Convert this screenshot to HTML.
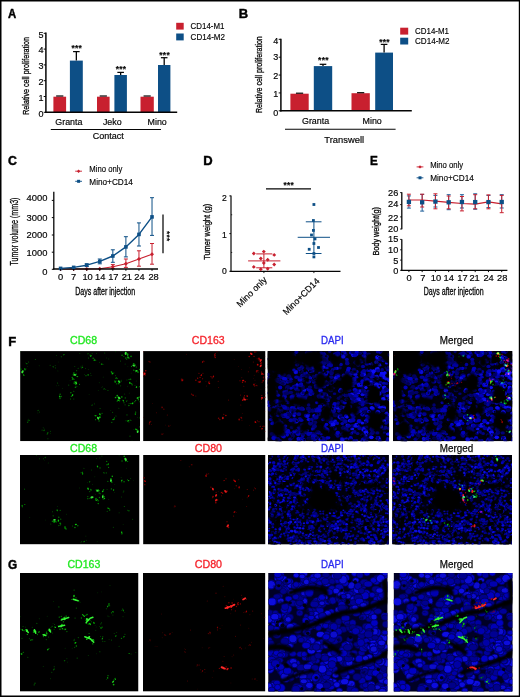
<!DOCTYPE html>
<html lang="en"><head><meta charset="utf-8"><title>Figure</title>
<style>html,body{margin:0;padding:0;background:#fff;overflow:hidden}svg{display:block}text{font-family:'Liberation Sans', Arial, Helvetica, sans-serif}</style></head>
<body>
<svg width="520" height="697" viewBox="0 0 520 697" font-family="'Liberation Sans', Arial, Helvetica, sans-serif" fill="#050505">
<rect width="520" height="697" fill="#fff"/>
<rect x="53.4" y="96.7" width="12.7" height="15.6" fill="#c8202f"/>
<rect x="69.9" y="60.6" width="12.9" height="51.7" fill="#0d4f86"/>
<line x1="56.15" y1="96" x2="63.35" y2="96" stroke="#050505" stroke-width="1.2"/>
<line x1="76.35" y1="60.6" x2="76.35" y2="51.6" stroke="#050505" stroke-width="1.3"/>
<line x1="73.05" y1="51.6" x2="79.65" y2="51.6" stroke="#050505" stroke-width="1.25"/>
<text x="76.8" y="50.8" font-size="8.4" text-anchor="middle" font-weight="bold" stroke="#050505" stroke-width=".18" letter-spacing="0.3">***</text>
<rect x="97" y="96.7" width="12.6" height="15.6" fill="#c8202f"/>
<rect x="114.4" y="75" width="12.5" height="37.3" fill="#0d4f86"/>
<line x1="99.7" y1="96" x2="106.9" y2="96" stroke="#050505" stroke-width="1.2"/>
<line x1="120.65" y1="75" x2="120.65" y2="72.4" stroke="#050505" stroke-width="1.3"/>
<line x1="117.35" y1="72.4" x2="123.95" y2="72.4" stroke="#050505" stroke-width="1.25"/>
<text x="121.1" y="71.8" font-size="8.4" text-anchor="middle" font-weight="bold" stroke="#050505" stroke-width=".18" letter-spacing="0.3">***</text>
<rect x="140.5" y="96.7" width="13.3" height="15.6" fill="#c8202f"/>
<rect x="158" y="65" width="12.4" height="47.3" fill="#0d4f86"/>
<line x1="143.55" y1="96" x2="150.75" y2="96" stroke="#050505" stroke-width="1.2"/>
<line x1="164.2" y1="65" x2="164.2" y2="57.7" stroke="#050505" stroke-width="1.3"/>
<line x1="160.9" y1="57.7" x2="167.5" y2="57.7" stroke="#050505" stroke-width="1.25"/>
<text x="164.65" y="57.8" font-size="8.4" text-anchor="middle" font-weight="bold" stroke="#050505" stroke-width=".18" letter-spacing="0.3">***</text>
<line x1="45.9" y1="32.6" x2="45.9" y2="113" stroke="#050505" stroke-width="1.5"/>
<line x1="45.2" y1="112.3" x2="177.2" y2="112.3" stroke="#050505" stroke-width="1.6"/>
<line x1="43.7" y1="112.3" x2="45.9" y2="112.3" stroke="#050505" stroke-width="1"/>
<text x="43.6" y="117.45" font-size="9" text-anchor="end" stroke="#050505" stroke-width=".18">0</text>
<line x1="43.7" y1="96.5" x2="45.9" y2="96.5" stroke="#050505" stroke-width="1"/>
<text x="43.6" y="101.15" font-size="9" text-anchor="end" stroke="#050505" stroke-width=".18">1</text>
<line x1="43.7" y1="80.7" x2="45.9" y2="80.7" stroke="#050505" stroke-width="1"/>
<text x="43.6" y="84.95" font-size="9" text-anchor="end" stroke="#050505" stroke-width=".18">2</text>
<line x1="43.7" y1="64.9" x2="45.9" y2="64.9" stroke="#050505" stroke-width="1"/>
<text x="43.6" y="68.75" font-size="9" text-anchor="end" stroke="#050505" stroke-width=".18">3</text>
<line x1="43.7" y1="49.1" x2="45.9" y2="49.1" stroke="#050505" stroke-width="1"/>
<text x="43.6" y="52.95" font-size="9" text-anchor="end" stroke="#050505" stroke-width=".18">4</text>
<line x1="43.7" y1="33.3" x2="45.9" y2="33.3" stroke="#050505" stroke-width="1"/>
<text x="43.6" y="38.05" font-size="9" text-anchor="end" stroke="#050505" stroke-width=".18">5</text>
<text x="28.6" y="114.8" font-size="9.5" textLength="77.8" lengthAdjust="spacingAndGlyphs" stroke="#050505" stroke-width=".3" transform="rotate(-90 28.6 114.8)">Relative cell proliferation</text>
<text x="68.9" y="124.5" font-size="8.9" text-anchor="middle" stroke="#050505" stroke-width=".18">Granta</text>
<text x="112.3" y="124.5" font-size="8.9" text-anchor="middle" stroke="#050505" stroke-width=".18">Jeko</text>
<text x="157.2" y="124.5" font-size="8.9" text-anchor="middle" stroke="#050505" stroke-width=".18">Mino</text>
<line x1="50.8" y1="129.5" x2="161" y2="129.5" stroke="#050505" stroke-width="1.1"/>
<text x="108.3" y="139.2" font-size="9" text-anchor="middle" stroke="#050505" stroke-width=".18">Contact</text>
<rect x="176.2" y="22.8" width="7.5" height="6.8" fill="#c8202f"/>
<rect x="176.2" y="33.5" width="7.5" height="6.9" fill="#0d4f86"/>
<text x="190.6" y="29.1" font-size="8.4" textLength="33.8" lengthAdjust="spacingAndGlyphs" stroke="#050505" stroke-width=".15">CD14-M1</text>
<text x="190.6" y="40.3" font-size="8.4" textLength="34.4" lengthAdjust="spacingAndGlyphs" stroke="#050505" stroke-width=".15">CD14-M2</text>
<rect x="290.4" y="93.7" width="18.3" height="17.1" fill="#c8202f"/>
<rect x="313.8" y="66.1" width="18.4" height="44.7" fill="#0d4f86"/>
<line x1="295.95" y1="93.2" x2="303.15" y2="93.2" stroke="#050505" stroke-width="1.2"/>
<line x1="323" y1="66.1" x2="323" y2="64.3" stroke="#050505" stroke-width="1.3"/>
<line x1="319.7" y1="64.3" x2="326.3" y2="64.3" stroke="#050505" stroke-width="1.25"/>
<text x="323.45" y="63.4" font-size="8.4" text-anchor="middle" font-weight="bold" stroke="#050505" stroke-width=".18" letter-spacing="0.3">***</text>
<rect x="351.5" y="93.2" width="18.3" height="17.6" fill="#c8202f"/>
<rect x="375.2" y="52.6" width="17.8" height="58.2" fill="#0d4f86"/>
<line x1="357.05" y1="92.7" x2="364.25" y2="92.7" stroke="#050505" stroke-width="1.2"/>
<line x1="384.1" y1="52.6" x2="384.1" y2="44.4" stroke="#050505" stroke-width="1.3"/>
<line x1="380.8" y1="44.4" x2="387.4" y2="44.4" stroke="#050505" stroke-width="1.25"/>
<text x="384.55" y="45.2" font-size="8.4" text-anchor="middle" font-weight="bold" stroke="#050505" stroke-width=".18" letter-spacing="0.3">***</text>
<line x1="280.9" y1="38.7" x2="280.9" y2="111.5" stroke="#050505" stroke-width="1.5"/>
<line x1="280.2" y1="110.8" x2="411.8" y2="110.8" stroke="#050505" stroke-width="1.5"/>
<line x1="278.7" y1="110.8" x2="280.9" y2="110.8" stroke="#050505" stroke-width="1"/>
<text x="278.2" y="115.75" font-size="9" text-anchor="end" stroke="#050505" stroke-width=".18">0</text>
<line x1="278.7" y1="92.93" x2="280.9" y2="92.93" stroke="#050505" stroke-width="1"/>
<text x="278.2" y="96.85" font-size="9" text-anchor="end" stroke="#050505" stroke-width=".18">1</text>
<line x1="278.7" y1="75.06" x2="280.9" y2="75.06" stroke="#050505" stroke-width="1"/>
<text x="278.2" y="78.85" font-size="9" text-anchor="end" stroke="#050505" stroke-width=".18">2</text>
<line x1="278.7" y1="57.19" x2="280.9" y2="57.19" stroke="#050505" stroke-width="1"/>
<text x="278.2" y="60.25" font-size="9" text-anchor="end" stroke="#050505" stroke-width=".18">3</text>
<line x1="278.7" y1="39.32" x2="280.9" y2="39.32" stroke="#050505" stroke-width="1"/>
<text x="278.2" y="44.05" font-size="9" text-anchor="end" stroke="#050505" stroke-width=".18">4</text>
<text x="262" y="113" font-size="8.5" textLength="76.8" lengthAdjust="spacingAndGlyphs" stroke="#050505" stroke-width=".3" transform="rotate(-90 262 113)">Relative cell proliferation</text>
<text x="315.6" y="124.3" font-size="8.9" text-anchor="middle" stroke="#050505" stroke-width=".18">Granta</text>
<text x="372.2" y="124.3" font-size="8.9" text-anchor="middle" stroke="#050505" stroke-width=".18">Mino</text>
<line x1="285" y1="129.3" x2="395.6" y2="129.3" stroke="#050505" stroke-width="1.1"/>
<text x="344.2" y="142.8" font-size="9.4" text-anchor="middle" stroke="#050505" stroke-width=".18">Transwell</text>
<rect x="400.2" y="27.7" width="8" height="6.9" fill="#c8202f"/>
<rect x="400.2" y="37.7" width="8" height="6.8" fill="#0d4f86"/>
<text x="415" y="33.8" font-size="8.6" textLength="34" lengthAdjust="spacingAndGlyphs" stroke="#050505" stroke-width=".15">CD14-M1</text>
<text x="415" y="44.2" font-size="8.6" textLength="34.6" lengthAdjust="spacingAndGlyphs" stroke="#050505" stroke-width=".15">CD14-M2</text>
<line x1="112.84" y1="264.6" x2="112.84" y2="268.6" stroke="#c8202f" stroke-width="1"/>
<line x1="110.84" y1="264.6" x2="114.84" y2="264.6" stroke="#c8202f" stroke-width="1"/>
<line x1="110.84" y1="268.6" x2="114.84" y2="268.6" stroke="#c8202f" stroke-width="1"/>
<line x1="125.9" y1="259" x2="125.9" y2="267.4" stroke="#c8202f" stroke-width="1"/>
<line x1="123.9" y1="259" x2="127.9" y2="259" stroke="#c8202f" stroke-width="1"/>
<line x1="123.9" y1="267.4" x2="127.9" y2="267.4" stroke="#c8202f" stroke-width="1"/>
<line x1="138.96" y1="250.8" x2="138.96" y2="266.2" stroke="#c8202f" stroke-width="1"/>
<line x1="136.96" y1="250.8" x2="140.96" y2="250.8" stroke="#c8202f" stroke-width="1"/>
<line x1="136.96" y1="266.2" x2="140.96" y2="266.2" stroke="#c8202f" stroke-width="1"/>
<line x1="152.02" y1="243.5" x2="152.02" y2="264.2" stroke="#c8202f" stroke-width="1"/>
<line x1="150.02" y1="243.5" x2="154.02" y2="243.5" stroke="#c8202f" stroke-width="1"/>
<line x1="150.02" y1="264.2" x2="154.02" y2="264.2" stroke="#c8202f" stroke-width="1"/>
<polyline points="60.6,269 73.66,269 86.72,269 99.78,268.8 112.84,266.7 125.9,263.7 138.96,259 152.02,254.2" fill="none" stroke="#c8202f" stroke-width="1.1" stroke-linejoin="round"/>
<path d="M60.6 267L62.6 269L60.6 271L58.6 269Z" fill="#c8202f"/>
<path d="M73.66 267L75.66 269L73.66 271L71.66 269Z" fill="#c8202f"/>
<path d="M86.72 267L88.72 269L86.72 271L84.72 269Z" fill="#c8202f"/>
<path d="M99.78 266.8L101.78 268.8L99.78 270.8L97.78 268.8Z" fill="#c8202f"/>
<path d="M112.84 264.7L114.84 266.7L112.84 268.7L110.84 266.7Z" fill="#c8202f"/>
<path d="M125.9 261.7L127.9 263.7L125.9 265.7L123.9 263.7Z" fill="#c8202f"/>
<path d="M138.96 257L140.96 259L138.96 261L136.96 259Z" fill="#c8202f"/>
<path d="M152.02 252.2L154.02 254.2L152.02 256.2L150.02 254.2Z" fill="#c8202f"/>
<line x1="53.8" y1="191.8" x2="53.8" y2="269.6" stroke="#050505" stroke-width="1.3"/>
<line x1="53.2" y1="269" x2="158" y2="269" stroke="#050505" stroke-width="1.3"/>
<line x1="86.72" y1="263.8" x2="86.72" y2="266.6" stroke="#0d4f86" stroke-width="1"/>
<line x1="84.72" y1="263.8" x2="88.72" y2="263.8" stroke="#0d4f86" stroke-width="1"/>
<line x1="84.72" y1="266.6" x2="88.72" y2="266.6" stroke="#0d4f86" stroke-width="1"/>
<line x1="99.78" y1="259" x2="99.78" y2="263.8" stroke="#0d4f86" stroke-width="1"/>
<line x1="97.78" y1="259" x2="101.78" y2="259" stroke="#0d4f86" stroke-width="1"/>
<line x1="97.78" y1="263.8" x2="101.78" y2="263.8" stroke="#0d4f86" stroke-width="1"/>
<line x1="112.84" y1="249.8" x2="112.84" y2="262.3" stroke="#0d4f86" stroke-width="1"/>
<line x1="110.84" y1="249.8" x2="114.84" y2="249.8" stroke="#0d4f86" stroke-width="1"/>
<line x1="110.84" y1="262.3" x2="114.84" y2="262.3" stroke="#0d4f86" stroke-width="1"/>
<line x1="125.9" y1="236.7" x2="125.9" y2="256.9" stroke="#0d4f86" stroke-width="1"/>
<line x1="123.9" y1="236.7" x2="127.9" y2="236.7" stroke="#0d4f86" stroke-width="1"/>
<line x1="123.9" y1="256.9" x2="127.9" y2="256.9" stroke="#0d4f86" stroke-width="1"/>
<line x1="138.96" y1="222.9" x2="138.96" y2="246" stroke="#0d4f86" stroke-width="1"/>
<line x1="136.96" y1="222.9" x2="140.96" y2="222.9" stroke="#0d4f86" stroke-width="1"/>
<line x1="136.96" y1="246" x2="140.96" y2="246" stroke="#0d4f86" stroke-width="1"/>
<line x1="152.02" y1="197.7" x2="152.02" y2="235.4" stroke="#0d4f86" stroke-width="1"/>
<line x1="150.02" y1="197.7" x2="154.02" y2="197.7" stroke="#0d4f86" stroke-width="1"/>
<line x1="150.02" y1="235.4" x2="154.02" y2="235.4" stroke="#0d4f86" stroke-width="1"/>
<polyline points="60.6,268.4 73.66,267.4 86.72,265.2 99.78,261.4 112.84,256 125.9,246.9 138.96,234.4 152.02,216.9" fill="none" stroke="#0d4f86" stroke-width="1.4" stroke-linejoin="round"/>
<rect x="58.8" y="266.6" width="3.6" height="3.6" fill="#0d4f86"/>
<rect x="71.86" y="265.6" width="3.6" height="3.6" fill="#0d4f86"/>
<rect x="84.92" y="263.4" width="3.6" height="3.6" fill="#0d4f86"/>
<rect x="97.98" y="259.6" width="3.6" height="3.6" fill="#0d4f86"/>
<rect x="111.04" y="254.2" width="3.6" height="3.6" fill="#0d4f86"/>
<rect x="124.1" y="245.1" width="3.6" height="3.6" fill="#0d4f86"/>
<rect x="137.16" y="232.6" width="3.6" height="3.6" fill="#0d4f86"/>
<rect x="150.22" y="215.1" width="3.6" height="3.6" fill="#0d4f86"/>
<line x1="51.8" y1="269.3" x2="53.8" y2="269.3" stroke="#050505" stroke-width="1"/>
<text x="47.4" y="274.5" font-size="9.4" text-anchor="end" stroke="#050505" stroke-width=".18">0</text>
<line x1="51.8" y1="252.2" x2="53.8" y2="252.2" stroke="#050505" stroke-width="1"/>
<text x="47.4" y="256" font-size="9.4" text-anchor="end" stroke="#050505" stroke-width=".18">1000</text>
<line x1="51.8" y1="235" x2="53.8" y2="235" stroke="#050505" stroke-width="1"/>
<text x="47.4" y="238.3" font-size="9.4" text-anchor="end" stroke="#050505" stroke-width=".18">2000</text>
<line x1="51.8" y1="217.6" x2="53.8" y2="217.6" stroke="#050505" stroke-width="1"/>
<text x="47.4" y="221.1" font-size="9.4" text-anchor="end" stroke="#050505" stroke-width=".18">3000</text>
<line x1="51.8" y1="200.4" x2="53.8" y2="200.4" stroke="#050505" stroke-width="1"/>
<text x="47.4" y="201.1" font-size="9.4" text-anchor="end" stroke="#050505" stroke-width=".18">4000</text>
<line x1="60.6" y1="269" x2="60.6" y2="270.8" stroke="#050505" stroke-width="1"/>
<text x="60.7" y="280" font-size="9.3" text-anchor="middle" stroke="#050505" stroke-width=".18">0</text>
<line x1="73.66" y1="269" x2="73.66" y2="270.8" stroke="#050505" stroke-width="1"/>
<text x="73.6" y="280" font-size="9.3" text-anchor="middle" stroke="#050505" stroke-width=".18">7</text>
<line x1="86.72" y1="269" x2="86.72" y2="270.8" stroke="#050505" stroke-width="1"/>
<text x="87.6" y="280" font-size="9.3" text-anchor="middle" stroke="#050505" stroke-width=".18">10</text>
<line x1="99.78" y1="269" x2="99.78" y2="270.8" stroke="#050505" stroke-width="1"/>
<text x="100.2" y="280" font-size="9.3" text-anchor="middle" stroke="#050505" stroke-width=".18">14</text>
<line x1="112.84" y1="269" x2="112.84" y2="270.8" stroke="#050505" stroke-width="1"/>
<text x="113.3" y="280" font-size="9.3" text-anchor="middle" stroke="#050505" stroke-width=".18">17</text>
<line x1="125.9" y1="269" x2="125.9" y2="270.8" stroke="#050505" stroke-width="1"/>
<text x="126.8" y="280" font-size="9.3" text-anchor="middle" stroke="#050505" stroke-width=".18">21</text>
<line x1="138.96" y1="269" x2="138.96" y2="270.8" stroke="#050505" stroke-width="1"/>
<text x="139.5" y="280" font-size="9.3" text-anchor="middle" stroke="#050505" stroke-width=".18">24</text>
<line x1="152.02" y1="269" x2="152.02" y2="270.8" stroke="#050505" stroke-width="1"/>
<text x="153.6" y="280" font-size="9.3" text-anchor="middle" stroke="#050505" stroke-width=".18">28</text>
<text x="18.1" y="265.5" font-size="10.5" textLength="68" lengthAdjust="spacingAndGlyphs" stroke="#050505" stroke-width=".3" transform="rotate(-90 18.1 265.5)">Tumor volume (mm3)</text>
<text x="75.2" y="294.9" font-size="10.8" textLength="60" lengthAdjust="spacingAndGlyphs" stroke="#050505" stroke-width=".3">Days after injection</text>
<line x1="163" y1="214.4" x2="163" y2="253.2" stroke="#222" stroke-width="1.4"/>
<text x="0" y="0" font-size="8.4" text-anchor="middle" font-weight="bold" letter-spacing="0.3" transform="translate(168.6 236.3) rotate(90) translate(0 4.2)">***</text>
<line x1="75.2" y1="171.2" x2="82" y2="171.2" stroke="#c8202f" stroke-width="0.9"/>
<path d="M78.6 169.5L80.3 171.2L78.6 172.9L76.9 171.2Z" fill="#c8202f"/>
<line x1="75.2" y1="181.3" x2="82" y2="181.3" stroke="#0d4f86" stroke-width="0.9"/>
<rect x="77.1" y="179.8" width="3" height="3" fill="#0d4f86"/>
<text x="89.3" y="172.2" font-size="8.6" textLength="33" lengthAdjust="spacingAndGlyphs" stroke="#050505" stroke-width=".15">Mino only</text>
<text x="89.3" y="184.6" font-size="8.6" textLength="43.6" lengthAdjust="spacingAndGlyphs" stroke="#050505" stroke-width=".15">Mino+CD14</text>
<line x1="231" y1="195.6" x2="231" y2="271.9" stroke="#050505" stroke-width="1.2"/>
<line x1="230.4" y1="271.3" x2="340.5" y2="271.3" stroke="#050505" stroke-width="1.2"/>
<line x1="229.3" y1="271.3" x2="231" y2="271.3" stroke="#050505" stroke-width="0.9"/>
<text x="226.8" y="274.2" font-size="8.6" text-anchor="end" stroke="#050505" stroke-width=".18">0</text>
<line x1="229.3" y1="233.6" x2="231" y2="233.6" stroke="#050505" stroke-width="0.9"/>
<text x="226.8" y="237.6" font-size="8.6" text-anchor="end" stroke="#050505" stroke-width=".18">1</text>
<line x1="229.3" y1="195.9" x2="231" y2="195.9" stroke="#050505" stroke-width="0.9"/>
<text x="226.8" y="201" font-size="8.6" text-anchor="end" stroke="#050505" stroke-width=".18">2</text>
<line x1="231" y1="252.45" x2="232.2" y2="252.45" stroke="#050505" stroke-width="0.8"/>
<line x1="231" y1="214.75" x2="232.2" y2="214.75" stroke="#050505" stroke-width="0.8"/>
<line x1="263.9" y1="271.3" x2="263.9" y2="273.1" stroke="#050505" stroke-width="0.9"/>
<line x1="313.9" y1="271.3" x2="313.9" y2="273.1" stroke="#050505" stroke-width="0.9"/>
<text x="209.6" y="259.8" font-size="9.9" textLength="56" lengthAdjust="spacingAndGlyphs" stroke="#050505" stroke-width=".3" transform="rotate(-90 209.6 259.8)">Tumer weight (g)</text>
<line x1="266" y1="188.8" x2="311" y2="188.8" stroke="#050505" stroke-width="1.3"/>
<text x="288.75" y="188.2" font-size="8.2" text-anchor="middle" font-weight="bold" stroke="#050505" stroke-width=".18" letter-spacing="0.3">***</text>
<line x1="248.1" y1="260.9" x2="280.4" y2="260.9" stroke="#c8202f" stroke-width="1"/>
<line x1="263.9" y1="253.9" x2="263.9" y2="267.8" stroke="#c8202f" stroke-width="1"/>
<line x1="256.2" y1="253.9" x2="272.3" y2="253.9" stroke="#c8202f" stroke-width="1"/>
<line x1="256.2" y1="267.8" x2="272.3" y2="267.8" stroke="#c8202f" stroke-width="1"/>
<path d="M253.8 251.55L255.75 253.5L253.8 255.45L251.85 253.5Z" fill="#c8202f"/>
<path d="M263.8 249.65L265.75 251.6L263.8 253.55L261.85 251.6Z" fill="#c8202f"/>
<path d="M274.2 252.95L276.15 254.9L274.2 256.85L272.25 254.9Z" fill="#c8202f"/>
<path d="M260.8 256.55L262.75 258.5L260.8 260.45L258.85 258.5Z" fill="#c8202f"/>
<path d="M267.7 257.75L269.65 259.7L267.7 261.65L265.75 259.7Z" fill="#c8202f"/>
<path d="M274.2 262.55L276.15 264.5L274.2 266.45L272.25 264.5Z" fill="#c8202f"/>
<path d="M253.8 264.95L255.75 266.9L253.8 268.85L251.85 266.9Z" fill="#c8202f"/>
<path d="M260.8 267.25L262.75 269.2L260.8 271.15L258.85 269.2Z" fill="#c8202f"/>
<path d="M267.7 266.75L269.65 268.7L267.7 270.65L265.75 268.7Z" fill="#c8202f"/>
<path d="M263.8 261.05L265.75 263L263.8 264.95L261.85 263Z" fill="#c8202f"/>
<line x1="297.7" y1="237.3" x2="330" y2="237.3" stroke="#0d4f86" stroke-width="1"/>
<line x1="313.9" y1="221.8" x2="313.9" y2="253.5" stroke="#0d4f86" stroke-width="1"/>
<line x1="305.8" y1="221.8" x2="321.5" y2="221.8" stroke="#0d4f86" stroke-width="1"/>
<line x1="305.8" y1="253.5" x2="321.5" y2="253.5" stroke="#0d4f86" stroke-width="1"/>
<rect x="312.5" y="203.1" width="2.8" height="2.8" fill="#0d4f86"/>
<rect x="312" y="219.1" width="2.8" height="2.8" fill="#0d4f86"/>
<rect x="312" y="229" width="2.8" height="2.8" fill="#0d4f86"/>
<rect x="310.1" y="233.6" width="2.8" height="2.8" fill="#0d4f86"/>
<rect x="313.6" y="237.5" width="2.8" height="2.8" fill="#0d4f86"/>
<rect x="312.5" y="242.1" width="2.8" height="2.8" fill="#0d4f86"/>
<rect x="317.1" y="246.1" width="2.8" height="2.8" fill="#0d4f86"/>
<rect x="307.8" y="247.9" width="2.8" height="2.8" fill="#0d4f86"/>
<rect x="312.5" y="252.1" width="2.8" height="2.8" fill="#0d4f86"/>
<rect x="312.5" y="255.5" width="2.8" height="2.8" fill="#0d4f86"/>
<text x="267.4" y="280.4" font-size="9" text-anchor="end" transform="rotate(-45 267.4 280.4)" stroke="#050505" stroke-width=".18">Mino only</text>
<text x="320.2" y="281.6" font-size="9" text-anchor="end" transform="rotate(-45 320.2 281.6)" stroke="#050505" stroke-width=".18">Mino+CD14</text>
<line x1="408.9" y1="195.9" x2="408.9" y2="208.1" stroke="#1f5f99" stroke-width="1"/>
<line x1="406.9" y1="195.9" x2="410.9" y2="195.9" stroke="#1f5f99" stroke-width="1"/>
<line x1="406.9" y1="208.1" x2="410.9" y2="208.1" stroke="#1f5f99" stroke-width="1"/>
<line x1="422.16" y1="194.4" x2="422.16" y2="211.1" stroke="#1f5f99" stroke-width="1"/>
<line x1="420.16" y1="194.4" x2="424.16" y2="194.4" stroke="#1f5f99" stroke-width="1"/>
<line x1="420.16" y1="211.1" x2="424.16" y2="211.1" stroke="#1f5f99" stroke-width="1"/>
<line x1="435.42" y1="195.4" x2="435.42" y2="207" stroke="#1f5f99" stroke-width="1"/>
<line x1="433.42" y1="195.4" x2="437.42" y2="195.4" stroke="#1f5f99" stroke-width="1"/>
<line x1="433.42" y1="207" x2="437.42" y2="207" stroke="#1f5f99" stroke-width="1"/>
<line x1="448.68" y1="194.7" x2="448.68" y2="209.7" stroke="#1f5f99" stroke-width="1"/>
<line x1="446.68" y1="194.7" x2="450.68" y2="194.7" stroke="#1f5f99" stroke-width="1"/>
<line x1="446.68" y1="209.7" x2="450.68" y2="209.7" stroke="#1f5f99" stroke-width="1"/>
<line x1="461.94" y1="194.7" x2="461.94" y2="208" stroke="#1f5f99" stroke-width="1"/>
<line x1="459.94" y1="194.7" x2="463.94" y2="194.7" stroke="#1f5f99" stroke-width="1"/>
<line x1="459.94" y1="208" x2="463.94" y2="208" stroke="#1f5f99" stroke-width="1"/>
<line x1="475.2" y1="193.8" x2="475.2" y2="209.2" stroke="#1f5f99" stroke-width="1"/>
<line x1="473.2" y1="193.8" x2="477.2" y2="193.8" stroke="#1f5f99" stroke-width="1"/>
<line x1="473.2" y1="209.2" x2="477.2" y2="209.2" stroke="#1f5f99" stroke-width="1"/>
<line x1="488.46" y1="195.4" x2="488.46" y2="207.6" stroke="#1f5f99" stroke-width="1"/>
<line x1="486.46" y1="195.4" x2="490.46" y2="195.4" stroke="#1f5f99" stroke-width="1"/>
<line x1="486.46" y1="207.6" x2="490.46" y2="207.6" stroke="#1f5f99" stroke-width="1"/>
<line x1="501.72" y1="194.7" x2="501.72" y2="208" stroke="#1f5f99" stroke-width="1"/>
<line x1="499.72" y1="194.7" x2="503.72" y2="194.7" stroke="#1f5f99" stroke-width="1"/>
<line x1="499.72" y1="208" x2="503.72" y2="208" stroke="#1f5f99" stroke-width="1"/>
<line x1="408.9" y1="194.2" x2="408.9" y2="205.8" stroke="#c8202f" stroke-width="1"/>
<line x1="406.9" y1="194.2" x2="410.9" y2="194.2" stroke="#c8202f" stroke-width="1"/>
<line x1="406.9" y1="205.8" x2="410.9" y2="205.8" stroke="#c8202f" stroke-width="1"/>
<line x1="422.16" y1="194.2" x2="422.16" y2="207" stroke="#c8202f" stroke-width="1"/>
<line x1="420.16" y1="194.2" x2="424.16" y2="194.2" stroke="#c8202f" stroke-width="1"/>
<line x1="420.16" y1="207" x2="424.16" y2="207" stroke="#c8202f" stroke-width="1"/>
<line x1="435.42" y1="193.8" x2="435.42" y2="208.8" stroke="#c8202f" stroke-width="1"/>
<line x1="433.42" y1="193.8" x2="437.42" y2="193.8" stroke="#c8202f" stroke-width="1"/>
<line x1="433.42" y1="208.8" x2="437.42" y2="208.8" stroke="#c8202f" stroke-width="1"/>
<line x1="448.68" y1="196" x2="448.68" y2="208.8" stroke="#c8202f" stroke-width="1"/>
<line x1="446.68" y1="196" x2="450.68" y2="196" stroke="#c8202f" stroke-width="1"/>
<line x1="446.68" y1="208.8" x2="450.68" y2="208.8" stroke="#c8202f" stroke-width="1"/>
<line x1="461.94" y1="196.5" x2="461.94" y2="210.9" stroke="#c8202f" stroke-width="1"/>
<line x1="459.94" y1="196.5" x2="463.94" y2="196.5" stroke="#c8202f" stroke-width="1"/>
<line x1="459.94" y1="210.9" x2="463.94" y2="210.9" stroke="#c8202f" stroke-width="1"/>
<line x1="475.2" y1="194.7" x2="475.2" y2="208.8" stroke="#c8202f" stroke-width="1"/>
<line x1="473.2" y1="194.7" x2="477.2" y2="194.7" stroke="#c8202f" stroke-width="1"/>
<line x1="473.2" y1="208.8" x2="477.2" y2="208.8" stroke="#c8202f" stroke-width="1"/>
<line x1="488.46" y1="194.9" x2="488.46" y2="208.8" stroke="#c8202f" stroke-width="1"/>
<line x1="486.46" y1="194.9" x2="490.46" y2="194.9" stroke="#c8202f" stroke-width="1"/>
<line x1="486.46" y1="208.8" x2="490.46" y2="208.8" stroke="#c8202f" stroke-width="1"/>
<line x1="501.72" y1="195.4" x2="501.72" y2="212.7" stroke="#c8202f" stroke-width="1"/>
<line x1="499.72" y1="195.4" x2="503.72" y2="195.4" stroke="#c8202f" stroke-width="1"/>
<line x1="499.72" y1="212.7" x2="503.72" y2="212.7" stroke="#c8202f" stroke-width="1"/>
<polyline points="408.9,200 422.16,200 435.42,201.2 448.68,202.3 461.94,203.5 475.2,204.2 488.46,201.9 501.72,203.9" fill="none" stroke="#c8202f" stroke-width="1.2" stroke-linejoin="round"/>
<rect x="406.75" y="199.75" width="4.3" height="4.3" fill="#0d4f86"/>
<rect x="420.01" y="200.15" width="4.3" height="4.3" fill="#0d4f86"/>
<rect x="433.27" y="199.45" width="4.3" height="4.3" fill="#0d4f86"/>
<rect x="446.53" y="200.15" width="4.3" height="4.3" fill="#0d4f86"/>
<rect x="459.79" y="199.85" width="4.3" height="4.3" fill="#0d4f86"/>
<rect x="473.05" y="199.95" width="4.3" height="4.3" fill="#0d4f86"/>
<rect x="486.31" y="199.95" width="4.3" height="4.3" fill="#0d4f86"/>
<rect x="499.57" y="199.85" width="4.3" height="4.3" fill="#0d4f86"/>
<line x1="401.8" y1="192.2" x2="401.8" y2="229.2" stroke="#050505" stroke-width="1.3"/>
<line x1="401.8" y1="239.2" x2="401.8" y2="270.9" stroke="#050505" stroke-width="1.3"/>
<line x1="401.2" y1="270.3" x2="507.4" y2="270.3" stroke="#050505" stroke-width="1.3"/>
<line x1="400.1" y1="192.6" x2="401.8" y2="192.6" stroke="#050505" stroke-width="0.9"/>
<line x1="400.1" y1="204.6" x2="401.8" y2="204.6" stroke="#050505" stroke-width="0.9"/>
<line x1="400.1" y1="216.9" x2="401.8" y2="216.9" stroke="#050505" stroke-width="0.9"/>
<line x1="400.1" y1="229" x2="401.8" y2="229" stroke="#050505" stroke-width="0.9"/>
<line x1="400.1" y1="239.4" x2="401.8" y2="239.4" stroke="#050505" stroke-width="0.9"/>
<line x1="400.1" y1="249.8" x2="401.8" y2="249.8" stroke="#050505" stroke-width="0.9"/>
<line x1="400.1" y1="260.1" x2="401.8" y2="260.1" stroke="#050505" stroke-width="0.9"/>
<line x1="400.1" y1="270.3" x2="401.8" y2="270.3" stroke="#050505" stroke-width="0.9"/>
<text x="398.3" y="196.2" font-size="9.2" text-anchor="end" stroke="#050505" stroke-width=".18">26</text>
<text x="398.3" y="206.9" font-size="9.2" text-anchor="end" stroke="#050505" stroke-width=".18">24</text>
<text x="398.3" y="221.3" font-size="9.2" text-anchor="end" stroke="#050505" stroke-width=".18">22</text>
<text x="398.3" y="232.4" font-size="9.2" text-anchor="end" stroke="#050505" stroke-width=".18">20</text>
<text x="398.3" y="241.9" font-size="9.2" text-anchor="end" stroke="#050505" stroke-width=".18">15</text>
<text x="398.3" y="253.3" font-size="9.2" text-anchor="end" stroke="#050505" stroke-width=".18">10</text>
<text x="398.3" y="263.6" font-size="9.2" text-anchor="end" stroke="#050505" stroke-width=".18">5</text>
<text x="398.3" y="273.7" font-size="9.2" text-anchor="end" stroke="#050505" stroke-width=".18">0</text>
<line x1="408.9" y1="270.3" x2="408.9" y2="272.1" stroke="#050505" stroke-width="1"/>
<text x="409.2" y="281.4" font-size="9.3" text-anchor="middle" stroke="#050505" stroke-width=".18">0</text>
<line x1="422.16" y1="270.3" x2="422.16" y2="272.1" stroke="#050505" stroke-width="1"/>
<text x="422.9" y="281.4" font-size="9.3" text-anchor="middle" stroke="#050505" stroke-width=".18">7</text>
<line x1="435.42" y1="270.3" x2="435.42" y2="272.1" stroke="#050505" stroke-width="1"/>
<text x="436" y="281.4" font-size="9.3" text-anchor="middle" stroke="#050505" stroke-width=".18">10</text>
<line x1="448.68" y1="270.3" x2="448.68" y2="272.1" stroke="#050505" stroke-width="1"/>
<text x="448.7" y="281.4" font-size="9.3" text-anchor="middle" stroke="#050505" stroke-width=".18">14</text>
<line x1="461.94" y1="270.3" x2="461.94" y2="272.1" stroke="#050505" stroke-width="1"/>
<text x="462.4" y="281.4" font-size="9.3" text-anchor="middle" stroke="#050505" stroke-width=".18">17</text>
<line x1="475.2" y1="270.3" x2="475.2" y2="272.1" stroke="#050505" stroke-width="1"/>
<text x="474.6" y="281.4" font-size="9.3" text-anchor="middle" stroke="#050505" stroke-width=".18">21</text>
<line x1="488.46" y1="270.3" x2="488.46" y2="272.1" stroke="#050505" stroke-width="1"/>
<text x="488.6" y="281.4" font-size="9.3" text-anchor="middle" stroke="#050505" stroke-width=".18">24</text>
<line x1="501.72" y1="270.3" x2="501.72" y2="272.1" stroke="#050505" stroke-width="1"/>
<text x="502.2" y="281.4" font-size="9.3" text-anchor="middle" stroke="#050505" stroke-width=".18">28</text>
<text x="379.1" y="255.5" font-size="8.7" textLength="48.4" lengthAdjust="spacingAndGlyphs" stroke="#050505" stroke-width=".3" transform="rotate(-90 379.1 255.5)">Body weight(g)</text>
<text x="423.7" y="294.8" font-size="10.8" textLength="60" lengthAdjust="spacingAndGlyphs" stroke="#050505" stroke-width=".3">Days after injection</text>
<line x1="416.6" y1="166.9" x2="423.4" y2="166.9" stroke="#c8202f" stroke-width="0.9"/>
<path d="M420 165.2L421.7 166.9L420 168.6L418.3 166.9Z" fill="#c8202f"/>
<line x1="416.6" y1="177.8" x2="423.4" y2="177.8" stroke="#0d4f86" stroke-width="0.9"/>
<rect x="418.5" y="176.3" width="3" height="3" fill="#0d4f86"/>
<text x="430.2" y="167.8" font-size="8.6" textLength="33" lengthAdjust="spacingAndGlyphs" stroke="#050505" stroke-width=".15">Mino only</text>
<text x="430.2" y="180.6" font-size="8.6" textLength="43.6" lengthAdjust="spacingAndGlyphs" stroke="#050505" stroke-width=".15">Mino+CD14</text>
<defs>
<filter id="bl4" x="-5%" y="-5%" width="110%" height="110%"><feGaussianBlur stdDeviation=".4"/></filter>
<filter id="bl6" x="-5%" y="-5%" width="110%" height="110%"><feGaussianBlur stdDeviation=".6"/></filter>
<filter id="bl8" x="-5%" y="-5%" width="110%" height="110%"><feGaussianBlur stdDeviation=".85"/></filter>
<filter id="bl12" x="-10%" y="-10%" width="120%" height="120%"><feGaussianBlur stdDeviation="1.3"/></filter>
<filter id="bl20" x="-10%" y="-10%" width="120%" height="120%"><feGaussianBlur stdDeviation="2.2"/></filter>
<filter id="tF3" x="0" y="0" width="100%" height="100%" color-interpolation-filters="sRGB"><feTurbulence type="fractalNoise" baseFrequency="0.07" numOctaves="3" seed="7"/><feColorMatrix type="matrix" values="0 0 0 0 0 0 0 0 0 0 0 0 0 0 0 8 0 0 0 -4.5"/></filter>
<filter id="tF7" x="0" y="0" width="100%" height="100%" color-interpolation-filters="sRGB"><feTurbulence type="fractalNoise" baseFrequency="0.15" numOctaves="2" seed="4"/><feColorMatrix type="matrix" values="0 0 0 0 0 0 0 0 0 0 0 0 0 0 0 7 0 0 0 -3.9"/></filter>
<filter id="tG3" x="0" y="0" width="100%" height="100%" color-interpolation-filters="sRGB"><feTurbulence type="fractalNoise" baseFrequency="0.09" numOctaves="2" seed="9"/><feColorMatrix type="matrix" values="0 0 0 0 0 0 0 0 0 0 0 0 0 0 0 7 0 0 0 -4.9"/></filter>
<g id="sF1" filter="url(#bl4)">
<ellipse cx="2.4" cy="20.7" rx="1.64" ry="1.05" fill="#35e635" transform="rotate(115 2.4 20.7)"/>
<circle cx="4.72" cy="17.77" r="0.68" fill="#0ab70a"/>
<circle cx="3.8" cy="24.24" r="0.69" fill="#08a408"/>
<circle cx="3.45" cy="23.18" r="0.56" fill="#089e08"/>
<circle cx="4.93" cy="18.62" r="0.74" fill="#079307"/>
<circle cx="0.49" cy="18.07" r="0.83" fill="#057905"/>
<ellipse cx="6.72" cy="12.6" rx="0.82" ry="0.52" fill="#078e07" transform="rotate(9 6.72 12.6)"/>
<circle cx="8.49" cy="10.93" r="0.53" fill="#036203"/>
<circle cx="5.48" cy="11.81" r="0.39" fill="#036103"/>
<ellipse cx="54.6" cy="23.76" rx="1.54" ry="0.98" fill="#35e635" transform="rotate(1 54.6 23.76)"/>
<circle cx="57.48" cy="25.46" r="0.66" fill="#089f08"/>
<circle cx="56.02" cy="23.11" r="0.6" fill="#09af09"/>
<circle cx="53.21" cy="23.65" r="0.73" fill="#057c05"/>
<circle cx="56.32" cy="25.14" r="0.53" fill="#057505"/>
<circle cx="53.82" cy="21.96" r="0.87" fill="#057805"/>
<circle cx="52.11" cy="26.24" r="0.67" fill="#08a008"/>
<ellipse cx="55.92" cy="31.86" rx="1.43" ry="0.92" fill="#20d420" transform="rotate(50 55.92 31.86)"/>
<circle cx="55.73" cy="33.42" r="0.63" fill="#09b209"/>
<circle cx="56" cy="30.19" r="0.6" fill="#047504"/>
<circle cx="59.44" cy="33.25" r="0.57" fill="#079507"/>
<circle cx="54.13" cy="32.47" r="0.79" fill="#057705"/>
<circle cx="54.89" cy="30.55" r="0.67" fill="#057d05"/>
<circle cx="55.38" cy="36.16" r="0.82" fill="#068306"/>
<ellipse cx="52.8" cy="27.9" rx="1.02" ry="0.66" fill="#09b109" transform="rotate(5 52.8 27.9)"/>
<circle cx="54.1" cy="31.03" r="0.61" fill="#058105"/>
<circle cx="54.1" cy="28.25" r="0.55" fill="#036203"/>
<ellipse cx="70.8" cy="4.86" rx="1.02" ry="0.66" fill="#0bc30b" transform="rotate(156 70.8 4.86)"/>
<circle cx="72.01" cy="2.67" r="0.43" fill="#047504"/>
<circle cx="69.92" cy="3.84" r="0.53" fill="#078f07"/>
<circle cx="72.98" cy="7.11" r="0.68" fill="#047004"/>
<circle cx="68.34" cy="7" r="0.51" fill="#057605"/>
<circle cx="68.06" cy="2.58" r="0.46" fill="#078f07"/>
<ellipse cx="74.4" cy="9" rx="1.02" ry="0.66" fill="#09b109" transform="rotate(141 74.4 9)"/>
<circle cx="73.65" cy="7.22" r="0.57" fill="#036603"/>
<circle cx="75.61" cy="9.37" r="0.58" fill="#046f04"/>
<ellipse cx="105.6" cy="2.16" rx="1.64" ry="1.05" fill="#35e635" transform="rotate(100 105.6 2.16)"/>
<circle cx="101.98" cy="4.13" r="0.7" fill="#089d08"/>
<circle cx="107.56" cy="4.15" r="0.76" fill="#08a408"/>
<circle cx="107.35" cy="3.04" r="0.87" fill="#09af09"/>
<circle cx="107.94" cy="3.25" r="0.6" fill="#057705"/>
<ellipse cx="108" cy="6.3" rx="1.23" ry="0.79" fill="#0bc30b" transform="rotate(72 108 6.3)"/>
<circle cx="103.75" cy="5.46" r="0.53" fill="#047004"/>
<circle cx="105.78" cy="7.02" r="0.78" fill="#068806"/>
<circle cx="110.97" cy="5.27" r="0.86" fill="#068506"/>
<circle cx="106.58" cy="8.07" r="0.51" fill="#068d06"/>
<circle cx="109.35" cy="6.98" r="0.61" fill="#047004"/>
<ellipse cx="113.76" cy="14.4" rx="1.54" ry="0.98" fill="#35e635" transform="rotate(18 113.76 14.4)"/>
<circle cx="111.42" cy="15.11" r="0.52" fill="#0abd0a"/>
<circle cx="113.62" cy="12.7" r="0.89" fill="#078f07"/>
<circle cx="116.15" cy="15.81" r="0.53" fill="#0ab70a"/>
<circle cx="115.07" cy="13.92" r="0.7" fill="#047504"/>
<ellipse cx="116.4" cy="19.8" rx="1.23" ry="0.79" fill="#20d420" transform="rotate(169 116.4 19.8)"/>
<circle cx="115.43" cy="20.72" r="0.52" fill="#047404"/>
<circle cx="117.97" cy="21.2" r="0.66" fill="#068506"/>
<circle cx="119.57" cy="18.41" r="0.67" fill="#078e07"/>
<circle cx="113.58" cy="19.05" r="0.69" fill="#068406"/>
<circle cx="117.57" cy="20.52" r="0.87" fill="#057605"/>
<ellipse cx="92.4" cy="22.5" rx="1.13" ry="0.72" fill="#09b109" transform="rotate(157 92.4 22.5)"/>
<circle cx="93.82" cy="21.73" r="0.46" fill="#047204"/>
<circle cx="91.75" cy="21.16" r="0.51" fill="#079307"/>
<circle cx="91.3" cy="20.76" r="0.77" fill="#047304"/>
<circle cx="91.66" cy="21.23" r="0.61" fill="#068e06"/>
<ellipse cx="99" cy="30.6" rx="1.54" ry="0.98" fill="#20d420" transform="rotate(51 99 30.6)"/>
<circle cx="96.67" cy="32.67" r="0.63" fill="#057705"/>
<circle cx="95.09" cy="30.69" r="0.84" fill="#08a008"/>
<circle cx="101.06" cy="29.93" r="0.57" fill="#068e06"/>
<circle cx="98.69" cy="32.54" r="0.67" fill="#079a07"/>
<ellipse cx="96" cy="27" rx="0.92" ry="0.59" fill="#08a008" transform="rotate(126 96 27)"/>
<circle cx="94.8" cy="29.76" r="0.66" fill="#047104"/>
<circle cx="96.96" cy="27.49" r="0.63" fill="#035d03"/>
<circle cx="95.39" cy="24.71" r="0.46" fill="#058105"/>
<circle cx="97.32" cy="27.16" r="0.5" fill="#035c03"/>
<ellipse cx="109.8" cy="31.86" rx="1.13" ry="0.72" fill="#0bc30b" transform="rotate(68 109.8 31.86)"/>
<circle cx="110.49" cy="28.14" r="0.81" fill="#046f04"/>
<circle cx="112.1" cy="33.74" r="0.68" fill="#057f05"/>
<circle cx="111.49" cy="32.76" r="0.75" fill="#057805"/>
<circle cx="108.98" cy="28.3" r="0.64" fill="#046a04"/>
<ellipse cx="39.6" cy="45.45" rx="1.02" ry="0.66" fill="#09b109" transform="rotate(57 39.6 45.45)"/>
<circle cx="40.01" cy="43.19" r="0.72" fill="#057d05"/>
<circle cx="40.98" cy="45.42" r="0.69" fill="#068806"/>
<circle cx="39.92" cy="47.41" r="0.7" fill="#057705"/>
<ellipse cx="52.44" cy="44.1" rx="1.13" ry="0.72" fill="#0bc30b" transform="rotate(115 52.44 44.1)"/>
<circle cx="53.77" cy="47.94" r="0.45" fill="#068a06"/>
<circle cx="50.79" cy="41.75" r="0.75" fill="#057d05"/>
<circle cx="50.42" cy="47.97" r="0.49" fill="#089e08"/>
<circle cx="53.69" cy="40.11" r="0.5" fill="#057705"/>
<circle cx="51.23" cy="45.1" r="0.56" fill="#08a508"/>
<ellipse cx="68.04" cy="23.76" rx="0.92" ry="0.59" fill="#08a008" transform="rotate(82 68.04 23.76)"/>
<circle cx="70.62" cy="22.12" r="0.47" fill="#035f03"/>
<circle cx="65.88" cy="24.6" r="0.6" fill="#047204"/>
<circle cx="70.94" cy="24.28" r="0.39" fill="#058105"/>
<ellipse cx="99" cy="46.8" rx="1.64" ry="1.05" fill="#35e635" transform="rotate(44 99 46.8)"/>
<circle cx="97.09" cy="50.03" r="0.56" fill="#057f05"/>
<circle cx="95.46" cy="46.43" r="0.84" fill="#09aa09"/>
<circle cx="101.67" cy="45.85" r="0.88" fill="#057b05"/>
<circle cx="99.53" cy="49.7" r="0.62" fill="#09ad09"/>
<circle cx="97.12" cy="44.56" r="0.84" fill="#08a008"/>
<circle cx="98.06" cy="49.1" r="0.84" fill="#0abb0a"/>
<ellipse cx="103.2" cy="49.5" rx="1.02" ry="0.66" fill="#09b109" transform="rotate(53 103.2 49.5)"/>
<circle cx="105.17" cy="46.82" r="0.58" fill="#058105"/>
<circle cx="103.89" cy="51.68" r="0.58" fill="#068306"/>
<circle cx="106.48" cy="50.08" r="0.58" fill="#057705"/>
<ellipse cx="112.44" cy="52.2" rx="1.13" ry="0.72" fill="#0bc30b" transform="rotate(144 112.44 52.2)"/>
<circle cx="108.99" cy="52.39" r="0.47" fill="#068906"/>
<circle cx="108.77" cy="54.41" r="0.78" fill="#057805"/>
<circle cx="110.77" cy="52.48" r="0.61" fill="#089b08"/>
<circle cx="114.7" cy="50.57" r="0.57" fill="#047404"/>
<ellipse cx="117.6" cy="46.8" rx="1.23" ry="0.79" fill="#20d420" transform="rotate(158 117.6 46.8)"/>
<circle cx="119.12" cy="46.03" r="0.8" fill="#046f04"/>
<circle cx="118.29" cy="48.69" r="0.76" fill="#068406"/>
<circle cx="115.61" cy="49.35" r="0.53" fill="#08a108"/>
<ellipse cx="78" cy="67.05" rx="1.54" ry="0.98" fill="#35e635" transform="rotate(64 78 67.05)"/>
<circle cx="78.95" cy="69.85" r="0.67" fill="#079107"/>
<circle cx="75.47" cy="68.58" r="0.56" fill="#068406"/>
<circle cx="75.77" cy="64.63" r="0.71" fill="#0ab70a"/>
<circle cx="74.97" cy="64.49" r="0.59" fill="#09ae09"/>
<circle cx="79.53" cy="63.23" r="0.63" fill="#068d06"/>
<circle cx="79.75" cy="66.13" r="0.9" fill="#0aba0a"/>
<ellipse cx="79.8" cy="63" rx="1.02" ry="0.66" fill="#09b109" transform="rotate(34 79.8 63)"/>
<circle cx="80.62" cy="63.9" r="0.54" fill="#057905"/>
<circle cx="81.95" cy="62.17" r="0.64" fill="#046c04"/>
<ellipse cx="93.6" cy="68.4" rx="0.92" ry="0.59" fill="#08a008" transform="rotate(160 93.6 68.4)"/>
<circle cx="93.97" cy="67.23" r="0.54" fill="#046c04"/>
<circle cx="94.41" cy="66.72" r="0.58" fill="#057905"/>
<circle cx="91.72" cy="71.23" r="0.61" fill="#058105"/>
<circle cx="92.55" cy="68.52" r="0.59" fill="#057805"/>
<ellipse cx="108" cy="69.75" rx="1.02" ry="0.66" fill="#09b109" transform="rotate(145 108 69.75)"/>
<circle cx="108.87" cy="70.9" r="0.48" fill="#079007"/>
<circle cx="111.22" cy="69.55" r="0.44" fill="#036503"/>
<circle cx="110.01" cy="69.12" r="0.66" fill="#047304"/>
<ellipse cx="24" cy="79.2" rx="0.92" ry="0.59" fill="#047404" transform="rotate(119 24 79.2)"/>
<circle cx="21.98" cy="79.01" r="0.55" fill="#014c01"/>
<circle cx="23.08" cy="76.32" r="0.42" fill="#025802"/>
<circle cx="23.87" cy="77.23" r="0.43" fill="#025002"/>
<ellipse cx="27.6" cy="81.9" rx="0.92" ry="0.59" fill="#047404" transform="rotate(131 27.6 81.9)"/>
<circle cx="27.06" cy="82.98" r="0.62" fill="#036403"/>
<circle cx="30.33" cy="80.13" r="0.54" fill="#025102"/>
<ellipse cx="7.56" cy="71.1" rx="0.82" ry="0.52" fill="#046b04" transform="rotate(149 7.56 71.1)"/>
<circle cx="8.11" cy="69.58" r="0.57" fill="#025a02"/>
<circle cx="8.08" cy="68.19" r="0.43" fill="#035e03"/>
<circle cx="9.5" cy="69.27" r="0.53" fill="#025b02"/>
<ellipse cx="117.6" cy="80.55" rx="1.43" ry="0.92" fill="#35e635" transform="rotate(103 117.6 80.55)"/>
<circle cx="117.34" cy="79.05" r="0.64" fill="#079907"/>
<circle cx="115.51" cy="78.07" r="0.59" fill="#0abe0a"/>
<circle cx="116.42" cy="78.52" r="0.76" fill="#08a108"/>
<ellipse cx="43.8" cy="3.6" rx="0.82" ry="0.52" fill="#078e07" transform="rotate(136 43.8 3.6)"/>
<circle cx="41.19" cy="5.77" r="0.5" fill="#047104"/>
<ellipse cx="81.6" cy="12.96" rx="0.92" ry="0.59" fill="#08a008" transform="rotate(5 81.6 12.96)"/>
<circle cx="79.52" cy="11.12" r="0.44" fill="#046e04"/>
<circle cx="83" cy="13.42" r="0.48" fill="#036003"/>
<ellipse cx="33.12" cy="15.66" rx="0.82" ry="0.52" fill="#046b04" transform="rotate(64 33.12 15.66)"/>
<circle cx="35.04" cy="14.36" r="0.46" fill="#036003"/>
<circle cx="30.04" cy="14.26" r="0.5" fill="#035c03"/>
<circle cx="35.28" cy="16.78" r="0.53" fill="#014a01"/>
<ellipse cx="62.4" cy="16.2" rx="0.82" ry="0.52" fill="#078e07" transform="rotate(40 62.4 16.2)"/>
<circle cx="61.02" cy="16.45" r="0.46" fill="#046d04"/>
<circle cx="65.45" cy="17.38" r="0.44" fill="#046a04"/>
<circle cx="60.87" cy="15.12" r="0.4" fill="#046f04"/>
<ellipse cx="84" cy="37.8" rx="0.82" ry="0.52" fill="#057d05" transform="rotate(143 84 37.8)"/>
<circle cx="82.56" cy="35.41" r="0.34" fill="#036703"/>
<circle cx="81.84" cy="36.51" r="0.44" fill="#036503"/>
<circle cx="85.66" cy="38.37" r="0.43" fill="#036103"/>
<ellipse cx="115.2" cy="63" rx="0.92" ry="0.59" fill="#08a008" transform="rotate(81 115.2 63)"/>
<circle cx="115.65" cy="61.53" r="0.58" fill="#036703"/>
<circle cx="115.24" cy="61.89" r="0.4" fill="#068206"/>
<ellipse cx="116.4" cy="36" rx="1.02" ry="0.66" fill="#09b109" transform="rotate(119 116.4 36)"/>
<circle cx="119.33" cy="35.61" r="0.61" fill="#036803"/>
<circle cx="114.91" cy="34.53" r="0.48" fill="#036403"/>
<ellipse cx="18" cy="59.4" rx="0.82" ry="0.52" fill="#036203" transform="rotate(135 18 59.4)"/>
<circle cx="19.46" cy="60.85" r="0.5" fill="#014f01"/>
<circle cx="17.82" cy="61.79" r="0.44" fill="#025502"/>
<ellipse cx="72" cy="54" rx="0.82" ry="0.52" fill="#046b04" transform="rotate(135 72 54)"/>
<circle cx="74.64" cy="53.19" r="0.39" fill="#014c01"/>
<circle cx="74.25" cy="52.2" r="0.49" fill="#025102"/>
<circle cx="54.65" cy="15.47" r="0.52" fill="#014801"/>
<circle cx="68.19" cy="18.51" r="0.41" fill="#046a04"/>
<circle cx="101.22" cy="29.01" r="0.37" fill="#014b01"/>
<circle cx="30.57" cy="82.28" r="0.41" fill="#014b01"/>
<circle cx="76.26" cy="2.36" r="0.41" fill="#046a04"/>
<circle cx="36.44" cy="4.35" r="0.44" fill="#036003"/>
<circle cx="56.59" cy="19.55" r="0.56" fill="#036403"/>
<circle cx="79.17" cy="31.6" r="0.45" fill="#014601"/>
<circle cx="95.27" cy="0.6" r="0.43" fill="#025702"/>
<circle cx="83.08" cy="25.91" r="0.37" fill="#036603"/>
<circle cx="59.74" cy="2.53" r="0.49" fill="#036303"/>
<circle cx="111.96" cy="89.4" r="0.37" fill="#014901"/>
<circle cx="80.01" cy="57.39" r="0.53" fill="#035e03"/>
<circle cx="104.59" cy="42.95" r="0.51" fill="#014e01"/>
<circle cx="100.48" cy="10.01" r="0.5" fill="#036703"/>
<circle cx="50.03" cy="29.31" r="0.43" fill="#014d01"/>
<circle cx="119.4" cy="67.11" r="0.48" fill="#004300"/>
<circle cx="95.85" cy="64.84" r="0.5" fill="#036203"/>
<circle cx="109.13" cy="41.93" r="0.39" fill="#025902"/>
<circle cx="100.51" cy="34.74" r="0.57" fill="#014c01"/>
<circle cx="7.39" cy="15.35" r="0.39" fill="#014c01"/>
<circle cx="0.6" cy="0.7" r="0.37" fill="#025702"/>
<circle cx="87.85" cy="39.48" r="0.53" fill="#036703"/>
<circle cx="86.32" cy="6.78" r="0.37" fill="#036303"/>
<circle cx="27.82" cy="87.61" r="0.54" fill="#025602"/>
<circle cx="109.88" cy="85.08" r="0.59" fill="#035d03"/>
<circle cx="62.13" cy="14.06" r="0.37" fill="#025a02"/>
<circle cx="37.5" cy="31.83" r="0.52" fill="#036503"/>
<circle cx="104.98" cy="53.73" r="0.59" fill="#025b02"/>
<circle cx="61.4" cy="17.08" r="0.38" fill="#036803"/>
<circle cx="113.93" cy="19.22" r="0.51" fill="#035d03"/>
<circle cx="115.65" cy="60.37" r="0.42" fill="#046a04"/>
<circle cx="38.7" cy="34.2" r="0.43" fill="#014601"/>
<circle cx="107.78" cy="15.4" r="0.35" fill="#025402"/>
<circle cx="51.86" cy="28.73" r="0.44" fill="#025902"/>
<circle cx="69.03" cy="43.34" r="0.41" fill="#014701"/>
<circle cx="48.62" cy="34" r="0.58" fill="#025b02"/>
<circle cx="106.88" cy="63.81" r="0.57" fill="#036703"/>
<circle cx="107.68" cy="35.03" r="0.37" fill="#036503"/>
<circle cx="119.4" cy="75.79" r="0.55" fill="#025002"/>
<circle cx="67.57" cy="2.77" r="0.55" fill="#004200"/>
<circle cx="56.73" cy="35.12" r="0.58" fill="#025302"/>
<circle cx="36.23" cy="34.69" r="0.39" fill="#014601"/>
<circle cx="119.4" cy="66.17" r="0.55" fill="#014501"/>
<circle cx="64.5" cy="23.49" r="0.49" fill="#014701"/>
<circle cx="105.07" cy="12.88" r="0.56" fill="#004300"/>
<circle cx="58.11" cy="17.2" r="0.57" fill="#035e03"/>
<circle cx="84.6" cy="1.89" r="0.56" fill="#014d01"/>
<circle cx="78.12" cy="39.6" r="0.37" fill="#036303"/>
<circle cx="106.85" cy="28.94" r="0.47" fill="#046904"/>
<circle cx="98.76" cy="57.06" r="0.49" fill="#046b04"/>
<circle cx="42.33" cy="37.43" r="0.38" fill="#025002"/>
<circle cx="117.2" cy="66.36" r="0.38" fill="#025302"/>
<circle cx="90.68" cy="59.47" r="0.42" fill="#014401"/>
<circle cx="15.28" cy="8.42" r="0.53" fill="#036703"/>
<circle cx="111.13" cy="22.01" r="0.48" fill="#014c01"/>
<circle cx="118.03" cy="36.49" r="0.37" fill="#014801"/>
<circle cx="92.48" cy="61.21" r="0.59" fill="#025802"/>
<circle cx="107.58" cy="49.41" r="0.38" fill="#025a02"/>
<circle cx="100.56" cy="0.6" r="0.39" fill="#025102"/>
<circle cx="113.68" cy="78.61" r="0.41" fill="#014601"/>
<circle cx="88.63" cy="7.78" r="0.44" fill="#036303"/>
<circle cx="37.82" cy="19.87" r="0.39" fill="#035d03"/>
<circle cx="38.35" cy="10.88" r="0.35" fill="#025102"/>
<circle cx="119.4" cy="50.58" r="0.52" fill="#025a02"/>
<circle cx="6.25" cy="17.83" r="0.43" fill="#025302"/>
<circle cx="105.94" cy="69.72" r="0.55" fill="#036303"/>
<circle cx="116.07" cy="29.87" r="0.42" fill="#014901"/>
<circle cx="19.06" cy="14.77" r="0.4" fill="#036803"/>
<circle cx="96.71" cy="29.83" r="0.51" fill="#036103"/>
</g>
<g id="sF2" filter="url(#bl4)">
<ellipse cx="1.35" cy="22.77" rx="1.54" ry="0.98" fill="#e61a1a" transform="rotate(121 1.35 22.77)"/>
<circle cx="2.18" cy="23.81" r="0.65" fill="#890303"/>
<circle cx="2.63" cy="19.56" r="0.74" fill="#a00404"/>
<circle cx="0.42" cy="21.28" r="0.68" fill="#810202"/>
<ellipse cx="6.74" cy="10.8" rx="0.82" ry="0.52" fill="#8e0303" transform="rotate(53 6.74 10.8)"/>
<circle cx="5.42" cy="10.12" r="0.46" fill="#750202"/>
<ellipse cx="39.2" cy="29.43" rx="1.02" ry="0.66" fill="#a00404" transform="rotate(174 39.2 29.43)"/>
<circle cx="39.56" cy="28.27" r="0.71" fill="#820303"/>
<circle cx="38.39" cy="28.12" r="0.73" fill="#6f0202"/>
<ellipse cx="56.84" cy="30.78" rx="1.13" ry="0.72" fill="#c30505" transform="rotate(113 56.84 30.78)"/>
<circle cx="54.54" cy="27.11" r="0.65" fill="#9f0404"/>
<circle cx="52.78" cy="29.23" r="0.77" fill="#8a0303"/>
<circle cx="55.28" cy="30.71" r="0.67" fill="#920303"/>
<ellipse cx="58.19" cy="24.12" rx="1.02" ry="0.66" fill="#c30505" transform="rotate(120 58.19 24.12)"/>
<circle cx="55.88" cy="22.23" r="0.62" fill="#6d0202"/>
<circle cx="59.53" cy="27.63" r="0.5" fill="#a30404"/>
<circle cx="59.86" cy="22.25" r="0.51" fill="#770202"/>
<circle cx="56.93" cy="26.23" r="0.6" fill="#980303"/>
<ellipse cx="66.15" cy="32.13" rx="1.13" ry="0.72" fill="#c30505" transform="rotate(45 66.15 32.13)"/>
<circle cx="63.23" cy="34.84" r="0.46" fill="#690202"/>
<circle cx="65.5" cy="30.85" r="0.52" fill="#8e0303"/>
<circle cx="66.19" cy="30.14" r="0.48" fill="#790202"/>
<ellipse cx="70.31" cy="25.47" rx="1.02" ry="0.66" fill="#b10404" transform="rotate(110 70.31 25.47)"/>
<circle cx="67.87" cy="25.5" r="0.65" fill="#7e0202"/>
<circle cx="69.09" cy="26.81" r="0.56" fill="#880303"/>
<ellipse cx="59.53" cy="10.8" rx="0.92" ry="0.59" fill="#a00404" transform="rotate(123 59.53 10.8)"/>
<circle cx="60.88" cy="10.42" r="0.64" fill="#6c0202"/>
<ellipse cx="71.66" cy="4.05" rx="1.02" ry="0.66" fill="#b10404" transform="rotate(48 71.66 4.05)"/>
<circle cx="72.12" cy="6.46" r="0.72" fill="#940303"/>
<circle cx="72.12" cy="2.69" r="0.67" fill="#7d0202"/>
<circle cx="71.68" cy="5.33" r="0.53" fill="#800202"/>
<ellipse cx="108.17" cy="2.7" rx="1.43" ry="0.92" fill="#e61a1a" transform="rotate(39 108.17 2.7)"/>
<circle cx="111.81" cy="0.92" r="0.77" fill="#8a0303"/>
<circle cx="110.93" cy="5.23" r="0.7" fill="#9a0303"/>
<circle cx="106.08" cy="5.43" r="0.68" fill="#ae0404"/>
<ellipse cx="117.6" cy="9.36" rx="1.54" ry="0.98" fill="#e61a1a" transform="rotate(114 117.6 9.36)"/>
<circle cx="116.53" cy="8.39" r="0.63" fill="#b80505"/>
<circle cx="115.89" cy="7.29" r="0.82" fill="#ae0404"/>
<circle cx="116.22" cy="9.18" r="0.5" fill="#760202"/>
<circle cx="115.61" cy="8.6" r="0.56" fill="#840303"/>
<ellipse cx="117.6" cy="14.76" rx="1.43" ry="0.92" fill="#e61a1a" transform="rotate(120 117.6 14.76)"/>
<circle cx="114.58" cy="13.57" r="0.87" fill="#c00505"/>
<circle cx="117.77" cy="12.16" r="0.74" fill="#bb0505"/>
<circle cx="118.36" cy="11.74" r="0.64" fill="#910303"/>
<ellipse cx="118.95" cy="22.77" rx="1.23" ry="0.79" fill="#d41010" transform="rotate(98 118.95 22.77)"/>
<circle cx="120.78" cy="25.69" r="0.55" fill="#700202"/>
<circle cx="120.43" cy="23.13" r="0.66" fill="#7c0202"/>
<circle cx="118.48" cy="20.94" r="0.6" fill="#a60404"/>
<ellipse cx="100.08" cy="29.43" rx="1.13" ry="0.72" fill="#c30505" transform="rotate(175 100.08 29.43)"/>
<circle cx="96.88" cy="29.6" r="0.53" fill="#8d0303"/>
<circle cx="98.74" cy="26.62" r="0.48" fill="#7e0202"/>
<circle cx="102.11" cy="30.59" r="0.7" fill="#950303"/>
<circle cx="99.39" cy="31.16" r="0.7" fill="#900303"/>
<ellipse cx="110.86" cy="33.48" rx="1.02" ry="0.66" fill="#b10404" transform="rotate(111 110.86 33.48)"/>
<circle cx="111.54" cy="34.82" r="0.61" fill="#7c0202"/>
<circle cx="113.14" cy="34.33" r="0.56" fill="#920303"/>
<ellipse cx="101.43" cy="48.24" rx="1.54" ry="0.98" fill="#e61a1a" transform="rotate(24 101.43 48.24)"/>
<circle cx="103.85" cy="48.36" r="0.61" fill="#840303"/>
<circle cx="99.62" cy="49.06" r="0.87" fill="#9b0404"/>
<circle cx="100.85" cy="46.53" r="0.69" fill="#a40404"/>
<ellipse cx="104.12" cy="45" rx="1.02" ry="0.66" fill="#b10404" transform="rotate(63 104.12 45)"/>
<circle cx="101.17" cy="45.77" r="0.68" fill="#6e0202"/>
<circle cx="101.38" cy="44.33" r="0.54" fill="#860303"/>
<ellipse cx="118.95" cy="46.8" rx="1.23" ry="0.79" fill="#d41010" transform="rotate(169 118.95 46.8)"/>
<circle cx="121.93" cy="46.28" r="0.76" fill="#860303"/>
<circle cx="118.69" cy="44.51" r="0.69" fill="#870303"/>
<circle cx="118.34" cy="48.41" r="0.58" fill="#940303"/>
<ellipse cx="49.98" cy="44.1" rx="0.92" ry="0.59" fill="#a00404" transform="rotate(64 49.98 44.1)"/>
<circle cx="52.79" cy="44.93" r="0.45" fill="#870303"/>
<circle cx="48.41" cy="42.98" r="0.63" fill="#860303"/>
<ellipse cx="18.99" cy="56.25" rx="0.92" ry="0.59" fill="#8e0303" transform="rotate(82 18.99 56.25)"/>
<circle cx="20.77" cy="58.05" r="0.62" fill="#6d0202"/>
<ellipse cx="79.75" cy="66.96" rx="1.23" ry="0.79" fill="#d41010" transform="rotate(96 79.75 66.96)"/>
<circle cx="76.77" cy="68.5" r="0.63" fill="#a40404"/>
<circle cx="75.52" cy="67.16" r="0.81" fill="#7b0202"/>
<circle cx="80.69" cy="63.17" r="0.54" fill="#810202"/>
<circle cx="82.8" cy="64.36" r="0.75" fill="#a20404"/>
<ellipse cx="96.04" cy="68.4" rx="1.02" ry="0.66" fill="#b10404" transform="rotate(91 96.04 68.4)"/>
<circle cx="98.49" cy="66.95" r="0.69" fill="#730202"/>
<circle cx="97.99" cy="66.39" r="0.69" fill="#800202"/>
<circle cx="98.88" cy="69.18" r="0.47" fill="#6c0202"/>
<ellipse cx="112.21" cy="71.01" rx="1.02" ry="0.66" fill="#c30505" transform="rotate(75 112.21 71.01)"/>
<circle cx="115.9" cy="70.58" r="0.59" fill="#690202"/>
<circle cx="114.27" cy="69.71" r="0.57" fill="#740202"/>
<circle cx="113.29" cy="71.77" r="0.45" fill="#800202"/>
<ellipse cx="6.74" cy="71.01" rx="0.92" ry="0.59" fill="#a00404" transform="rotate(124 6.74 71.01)"/>
<circle cx="6.24" cy="72.8" r="0.62" fill="#840303"/>
<circle cx="7.57" cy="70.34" r="0.62" fill="#5c0101"/>
<circle cx="8.32" cy="73.34" r="0.48" fill="#600101"/>
<ellipse cx="25.72" cy="74.97" rx="0.82" ry="0.52" fill="#740202" transform="rotate(174 25.72 74.97)"/>
<circle cx="22.57" cy="73.97" r="0.43" fill="#4e0000"/>
<circle cx="27.32" cy="74.05" r="0.39" fill="#580101"/>
<ellipse cx="18.99" cy="83.07" rx="0.82" ry="0.52" fill="#740202" transform="rotate(14 18.99 83.07)"/>
<circle cx="19.97" cy="82.63" r="0.51" fill="#5c0101"/>
<ellipse cx="118.95" cy="77.67" rx="1.02" ry="0.66" fill="#b10404" transform="rotate(166 118.95 77.67)"/>
<circle cx="120.84" cy="74.91" r="0.6" fill="#820303"/>
<circle cx="119.77" cy="75.3" r="0.56" fill="#740202"/>
<circle cx="117.19" cy="75.25" r="0.67" fill="#770202"/>
<ellipse cx="113.93" cy="19.8" rx="1.02" ry="0.66" fill="#b10404" transform="rotate(167 113.93 19.8)"/>
<circle cx="113.33" cy="20.77" r="0.67" fill="#870303"/>
<circle cx="115.26" cy="19.7" r="0.45" fill="#7c0202"/>
<circle cx="115.01" cy="21.06" r="0.47" fill="#680101"/>
<ellipse cx="120.05" cy="29.7" rx="1.02" ry="0.66" fill="#a00404" transform="rotate(111 120.05 29.7)"/>
<circle cx="118.99" cy="31.37" r="0.51" fill="#770202"/>
<circle cx="120.35" cy="26.6" r="0.68" fill="#6b0202"/>
<circle cx="121.99" cy="28.08" r="0.61" fill="#5e0101"/>
<circle cx="106.19" cy="16.72" r="0.38" fill="#570101"/>
<circle cx="110.6" cy="27.31" r="0.45" fill="#440000"/>
<circle cx="0.6" cy="66.11" r="0.44" fill="#460000"/>
<circle cx="9.48" cy="52.57" r="0.43" fill="#4f0000"/>
<circle cx="121.9" cy="5.56" r="0.37" fill="#5b0101"/>
<circle cx="121.9" cy="36.56" r="0.44" fill="#4f0000"/>
<circle cx="55.31" cy="31.09" r="0.51" fill="#510101"/>
<circle cx="97.64" cy="53.86" r="0.56" fill="#560101"/>
<circle cx="113.9" cy="34.56" r="0.6" fill="#5d0101"/>
<circle cx="68.28" cy="26.51" r="0.37" fill="#5d0101"/>
<circle cx="75.52" cy="36.37" r="0.51" fill="#590101"/>
<circle cx="101.04" cy="41.27" r="0.38" fill="#540101"/>
<circle cx="100.7" cy="35.13" r="0.53" fill="#600101"/>
<circle cx="43.24" cy="3.18" r="0.47" fill="#5c0101"/>
<circle cx="99.21" cy="62.46" r="0.44" fill="#4d0000"/>
<circle cx="16" cy="28.2" r="0.42" fill="#5d0101"/>
<circle cx="113.34" cy="0.6" r="0.56" fill="#520101"/>
<circle cx="121.9" cy="17.03" r="0.56" fill="#450000"/>
<circle cx="117.88" cy="38.13" r="0.39" fill="#450000"/>
<circle cx="106.43" cy="74.57" r="0.43" fill="#430000"/>
<circle cx="75.13" cy="30.1" r="0.57" fill="#670101"/>
<circle cx="112.4" cy="32.16" r="0.38" fill="#480000"/>
<circle cx="95.42" cy="15.23" r="0.42" fill="#570101"/>
<circle cx="121.9" cy="40.56" r="0.4" fill="#640101"/>
<circle cx="121.12" cy="75.37" r="0.43" fill="#6b0202"/>
<circle cx="111.89" cy="29.11" r="0.37" fill="#680101"/>
<circle cx="85.46" cy="48.98" r="0.59" fill="#600101"/>
<circle cx="98.39" cy="18.49" r="0.44" fill="#670101"/>
<circle cx="0.6" cy="25.47" r="0.52" fill="#4b0000"/>
<circle cx="110.29" cy="10.84" r="0.55" fill="#600101"/>
<circle cx="118.66" cy="50.94" r="0.36" fill="#4c0000"/>
<circle cx="114" cy="7.77" r="0.51" fill="#630101"/>
<circle cx="62.84" cy="30.1" r="0.5" fill="#450000"/>
<circle cx="97.39" cy="43.97" r="0.56" fill="#650101"/>
<circle cx="60.62" cy="9.4" r="0.39" fill="#530101"/>
<circle cx="105.3" cy="20.6" r="0.56" fill="#600101"/>
<circle cx="91.1" cy="8.37" r="0.4" fill="#690202"/>
<circle cx="13.37" cy="61.58" r="0.5" fill="#500101"/>
<circle cx="111.11" cy="24.08" r="0.48" fill="#560101"/>
<circle cx="121.9" cy="42.96" r="0.57" fill="#4d0000"/>
<circle cx="121.9" cy="80.18" r="0.58" fill="#5c0101"/>
<circle cx="121.9" cy="60.56" r="0.37" fill="#690202"/>
<circle cx="24.27" cy="63.92" r="0.55" fill="#5d0101"/>
<circle cx="73.82" cy="0.6" r="0.58" fill="#4d0000"/>
<circle cx="0.6" cy="0.6" r="0.43" fill="#5d0101"/>
</g>
<g id="sF5" filter="url(#bl4)">
<ellipse cx="105.6" cy="4.38" rx="1.74" ry="1.12" fill="#35e635" transform="rotate(66 105.6 4.38)"/>
<circle cx="104.24" cy="1.22" r="0.84" fill="#068206"/>
<circle cx="105.81" cy="6.12" r="0.59" fill="#09ae09"/>
<circle cx="107.62" cy="6.53" r="0.59" fill="#068b06"/>
<circle cx="102.04" cy="6.01" r="0.74" fill="#047504"/>
<ellipse cx="77.52" cy="11.43" rx="1.02" ry="0.66" fill="#09b109" transform="rotate(70 77.52 11.43)"/>
<circle cx="80.02" cy="12.91" r="0.7" fill="#047004"/>
<ellipse cx="88.2" cy="9.2" rx="1.02" ry="0.66" fill="#08a008" transform="rotate(115 88.2 9.2)"/>
<circle cx="86.97" cy="9.71" r="0.7" fill="#046c04"/>
<circle cx="88.52" cy="12.34" r="0.59" fill="#068a06"/>
<circle cx="86.7" cy="6.45" r="0.62" fill="#057a05"/>
<ellipse cx="90.96" cy="25.54" rx="1.54" ry="0.98" fill="#35e635" transform="rotate(88 90.96 25.54)"/>
<circle cx="92.27" cy="21.36" r="0.78" fill="#089f08"/>
<circle cx="90.94" cy="23.82" r="0.77" fill="#079707"/>
<circle cx="91.82" cy="27.27" r="0.71" fill="#068806"/>
<circle cx="87.87" cy="26.34" r="0.66" fill="#057e05"/>
<ellipse cx="101.76" cy="25.54" rx="1.02" ry="0.66" fill="#09b109" transform="rotate(125 101.76 25.54)"/>
<circle cx="101.9" cy="27.1" r="0.47" fill="#057605"/>
<circle cx="104.06" cy="26.68" r="0.72" fill="#057705"/>
<circle cx="101.13" cy="22.36" r="0.42" fill="#046904"/>
<ellipse cx="108.48" cy="25.54" rx="0.92" ry="0.59" fill="#08a008" transform="rotate(178 108.48 25.54)"/>
<circle cx="107.59" cy="24.48" r="0.49" fill="#068406"/>
<circle cx="110.69" cy="23.62" r="0.43" fill="#068406"/>
<ellipse cx="62.64" cy="18.75" rx="0.92" ry="0.59" fill="#08a008" transform="rotate(95 62.64 18.75)"/>
<circle cx="62.36" cy="17.45" r="0.66" fill="#057805"/>
<circle cx="62.38" cy="17.27" r="0.55" fill="#057705"/>
<circle cx="61.08" cy="17.74" r="0.58" fill="#046b04"/>
<ellipse cx="68.04" cy="33.67" rx="1.23" ry="0.79" fill="#0bc30b" transform="rotate(75 68.04 33.67)"/>
<circle cx="69.8" cy="36.62" r="0.54" fill="#057605"/>
<circle cx="71.04" cy="35.06" r="0.71" fill="#068a06"/>
<circle cx="70.63" cy="34.31" r="0.63" fill="#046d04"/>
<ellipse cx="77.52" cy="35.72" rx="1.43" ry="0.92" fill="#35e635" transform="rotate(0 77.52 35.72)"/>
<circle cx="79.2" cy="35.7" r="0.62" fill="#068906"/>
<circle cx="76.26" cy="34.84" r="0.69" fill="#079107"/>
<circle cx="78.19" cy="34.58" r="0.63" fill="#089b08"/>
<ellipse cx="82.8" cy="36.35" rx="1.13" ry="0.72" fill="#0bc30b" transform="rotate(136 82.8 36.35)"/>
<circle cx="83.7" cy="34.56" r="0.53" fill="#079a07"/>
<circle cx="80.29" cy="38.82" r="0.51" fill="#047104"/>
<circle cx="79.35" cy="38.1" r="0.53" fill="#068206"/>
<circle cx="83.13" cy="40.04" r="0.66" fill="#068206"/>
<ellipse cx="72" cy="42.33" rx="1.64" ry="1.05" fill="#35e635" transform="rotate(164 72 42.33)"/>
<circle cx="69.96" cy="43.36" r="0.68" fill="#057905"/>
<circle cx="76" cy="43.51" r="0.76" fill="#068c06"/>
<circle cx="67.83" cy="43.7" r="0.66" fill="#057905"/>
<circle cx="67.8" cy="41.58" r="0.56" fill="#057805"/>
<ellipse cx="82.8" cy="41.79" rx="1.43" ry="0.92" fill="#35e635" transform="rotate(94 82.8 41.79)"/>
<circle cx="83.24" cy="43.99" r="0.66" fill="#057605"/>
<circle cx="84.48" cy="43.54" r="0.68" fill="#0ab90a"/>
<circle cx="84.23" cy="41.7" r="0.71" fill="#057e05"/>
<ellipse cx="76.2" cy="45.1" rx="1.13" ry="0.72" fill="#0bc30b" transform="rotate(12 76.2 45.1)"/>
<circle cx="78.23" cy="48.62" r="0.72" fill="#08a008"/>
<circle cx="79.47" cy="42.54" r="0.7" fill="#046d04"/>
<circle cx="77.58" cy="44.47" r="0.55" fill="#089b08"/>
<circle cx="78.15" cy="45.69" r="0.75" fill="#057705"/>
<ellipse cx="93.6" cy="35.01" rx="0.92" ry="0.59" fill="#08a008" transform="rotate(112 93.6 35.01)"/>
<circle cx="91.37" cy="33.9" r="0.62" fill="#068606"/>
<ellipse cx="88.2" cy="53.22" rx="1.02" ry="0.66" fill="#09b109" transform="rotate(29 88.2 53.22)"/>
<circle cx="89.69" cy="54.95" r="0.68" fill="#057f05"/>
<circle cx="87.19" cy="56.37" r="0.51" fill="#036603"/>
<circle cx="89.22" cy="53.57" r="0.65" fill="#036703"/>
<ellipse cx="37.2" cy="55.37" rx="1.02" ry="0.66" fill="#08a008" transform="rotate(69 37.2 55.37)"/>
<circle cx="40.14" cy="55.36" r="0.55" fill="#057905"/>
<ellipse cx="34.44" cy="64.83" rx="1.43" ry="0.92" fill="#35e635" transform="rotate(172 34.44 64.83)"/>
<circle cx="33.17" cy="60.86" r="0.52" fill="#057b05"/>
<circle cx="32.36" cy="66.23" r="0.66" fill="#058005"/>
<circle cx="35.76" cy="66.64" r="0.71" fill="#089e08"/>
<circle cx="34.11" cy="66.81" r="0.9" fill="#0abf0a"/>
<ellipse cx="38.4" cy="65.72" rx="1.13" ry="0.72" fill="#0bc30b" transform="rotate(95 38.4 65.72)"/>
<circle cx="40.56" cy="68.98" r="0.74" fill="#058105"/>
<circle cx="40.14" cy="68.29" r="0.8" fill="#068506"/>
<circle cx="38.76" cy="62.22" r="0.75" fill="#046904"/>
<circle cx="40.73" cy="64.16" r="0.63" fill="#046f04"/>
<ellipse cx="45.24" cy="73.05" rx="1.02" ry="0.66" fill="#09b109" transform="rotate(1 45.24 73.05)"/>
<circle cx="46.04" cy="73.93" r="0.71" fill="#058105"/>
<circle cx="45.06" cy="71.93" r="0.64" fill="#079407"/>
<circle cx="44.86" cy="72.05" r="0.58" fill="#068c06"/>
<ellipse cx="55.92" cy="69.48" rx="1.13" ry="0.72" fill="#0bc30b" transform="rotate(174 55.92 69.48)"/>
<circle cx="54.96" cy="72.56" r="0.69" fill="#079607"/>
<circle cx="52.64" cy="71.07" r="0.53" fill="#046904"/>
<circle cx="57.82" cy="70.75" r="0.63" fill="#068b06"/>
<ellipse cx="2.16" cy="50.72" rx="0.92" ry="0.59" fill="#08a008" transform="rotate(87 2.16 50.72)"/>
<circle cx="2.37" cy="51.83" r="0.58" fill="#046f04"/>
<circle cx="4.54" cy="49.29" r="0.4" fill="#068606"/>
<circle cx="4.85" cy="49.49" r="0.61" fill="#057b05"/>
<ellipse cx="101.76" cy="77.6" rx="1.02" ry="0.66" fill="#09b109" transform="rotate(58 101.76 77.6)"/>
<circle cx="101.5" cy="78.8" r="0.64" fill="#036803"/>
<circle cx="102.3" cy="78.73" r="0.59" fill="#046904"/>
<circle cx="101.66" cy="76.54" r="0.56" fill="#057505"/>
<ellipse cx="64.08" cy="86.62" rx="0.92" ry="0.59" fill="#078e07" transform="rotate(147 64.08 86.62)"/>
<circle cx="61.71" cy="86.63" r="0.49" fill="#057a05"/>
<circle cx="60.99" cy="87.74" r="0.47" fill="#047004"/>
<circle cx="66.33" cy="85.24" r="0.48" fill="#025802"/>
<ellipse cx="25.2" cy="2.41" rx="0.82" ry="0.52" fill="#046b04" transform="rotate(122 25.2 2.41)"/>
<circle cx="24.2" cy="5.48" r="0.33" fill="#025a02"/>
<circle cx="23.54" cy="3.79" r="0.56" fill="#014a01"/>
<ellipse cx="84" cy="17.86" rx="0.82" ry="0.52" fill="#057d05" transform="rotate(64 84 17.86)"/>
<circle cx="86.28" cy="17.91" r="0.59" fill="#046904"/>
<ellipse cx="69.6" cy="26.79" rx="0.82" ry="0.52" fill="#057d05" transform="rotate(135 69.6 26.79)"/>
<circle cx="67.47" cy="27.77" r="0.33" fill="#036303"/>
<ellipse cx="108" cy="55.37" rx="0.82" ry="0.52" fill="#046b04" transform="rotate(22 108 55.37)"/>
<circle cx="108.99" cy="56.22" r="0.35" fill="#025202"/>
<circle cx="108.32" cy="56.71" r="0.33" fill="#025902"/>
<circle cx="109.48" cy="55.84" r="0.48" fill="#035e03"/>
<circle cx="103.14" cy="69.42" r="0.37" fill="#025502"/>
<circle cx="36.46" cy="67.05" r="0.51" fill="#025602"/>
<circle cx="37.66" cy="51.67" r="0.37" fill="#036103"/>
<circle cx="75.67" cy="39.19" r="0.42" fill="#025902"/>
<circle cx="30.74" cy="68.97" r="0.54" fill="#014901"/>
<circle cx="104.31" cy="51.48" r="0.56" fill="#046904"/>
<circle cx="99.15" cy="57.75" r="0.51" fill="#014401"/>
<circle cx="32.47" cy="56.72" r="0.53" fill="#025802"/>
<circle cx="101.63" cy="41.94" r="0.47" fill="#036403"/>
<circle cx="113.51" cy="25.75" r="0.37" fill="#014401"/>
<circle cx="74.87" cy="21.78" r="0.35" fill="#036803"/>
<circle cx="77.17" cy="86.7" r="0.41" fill="#014601"/>
<circle cx="103.77" cy="35.93" r="0.54" fill="#036003"/>
<circle cx="94.77" cy="29.34" r="0.39" fill="#025202"/>
<circle cx="81.91" cy="1.06" r="0.54" fill="#025502"/>
<circle cx="40.02" cy="70.22" r="0.59" fill="#036203"/>
<circle cx="78.63" cy="37.99" r="0.46" fill="#014c01"/>
<circle cx="38.72" cy="70.6" r="0.59" fill="#036003"/>
<circle cx="79.92" cy="2.96" r="0.48" fill="#036003"/>
<circle cx="19.47" cy="3.73" r="0.54" fill="#004100"/>
<circle cx="28.23" cy="7.94" r="0.46" fill="#025502"/>
<circle cx="103.26" cy="36.98" r="0.54" fill="#025302"/>
<circle cx="65.87" cy="81.12" r="0.46" fill="#025802"/>
<circle cx="71.6" cy="15.04" r="0.52" fill="#014801"/>
<circle cx="94.43" cy="37.13" r="0.35" fill="#025602"/>
<circle cx="93.41" cy="72.33" r="0.57" fill="#014501"/>
<circle cx="112.62" cy="64.13" r="0.5" fill="#025302"/>
<circle cx="25.57" cy="64.99" r="0.36" fill="#036203"/>
<circle cx="9.81" cy="62.28" r="0.36" fill="#035e03"/>
<circle cx="46.7" cy="59.19" r="0.36" fill="#036403"/>
<circle cx="59.35" cy="33" r="0.48" fill="#014601"/>
<circle cx="106.43" cy="13.19" r="0.35" fill="#025802"/>
<circle cx="88.79" cy="44.32" r="0.4" fill="#046b04"/>
<circle cx="99.11" cy="0.69" r="0.47" fill="#014401"/>
<circle cx="16.36" cy="0.6" r="0.52" fill="#014801"/>
<circle cx="76.33" cy="3.6" r="0.4" fill="#046b04"/>
<circle cx="72.48" cy="29.43" r="0.39" fill="#025b02"/>
<circle cx="4.59" cy="34.18" r="0.56" fill="#025902"/>
<circle cx="63.95" cy="13.19" r="0.52" fill="#025502"/>
<circle cx="87.04" cy="34.62" r="0.5" fill="#014a01"/>
</g>
<g id="sF6" filter="url(#bl4)">
<ellipse cx="1.84" cy="26.08" rx="1.13" ry="0.72" fill="#c30505" transform="rotate(27 1.84 26.08)"/>
<circle cx="0.86" cy="22.89" r="0.79" fill="#790202"/>
<circle cx="1.71" cy="29.66" r="0.69" fill="#7b0202"/>
<ellipse cx="48.63" cy="9.73" rx="0.92" ry="0.59" fill="#740202" transform="rotate(175 48.63 9.73)"/>
<circle cx="46.13" cy="11.7" r="0.45" fill="#640101"/>
<ellipse cx="62.97" cy="20.9" rx="1.13" ry="0.72" fill="#b10404" transform="rotate(80 62.97 20.9)"/>
<circle cx="63.63" cy="19.15" r="0.68" fill="#7e0202"/>
<ellipse cx="91.88" cy="26.08" rx="1.23" ry="0.79" fill="#c30505" transform="rotate(41 91.88 26.08)"/>
<circle cx="90.78" cy="24.21" r="0.5" fill="#6c0202"/>
<circle cx="90.73" cy="25.3" r="0.6" fill="#9d0404"/>
<ellipse cx="96.04" cy="32.33" rx="1.13" ry="0.72" fill="#b10404" transform="rotate(97 96.04 32.33)"/>
<circle cx="93.23" cy="30.71" r="0.77" fill="#670101"/>
<ellipse cx="81.09" cy="25.54" rx="0.92" ry="0.59" fill="#740202" transform="rotate(164 81.09 25.54)"/>
<circle cx="82.9" cy="23.97" r="0.56" fill="#560101"/>
<circle cx="82.94" cy="23.44" r="0.51" fill="#5e0101"/>
<ellipse cx="69.82" cy="34.2" rx="1.43" ry="0.92" fill="#e61a1a" transform="rotate(69 69.82 34.2)"/>
<circle cx="67.83" cy="32.22" r="0.61" fill="#880303"/>
<circle cx="73.02" cy="37.25" r="0.61" fill="#7d0202"/>
<ellipse cx="82.44" cy="36.35" rx="1.64" ry="1.05" fill="#e61a1a" transform="rotate(41 82.44 36.35)"/>
<circle cx="79.52" cy="38.15" r="0.73" fill="#950303"/>
<circle cx="84.24" cy="36.05" r="0.65" fill="#8c0303"/>
<ellipse cx="73.01" cy="40.45" rx="1.43" ry="0.92" fill="#e61a1a" transform="rotate(117 73.01 40.45)"/>
<circle cx="69.64" cy="42.37" r="0.6" fill="#930303"/>
<circle cx="69.95" cy="41.46" r="0.7" fill="#a10404"/>
<ellipse cx="73.01" cy="45.1" rx="1.43" ry="0.92" fill="#e61a1a" transform="rotate(125 73.01 45.1)"/>
<circle cx="72.73" cy="47.76" r="0.83" fill="#940303"/>
<circle cx="74.37" cy="44.99" r="0.78" fill="#910303"/>
<ellipse cx="105.47" cy="40.99" rx="1.02" ry="0.66" fill="#b10404" transform="rotate(120 105.47 40.99)"/>
<circle cx="104.07" cy="42.78" r="0.42" fill="#800202"/>
<ellipse cx="31.85" cy="51.26" rx="0.92" ry="0.59" fill="#6b0202" transform="rotate(65 31.85 51.26)"/>
<circle cx="31.02" cy="51.96" r="0.46" fill="#600101"/>
<ellipse cx="91.39" cy="56.97" rx="1.02" ry="0.66" fill="#c30505" transform="rotate(150 91.39 56.97)"/>
<circle cx="90.53" cy="61.11" r="0.53" fill="#770202"/>
<circle cx="93.1" cy="57.36" r="0.48" fill="#760202"/>
<ellipse cx="84.65" cy="70.81" rx="1.64" ry="1.05" fill="#e61a1a" transform="rotate(128 84.65 70.81)"/>
<circle cx="85.45" cy="72.59" r="0.77" fill="#8e0303"/>
<circle cx="83.92" cy="66.79" r="0.51" fill="#bc0505"/>
<ellipse cx="112.21" cy="33.67" rx="0.82" ry="0.52" fill="#6b0202" transform="rotate(40 112.21 33.67)"/>
<circle cx="111.3" cy="32.5" r="0.46" fill="#4f0000"/>
<circle cx="110.43" cy="35.17" r="0.57" fill="#540101"/>
<ellipse cx="78.4" cy="37.51" rx="0.92" ry="0.59" fill="#a00404" transform="rotate(156 78.4 37.51)"/>
<circle cx="78.45" cy="40.75" r="0.51" fill="#6b0202"/>
<circle cx="75.05" cy="36.48" r="0.36" fill="#680101"/>
<circle cx="69.17" cy="42.94" r="0.49" fill="#500101"/>
<circle cx="91.42" cy="33.78" r="0.46" fill="#450000"/>
<circle cx="99.36" cy="44.18" r="0.39" fill="#400000"/>
<circle cx="104.16" cy="34.49" r="0.55" fill="#6b0202"/>
<circle cx="37.69" cy="5.49" r="0.59" fill="#4d0000"/>
<circle cx="65.55" cy="18.73" r="0.52" fill="#680101"/>
<circle cx="95.52" cy="24.63" r="0.56" fill="#440000"/>
<circle cx="60.76" cy="0.6" r="0.37" fill="#620101"/>
<circle cx="103.48" cy="51.53" r="0.57" fill="#460000"/>
</g>
<g id="sG1" filter="url(#bl4)">
<ellipse cx="55.4" cy="26.8" rx="1.13" ry="0.72" fill="#0bc30b" transform="rotate(53 55.4 26.8)"/>
<circle cx="54" cy="26.61" r="0.78" fill="#057705"/>
<circle cx="58.99" cy="28.09" r="0.5" fill="#079307"/>
<ellipse cx="54" cy="23.1" rx="1.23" ry="0.79" fill="#0bc30b" transform="rotate(94 54 23.1)"/>
<circle cx="56.04" cy="24.95" r="0.63" fill="#058005"/>
<circle cx="51.64" cy="26.6" r="0.57" fill="#057e05"/>
<ellipse cx="44.6" cy="45.6" rx="1.74" ry="1.12" fill="#35e635" transform="rotate(80 44.6 45.6)"/>
<circle cx="43.38" cy="48.95" r="0.67" fill="#08a108"/>
<circle cx="46.12" cy="43.22" r="0.68" fill="#09b309"/>
<ellipse cx="41.4" cy="53.1" rx="1.54" ry="0.98" fill="#35e635" transform="rotate(112 41.4 53.1)"/>
<circle cx="40.02" cy="56.28" r="0.68" fill="#09b109"/>
<circle cx="41.95" cy="51.7" r="0.88" fill="#0ab60a"/>
<circle cx="42.39" cy="55.89" r="0.75" fill="#09b209"/>
<circle cx="42.15" cy="51.98" r="0.71" fill="#058005"/>
<ellipse cx="67.5" cy="46.6" rx="1.84" ry="1.18" fill="#35e635" transform="rotate(25 67.5 46.6)"/>
<circle cx="66.29" cy="47.53" r="0.79" fill="#0abc0a"/>
<circle cx="66.31" cy="50.61" r="0.59" fill="#089f08"/>
<ellipse cx="68.9" cy="64.5" rx="1.64" ry="1.05" fill="#35e635" transform="rotate(128 68.9 64.5)"/>
<circle cx="70.9" cy="65.57" r="0.57" fill="#08a508"/>
<circle cx="66.79" cy="66.32" r="0.85" fill="#09b109"/>
<circle cx="69.08" cy="60.59" r="0.61" fill="#057f05"/>
<ellipse cx="72.9" cy="67.1" rx="1.33" ry="0.85" fill="#20d420" transform="rotate(173 72.9 67.1)"/>
<circle cx="71.86" cy="67.96" r="0.6" fill="#09b209"/>
<circle cx="74.15" cy="67.92" r="0.68" fill="#047204"/>
<circle cx="72.78" cy="70.97" r="0.73" fill="#09ab09"/>
<ellipse cx="6.9" cy="57.8" rx="1.43" ry="0.92" fill="#35e635" transform="rotate(127 6.9 57.8)"/>
<circle cx="4.12" cy="57.79" r="0.53" fill="#0abf0a"/>
<circle cx="7.32" cy="61.43" r="0.68" fill="#09ad09"/>
<ellipse cx="15" cy="58.6" rx="1.43" ry="0.92" fill="#35e635" transform="rotate(173 15 58.6)"/>
<circle cx="13.87" cy="57.65" r="0.8" fill="#0ab60a"/>
<circle cx="13.65" cy="59.2" r="0.87" fill="#068c06"/>
<ellipse cx="29.8" cy="57.8" rx="1.23" ry="0.79" fill="#20d420" transform="rotate(114 29.8 57.8)"/>
<circle cx="28.47" cy="57.38" r="0.66" fill="#09ab09"/>
<circle cx="26.73" cy="60.5" r="0.85" fill="#079907"/>
<circle cx="30.9" cy="57.09" r="0.59" fill="#079107"/>
<ellipse cx="24.4" cy="61.8" rx="1.13" ry="0.72" fill="#0bc30b" transform="rotate(131 24.4 61.8)"/>
<circle cx="23.47" cy="63.64" r="0.66" fill="#068606"/>
<circle cx="26.81" cy="61.84" r="0.53" fill="#08a208"/>
<circle cx="26.43" cy="59.19" r="0.63" fill="#08a308"/>
<ellipse cx="19" cy="59.1" rx="1.02" ry="0.66" fill="#09b109" transform="rotate(147 19 59.1)"/>
<circle cx="17.4" cy="61.81" r="0.45" fill="#036703"/>
<circle cx="17.46" cy="61.41" r="0.59" fill="#057c05"/>
<ellipse cx="35.2" cy="54.3" rx="1.02" ry="0.66" fill="#0bc30b" transform="rotate(31 35.2 54.3)"/>
<circle cx="38" cy="52.93" r="0.44" fill="#089d08"/>
<circle cx="34.49" cy="51.65" r="0.46" fill="#047404"/>
<circle cx="32.1" cy="53.41" r="0.52" fill="#058105"/>
<ellipse cx="45.4" cy="56.4" rx="1.02" ry="0.66" fill="#09b109" transform="rotate(142 45.4 56.4)"/>
<circle cx="44.13" cy="56.24" r="0.58" fill="#057b05"/>
<circle cx="46.9" cy="58.65" r="0.67" fill="#047404"/>
<ellipse cx="55.4" cy="69.9" rx="1.13" ry="0.72" fill="#0bc30b" transform="rotate(154 55.4 69.9)"/>
<circle cx="54.05" cy="67.71" r="0.55" fill="#047004"/>
<circle cx="54.76" cy="74.27" r="0.47" fill="#08a108"/>
<circle cx="54.18" cy="66.36" r="0.49" fill="#079007"/>
<circle cx="56.35" cy="73.18" r="0.74" fill="#079507"/>
<ellipse cx="27.9" cy="76.6" rx="1.02" ry="0.66" fill="#09b109" transform="rotate(137 27.9 76.6)"/>
<circle cx="29.06" cy="75.57" r="0.46" fill="#079107"/>
<ellipse cx="1.5" cy="81.1" rx="1.02" ry="0.66" fill="#0bc30b" transform="rotate(14 1.5 81.1)"/>
<circle cx="3.26" cy="79.38" r="0.6" fill="#068706"/>
<ellipse cx="11" cy="67.1" rx="0.92" ry="0.59" fill="#08a008" transform="rotate(119 11 67.1)"/>
<circle cx="9.32" cy="65.94" r="0.49" fill="#068706"/>
<circle cx="12.58" cy="66.86" r="0.65" fill="#035c03"/>
<ellipse cx="81" cy="55.1" rx="0.92" ry="0.59" fill="#08a008" transform="rotate(85 81 55.1)"/>
<circle cx="82.13" cy="54.27" r="0.57" fill="#068a06"/>
<circle cx="79.4" cy="53.74" r="0.38" fill="#047104"/>
<ellipse cx="82.3" cy="65.8" rx="0.92" ry="0.59" fill="#08a008" transform="rotate(118 82.3 65.8)"/>
<circle cx="82.77" cy="63.92" r="0.61" fill="#046e04"/>
<circle cx="80.44" cy="63.68" r="0.42" fill="#068806"/>
<ellipse cx="87.7" cy="33.5" rx="0.92" ry="0.59" fill="#08a008" transform="rotate(115 87.7 33.5)"/>
<circle cx="86.39" cy="35.87" r="0.51" fill="#035f03"/>
<circle cx="88.51" cy="32.35" r="0.53" fill="#046e04"/>
<ellipse cx="93" cy="38.9" rx="0.92" ry="0.59" fill="#08a008" transform="rotate(27 93 38.9)"/>
<circle cx="91.55" cy="39.96" r="0.64" fill="#068406"/>
<circle cx="92.92" cy="42.14" r="0.45" fill="#046f04"/>
<ellipse cx="103.3" cy="37.6" rx="0.92" ry="0.59" fill="#078e07" transform="rotate(77 103.3 37.6)"/>
<circle cx="102.68" cy="36.07" r="0.54" fill="#057905"/>
<circle cx="104.79" cy="39.71" r="0.44" fill="#025b02"/>
<ellipse cx="95.8" cy="63.1" rx="0.92" ry="0.59" fill="#078e07" transform="rotate(132 95.8 63.1)"/>
<circle cx="94.17" cy="60.7" r="0.49" fill="#036603"/>
<ellipse cx="103.9" cy="63.9" rx="0.92" ry="0.59" fill="#078e07" transform="rotate(157 103.9 63.9)"/>
<circle cx="104.95" cy="61.43" r="0.51" fill="#046e04"/>
<circle cx="101.49" cy="65.59" r="0.63" fill="#047404"/>
<ellipse cx="87.7" cy="104.9" rx="0.92" ry="0.59" fill="#08a008" transform="rotate(82 87.7 104.9)"/>
<circle cx="86.6" cy="106.36" r="0.47" fill="#046b04"/>
<circle cx="88.03" cy="102.73" r="0.65" fill="#057e05"/>
<ellipse cx="93" cy="108.9" rx="1.23" ry="0.79" fill="#20d420" transform="rotate(146 93 108.9)"/>
<circle cx="93.87" cy="107.26" r="0.7" fill="#068306"/>
<circle cx="93.62" cy="111.68" r="0.88" fill="#09aa09"/>
<circle cx="95.07" cy="105.56" r="0.68" fill="#068806"/>
<circle cx="95.35" cy="106.55" r="0.58" fill="#09b009"/>
<ellipse cx="33.8" cy="96.8" rx="0.82" ry="0.52" fill="#057d05" transform="rotate(136 33.8 96.8)"/>
<circle cx="34.19" cy="93.93" r="0.51" fill="#036303"/>
<circle cx="34.21" cy="95.78" r="0.53" fill="#025602"/>
<ellipse cx="15" cy="110.3" rx="0.82" ry="0.52" fill="#057d05" transform="rotate(90 15 110.3)"/>
<circle cx="14.18" cy="111.8" r="0.5" fill="#046c04"/>
<circle cx="14.12" cy="112.11" r="0.47" fill="#036303"/>
<ellipse cx="44.6" cy="87.9" rx="0.82" ry="0.52" fill="#057d05" transform="rotate(2 44.6 87.9)"/>
<circle cx="46.89" cy="85.94" r="0.49" fill="#035c03"/>
<circle cx="47.54" cy="89.18" r="0.44" fill="#025302"/>
<ellipse cx="109.2" cy="80.6" rx="0.82" ry="0.52" fill="#057d05" transform="rotate(159 109.2 80.6)"/>
<circle cx="111.06" cy="81.13" r="0.49" fill="#036803"/>
<ellipse cx="89" cy="31.1" rx="0.92" ry="0.59" fill="#08a008" transform="rotate(91 89 31.1)"/>
<circle cx="89.61" cy="32.82" r="0.61" fill="#036003"/>
<ellipse cx="2.5" cy="57.1" rx="1.13" ry="0.72" fill="#0bc30b" transform="rotate(35 2.5 57.1)"/>
<circle cx="5.71" cy="54.21" r="0.47" fill="#068706"/>
<ellipse cx="42.5" cy="46.1" rx="1.23" ry="0.79" fill="#0bc30b" transform="rotate(37 42.5 46.1)"/>
<circle cx="39.26" cy="44.17" r="0.68" fill="#079307"/>
<circle cx="41.29" cy="43.48" r="0.65" fill="#057705"/>
<ellipse cx="70" cy="51.1" rx="1.23" ry="0.79" fill="#0bc30b" transform="rotate(56 70 51.1)"/>
<circle cx="74.1" cy="50.26" r="0.83" fill="#079107"/>
<circle cx="68.32" cy="51.15" r="0.81" fill="#047304"/>
<circle cx="73.6" cy="49.42" r="0.6" fill="#08a108"/>
<circle cx="70.15" cy="47.27" r="0.53" fill="#057905"/>
<ellipse cx="64" cy="43.1" rx="1.13" ry="0.72" fill="#0bc30b" transform="rotate(39 64 43.1)"/>
<circle cx="65.92" cy="42.36" r="0.61" fill="#079707"/>
<circle cx="61.39" cy="45.07" r="0.68" fill="#057f05"/>
<circle cx="67.04" cy="41.6" r="0.72" fill="#079607"/>
<circle cx="62.67" cy="41.85" r="0.78" fill="#08a308"/>
<circle cx="68.22" cy="82.59" r="0.41" fill="#036603"/>
<circle cx="75.79" cy="57.42" r="0.47" fill="#035e03"/>
<circle cx="0.6" cy="56.26" r="0.54" fill="#004100"/>
<circle cx="84.87" cy="68.57" r="0.5" fill="#025c02"/>
<circle cx="96.64" cy="59.61" r="0.51" fill="#004200"/>
<circle cx="81.22" cy="19" r="0.39" fill="#014a01"/>
<circle cx="82.76" cy="68.31" r="0.57" fill="#035d03"/>
<circle cx="91.5" cy="67.22" r="0.52" fill="#025b02"/>
<circle cx="13.07" cy="62.01" r="0.45" fill="#014d01"/>
<circle cx="31.8" cy="99.27" r="0.53" fill="#035d03"/>
<circle cx="23.25" cy="93.47" r="0.49" fill="#036503"/>
<circle cx="54.1" cy="17.18" r="0.59" fill="#046a04"/>
<circle cx="115.87" cy="79.55" r="0.45" fill="#036403"/>
<circle cx="75.09" cy="52.61" r="0.38" fill="#014601"/>
<circle cx="60.05" cy="29.4" r="0.49" fill="#014d01"/>
<circle cx="52.14" cy="75.33" r="0.41" fill="#004200"/>
<circle cx="26.24" cy="66.72" r="0.57" fill="#025b02"/>
<circle cx="1.96" cy="65.48" r="0.59" fill="#014901"/>
<circle cx="76.59" cy="80.89" r="0.41" fill="#025002"/>
<circle cx="7.8" cy="84.42" r="0.58" fill="#014f01"/>
<circle cx="33.53" cy="28.67" r="0.41" fill="#035d03"/>
<circle cx="89.06" cy="66.62" r="0.39" fill="#036403"/>
<circle cx="28.56" cy="64.03" r="0.54" fill="#036603"/>
<circle cx="90.01" cy="12.82" r="0.37" fill="#046a04"/>
<circle cx="31" cy="54.65" r="0.56" fill="#014901"/>
<circle cx="44.31" cy="44.66" r="0.38" fill="#014a01"/>
<circle cx="42.83" cy="45.44" r="0.58" fill="#025602"/>
<circle cx="28.95" cy="56.96" r="0.43" fill="#025902"/>
<circle cx="3.06" cy="53.63" r="0.58" fill="#025702"/>
<circle cx="34.16" cy="56.41" r="0.54" fill="#025702"/>
<circle cx="4.98" cy="56.23" r="0.38" fill="#014601"/>
<circle cx="80.75" cy="50.98" r="0.56" fill="#014a01"/>
<circle cx="12.24" cy="54.27" r="0.49" fill="#036003"/>
<circle cx="32.45" cy="60.21" r="0.57" fill="#004200"/>
<circle cx="24.63" cy="62.26" r="0.44" fill="#046904"/>
<circle cx="101.6" cy="37.36" r="0.41" fill="#035e03"/>
<circle cx="89.02" cy="43.83" r="0.43" fill="#025802"/>
<circle cx="79.87" cy="78.83" r="0.56" fill="#036103"/>
<circle cx="58.3" cy="64.67" r="0.58" fill="#036303"/>
<circle cx="99.1" cy="73.35" r="0.52" fill="#014801"/>
<circle cx="30.59" cy="56.31" r="0.44" fill="#014c01"/>
<circle cx="103.02" cy="43.89" r="0.46" fill="#025a02"/>
<circle cx="27.2" cy="43.45" r="0.48" fill="#004300"/>
<circle cx="38.86" cy="33.99" r="0.58" fill="#036303"/>
<circle cx="30.5" cy="105.9" r="0.49" fill="#025402"/>
<circle cx="45.11" cy="75.28" r="0.46" fill="#014901"/>
<circle cx="71.52" cy="48.78" r="0.55" fill="#025a02"/>
<circle cx="87.89" cy="43.08" r="0.58" fill="#014401"/>
<circle cx="77.77" cy="19.94" r="0.39" fill="#025302"/>
<circle cx="56.38" cy="35.14" r="0.6" fill="#036403"/>
<circle cx="16.85" cy="50.43" r="0.59" fill="#035e03"/>
<circle cx="76.14" cy="54.03" r="0.38" fill="#014501"/>
<circle cx="73.14" cy="44.91" r="0.56" fill="#004000"/>
<circle cx="57.16" cy="85.21" r="0.55" fill="#036703"/>
<circle cx="33.04" cy="50.84" r="0.38" fill="#014f01"/>
<circle cx="19.28" cy="45.93" r="0.48" fill="#014b01"/>
<circle cx="81.55" cy="49.96" r="0.54" fill="#025b02"/>
<circle cx="64.73" cy="45.75" r="0.42" fill="#004200"/>
<circle cx="55.08" cy="45.18" r="0.57" fill="#036403"/>
<circle cx="0.6" cy="43.84" r="0.44" fill="#014301"/>
<g fill="none" stroke="#35f535" stroke-width="1.5" stroke-linecap="round" stroke-linejoin="round"><polyline points="41.4,47 48.7,44.6"/><polyline points="38.7,53.7 44.6,52.4"/><polyline points="66.2,49.7 70.2,45.3 72.9,44.3"/><polyline points="64.8,63.9 70.2,65.8 73.7,69.3"/><polyline points="6.1,56.9 8.3,59.6"/><polyline points="14.5,56.9 15.8,60.4"/><polyline points="29.3,56.4 30.6,59.1"/><polyline points="23.1,61.8 25.8,62.6"/><polyline points="53.2,26.3 58.1,27.9"/></g>
</g>
<g id="sG2" filter="url(#bl4)">
<ellipse cx="84.5" cy="34.6" rx="1.74" ry="1.12" fill="#e61a1a" transform="rotate(92 84.5 34.6)"/>
<circle cx="81.92" cy="34.92" r="0.68" fill="#940303"/>
<circle cx="83.34" cy="32.84" r="0.75" fill="#750202"/>
<ellipse cx="88" cy="33.6" rx="1.54" ry="0.98" fill="#e61a1a" transform="rotate(77 88 33.6)"/>
<circle cx="85.87" cy="29.9" r="0.74" fill="#750202"/>
<circle cx="88.59" cy="36.73" r="0.51" fill="#800202"/>
<ellipse cx="91" cy="32.1" rx="1.23" ry="0.79" fill="#d41010" transform="rotate(155 91 32.1)"/>
<circle cx="89.13" cy="30.08" r="0.73" fill="#9f0404"/>
<circle cx="94.73" cy="31.76" r="0.63" fill="#8b0303"/>
<circle cx="93.44" cy="33.56" r="0.7" fill="#7a0202"/>
<ellipse cx="101" cy="26.1" rx="1.13" ry="0.72" fill="#c30505" transform="rotate(144 101 26.1)"/>
<circle cx="99.08" cy="25.06" r="0.48" fill="#a60404"/>
<circle cx="103.46" cy="26.2" r="0.63" fill="#7b0202"/>
<ellipse cx="103.5" cy="38.6" rx="0.92" ry="0.59" fill="#a00404" transform="rotate(81 103.5 38.6)"/>
<circle cx="102.16" cy="39" r="0.51" fill="#830303"/>
<circle cx="100.61" cy="39.64" r="0.37" fill="#830303"/>
<ellipse cx="79.5" cy="94.6" rx="1.54" ry="0.98" fill="#e61a1a" transform="rotate(178 79.5 94.6)"/>
<circle cx="76.42" cy="95.51" r="0.7" fill="#760202"/>
<circle cx="80.75" cy="96.19" r="0.66" fill="#910303"/>
<ellipse cx="84.5" cy="96.1" rx="1.33" ry="0.85" fill="#d41010" transform="rotate(138 84.5 96.1)"/>
<circle cx="83.13" cy="93.95" r="0.63" fill="#920303"/>
<circle cx="88.08" cy="95" r="0.76" fill="#a80404"/>
<ellipse cx="22" cy="62.1" rx="0.92" ry="0.59" fill="#740202" transform="rotate(58 22 62.1)"/>
<circle cx="22.99" cy="62.82" r="0.4" fill="#4c0000"/>
<circle cx="19.74" cy="59.83" r="0.4" fill="#5f0101"/>
<ellipse cx="27" cy="61.1" rx="0.92" ry="0.59" fill="#740202" transform="rotate(100 27 61.1)"/>
<circle cx="29.15" cy="59.53" r="0.44" fill="#5c0101"/>
<ellipse cx="67" cy="59.6" rx="0.92" ry="0.59" fill="#7d0202" transform="rotate(61 67 59.6)"/>
<circle cx="67.04" cy="60.88" r="0.56" fill="#570101"/>
<circle cx="65.36" cy="60.69" r="0.63" fill="#5e0101"/>
<ellipse cx="74.5" cy="54.6" rx="0.92" ry="0.59" fill="#7d0202" transform="rotate(66 74.5 54.6)"/>
<circle cx="77.01" cy="55.58" r="0.5" fill="#570101"/>
<ellipse cx="97" cy="74.6" rx="0.92" ry="0.59" fill="#740202" transform="rotate(128 97 74.6)"/>
<circle cx="98.21" cy="75.52" r="0.49" fill="#4f0000"/>
<circle cx="98.52" cy="75.96" r="0.62" fill="#520101"/>
<ellipse cx="107" cy="72.1" rx="0.92" ry="0.59" fill="#740202" transform="rotate(33 107 72.1)"/>
<circle cx="105.6" cy="72.73" r="0.42" fill="#5e0101"/>
<circle cx="108.4" cy="69.37" r="0.43" fill="#580101"/>
<ellipse cx="54.5" cy="92.1" rx="0.92" ry="0.59" fill="#740202" transform="rotate(5 54.5 92.1)"/>
<circle cx="53.93" cy="93.71" r="0.41" fill="#4e0000"/>
<circle cx="56.23" cy="92.03" r="0.52" fill="#5b0101"/>
<ellipse cx="59.5" cy="98.1" rx="0.92" ry="0.59" fill="#740202" transform="rotate(120 59.5 98.1)"/>
<circle cx="57.63" cy="96.92" r="0.51" fill="#4e0000"/>
<ellipse cx="112" cy="106.1" rx="0.82" ry="0.52" fill="#740202" transform="rotate(161 112 106.1)"/>
<circle cx="114.02" cy="107.71" r="0.34" fill="#4e0000"/>
<circle cx="109.19" cy="106.16" r="0.46" fill="#5b0101"/>
<ellipse cx="7" cy="67.1" rx="0.82" ry="0.52" fill="#6b0202" transform="rotate(25 7 67.1)"/>
<circle cx="5.89" cy="68.36" r="0.34" fill="#4d0000"/>
<circle cx="7.26" cy="68.1" r="0.33" fill="#510101"/>
<ellipse cx="95" cy="30.1" rx="1.02" ry="0.66" fill="#b10404" transform="rotate(155 95 30.1)"/>
<circle cx="95.48" cy="31.68" r="0.62" fill="#770202"/>
<circle cx="97.43" cy="31.02" r="0.59" fill="#960303"/>
<ellipse cx="42" cy="79.1" rx="0.82" ry="0.52" fill="#620101" transform="rotate(52 42 79.1)"/>
<circle cx="42.61" cy="76.67" r="0.47" fill="#560101"/>
<circle cx="41.48" cy="75.88" r="0.4" fill="#460000"/>
<circle cx="19.23" cy="64.87" r="0.47" fill="#450000"/>
<circle cx="59.21" cy="74.85" r="0.38" fill="#400000"/>
<circle cx="92.33" cy="37.98" r="0.55" fill="#690202"/>
<circle cx="121.8" cy="44.43" r="0.52" fill="#5d0101"/>
<circle cx="14.02" cy="73.56" r="0.37" fill="#680101"/>
<circle cx="62" cy="99.41" r="0.39" fill="#5d0101"/>
<circle cx="81.13" cy="83.61" r="0.54" fill="#440000"/>
<circle cx="102.24" cy="75.03" r="0.45" fill="#480000"/>
<circle cx="58.07" cy="99.5" r="0.4" fill="#430000"/>
<circle cx="90.66" cy="82" r="0.5" fill="#510101"/>
<circle cx="87.77" cy="40.91" r="0.45" fill="#400000"/>
<circle cx="79.04" cy="52.24" r="0.39" fill="#420000"/>
<circle cx="98.61" cy="22.38" r="0.54" fill="#5c0101"/>
<circle cx="105.84" cy="55.35" r="0.39" fill="#660101"/>
<circle cx="79.87" cy="88.39" r="0.52" fill="#590101"/>
<circle cx="106.88" cy="41.86" r="0.48" fill="#570101"/>
<circle cx="97.56" cy="52.17" r="0.5" fill="#4c0000"/>
<circle cx="81.89" cy="23.93" r="0.49" fill="#630101"/>
<circle cx="109.65" cy="38.18" r="0.58" fill="#5a0101"/>
<circle cx="65.74" cy="75.09" r="0.52" fill="#680101"/>
<circle cx="92.52" cy="63.45" r="0.57" fill="#4b0000"/>
<circle cx="90.03" cy="35.08" r="0.49" fill="#540101"/>
<circle cx="118.32" cy="40.9" r="0.45" fill="#690202"/>
<circle cx="54.75" cy="116.21" r="0.42" fill="#400000"/>
<circle cx="80.23" cy="13.3" r="0.55" fill="#460000"/>
<circle cx="66.83" cy="74.66" r="0.45" fill="#610101"/>
<circle cx="47.44" cy="57.19" r="0.54" fill="#4d0000"/>
<circle cx="69.23" cy="104.74" r="0.44" fill="#490000"/>
<circle cx="89.06" cy="83.87" r="0.48" fill="#4b0000"/>
<circle cx="64.33" cy="28.13" r="0.56" fill="#480000"/>
<circle cx="90.64" cy="26.24" r="0.35" fill="#420000"/>
<circle cx="18.47" cy="41.13" r="0.43" fill="#590101"/>
<circle cx="120.59" cy="65.72" r="0.43" fill="#490000"/>
<circle cx="87.88" cy="110.1" r="0.44" fill="#420000"/>
<circle cx="73.02" cy="20.27" r="0.58" fill="#600101"/>
<circle cx="61.76" cy="96.62" r="0.58" fill="#670101"/>
<circle cx="44.52" cy="108.04" r="0.55" fill="#510101"/>
<circle cx="74.5" cy="56.99" r="0.59" fill="#4f0000"/>
<circle cx="70.76" cy="98.05" r="0.45" fill="#590101"/>
<circle cx="12.13" cy="73.24" r="0.41" fill="#470000"/>
<g fill="none" stroke="#ff2a2a" stroke-width="1.7" stroke-linecap="round" stroke-linejoin="round"><polyline points="82.5,35.3 86.5,33.9"/><polyline points="88.5,33.3 91.5,31.7"/><polyline points="78.5,94.3 82,95.7"/><polyline points="100,26.7 102.2,25.3"/></g>
</g>
<g id="mF1" filter="url(#bl4)">
<ellipse cx="2.38" cy="20.7" rx="1.64" ry="1.05" fill="#35e635" transform="rotate(115 2.38 20.7)"/>
<circle cx="4.71" cy="17.77" r="0.68" fill="#0ab70a"/>
<circle cx="3.79" cy="24.24" r="0.69" fill="#08a408"/>
<circle cx="3.43" cy="23.18" r="0.56" fill="#089e08"/>
<circle cx="4.91" cy="18.62" r="0.74" fill="#079307"/>
<ellipse cx="54.19" cy="23.76" rx="1.54" ry="0.98" fill="#35e635" transform="rotate(115 54.19 23.76)"/>
<circle cx="53.96" cy="20.44" r="0.75" fill="#0ab50a"/>
<circle cx="55.49" cy="24.31" r="0.85" fill="#08a308"/>
<circle cx="54.6" cy="21.48" r="0.74" fill="#068306"/>
<circle cx="54.42" cy="25.97" r="0.5" fill="#057a05"/>
<ellipse cx="55.5" cy="31.86" rx="1.43" ry="0.92" fill="#20d420" transform="rotate(167 55.5 31.86)"/>
<circle cx="52.98" cy="33.53" r="0.87" fill="#047404"/>
<circle cx="55.41" cy="35.52" r="0.71" fill="#047004"/>
<circle cx="53.99" cy="31.23" r="0.54" fill="#068206"/>
<ellipse cx="70.27" cy="4.86" rx="1.02" ry="0.66" fill="#0bc30b" transform="rotate(17 70.27 4.86)"/>
<circle cx="71.02" cy="3.79" r="0.48" fill="#08a108"/>
<circle cx="65.99" cy="5.68" r="0.54" fill="#046c04"/>
<ellipse cx="104.81" cy="2.16" rx="1.64" ry="1.05" fill="#35e635" transform="rotate(161 104.81 2.16)"/>
<circle cx="106.8" cy="3.38" r="0.89" fill="#09af09"/>
<ellipse cx="107.19" cy="6.3" rx="1.23" ry="0.79" fill="#0bc30b" transform="rotate(30 107.19 6.3)"/>
<circle cx="107.23" cy="7.91" r="0.52" fill="#079a07"/>
<circle cx="108.53" cy="9.04" r="0.67" fill="#047404"/>
<ellipse cx="112.91" cy="14.4" rx="1.54" ry="0.98" fill="#35e635" transform="rotate(33 112.91 14.4)"/>
<circle cx="111.88" cy="13.09" r="0.67" fill="#068506"/>
<circle cx="112.37" cy="18.7" r="0.82" fill="#068c06"/>
<circle cx="114.37" cy="13.1" r="0.66" fill="#0ab70a"/>
<ellipse cx="115.53" cy="19.8" rx="1.23" ry="0.79" fill="#20d420" transform="rotate(164 115.53 19.8)"/>
<circle cx="116.01" cy="21.85" r="0.8" fill="#068506"/>
<circle cx="115.09" cy="21.26" r="0.53" fill="#079707"/>
<circle cx="115.67" cy="22.97" r="0.64" fill="#068e06"/>
<ellipse cx="98.26" cy="30.6" rx="1.54" ry="0.98" fill="#20d420" transform="rotate(150 98.26 30.6)"/>
<circle cx="99.11" cy="29.1" r="0.65" fill="#079a07"/>
<circle cx="97.51" cy="32.47" r="0.74" fill="#08a108"/>
<circle cx="100.03" cy="33.34" r="0.72" fill="#089e08"/>
<ellipse cx="108.98" cy="31.86" rx="1.13" ry="0.72" fill="#0bc30b" transform="rotate(99 108.98 31.86)"/>
<circle cx="106.9" cy="30.28" r="0.49" fill="#046a04"/>
<circle cx="110.96" cy="31.38" r="0.71" fill="#057805"/>
<circle cx="110.39" cy="29.03" r="0.56" fill="#047304"/>
<ellipse cx="52.05" cy="44.1" rx="1.13" ry="0.72" fill="#0bc30b" transform="rotate(17 52.05 44.1)"/>
<circle cx="52.46" cy="47.12" r="0.76" fill="#078e07"/>
<circle cx="51.26" cy="48.19" r="0.52" fill="#046904"/>
<ellipse cx="98.26" cy="46.8" rx="1.64" ry="1.05" fill="#35e635" transform="rotate(68 98.26 46.8)"/>
<circle cx="96.85" cy="47.3" r="0.57" fill="#079107"/>
<circle cx="96.72" cy="46.05" r="0.64" fill="#0aba0a"/>
<circle cx="101.58" cy="46.39" r="0.78" fill="#08a208"/>
<ellipse cx="111.6" cy="52.2" rx="1.13" ry="0.72" fill="#0bc30b" transform="rotate(35 111.6 52.2)"/>
<circle cx="112.92" cy="52.5" r="0.78" fill="#079407"/>
<circle cx="112.93" cy="51.88" r="0.68" fill="#068606"/>
<circle cx="111.32" cy="49.92" r="0.81" fill="#046c04"/>
<circle cx="108.15" cy="51.17" r="0.78" fill="#079607"/>
<ellipse cx="116.72" cy="46.8" rx="1.23" ry="0.79" fill="#20d420" transform="rotate(33 116.72 46.8)"/>
<circle cx="114.67" cy="49.56" r="0.85" fill="#09ab09"/>
<circle cx="113.45" cy="48.67" r="0.83" fill="#079607"/>
<circle cx="114.95" cy="45.04" r="0.72" fill="#079907"/>
<ellipse cx="77.41" cy="67.05" rx="1.54" ry="0.98" fill="#35e635" transform="rotate(20 77.41 67.05)"/>
<circle cx="74.6" cy="63.67" r="0.85" fill="#09ad09"/>
<circle cx="74.67" cy="69.37" r="0.73" fill="#079607"/>
<ellipse cx="116.72" cy="80.55" rx="1.43" ry="0.92" fill="#35e635" transform="rotate(138 116.72 80.55)"/>
<circle cx="113.83" cy="80.21" r="0.62" fill="#057b05"/>
<circle cx="90.01" cy="2.35" r="0.58" fill="#014a01"/>
<circle cx="0.6" cy="24.02" r="0.5" fill="#025602"/>
<circle cx="110.51" cy="39.41" r="0.57" fill="#014e01"/>
<circle cx="55.67" cy="52.25" r="0.55" fill="#036703"/>
<circle cx="84.68" cy="34.12" r="0.43" fill="#014501"/>
<circle cx="67.51" cy="26.84" r="0.36" fill="#004200"/>
<circle cx="69.82" cy="20.19" r="0.47" fill="#036803"/>
<circle cx="14.21" cy="85.8" r="0.52" fill="#035f03"/>
</g>
<g id="mF2" filter="url(#bl4)">
<ellipse cx="1.31" cy="22.77" rx="1.54" ry="0.98" fill="#e61a1a" transform="rotate(121 1.31 22.77)"/>
<circle cx="2.14" cy="23.81" r="0.65" fill="#890303"/>
<circle cx="2.59" cy="19.56" r="0.74" fill="#a00404"/>
<ellipse cx="55.26" cy="30.78" rx="1.13" ry="0.72" fill="#c30505" transform="rotate(169 55.26 30.78)"/>
<circle cx="56.9" cy="32.9" r="0.51" fill="#a10404"/>
<circle cx="58.86" cy="32.17" r="0.48" fill="#930303"/>
<circle cx="53.93" cy="32.97" r="0.75" fill="#690202"/>
<circle cx="59.12" cy="32.33" r="0.63" fill="#6d0202"/>
<ellipse cx="56.57" cy="24.12" rx="1.02" ry="0.66" fill="#c30505" transform="rotate(108 56.57 24.12)"/>
<circle cx="58.56" cy="25.82" r="0.45" fill="#7b0202"/>
<circle cx="55.26" cy="22.87" r="0.64" fill="#6b0202"/>
<circle cx="58.4" cy="27.5" r="0.54" fill="#820303"/>
<ellipse cx="64.31" cy="32.13" rx="1.13" ry="0.72" fill="#c30505" transform="rotate(152 64.31 32.13)"/>
<circle cx="61.84" cy="32.49" r="0.46" fill="#950303"/>
<circle cx="68.57" cy="31.25" r="0.69" fill="#7e0202"/>
<circle cx="62.06" cy="34.75" r="0.69" fill="#6f0202"/>
<ellipse cx="105.17" cy="2.7" rx="1.43" ry="0.92" fill="#e61a1a" transform="rotate(60 105.17 2.7)"/>
<circle cx="103.27" cy="4.89" r="0.82" fill="#9b0404"/>
<circle cx="108.97" cy="3.38" r="0.67" fill="#9d0404"/>
<circle cx="105.62" cy="5.29" r="0.66" fill="#b10404"/>
<ellipse cx="114.34" cy="9.36" rx="1.54" ry="0.98" fill="#e61a1a" transform="rotate(26 114.34 9.36)"/>
<circle cx="114.62" cy="10.88" r="0.61" fill="#960303"/>
<circle cx="111.16" cy="9.39" r="0.79" fill="#9c0404"/>
<circle cx="112.74" cy="11.1" r="0.68" fill="#ab0404"/>
<circle cx="115.6" cy="7.75" r="0.9" fill="#980303"/>
<ellipse cx="114.34" cy="14.76" rx="1.43" ry="0.92" fill="#e61a1a" transform="rotate(140 114.34 14.76)"/>
<circle cx="115.87" cy="18.12" r="0.59" fill="#a40404"/>
<circle cx="118.27" cy="13.42" r="0.82" fill="#820303"/>
<circle cx="115.13" cy="12.01" r="0.6" fill="#7d0202"/>
<ellipse cx="115.65" cy="22.77" rx="1.23" ry="0.79" fill="#d41010" transform="rotate(92 115.65 22.77)"/>
<circle cx="114.27" cy="22.74" r="0.62" fill="#a50404"/>
<circle cx="117.27" cy="19.9" r="0.58" fill="#930303"/>
<circle cx="112.42" cy="23.23" r="0.6" fill="#b10404"/>
<circle cx="117.07" cy="21.66" r="0.61" fill="#ac0404"/>
<ellipse cx="97.3" cy="29.43" rx="1.13" ry="0.72" fill="#c30505" transform="rotate(71 97.3 29.43)"/>
<circle cx="100.03" cy="28.43" r="0.7" fill="#940303"/>
<circle cx="97.79" cy="31.56" r="0.54" fill="#930303"/>
<circle cx="96.72" cy="27.82" r="0.77" fill="#820303"/>
<ellipse cx="98.61" cy="48.24" rx="1.54" ry="0.98" fill="#e61a1a" transform="rotate(61 98.61 48.24)"/>
<circle cx="94.61" cy="49.96" r="0.72" fill="#a50404"/>
<circle cx="102.38" cy="46.17" r="0.8" fill="#950303"/>
<ellipse cx="115.65" cy="46.8" rx="1.23" ry="0.79" fill="#d41010" transform="rotate(150 115.65 46.8)"/>
<circle cx="113.56" cy="45.65" r="0.64" fill="#a20404"/>
<ellipse cx="77.53" cy="66.96" rx="1.23" ry="0.79" fill="#d41010" transform="rotate(144 77.53 66.96)"/>
<circle cx="81.03" cy="67.34" r="0.85" fill="#a60404"/>
<circle cx="80.84" cy="64.47" r="0.7" fill="#a60404"/>
<ellipse cx="109.1" cy="71.01" rx="1.02" ry="0.66" fill="#c30505" transform="rotate(97 109.1 71.01)"/>
<circle cx="108.63" cy="69.18" r="0.5" fill="#990303"/>
<circle cx="108" cy="68.4" r="0.61" fill="#750202"/>
<circle cx="15.18" cy="48.53" r="0.41" fill="#510101"/>
<circle cx="118.5" cy="12.96" r="0.52" fill="#5f0101"/>
<circle cx="99.12" cy="0.6" r="0.51" fill="#680101"/>
<circle cx="117.64" cy="19.72" r="0.51" fill="#540101"/>
<circle cx="1.69" cy="4.37" r="0.41" fill="#4e0000"/>
<circle cx="68" cy="11.17" r="0.42" fill="#480000"/>
<circle cx="93.62" cy="38.79" r="0.39" fill="#670101"/>
<circle cx="118.5" cy="17.08" r="0.5" fill="#640101"/>
</g>
<g id="mF5" filter="url(#bl4)">
<ellipse cx="104.81" cy="4.38" rx="1.74" ry="1.12" fill="#35e635" transform="rotate(66 104.81 4.38)"/>
<circle cx="103.45" cy="1.22" r="0.84" fill="#068206"/>
<circle cx="105.02" cy="6.12" r="0.59" fill="#09ae09"/>
<ellipse cx="90.28" cy="25.54" rx="1.54" ry="0.98" fill="#35e635" transform="rotate(33 90.28 25.54)"/>
<circle cx="88.35" cy="25.16" r="0.62" fill="#079607"/>
<circle cx="91.95" cy="22.81" r="0.51" fill="#068906"/>
<ellipse cx="67.53" cy="33.67" rx="1.23" ry="0.79" fill="#0bc30b" transform="rotate(37 67.53 33.67)"/>
<circle cx="70.17" cy="30.9" r="0.81" fill="#089c08"/>
<circle cx="67.39" cy="29.41" r="0.8" fill="#057805"/>
<ellipse cx="76.94" cy="35.72" rx="1.43" ry="0.92" fill="#35e635" transform="rotate(59 76.94 35.72)"/>
<circle cx="79.36" cy="33.92" r="0.89" fill="#09a909"/>
<circle cx="79.46" cy="33.6" r="0.76" fill="#078f07"/>
<ellipse cx="82.18" cy="36.35" rx="1.13" ry="0.72" fill="#0bc30b" transform="rotate(152 82.18 36.35)"/>
<circle cx="85.62" cy="36.03" r="0.65" fill="#079707"/>
<circle cx="84.44" cy="38.9" r="0.61" fill="#047304"/>
<circle cx="83.04" cy="39.15" r="0.54" fill="#068406"/>
<ellipse cx="71.46" cy="42.33" rx="1.64" ry="1.05" fill="#35e635" transform="rotate(155 71.46 42.33)"/>
<circle cx="70.11" cy="43.37" r="0.7" fill="#068606"/>
<circle cx="71.63" cy="44.23" r="0.65" fill="#057a05"/>
<ellipse cx="82.18" cy="41.79" rx="1.43" ry="0.92" fill="#35e635" transform="rotate(166 82.18 41.79)"/>
<circle cx="84.59" cy="41.07" r="0.79" fill="#0abd0a"/>
<circle cx="83.86" cy="42.26" r="0.82" fill="#0ab60a"/>
<circle cx="81.02" cy="40.41" r="0.67" fill="#0ab80a"/>
<ellipse cx="75.63" cy="45.1" rx="1.13" ry="0.72" fill="#0bc30b" transform="rotate(89 75.63 45.1)"/>
<circle cx="74.72" cy="41.96" r="0.64" fill="#079107"/>
<circle cx="78.48" cy="43.07" r="0.54" fill="#068706"/>
<ellipse cx="34.18" cy="64.83" rx="1.43" ry="0.92" fill="#35e635" transform="rotate(158 34.18 64.83)"/>
<circle cx="31.43" cy="63.3" r="0.64" fill="#09ad09"/>
<circle cx="32.98" cy="66.7" r="0.57" fill="#09aa09"/>
<ellipse cx="38.11" cy="65.72" rx="1.13" ry="0.72" fill="#0bc30b" transform="rotate(28 38.11 65.72)"/>
<circle cx="39.42" cy="68.02" r="0.67" fill="#079a07"/>
<circle cx="36.65" cy="61.65" r="0.75" fill="#079007"/>
<ellipse cx="55.5" cy="69.48" rx="1.13" ry="0.72" fill="#0bc30b" transform="rotate(134 55.5 69.48)"/>
<circle cx="57.09" cy="71.09" r="0.6" fill="#08a108"/>
<circle cx="52.31" cy="68.09" r="0.79" fill="#068806"/>
<circle cx="116.36" cy="56.94" r="0.39" fill="#025802"/>
<circle cx="26.02" cy="64.77" r="0.52" fill="#014c01"/>
<circle cx="64.85" cy="20.36" r="0.39" fill="#014601"/>
<circle cx="84.5" cy="20.7" r="0.41" fill="#025902"/>
<circle cx="84.24" cy="31.14" r="0.46" fill="#025b02"/>
</g>
<g id="mF6" filter="url(#bl4)">
<ellipse cx="1.79" cy="26.08" rx="1.13" ry="0.72" fill="#c30505" transform="rotate(27 1.79 26.08)"/>
<circle cx="0.81" cy="22.89" r="0.79" fill="#790202"/>
<circle cx="1.66" cy="29.66" r="0.69" fill="#7b0202"/>
<ellipse cx="89.32" cy="26.08" rx="1.23" ry="0.79" fill="#c30505" transform="rotate(175 89.32 26.08)"/>
<circle cx="86.08" cy="28.64" r="0.6" fill="#9e0404"/>
<circle cx="87.79" cy="29.58" r="0.63" fill="#8f0303"/>
<ellipse cx="67.89" cy="34.2" rx="1.43" ry="0.92" fill="#e61a1a" transform="rotate(132 67.89 34.2)"/>
<circle cx="69.68" cy="37.06" r="0.61" fill="#750202"/>
<circle cx="70.74" cy="35.54" r="0.51" fill="#890303"/>
<ellipse cx="80.15" cy="36.35" rx="1.64" ry="1.05" fill="#e61a1a" transform="rotate(97 80.15 36.35)"/>
<circle cx="76.5" cy="34.24" r="0.86" fill="#7b0202"/>
<circle cx="77.58" cy="33.2" r="0.73" fill="#a60404"/>
<ellipse cx="70.98" cy="40.45" rx="1.43" ry="0.92" fill="#e61a1a" transform="rotate(93 70.98 40.45)"/>
<circle cx="73.38" cy="37.73" r="0.69" fill="#a90404"/>
<circle cx="70.56" cy="43.67" r="0.69" fill="#8a0303"/>
<ellipse cx="70.98" cy="45.1" rx="1.43" ry="0.92" fill="#e61a1a" transform="rotate(65 70.98 45.1)"/>
<circle cx="74.18" cy="48.14" r="0.61" fill="#7d0202"/>
<circle cx="72.35" cy="47.29" r="0.77" fill="#a20404"/>
<ellipse cx="88.85" cy="56.97" rx="1.02" ry="0.66" fill="#c30505" transform="rotate(108 88.85 56.97)"/>
<circle cx="90.65" cy="56.67" r="0.54" fill="#7b0202"/>
<circle cx="86.33" cy="57.62" r="0.68" fill="#780202"/>
<ellipse cx="82.3" cy="70.81" rx="1.64" ry="1.05" fill="#e61a1a" transform="rotate(100 82.3 70.81)"/>
<circle cx="79.24" cy="71.82" r="0.7" fill="#a10404"/>
<circle cx="80.17" cy="70.96" r="0.68" fill="#b50505"/>
<circle cx="99.4" cy="54.06" r="0.44" fill="#580101"/>
<circle cx="75.45" cy="44.3" r="0.4" fill="#5b0101"/>
<circle cx="77.64" cy="34.07" r="0.37" fill="#480000"/>
</g>
<g id="mG1" filter="url(#bl4)">
<ellipse cx="55.45" cy="26.8" rx="1.13" ry="0.72" fill="#0bc30b" transform="rotate(53 55.45 26.8)"/>
<circle cx="54.05" cy="26.61" r="0.78" fill="#057705"/>
<circle cx="59.03" cy="28.09" r="0.5" fill="#079307"/>
<ellipse cx="54.05" cy="23.1" rx="1.23" ry="0.79" fill="#0bc30b" transform="rotate(94 54.05 23.1)"/>
<circle cx="56.09" cy="24.95" r="0.63" fill="#058005"/>
<circle cx="51.69" cy="26.6" r="0.57" fill="#057e05"/>
<ellipse cx="44.64" cy="45.6" rx="1.74" ry="1.12" fill="#35e635" transform="rotate(80 44.64 45.6)"/>
<circle cx="43.42" cy="48.95" r="0.67" fill="#08a108"/>
<circle cx="46.16" cy="43.22" r="0.68" fill="#09b309"/>
<ellipse cx="41.43" cy="53.1" rx="1.54" ry="0.98" fill="#35e635" transform="rotate(112 41.43 53.1)"/>
<circle cx="40.06" cy="56.28" r="0.68" fill="#09b109"/>
<circle cx="41.99" cy="51.7" r="0.88" fill="#0ab60a"/>
<circle cx="42.43" cy="55.89" r="0.75" fill="#09b209"/>
<ellipse cx="67.56" cy="46.6" rx="1.84" ry="1.18" fill="#35e635" transform="rotate(4 67.56 46.6)"/>
<circle cx="65.82" cy="46.27" r="0.84" fill="#0aba0a"/>
<circle cx="66.35" cy="47.53" r="0.79" fill="#0abc0a"/>
<ellipse cx="68.96" cy="64.5" rx="1.64" ry="1.05" fill="#35e635" transform="rotate(75 68.96 64.5)"/>
<circle cx="70.75" cy="63.55" r="0.72" fill="#089b08"/>
<circle cx="70.96" cy="65.57" r="0.57" fill="#08a508"/>
<ellipse cx="72.96" cy="67.1" rx="1.33" ry="0.85" fill="#20d420" transform="rotate(99 72.96 67.1)"/>
<circle cx="71.58" cy="69.39" r="0.53" fill="#09ae09"/>
<circle cx="73.76" cy="64.44" r="0.55" fill="#079107"/>
<ellipse cx="6.91" cy="57.8" rx="1.43" ry="0.92" fill="#35e635" transform="rotate(96 6.91 57.8)"/>
<circle cx="9.15" cy="54.26" r="0.8" fill="#068a06"/>
<circle cx="10.86" cy="58.85" r="0.88" fill="#058005"/>
<ellipse cx="15.01" cy="58.6" rx="1.43" ry="0.92" fill="#35e635" transform="rotate(127 15.01 58.6)"/>
<circle cx="10.7" cy="59.12" r="0.52" fill="#057905"/>
<circle cx="16.72" cy="56.04" r="0.68" fill="#09b109"/>
<circle cx="12.13" cy="56.69" r="0.6" fill="#057a05"/>
<ellipse cx="29.83" cy="57.8" rx="1.23" ry="0.79" fill="#20d420" transform="rotate(2 29.83 57.8)"/>
<circle cx="28.17" cy="60.68" r="0.64" fill="#068606"/>
<circle cx="27.25" cy="55.43" r="0.73" fill="#068406"/>
<ellipse cx="24.42" cy="61.8" rx="1.13" ry="0.72" fill="#0bc30b" transform="rotate(7 24.42 61.8)"/>
<circle cx="27.62" cy="59.27" r="0.46" fill="#079207"/>
<circle cx="22.97" cy="63.85" r="0.64" fill="#047104"/>
<ellipse cx="19.02" cy="59.1" rx="1.02" ry="0.66" fill="#09b109" transform="rotate(63 19.02 59.1)"/>
<circle cx="20.8" cy="58.94" r="0.71" fill="#068706"/>
<circle cx="18.32" cy="60.72" r="0.61" fill="#068806"/>
<ellipse cx="35.23" cy="54.3" rx="1.02" ry="0.66" fill="#0bc30b" transform="rotate(87 35.23 54.3)"/>
<circle cx="37.26" cy="51.69" r="0.58" fill="#08a308"/>
<circle cx="38.78" cy="54.01" r="0.54" fill="#089f08"/>
<ellipse cx="45.44" cy="56.4" rx="1.02" ry="0.66" fill="#09b109" transform="rotate(32 45.44 56.4)"/>
<circle cx="46.93" cy="57.46" r="0.65" fill="#058005"/>
<circle cx="42.28" cy="56.71" r="0.54" fill="#068d06"/>
<ellipse cx="55.45" cy="69.9" rx="1.13" ry="0.72" fill="#0bc30b" transform="rotate(1 55.45 69.9)"/>
<circle cx="55.81" cy="68.15" r="0.69" fill="#089c08"/>
<circle cx="53.71" cy="67.32" r="0.65" fill="#079707"/>
<ellipse cx="27.92" cy="76.6" rx="1.02" ry="0.66" fill="#09b109" transform="rotate(94 27.92 76.6)"/>
<circle cx="28.16" cy="78.92" r="0.58" fill="#036803"/>
<circle cx="25.84" cy="76.2" r="0.46" fill="#068806"/>
<ellipse cx="1.5" cy="81.1" rx="1.02" ry="0.66" fill="#0bc30b" transform="rotate(86 1.5 81.1)"/>
<circle cx="4.41" cy="77.82" r="0.63" fill="#058105"/>
<circle cx="1.26" cy="82.79" r="0.5" fill="#08a608"/>
<ellipse cx="11.01" cy="67.1" rx="0.92" ry="0.59" fill="#08a008" transform="rotate(15 11.01 67.1)"/>
<circle cx="13.32" cy="65.76" r="0.6" fill="#036003"/>
<circle cx="10.1" cy="65.91" r="0.57" fill="#058105"/>
<ellipse cx="81.07" cy="55.1" rx="0.92" ry="0.59" fill="#08a008" transform="rotate(113 81.07 55.1)"/>
<circle cx="82.73" cy="57.76" r="0.46" fill="#057805"/>
<circle cx="82.43" cy="53.8" r="0.44" fill="#057e05"/>
<ellipse cx="82.37" cy="65.8" rx="0.92" ry="0.59" fill="#08a008" transform="rotate(43 82.37 65.8)"/>
<circle cx="82.37" cy="64.45" r="0.42" fill="#068a06"/>
<circle cx="84.23" cy="64.77" r="0.42" fill="#035e03"/>
<ellipse cx="87.77" cy="33.5" rx="0.92" ry="0.59" fill="#08a008" transform="rotate(70 87.77 33.5)"/>
<circle cx="89.35" cy="33.26" r="0.65" fill="#035c03"/>
<circle cx="86.21" cy="36.24" r="0.42" fill="#057b05"/>
<ellipse cx="93.08" cy="38.9" rx="0.92" ry="0.59" fill="#08a008" transform="rotate(0 93.08 38.9)"/>
<circle cx="92.17" cy="37.04" r="0.47" fill="#068506"/>
<circle cx="91.74" cy="37.97" r="0.5" fill="#047004"/>
<ellipse cx="87.77" cy="104.9" rx="0.92" ry="0.59" fill="#08a008" transform="rotate(178 87.77 104.9)"/>
<circle cx="86.47" cy="104.88" r="0.57" fill="#046a04"/>
<circle cx="89.3" cy="103.95" r="0.58" fill="#047104"/>
<ellipse cx="93.08" cy="108.9" rx="1.23" ry="0.79" fill="#20d420" transform="rotate(21 93.08 108.9)"/>
<circle cx="94.13" cy="107.41" r="0.71" fill="#068a06"/>
<circle cx="95.05" cy="110.51" r="0.62" fill="#09ae09"/>
<ellipse cx="89.08" cy="31.1" rx="0.92" ry="0.59" fill="#08a008" transform="rotate(115 89.08 31.1)"/>
<circle cx="90.46" cy="33.85" r="0.64" fill="#036103"/>
<circle cx="91.07" cy="29.35" r="0.45" fill="#057605"/>
<ellipse cx="2.5" cy="57.1" rx="1.13" ry="0.72" fill="#0bc30b" transform="rotate(74 2.5 57.1)"/>
<circle cx="5.2" cy="56.33" r="0.64" fill="#046f04"/>
<ellipse cx="42.54" cy="46.1" rx="1.23" ry="0.79" fill="#0bc30b" transform="rotate(62 42.54 46.1)"/>
<circle cx="40.45" cy="47.72" r="0.73" fill="#089b08"/>
<circle cx="41.69" cy="43.47" r="0.74" fill="#058105"/>
<ellipse cx="70.06" cy="51.1" rx="1.23" ry="0.79" fill="#0bc30b" transform="rotate(120 70.06 51.1)"/>
<circle cx="68.98" cy="53.34" r="0.88" fill="#057f05"/>
<circle cx="69.24" cy="49.72" r="0.54" fill="#057605"/>
<ellipse cx="64.05" cy="43.1" rx="1.13" ry="0.72" fill="#0bc30b" transform="rotate(172 64.05 43.1)"/>
<circle cx="64.52" cy="46.42" r="0.48" fill="#079307"/>
<circle cx="63.43" cy="41.09" r="0.54" fill="#057705"/>
<circle cx="62.18" cy="43.17" r="0.54" fill="#079a07"/>
<circle cx="102.75" cy="74.06" r="0.51" fill="#046904"/>
<circle cx="72.66" cy="31.37" r="0.51" fill="#046a04"/>
<circle cx="79.08" cy="25.32" r="0.36" fill="#036103"/>
<circle cx="75.53" cy="74.92" r="0.43" fill="#014c01"/>
<circle cx="82.87" cy="43.55" r="0.49" fill="#025b02"/>
<circle cx="66.1" cy="21.01" r="0.54" fill="#025802"/>
<circle cx="52.04" cy="71.85" r="0.58" fill="#025202"/>
<circle cx="11.17" cy="59.56" r="0.51" fill="#036003"/>
<circle cx="73.34" cy="41.57" r="0.4" fill="#014e01"/>
<circle cx="72.28" cy="63.2" r="0.48" fill="#014b01"/>
<g fill="none" stroke="#35f535" stroke-width="1.5" stroke-linecap="round" stroke-linejoin="round"><polyline points="41.4,47 48.7,44.6"/><polyline points="38.7,53.7 44.6,52.4"/><polyline points="66.2,49.7 70.2,45.3 72.9,44.3"/><polyline points="64.8,63.9 70.2,65.8 73.7,69.3"/><polyline points="6.1,56.9 8.3,59.6"/><polyline points="14.5,56.9 15.8,60.4"/><polyline points="29.3,56.4 30.6,59.1"/><polyline points="23.1,61.8 25.8,62.6"/><polyline points="53.2,26.3 58.1,27.9"/></g>
</g>
<g id="mG2" filter="url(#bl4)">
<ellipse cx="81.88" cy="34.6" rx="1.74" ry="1.12" fill="#e61a1a" transform="rotate(92 81.88 34.6)"/>
<circle cx="79.3" cy="34.92" r="0.68" fill="#940303"/>
<circle cx="80.72" cy="32.84" r="0.75" fill="#750202"/>
<ellipse cx="85.27" cy="33.6" rx="1.54" ry="0.98" fill="#e61a1a" transform="rotate(77 85.27 33.6)"/>
<circle cx="83.13" cy="29.9" r="0.74" fill="#750202"/>
<circle cx="85.86" cy="36.73" r="0.51" fill="#800202"/>
<ellipse cx="88.17" cy="32.1" rx="1.23" ry="0.79" fill="#d41010" transform="rotate(155 88.17 32.1)"/>
<circle cx="86.3" cy="30.08" r="0.73" fill="#9f0404"/>
<circle cx="91.9" cy="31.76" r="0.63" fill="#8b0303"/>
<circle cx="90.61" cy="33.56" r="0.7" fill="#7a0202"/>
<ellipse cx="97.86" cy="26.1" rx="1.13" ry="0.72" fill="#c30505" transform="rotate(144 97.86 26.1)"/>
<circle cx="95.94" cy="25.06" r="0.48" fill="#a60404"/>
<circle cx="100.33" cy="26.2" r="0.63" fill="#7b0202"/>
<ellipse cx="100.29" cy="38.6" rx="0.92" ry="0.59" fill="#a00404" transform="rotate(81 100.29 38.6)"/>
<circle cx="98.95" cy="39" r="0.51" fill="#830303"/>
<circle cx="97.39" cy="39.64" r="0.37" fill="#830303"/>
<ellipse cx="77.03" cy="94.6" rx="1.54" ry="0.98" fill="#e61a1a" transform="rotate(178 77.03 94.6)"/>
<circle cx="73.95" cy="95.51" r="0.7" fill="#760202"/>
<circle cx="78.28" cy="96.19" r="0.66" fill="#910303"/>
<ellipse cx="81.88" cy="96.1" rx="1.33" ry="0.85" fill="#d41010" transform="rotate(138 81.88 96.1)"/>
<circle cx="80.5" cy="93.95" r="0.63" fill="#920303"/>
<circle cx="85.46" cy="95" r="0.76" fill="#a80404"/>
<ellipse cx="92.05" cy="30.1" rx="1.02" ry="0.66" fill="#b10404" transform="rotate(58 92.05 30.1)"/>
<circle cx="93.04" cy="30.82" r="0.45" fill="#620101"/>
<circle cx="89.79" cy="27.83" r="0.45" fill="#870303"/>
<circle cx="112.38" cy="84.6" r="0.41" fill="#470000"/>
<circle cx="82.43" cy="42.58" r="0.38" fill="#5b0101"/>
<circle cx="23.87" cy="63.03" r="0.47" fill="#5f0101"/>
<circle cx="57.42" cy="101.82" r="0.53" fill="#520101"/>
<circle cx="37.4" cy="55.36" r="0.38" fill="#490000"/>
<g fill="none" stroke="#ff2a2a" stroke-width="1.7" stroke-linecap="round" stroke-linejoin="round"><polyline points="82.5,35.3 86.5,33.9"/><polyline points="88.5,33.3 91.5,31.7"/><polyline points="78.5,94.3 82,95.7"/><polyline points="100,26.7 102.2,25.3"/></g>
</g>
<g id="dF3">
<rect width="121.7" height="90" fill="#00000e"/>
<g filter="url(#bl6)">
<ellipse cx="20.07" cy="62.08" rx="1.82" ry="1.7" fill="#020284"/>
<ellipse cx="98.32" cy="46.12" rx="1.6" ry="1.3" fill="#010178"/>
<ellipse cx="28.27" cy="20.94" rx="2.34" ry="2.25" fill="#0707d0"/>
<ellipse cx="74.95" cy="3.07" rx="1.72" ry="1.69" fill="#03039b"/>
<ellipse cx="44.84" cy="13.93" rx="2.53" ry="2.11" fill="#00005b"/>
<ellipse cx="67.18" cy="30.86" rx="1.64" ry="1.57" fill="#010169"/>
<ellipse cx="28.58" cy="70.22" rx="2.49" ry="2.31" fill="#0707cc"/>
<ellipse cx="92.83" cy="52.27" rx="2.08" ry="1.97" fill="#000064"/>
<ellipse cx="24.47" cy="83.09" rx="1.97" ry="1.64" fill="#01017c"/>
<ellipse cx="46.95" cy="89.54" rx="1.69" ry="1.55" fill="#00004f"/>
<ellipse cx="120.83" cy="44.64" rx="2.35" ry="1.8" fill="#0505b8"/>
<ellipse cx="74.1" cy="50.08" rx="1.77" ry="1.42" fill="#010169"/>
<ellipse cx="112.82" cy="31.2" rx="1.7" ry="1.23" fill="#020288"/>
<ellipse cx="99.03" cy="69.93" rx="2.28" ry="2.21" fill="#0606c6"/>
<ellipse cx="116.62" cy="36.63" rx="2.19" ry="2.11" fill="#0c0cfa"/>
<ellipse cx="59.74" cy="33.8" rx="1.76" ry="1.27" fill="#0707d2"/>
<ellipse cx="98" cy="69.65" rx="1.65" ry="1.28" fill="#0909e2"/>
<ellipse cx="35.28" cy="37.76" rx="1.94" ry="1.88" fill="#000053"/>
<ellipse cx="119.69" cy="67.13" rx="2.56" ry="2.19" fill="#010180"/>
<ellipse cx="88.67" cy="2.55" rx="2.4" ry="2.31" fill="#0808dd"/>
<ellipse cx="73.18" cy="38.35" rx="1.91" ry="1.64" fill="#0808d6"/>
<ellipse cx="33.59" cy="69.14" rx="2.55" ry="1.81" fill="#0404a6"/>
<ellipse cx="72.25" cy="57.95" rx="1.86" ry="1.53" fill="#0404a9"/>
<ellipse cx="116.68" cy="81.5" rx="1.69" ry="1.2" fill="#000064"/>
<ellipse cx="54.38" cy="12.67" rx="1.73" ry="1.49" fill="#0404ac"/>
<ellipse cx="39.46" cy="44.45" rx="1.78" ry="1.45" fill="#000060"/>
<ellipse cx="86.4" cy="49.5" rx="2.47" ry="2.31" fill="#0606c5"/>
<ellipse cx="96.23" cy="0.7" rx="2.36" ry="1.78" fill="#00005b"/>
<ellipse cx="86.59" cy="22.76" rx="1.64" ry="1.34" fill="#020281"/>
<ellipse cx="37.66" cy="81.07" rx="2.15" ry="2.12" fill="#02028e"/>
<ellipse cx="12" cy="54.11" rx="2.57" ry="2.04" fill="#0303a2"/>
<ellipse cx="85.12" cy="47.32" rx="2.41" ry="2.4" fill="#00005a"/>
<ellipse cx="43.23" cy="28.63" rx="1.68" ry="1.21" fill="#000059"/>
<ellipse cx="99.1" cy="68.39" rx="1.62" ry="1.45" fill="#0505bb"/>
<ellipse cx="53.87" cy="46.57" rx="1.83" ry="1.3" fill="#020285"/>
<ellipse cx="52.81" cy="22.24" rx="2.32" ry="1.94" fill="#0606c4"/>
<ellipse cx="28.77" cy="34.69" rx="2.56" ry="1.86" fill="#03039c"/>
<ellipse cx="58.38" cy="44.27" rx="2.38" ry="2.11" fill="#0707d4"/>
<ellipse cx="92.31" cy="60.12" rx="2.28" ry="1.77" fill="#0606c6"/>
<ellipse cx="111.56" cy="34.74" rx="2.56" ry="2.56" fill="#0a0ae8"/>
<ellipse cx="0.78" cy="28.14" rx="1.75" ry="1.51" fill="#010172"/>
<ellipse cx="90.34" cy="41.61" rx="2.3" ry="1.76" fill="#0b0bf4"/>
<ellipse cx="40.81" cy="57.74" rx="2.55" ry="2.03" fill="#01016d"/>
<ellipse cx="30.94" cy="76.08" rx="1.8" ry="1.58" fill="#0404a4"/>
<ellipse cx="33.76" cy="34.11" rx="2.04" ry="1.8" fill="#020287"/>
<ellipse cx="34.15" cy="15.69" rx="1.79" ry="1.77" fill="#01016d"/>
<ellipse cx="85.75" cy="1.71" rx="2.21" ry="2.01" fill="#000056"/>
<ellipse cx="29.24" cy="0.68" rx="1.91" ry="1.6" fill="#000055"/>
<ellipse cx="108.86" cy="33.3" rx="2.42" ry="2.08" fill="#0909e0"/>
<ellipse cx="5.98" cy="16.88" rx="1.83" ry="1.72" fill="#020287"/>
<ellipse cx="102.65" cy="83.26" rx="2.18" ry="1.58" fill="#000055"/>
<ellipse cx="73.81" cy="55.83" rx="1.94" ry="1.51" fill="#0707ce"/>
<ellipse cx="42.98" cy="26.82" rx="1.67" ry="1.2" fill="#0707ca"/>
<ellipse cx="62.28" cy="61.02" rx="1.66" ry="1.18" fill="#010174"/>
<ellipse cx="65.54" cy="36.76" rx="2.12" ry="1.54" fill="#0505bd"/>
<ellipse cx="100.68" cy="19.23" rx="2.13" ry="1.89" fill="#02028c"/>
<ellipse cx="21.19" cy="63.87" rx="2.45" ry="2.31" fill="#00005c"/>
<ellipse cx="110.3" cy="61.15" rx="2.5" ry="2.15" fill="#0909de"/>
<ellipse cx="110.56" cy="87.32" rx="2.54" ry="2.38" fill="#0c0cfa"/>
<ellipse cx="1.37" cy="31.67" rx="2.36" ry="2.11" fill="#02028c"/>
<ellipse cx="19.65" cy="83.77" rx="1.81" ry="1.81" fill="#0505ba"/>
<ellipse cx="67.53" cy="69.8" rx="1.96" ry="1.42" fill="#0808d8"/>
<ellipse cx="49.36" cy="16.04" rx="1.96" ry="1.45" fill="#0606c2"/>
<ellipse cx="3.29" cy="38.07" rx="2.27" ry="1.73" fill="#000049"/>
<ellipse cx="13.03" cy="83.49" rx="2.11" ry="1.56" fill="#0505b8"/>
<ellipse cx="29.21" cy="38.18" rx="2.35" ry="2.11" fill="#0404b0"/>
<ellipse cx="30.78" cy="38.71" rx="1.87" ry="1.61" fill="#020289"/>
<ellipse cx="55.83" cy="3.2" rx="2.4" ry="2.21" fill="#0303a2"/>
<ellipse cx="88.94" cy="89.41" rx="1.6" ry="1.44" fill="#02028f"/>
<ellipse cx="70.77" cy="51.88" rx="1.83" ry="1.68" fill="#01016b"/>
<ellipse cx="98.87" cy="43.46" rx="2.43" ry="2.06" fill="#02028f"/>
<ellipse cx="56.16" cy="35.05" rx="2.29" ry="2.2" fill="#0404a4"/>
<ellipse cx="91.43" cy="33.74" rx="2.39" ry="2.34" fill="#0808d4"/>
<ellipse cx="24.19" cy="76.29" rx="1.91" ry="1.7" fill="#000052"/>
<ellipse cx="17.79" cy="74.8" rx="1.9" ry="1.45" fill="#03039e"/>
<ellipse cx="25.19" cy="44.78" rx="2.29" ry="1.83" fill="#000063"/>
<ellipse cx="79.02" cy="33.14" rx="1.66" ry="1.51" fill="#000064"/>
<ellipse cx="50.34" cy="11.09" rx="1.62" ry="1.49" fill="#0404aa"/>
<ellipse cx="72.37" cy="39.94" rx="1.97" ry="1.76" fill="#0a0ae9"/>
<ellipse cx="91.88" cy="57.22" rx="1.82" ry="1.71" fill="#0404a5"/>
<ellipse cx="2.42" cy="57.89" rx="2.19" ry="1.91" fill="#00005e"/>
<ellipse cx="10.56" cy="44.11" rx="1.93" ry="1.54" fill="#0404a9"/>
<ellipse cx="26.21" cy="4.33" rx="2.22" ry="2.12" fill="#00005b"/>
<ellipse cx="26.9" cy="10.06" rx="2.01" ry="1.86" fill="#000057"/>
<ellipse cx="24.72" cy="62.97" rx="1.84" ry="1.62" fill="#000053"/>
<ellipse cx="11.71" cy="18.33" rx="2.12" ry="1.91" fill="#0404ad"/>
<ellipse cx="1.1" cy="27.23" rx="1.96" ry="1.83" fill="#0505b3"/>
<ellipse cx="4.18" cy="44.86" rx="2.18" ry="1.64" fill="#0303a2"/>
<ellipse cx="112.72" cy="7.18" rx="2.32" ry="1.99" fill="#0909df"/>
<ellipse cx="19.96" cy="30.68" rx="1.99" ry="1.87" fill="#03039b"/>
<ellipse cx="6.5" cy="25.85" rx="2.39" ry="2.22" fill="#01016c"/>
<ellipse cx="18.18" cy="27.76" rx="2.04" ry="1.57" fill="#03039b"/>
<ellipse cx="45.54" cy="77.87" rx="2.23" ry="1.88" fill="#0404ad"/>
<ellipse cx="67.71" cy="32.74" rx="1.9" ry="1.52" fill="#030398"/>
<ellipse cx="22.7" cy="82.2" rx="1.63" ry="1.25" fill="#000061"/>
<ellipse cx="105.69" cy="30.32" rx="2.25" ry="1.88" fill="#010178"/>
<ellipse cx="89.62" cy="47.56" rx="2.19" ry="2.08" fill="#01017d"/>
<ellipse cx="84.17" cy="43.21" rx="2.45" ry="1.82" fill="#0909e4"/>
<ellipse cx="82.66" cy="69.49" rx="2.48" ry="1.92" fill="#0a0af0"/>
<ellipse cx="121.3" cy="29.49" rx="1.77" ry="1.45" fill="#0c0cfa"/>
<ellipse cx="76.17" cy="24.56" rx="2.21" ry="2.04" fill="#0707ce"/>
<ellipse cx="96.13" cy="78.49" rx="2.58" ry="2.19" fill="#0909df"/>
<ellipse cx="85.38" cy="46.25" rx="2.03" ry="1.83" fill="#0505bb"/>
<ellipse cx="35.89" cy="11.65" rx="1.6" ry="1.17" fill="#00005b"/>
<ellipse cx="55.29" cy="68.7" rx="1.71" ry="1.46" fill="#0404a9"/>
<ellipse cx="36" cy="40.14" rx="1.99" ry="1.83" fill="#020280"/>
<ellipse cx="14.1" cy="31.4" rx="2.58" ry="2" fill="#0404b0"/>
<ellipse cx="102.98" cy="12.16" rx="1.95" ry="1.74" fill="#0b0bf8"/>
<ellipse cx="99.61" cy="25.08" rx="1.94" ry="1.46" fill="#000053"/>
<ellipse cx="42.09" cy="19.18" rx="1.77" ry="1.55" fill="#0505bc"/>
<ellipse cx="67.44" cy="76.45" rx="1.77" ry="1.64" fill="#0404ad"/>
<ellipse cx="11.87" cy="83.57" rx="1.82" ry="1.49" fill="#000064"/>
<ellipse cx="96.33" cy="76.94" rx="1.84" ry="1.47" fill="#0707cd"/>
<ellipse cx="37.02" cy="39" rx="1.68" ry="1.67" fill="#0808d6"/>
<ellipse cx="111.76" cy="41.48" rx="1.79" ry="1.58" fill="#0909e0"/>
<ellipse cx="10.31" cy="64.32" rx="1.77" ry="1.53" fill="#0505b8"/>
<ellipse cx="14.68" cy="72.39" rx="1.91" ry="1.42" fill="#00004b"/>
<ellipse cx="77.34" cy="56.7" rx="2.57" ry="2.13" fill="#0a0aea"/>
<ellipse cx="69.88" cy="32.71" rx="2.04" ry="1.89" fill="#02028a"/>
<ellipse cx="22.69" cy="26.85" rx="1.67" ry="1.62" fill="#000064"/>
<ellipse cx="19.41" cy="36.99" rx="1.95" ry="1.68" fill="#000067"/>
<ellipse cx="14.12" cy="47.99" rx="1.8" ry="1.39" fill="#000050"/>
<ellipse cx="41.56" cy="26.21" rx="2.07" ry="1.93" fill="#0404a6"/>
<ellipse cx="90.72" cy="48.09" rx="2.53" ry="1.97" fill="#0505b9"/>
<ellipse cx="81.73" cy="87.92" rx="1.69" ry="1.55" fill="#0909e5"/>
<ellipse cx="32.3" cy="67.53" rx="1.85" ry="1.44" fill="#020290"/>
<ellipse cx="105.33" cy="57.9" rx="1.89" ry="1.87" fill="#000065"/>
<ellipse cx="24.73" cy="48.4" rx="2.15" ry="2.13" fill="#02028a"/>
<ellipse cx="95.1" cy="21.33" rx="2.28" ry="2.06" fill="#030396"/>
<ellipse cx="31.76" cy="62.32" rx="1.89" ry="1.54" fill="#00004c"/>
<ellipse cx="23.97" cy="60.36" rx="2.23" ry="2.13" fill="#0606c4"/>
<ellipse cx="59.83" cy="52.8" rx="1.96" ry="1.59" fill="#000055"/>
<ellipse cx="41.5" cy="38.5" rx="2.56" ry="1.97" fill="#0404a9"/>
<ellipse cx="22.6" cy="30.12" rx="2.37" ry="1.78" fill="#000064"/>
<ellipse cx="72.42" cy="64.91" rx="2.56" ry="2.44" fill="#00005b"/>
<ellipse cx="58.54" cy="77.35" rx="2" ry="1.89" fill="#000064"/>
<ellipse cx="56.44" cy="3.77" rx="2.19" ry="1.95" fill="#000066"/>
<ellipse cx="41.73" cy="60.48" rx="1.78" ry="1.31" fill="#020291"/>
<ellipse cx="40.98" cy="10.35" rx="2.15" ry="2.02" fill="#0404a5"/>
<ellipse cx="58.09" cy="7.57" rx="2.35" ry="2.33" fill="#020286"/>
<ellipse cx="63.8" cy="22.54" rx="1.92" ry="1.4" fill="#030397"/>
<ellipse cx="48.49" cy="59.05" rx="2.48" ry="2.34" fill="#0505b9"/>
<ellipse cx="50.07" cy="57.99" rx="2.31" ry="1.8" fill="#0606bf"/>
<ellipse cx="57.48" cy="24.46" rx="2.38" ry="2.33" fill="#02028a"/>
<ellipse cx="94.64" cy="34.21" rx="2.5" ry="1.9" fill="#0b0bf5"/>
<ellipse cx="44.08" cy="70.93" rx="2.05" ry="2.02" fill="#010171"/>
<ellipse cx="10.98" cy="24.67" rx="2.55" ry="2.14" fill="#0505b8"/>
<ellipse cx="96.18" cy="87.51" rx="1.86" ry="1.74" fill="#010176"/>
<ellipse cx="24.47" cy="56.59" rx="2.11" ry="1.79" fill="#0707c9"/>
<ellipse cx="109.96" cy="67.71" rx="2" ry="1.98" fill="#0909e3"/>
<ellipse cx="117.21" cy="44.39" rx="1.88" ry="1.43" fill="#01017b"/>
<ellipse cx="20.47" cy="65.72" rx="2.2" ry="2.02" fill="#030394"/>
<ellipse cx="69.06" cy="83.46" rx="2.18" ry="1.7" fill="#00005b"/>
<ellipse cx="120.25" cy="82.96" rx="1.84" ry="1.56" fill="#0a0aef"/>
<ellipse cx="46.59" cy="31.07" rx="2.25" ry="1.59" fill="#02028d"/>
<ellipse cx="67.15" cy="53.03" rx="2.31" ry="2.25" fill="#0505ba"/>
<ellipse cx="70.67" cy="24.28" rx="2.34" ry="1.86" fill="#000056"/>
<ellipse cx="20.57" cy="3.29" rx="1.99" ry="1.7" fill="#0505b6"/>
<ellipse cx="96.18" cy="88.05" rx="2.38" ry="2.23" fill="#0606c7"/>
<ellipse cx="42.2" cy="42.69" rx="2.09" ry="1.86" fill="#01016c"/>
<ellipse cx="103.6" cy="21.94" rx="1.76" ry="1.48" fill="#010176"/>
<ellipse cx="78.84" cy="57.61" rx="2.13" ry="1.8" fill="#010168"/>
<ellipse cx="31.5" cy="82.59" rx="1.64" ry="1.47" fill="#01016a"/>
<ellipse cx="80.04" cy="20.13" rx="1.8" ry="1.77" fill="#0505b5"/>
<ellipse cx="103.85" cy="28.24" rx="1.95" ry="1.61" fill="#000067"/>
<ellipse cx="116.23" cy="26.89" rx="2.42" ry="1.83" fill="#010177"/>
<ellipse cx="103.17" cy="30.68" rx="1.87" ry="1.6" fill="#0a0aed"/>
<ellipse cx="77.4" cy="51.99" rx="1.91" ry="1.43" fill="#0505b5"/>
<ellipse cx="1.09" cy="54.52" rx="1.76" ry="1.58" fill="#0404a4"/>
<ellipse cx="55.17" cy="47.25" rx="2.04" ry="1.82" fill="#030397"/>
<ellipse cx="17.99" cy="78.55" rx="2.08" ry="2.05" fill="#00004d"/>
<ellipse cx="119.12" cy="38.37" rx="1.88" ry="1.33" fill="#0c0cfa"/>
<ellipse cx="30.07" cy="42.36" rx="1.93" ry="1.78" fill="#000052"/>
<ellipse cx="41.91" cy="15.81" rx="2.3" ry="1.94" fill="#020286"/>
<ellipse cx="98.96" cy="64.95" rx="1.98" ry="1.43" fill="#0505b9"/>
<ellipse cx="57.59" cy="88.26" rx="2.17" ry="2.05" fill="#020283"/>
<ellipse cx="63.38" cy="71.12" rx="2.4" ry="2.11" fill="#0505b4"/>
<ellipse cx="2.53" cy="59.13" rx="1.71" ry="1.59" fill="#010168"/>
<ellipse cx="20.49" cy="64.73" rx="2.3" ry="2.24" fill="#000061"/>
<ellipse cx="8.71" cy="55.29" rx="1.68" ry="1.18" fill="#020291"/>
<ellipse cx="109.66" cy="17.81" rx="2.59" ry="2.25" fill="#0a0aeb"/>
<ellipse cx="120.4" cy="70.85" rx="1.96" ry="1.6" fill="#010173"/>
<ellipse cx="87.24" cy="23.37" rx="1.91" ry="1.7" fill="#030399"/>
<ellipse cx="52.82" cy="88.16" rx="2.24" ry="1.87" fill="#0707d1"/>
<ellipse cx="9.48" cy="58.22" rx="2.31" ry="1.99" fill="#010170"/>
<ellipse cx="10.98" cy="77.34" rx="2.36" ry="2.27" fill="#020280"/>
<ellipse cx="103.92" cy="33.08" rx="2.15" ry="1.79" fill="#01016b"/>
<ellipse cx="98.68" cy="31.29" rx="1.95" ry="1.48" fill="#000062"/>
<ellipse cx="73.05" cy="40.16" rx="2.16" ry="1.61" fill="#020292"/>
<ellipse cx="118.85" cy="32.48" rx="1.97" ry="1.54" fill="#020285"/>
<ellipse cx="103.94" cy="6.45" rx="2.08" ry="1.66" fill="#0505b9"/>
<ellipse cx="58.92" cy="5.63" rx="2.37" ry="1.96" fill="#02028c"/>
<ellipse cx="50.54" cy="58.87" rx="1.79" ry="1.59" fill="#03039a"/>
<ellipse cx="65.61" cy="58.86" rx="2.59" ry="1.99" fill="#0606c8"/>
<ellipse cx="116.09" cy="40.03" rx="2.52" ry="2.49" fill="#0404a4"/>
<ellipse cx="97.97" cy="27.11" rx="2.27" ry="2.07" fill="#010172"/>
<ellipse cx="41.12" cy="3.75" rx="2.41" ry="2.07" fill="#000057"/>
<ellipse cx="74.51" cy="83.44" rx="2.39" ry="2.11" fill="#01016f"/>
<ellipse cx="119.08" cy="11.85" rx="1.85" ry="1.58" fill="#0a0aed"/>
<ellipse cx="56.99" cy="87.63" rx="1.8" ry="1.75" fill="#00005f"/>
<ellipse cx="99.29" cy="12.58" rx="2.33" ry="2.02" fill="#02028f"/>
<ellipse cx="104.42" cy="44.05" rx="2.45" ry="2.02" fill="#0505b2"/>
<ellipse cx="100.57" cy="40.19" rx="1.83" ry="1.55" fill="#02028d"/>
<ellipse cx="116.75" cy="53.17" rx="1.97" ry="1.72" fill="#010172"/>
<ellipse cx="46.7" cy="0.79" rx="2.26" ry="2.25" fill="#00005c"/>
<ellipse cx="35.23" cy="24.27" rx="2.58" ry="1.92" fill="#020292"/>
<ellipse cx="29.82" cy="80.66" rx="2.32" ry="1.63" fill="#0303a1"/>
<ellipse cx="3.33" cy="68.31" rx="2.07" ry="1.51" fill="#030398"/>
<ellipse cx="64.13" cy="9.88" rx="2.11" ry="1.78" fill="#000052"/>
<ellipse cx="34.62" cy="19.92" rx="1.73" ry="1.72" fill="#00004d"/>
<ellipse cx="4.04" cy="64.48" rx="1.9" ry="1.89" fill="#02028b"/>
<ellipse cx="98.3" cy="36.42" rx="1.76" ry="1.69" fill="#0b0bf2"/>
<ellipse cx="75.35" cy="51.03" rx="1.69" ry="1.31" fill="#0404ab"/>
<ellipse cx="43.03" cy="19.92" rx="2.02" ry="1.86" fill="#0404af"/>
<ellipse cx="47.7" cy="84.75" rx="2.02" ry="1.9" fill="#020293"/>
<ellipse cx="15.92" cy="49.13" rx="1.83" ry="1.58" fill="#030395"/>
<ellipse cx="119.89" cy="9.26" rx="2.05" ry="1.48" fill="#0c0cfa"/>
<ellipse cx="60.45" cy="86.67" rx="2.38" ry="1.75" fill="#0606be"/>
<ellipse cx="73.38" cy="13.35" rx="1.9" ry="1.7" fill="#03039f"/>
<ellipse cx="64.11" cy="20.65" rx="2.4" ry="1.88" fill="#00004e"/>
<ellipse cx="109.43" cy="54.65" rx="2.46" ry="2.35" fill="#010177"/>
<ellipse cx="116.93" cy="53.07" rx="2.27" ry="1.82" fill="#0b0bf9"/>
<ellipse cx="67.29" cy="78.01" rx="1.8" ry="1.44" fill="#0606c2"/>
<ellipse cx="10.4" cy="30.16" rx="2.39" ry="1.76" fill="#01016a"/>
<ellipse cx="28.99" cy="26.15" rx="2.53" ry="1.78" fill="#03039a"/>
<ellipse cx="10.48" cy="74" rx="1.79" ry="1.77" fill="#0505b6"/>
<ellipse cx="57.31" cy="54.54" rx="2.01" ry="1.69" fill="#0606c8"/>
<ellipse cx="95.97" cy="23.07" rx="2.48" ry="2.35" fill="#0909e7"/>
<ellipse cx="41.85" cy="30.86" rx="1.65" ry="1.24" fill="#0606c0"/>
<ellipse cx="2.93" cy="41.16" rx="1.85" ry="1.45" fill="#00004e"/>
<ellipse cx="85.35" cy="32.09" rx="2.5" ry="1.87" fill="#0606c1"/>
<ellipse cx="7.68" cy="36.67" rx="1.74" ry="1.55" fill="#00004d"/>
<ellipse cx="92.66" cy="40.67" rx="1.7" ry="1.23" fill="#0404ac"/>
<ellipse cx="6.91" cy="84.33" rx="2.42" ry="1.84" fill="#01017e"/>
<ellipse cx="47.46" cy="71.43" rx="2.14" ry="2.13" fill="#000065"/>
<ellipse cx="99.63" cy="86.63" rx="2.1" ry="1.48" fill="#00005b"/>
<ellipse cx="117.11" cy="26.29" rx="2.03" ry="1.88" fill="#0b0bf6"/>
<ellipse cx="18.81" cy="40.05" rx="1.79" ry="1.71" fill="#020282"/>
<ellipse cx="43.54" cy="82.14" rx="1.72" ry="1.56" fill="#0606c1"/>
<ellipse cx="115.81" cy="56.48" rx="2.57" ry="2.43" fill="#0c0cfa"/>
<ellipse cx="27.08" cy="8.03" rx="1.66" ry="1.44" fill="#000059"/>
<ellipse cx="114.93" cy="24.37" rx="2.54" ry="1.84" fill="#0c0cfa"/>
<ellipse cx="16.33" cy="85.97" rx="1.78" ry="1.63" fill="#00005c"/>
<ellipse cx="11.8" cy="9.36" rx="1.97" ry="1.88" fill="#02028d"/>
<ellipse cx="18.6" cy="80.73" rx="2.2" ry="1.99" fill="#010175"/>
<ellipse cx="14.85" cy="83.89" rx="2.45" ry="1.73" fill="#020286"/>
<ellipse cx="26.6" cy="64.6" rx="1.78" ry="1.47" fill="#0707cf"/>
<ellipse cx="95.92" cy="39.99" rx="2.39" ry="2" fill="#0606c3"/>
<ellipse cx="46.46" cy="11.9" rx="1.95" ry="1.93" fill="#0606c4"/>
<ellipse cx="43.54" cy="42.84" rx="2.44" ry="2.02" fill="#0707ce"/>
<ellipse cx="54.94" cy="11.67" rx="1.79" ry="1.42" fill="#0606c6"/>
<ellipse cx="8" cy="40.85" rx="2.27" ry="2.21" fill="#0606c1"/>
<ellipse cx="9.02" cy="51.4" rx="1.8" ry="1.69" fill="#00004a"/>
<ellipse cx="19.7" cy="57.4" rx="2.48" ry="2.03" fill="#010178"/>
<ellipse cx="12.37" cy="30.03" rx="2.19" ry="1.67" fill="#000066"/>
<ellipse cx="89.13" cy="61.9" rx="1.71" ry="1.61" fill="#0505b2"/>
<ellipse cx="70.12" cy="84.9" rx="2.04" ry="1.77" fill="#01017e"/>
<ellipse cx="65.22" cy="18.44" rx="1.76" ry="1.47" fill="#0505ba"/>
<ellipse cx="103.57" cy="51.93" rx="2.33" ry="1.77" fill="#0a0aeb"/>
<ellipse cx="84.48" cy="77.73" rx="2.14" ry="1.5" fill="#0a0aee"/>
<ellipse cx="80.25" cy="74.72" rx="2.54" ry="2.39" fill="#0707c9"/>
<ellipse cx="57.66" cy="5.44" rx="2.53" ry="2.38" fill="#000053"/>
<ellipse cx="68.62" cy="2.3" rx="1.65" ry="1.32" fill="#02028a"/>
<ellipse cx="63.15" cy="14.53" rx="2.06" ry="1.96" fill="#000059"/>
<ellipse cx="97.82" cy="71.64" rx="1.77" ry="1.39" fill="#000059"/>
<ellipse cx="41.02" cy="53.9" rx="1.77" ry="1.63" fill="#010171"/>
<ellipse cx="121.15" cy="63.16" rx="2.4" ry="2.07" fill="#0707d4"/>
<ellipse cx="77.15" cy="77.59" rx="1.77" ry="1.68" fill="#0606bf"/>
<ellipse cx="69.49" cy="17.19" rx="2.05" ry="1.62" fill="#0707cf"/>
<ellipse cx="86.5" cy="89.55" rx="2.09" ry="1.7" fill="#020281"/>
<ellipse cx="17.31" cy="49.14" rx="2.43" ry="2.11" fill="#020282"/>
<ellipse cx="120.46" cy="18.26" rx="2.31" ry="1.81" fill="#00005f"/>
<ellipse cx="26.65" cy="57.32" rx="2.56" ry="2.5" fill="#0404ac"/>
<ellipse cx="64.16" cy="19.77" rx="1.67" ry="1.36" fill="#01016d"/>
<ellipse cx="89.91" cy="56.97" rx="1.77" ry="1.56" fill="#000064"/>
<ellipse cx="60.15" cy="48.83" rx="2.47" ry="2.41" fill="#0303a1"/>
<ellipse cx="63.17" cy="32.43" rx="1.78" ry="1.63" fill="#010171"/>
<ellipse cx="53.72" cy="2.01" rx="1.66" ry="1.17" fill="#010179"/>
<ellipse cx="74.69" cy="72.47" rx="1.83" ry="1.63" fill="#0404ac"/>
<ellipse cx="32.77" cy="20.76" rx="1.71" ry="1.7" fill="#00005b"/>
<ellipse cx="10.26" cy="87.4" rx="1.71" ry="1.55" fill="#0303a2"/>
<ellipse cx="24.36" cy="45.72" rx="1.7" ry="1.19" fill="#0606c0"/>
<ellipse cx="71.08" cy="47.26" rx="1.97" ry="1.8" fill="#00005b"/>
<ellipse cx="72.04" cy="28.46" rx="2.49" ry="1.95" fill="#000055"/>
<ellipse cx="8.65" cy="26.25" rx="1.65" ry="1.42" fill="#020287"/>
<ellipse cx="78.7" cy="48.25" rx="1.99" ry="1.84" fill="#010174"/>
<ellipse cx="34.72" cy="74.34" rx="2.5" ry="2.25" fill="#020289"/>
<ellipse cx="33.57" cy="32.92" rx="1.96" ry="1.87" fill="#0404b0"/>
<ellipse cx="84.65" cy="74.77" rx="2.29" ry="1.9" fill="#01017c"/>
<ellipse cx="6.21" cy="40.5" rx="1.87" ry="1.84" fill="#00004f"/>
<ellipse cx="81.43" cy="39.04" rx="2.16" ry="1.68" fill="#02028c"/>
<ellipse cx="67.67" cy="33.53" rx="2.53" ry="1.85" fill="#0707d0"/>
<ellipse cx="110.46" cy="19.66" rx="2.25" ry="1.65" fill="#03039a"/>
<ellipse cx="78.35" cy="87.05" rx="1.76" ry="1.41" fill="#0808d5"/>
<ellipse cx="30.05" cy="33.31" rx="1.86" ry="1.62" fill="#0707d1"/>
<ellipse cx="74.01" cy="87.46" rx="1.7" ry="1.26" fill="#000060"/>
<ellipse cx="57.94" cy="8.3" rx="1.64" ry="1.5" fill="#000068"/>
<ellipse cx="56.33" cy="68.01" rx="1.67" ry="1.6" fill="#020283"/>
<ellipse cx="82.69" cy="23.53" rx="2.53" ry="2.34" fill="#0505b5"/>
<ellipse cx="112.26" cy="89.42" rx="2.07" ry="1.52" fill="#010172"/>
<ellipse cx="58.91" cy="73.43" rx="1.85" ry="1.75" fill="#0606c8"/>
<ellipse cx="9.27" cy="10.72" rx="1.62" ry="1.47" fill="#02028c"/>
<ellipse cx="50.84" cy="81.43" rx="2.35" ry="1.91" fill="#0606c6"/>
<ellipse cx="94.82" cy="53.98" rx="1.75" ry="1.5" fill="#030397"/>
<ellipse cx="63.13" cy="38.9" rx="2.51" ry="2.18" fill="#000065"/>
<ellipse cx="12" cy="50.64" rx="2.08" ry="1.94" fill="#020283"/>
<ellipse cx="110.7" cy="6.46" rx="1.75" ry="1.27" fill="#0c0cfa"/>
<ellipse cx="56.47" cy="2.87" rx="1.81" ry="1.59" fill="#030396"/>
<ellipse cx="25.31" cy="59.96" rx="2.28" ry="2.23" fill="#000052"/>
<ellipse cx="120.97" cy="3.78" rx="2.02" ry="1.69" fill="#02028c"/>
<ellipse cx="5.95" cy="56.64" rx="1.7" ry="1.51" fill="#0404ae"/>
<ellipse cx="67.36" cy="2.9" rx="1.99" ry="1.49" fill="#030398"/>
<ellipse cx="12.32" cy="20.84" rx="2.36" ry="1.73" fill="#000057"/>
<ellipse cx="47.5" cy="87.73" rx="2.43" ry="1.81" fill="#0404a5"/>
<ellipse cx="5.53" cy="62.48" rx="2.09" ry="1.57" fill="#00005f"/>
<ellipse cx="32.92" cy="18.24" rx="2.44" ry="2.25" fill="#0505b9"/>
<ellipse cx="53.5" cy="83.01" rx="1.62" ry="1.31" fill="#03039c"/>
<ellipse cx="26.38" cy="59.21" rx="1.92" ry="1.82" fill="#03039a"/>
<ellipse cx="9.73" cy="72.5" rx="2.35" ry="2.34" fill="#0606bf"/>
<ellipse cx="91.37" cy="48.4" rx="2.54" ry="1.99" fill="#0808d8"/>
<ellipse cx="31.35" cy="89.47" rx="2.15" ry="1.69" fill="#010179"/>
<ellipse cx="55.49" cy="24.74" rx="2.36" ry="2.31" fill="#0606c3"/>
<ellipse cx="113.59" cy="24.06" rx="2.23" ry="1.88" fill="#0707d0"/>
<ellipse cx="112.02" cy="50.72" rx="1.96" ry="1.45" fill="#000065"/>
<ellipse cx="87.67" cy="41.3" rx="2.08" ry="1.65" fill="#020285"/>
<ellipse cx="60.03" cy="56.05" rx="2.12" ry="1.91" fill="#01016c"/>
<ellipse cx="72.12" cy="65.95" rx="2.37" ry="2.02" fill="#0909e0"/>
<ellipse cx="69.43" cy="72.42" rx="2.1" ry="1.79" fill="#010178"/>
<ellipse cx="45.21" cy="6.45" rx="2.21" ry="1.95" fill="#030396"/>
<ellipse cx="118.64" cy="27.18" rx="2.29" ry="2.23" fill="#0808da"/>
<ellipse cx="5" cy="71.69" rx="1.95" ry="1.84" fill="#01016a"/>
<ellipse cx="108.18" cy="49.9" rx="1.63" ry="1.32" fill="#0606c8"/>
<ellipse cx="55" cy="4.37" rx="1.73" ry="1.31" fill="#010173"/>
<ellipse cx="45.12" cy="59.52" rx="2.39" ry="2.18" fill="#010176"/>
<ellipse cx="17.12" cy="56.39" rx="2.38" ry="2.25" fill="#0404ae"/>
<ellipse cx="16.6" cy="65.07" rx="2.56" ry="1.85" fill="#03039b"/>
<ellipse cx="56.69" cy="87.11" rx="1.89" ry="1.54" fill="#01017d"/>
<ellipse cx="52.5" cy="45.49" rx="2.53" ry="2.04" fill="#030393"/>
<ellipse cx="30.35" cy="82.51" rx="2.52" ry="2.5" fill="#0505b4"/>
<ellipse cx="97.76" cy="51.35" rx="1.78" ry="1.41" fill="#030397"/>
<ellipse cx="88.57" cy="44.51" rx="2.54" ry="1.87" fill="#0505bc"/>
<ellipse cx="11.36" cy="69.23" rx="2.11" ry="1.9" fill="#02028c"/>
<ellipse cx="113.76" cy="75.62" rx="1.89" ry="1.85" fill="#0808d7"/>
<ellipse cx="0.37" cy="51.05" rx="2.14" ry="1.83" fill="#0505b2"/>
<ellipse cx="73.89" cy="68.13" rx="1.85" ry="1.34" fill="#0505b2"/>
<ellipse cx="9.44" cy="16.08" rx="2.38" ry="2.16" fill="#000056"/>
<ellipse cx="46.73" cy="16.13" rx="2.44" ry="2.21" fill="#0707c9"/>
<ellipse cx="46.84" cy="75.14" rx="2.5" ry="2.25" fill="#01017a"/>
<ellipse cx="94.39" cy="39.4" rx="2.2" ry="1.81" fill="#000066"/>
<ellipse cx="43.96" cy="19.04" rx="2.13" ry="1.88" fill="#0606c1"/>
<ellipse cx="67.75" cy="63.86" rx="2.57" ry="2.17" fill="#000050"/>
<ellipse cx="6.02" cy="65.12" rx="2.2" ry="1.57" fill="#010170"/>
<ellipse cx="89.78" cy="60.62" rx="2.52" ry="2.08" fill="#03039d"/>
<ellipse cx="0.61" cy="8.02" rx="1.83" ry="1.33" fill="#00005e"/>
<ellipse cx="78.97" cy="79.94" rx="2.1" ry="1.8" fill="#020285"/>
<ellipse cx="73.18" cy="65.58" rx="1.92" ry="1.35" fill="#000051"/>
<ellipse cx="83.04" cy="87.15" rx="2.17" ry="2.15" fill="#0606c0"/>
<ellipse cx="20.35" cy="51.41" rx="1.82" ry="1.7" fill="#020281"/>
<ellipse cx="40.53" cy="24.14" rx="1.79" ry="1.75" fill="#00004d"/>
<ellipse cx="81.11" cy="18.12" rx="2.43" ry="2.43" fill="#0505bc"/>
<ellipse cx="114.65" cy="67.63" rx="2.04" ry="1.75" fill="#0909e2"/>
<ellipse cx="2.88" cy="1.23" rx="1.87" ry="1.85" fill="#020292"/>
<ellipse cx="52.88" cy="39.33" rx="2.36" ry="1.98" fill="#0808d6"/>
<ellipse cx="55.86" cy="15.82" rx="2.23" ry="1.97" fill="#0707cd"/>
<ellipse cx="55" cy="88.6" rx="2.26" ry="2.13" fill="#030397"/>
<ellipse cx="31.24" cy="56.61" rx="1.91" ry="1.88" fill="#0404b0"/>
<ellipse cx="84.28" cy="47.53" rx="1.87" ry="1.32" fill="#0404ae"/>
<ellipse cx="55.07" cy="26.46" rx="1.81" ry="1.8" fill="#010169"/>
<ellipse cx="46.01" cy="67.37" rx="2.29" ry="1.9" fill="#000057"/>
<ellipse cx="97.41" cy="1.92" rx="1.82" ry="1.67" fill="#0505b6"/>
<ellipse cx="23.86" cy="9.76" rx="2" ry="1.87" fill="#00004e"/>
<ellipse cx="21.16" cy="25.53" rx="2.47" ry="2.35" fill="#000063"/>
<ellipse cx="14.57" cy="59.35" rx="2" ry="1.42" fill="#000049"/>
<ellipse cx="38.52" cy="11.08" rx="2.33" ry="1.9" fill="#000065"/>
<ellipse cx="10.13" cy="49.79" rx="2.34" ry="1.82" fill="#0303a1"/>
<ellipse cx="46.76" cy="64.85" rx="2.21" ry="1.77" fill="#030399"/>
<ellipse cx="34.8" cy="28.97" rx="2.47" ry="1.98" fill="#000055"/>
<ellipse cx="117.23" cy="22.09" rx="2.04" ry="1.85" fill="#0b0bf9"/>
<ellipse cx="94.41" cy="34.86" rx="2.46" ry="2.15" fill="#000053"/>
<ellipse cx="95.15" cy="88.36" rx="1.71" ry="1.49" fill="#0505b4"/>
<ellipse cx="58.93" cy="9.1" rx="1.97" ry="1.9" fill="#01017e"/>
<ellipse cx="120.89" cy="82.9" rx="1.98" ry="1.6" fill="#0b0bf3"/>
<ellipse cx="70.33" cy="3.75" rx="2.19" ry="2.02" fill="#000057"/>
<ellipse cx="7.36" cy="58.21" rx="2.38" ry="1.89" fill="#01016f"/>
<ellipse cx="23.38" cy="37.14" rx="1.81" ry="1.48" fill="#0505b4"/>
<ellipse cx="94.91" cy="41.64" rx="1.95" ry="1.68" fill="#010168"/>
<ellipse cx="94.86" cy="89.8" rx="2.36" ry="1.98" fill="#0404a3"/>
<ellipse cx="30.97" cy="62.79" rx="2.46" ry="1.77" fill="#000065"/>
<ellipse cx="58.58" cy="31.08" rx="2.16" ry="1.9" fill="#020290"/>
<ellipse cx="108.67" cy="11.13" rx="2.21" ry="2.02" fill="#0c0cfa"/>
<ellipse cx="98.01" cy="79.77" rx="2.44" ry="1.83" fill="#03039d"/>
<ellipse cx="54.58" cy="86.93" rx="2.02" ry="1.71" fill="#02028a"/>
<ellipse cx="93.55" cy="9.83" rx="2.56" ry="2.45" fill="#030396"/>
<ellipse cx="35.79" cy="28.67" rx="2.3" ry="1.62" fill="#00004c"/>
<ellipse cx="35.53" cy="58.16" rx="1.82" ry="1.5" fill="#0303a0"/>
<ellipse cx="103.97" cy="24.96" rx="2.46" ry="2.31" fill="#0505b2"/>
<ellipse cx="108.78" cy="6.77" rx="1.99" ry="1.77" fill="#0303a2"/>
<ellipse cx="98.41" cy="81.39" rx="2.46" ry="2.1" fill="#0b0bf5"/>
<ellipse cx="84.19" cy="82.24" rx="2" ry="1.81" fill="#00005a"/>
<ellipse cx="83.3" cy="1.63" rx="1.98" ry="1.77" fill="#0505b2"/>
<ellipse cx="83" cy="55.59" rx="1.73" ry="1.7" fill="#01016e"/>
<ellipse cx="35.31" cy="37.49" rx="1.92" ry="1.46" fill="#00004b"/>
<ellipse cx="12.67" cy="83.66" rx="1.87" ry="1.75" fill="#01016a"/>
<ellipse cx="105.59" cy="57.33" rx="1.63" ry="1.47" fill="#0505ba"/>
<ellipse cx="15.48" cy="64.22" rx="1.89" ry="1.88" fill="#000064"/>
<ellipse cx="29.46" cy="13.77" rx="2.22" ry="1.72" fill="#010172"/>
<ellipse cx="27.91" cy="52.98" rx="2.16" ry="1.67" fill="#0303a1"/>
<ellipse cx="25" cy="7.13" rx="1.93" ry="1.35" fill="#0404a5"/>
<ellipse cx="25.99" cy="71.04" rx="1.78" ry="1.61" fill="#00004f"/>
<ellipse cx="94.32" cy="23.93" rx="1.98" ry="1.89" fill="#020287"/>
<ellipse cx="70.19" cy="56.96" rx="2.27" ry="1.61" fill="#0909df"/>
<ellipse cx="44.98" cy="87.33" rx="2.27" ry="1.97" fill="#00004f"/>
<ellipse cx="88.46" cy="50.03" rx="1.73" ry="1.43" fill="#02028c"/>
<ellipse cx="61.87" cy="11.87" rx="2.24" ry="2.09" fill="#0404ac"/>
<ellipse cx="56.71" cy="7.84" rx="2.51" ry="1.92" fill="#010176"/>
<ellipse cx="98.47" cy="57.94" rx="1.67" ry="1.3" fill="#0505b6"/>
<ellipse cx="85.99" cy="3.63" rx="2.56" ry="2.39" fill="#0909e7"/>
<ellipse cx="100.59" cy="28.44" rx="1.66" ry="1.21" fill="#01017c"/>
<ellipse cx="6.79" cy="19.65" rx="2.08" ry="1.98" fill="#010172"/>
<ellipse cx="44.52" cy="42.17" rx="2.32" ry="2.3" fill="#020288"/>
<ellipse cx="109.12" cy="25.04" rx="1.83" ry="1.36" fill="#0c0cfa"/>
<ellipse cx="88.72" cy="59.69" rx="2.07" ry="2.05" fill="#0b0bf7"/>
<ellipse cx="60.85" cy="64.83" rx="2.04" ry="1.56" fill="#0606c8"/>
<ellipse cx="51.84" cy="59.37" rx="2.52" ry="2.34" fill="#0505bb"/>
<ellipse cx="45.5" cy="15.52" rx="2.56" ry="2.31" fill="#020287"/>
<ellipse cx="96.17" cy="52.75" rx="2.26" ry="1.66" fill="#0303a2"/>
<ellipse cx="45.28" cy="71.81" rx="1.82" ry="1.51" fill="#00004d"/>
<ellipse cx="34.24" cy="47.11" rx="2.52" ry="2.39" fill="#020283"/>
<ellipse cx="92.34" cy="39.66" rx="1.81" ry="1.46" fill="#0808d8"/>
<ellipse cx="16.67" cy="40.99" rx="1.96" ry="1.76" fill="#03039c"/>
<ellipse cx="70.13" cy="53.07" rx="1.73" ry="1.54" fill="#02028d"/>
<ellipse cx="39.2" cy="25.57" rx="1.71" ry="1.51" fill="#020282"/>
<ellipse cx="48.67" cy="34.67" rx="2.5" ry="1.97" fill="#020292"/>
<ellipse cx="98.97" cy="76" rx="1.76" ry="1.51" fill="#000054"/>
<ellipse cx="105.51" cy="41.97" rx="2.39" ry="2.34" fill="#0505b8"/>
<ellipse cx="67.58" cy="17.29" rx="1.81" ry="1.32" fill="#030399"/>
<ellipse cx="106.46" cy="25.41" rx="1.6" ry="1.56" fill="#0505b4"/>
<ellipse cx="119.39" cy="16.4" rx="2.49" ry="1.85" fill="#00005b"/>
<ellipse cx="75.09" cy="67.33" rx="1.78" ry="1.76" fill="#0808dd"/>
<ellipse cx="79.25" cy="10.01" rx="1.72" ry="1.4" fill="#01016f"/>
<ellipse cx="14.99" cy="26.51" rx="1.88" ry="1.39" fill="#03039f"/>
<ellipse cx="11.1" cy="28.03" rx="2.59" ry="2.07" fill="#000057"/>
<ellipse cx="101.09" cy="5.03" rx="2.13" ry="2.05" fill="#00005a"/>
<ellipse cx="103.62" cy="32.87" rx="2.12" ry="1.67" fill="#030394"/>
<ellipse cx="40.28" cy="57.68" rx="1.94" ry="1.38" fill="#000064"/>
<ellipse cx="45.9" cy="82.73" rx="2.07" ry="1.78" fill="#01016f"/>
<ellipse cx="17.63" cy="48.93" rx="1.83" ry="1.47" fill="#000055"/>
<ellipse cx="87.34" cy="4.39" rx="2.45" ry="1.82" fill="#0404ae"/>
<ellipse cx="94.97" cy="30.43" rx="2.31" ry="2.31" fill="#0606c2"/>
<ellipse cx="31.19" cy="63.33" rx="2.29" ry="1.69" fill="#02028f"/>
<ellipse cx="35.35" cy="35.61" rx="1.97" ry="1.76" fill="#000059"/>
<ellipse cx="61.52" cy="46.72" rx="2.34" ry="1.87" fill="#0606be"/>
<ellipse cx="51.06" cy="62.89" rx="2.34" ry="2.24" fill="#010169"/>
<ellipse cx="32.16" cy="49.96" rx="2.1" ry="1.5" fill="#01016a"/>
<ellipse cx="114.14" cy="21.99" rx="2.01" ry="1.51" fill="#0b0bf7"/>
<ellipse cx="35.03" cy="83.51" rx="1.87" ry="1.51" fill="#01016c"/>
<ellipse cx="119.59" cy="39.54" rx="1.61" ry="1.3" fill="#0707cb"/>
<ellipse cx="40.59" cy="16.91" rx="2.49" ry="2.16" fill="#000067"/>
<ellipse cx="42.51" cy="2.24" rx="2.29" ry="2.08" fill="#0505bd"/>
<ellipse cx="52.59" cy="55.67" rx="2.44" ry="2.16" fill="#0404a7"/>
<ellipse cx="50.01" cy="10.11" rx="2.54" ry="1.8" fill="#0404a8"/>
<ellipse cx="70.17" cy="81.69" rx="2.25" ry="2.13" fill="#0505b7"/>
<ellipse cx="65.84" cy="61.28" rx="1.61" ry="1.47" fill="#01016d"/>
<ellipse cx="19.9" cy="10.64" rx="2.48" ry="2.09" fill="#0505bc"/>
<ellipse cx="88.87" cy="26.05" rx="1.87" ry="1.34" fill="#0505b5"/>
<ellipse cx="88.09" cy="0.29" rx="1.89" ry="1.52" fill="#01016d"/>
<ellipse cx="90.38" cy="57.81" rx="2.14" ry="2.11" fill="#020283"/>
<ellipse cx="53.13" cy="73" rx="1.85" ry="1.37" fill="#0505bb"/>
<ellipse cx="96.41" cy="20.04" rx="2.21" ry="2.17" fill="#030396"/>
<ellipse cx="27.57" cy="50.45" rx="2.23" ry="2.11" fill="#0505bc"/>
<ellipse cx="43.18" cy="18.09" rx="1.66" ry="1.66" fill="#000063"/>
<ellipse cx="103.19" cy="8.49" rx="1.66" ry="1.46" fill="#00005f"/>
<ellipse cx="96.73" cy="86.39" rx="1.63" ry="1.47" fill="#020292"/>
<ellipse cx="59.29" cy="11.16" rx="2.53" ry="2.02" fill="#000064"/>
<ellipse cx="118.85" cy="51.33" rx="1.83" ry="1.74" fill="#0909e2"/>
<ellipse cx="113.06" cy="8.28" rx="2.2" ry="2.06" fill="#010180"/>
<ellipse cx="78.45" cy="65.09" rx="2.19" ry="2.06" fill="#0505b1"/>
<ellipse cx="62.52" cy="29.5" rx="1.87" ry="1.62" fill="#020281"/>
<ellipse cx="120.05" cy="89.35" rx="2.17" ry="1.74" fill="#03039d"/>
<ellipse cx="55.15" cy="4.43" rx="2.5" ry="2.29" fill="#01016e"/>
<ellipse cx="3.16" cy="28.36" rx="2.4" ry="2.28" fill="#000067"/>
<ellipse cx="69.76" cy="24.23" rx="2.54" ry="1.94" fill="#000067"/>
<ellipse cx="94.92" cy="43.46" rx="2.17" ry="1.59" fill="#0808d8"/>
<ellipse cx="121.62" cy="77.34" rx="2.48" ry="1.77" fill="#000063"/>
<ellipse cx="116.3" cy="69.63" rx="2.25" ry="1.83" fill="#0c0cfa"/>
<ellipse cx="52.45" cy="36.04" rx="2.24" ry="1.9" fill="#0404af"/>
<ellipse cx="92.47" cy="2.03" rx="1.91" ry="1.75" fill="#010178"/>
<ellipse cx="60.01" cy="32.04" rx="2.07" ry="1.64" fill="#0505b8"/>
<ellipse cx="49.36" cy="51.66" rx="1.92" ry="1.42" fill="#0404a5"/>
<ellipse cx="34.56" cy="16.42" rx="1.98" ry="1.58" fill="#0404b0"/>
<ellipse cx="19.79" cy="66.15" rx="1.86" ry="1.55" fill="#0303a1"/>
<ellipse cx="13.98" cy="25.85" rx="2.28" ry="1.95" fill="#020284"/>
<ellipse cx="92.05" cy="77.14" rx="2.24" ry="1.97" fill="#030396"/>
<ellipse cx="84.56" cy="69.34" rx="2.39" ry="2" fill="#030399"/>
<ellipse cx="15.83" cy="85.33" rx="2.35" ry="1.71" fill="#0606c7"/>
<ellipse cx="36.1" cy="24.27" rx="1.77" ry="1.52" fill="#000068"/>
<ellipse cx="88.47" cy="30.85" rx="1.61" ry="1.6" fill="#000058"/>
<ellipse cx="85" cy="21.15" rx="2.55" ry="1.8" fill="#000052"/>
<ellipse cx="26.67" cy="35.73" rx="2.42" ry="2.12" fill="#030394"/>
<ellipse cx="53.97" cy="44.95" rx="2.51" ry="2.49" fill="#01016e"/>
<ellipse cx="40.58" cy="37.98" rx="1.93" ry="1.76" fill="#0505ba"/>
<ellipse cx="45.6" cy="86.63" rx="2.52" ry="2.08" fill="#030396"/>
<ellipse cx="61.06" cy="14.19" rx="1.74" ry="1.41" fill="#02028b"/>
<ellipse cx="59.17" cy="31.33" rx="2.08" ry="1.79" fill="#0606c3"/>
<ellipse cx="119.99" cy="45.02" rx="1.64" ry="1.28" fill="#0808d8"/>
<ellipse cx="24.29" cy="45.96" rx="2.37" ry="1.98" fill="#0404ad"/>
<ellipse cx="111.34" cy="43.6" rx="2.01" ry="1.62" fill="#000064"/>
<ellipse cx="87.22" cy="74.6" rx="2.13" ry="1.74" fill="#0404a4"/>
<ellipse cx="54.75" cy="86.97" rx="2.16" ry="2.1" fill="#020286"/>
<ellipse cx="74.8" cy="88.3" rx="2.42" ry="2.36" fill="#0707cc"/>
<ellipse cx="121.13" cy="48.07" rx="2.25" ry="1.64" fill="#0505b4"/>
<ellipse cx="85.82" cy="65.77" rx="2.3" ry="1.61" fill="#01017f"/>
<ellipse cx="66.76" cy="29.07" rx="2.29" ry="1.61" fill="#010170"/>
<ellipse cx="4.4" cy="82.99" rx="2.35" ry="2.02" fill="#00004f"/>
<ellipse cx="16.95" cy="77.99" rx="2.27" ry="2.14" fill="#01017f"/>
<ellipse cx="83.36" cy="45.04" rx="2.16" ry="1.84" fill="#010175"/>
<ellipse cx="36.09" cy="88.43" rx="1.82" ry="1.79" fill="#0707cb"/>
<ellipse cx="115.78" cy="47.81" rx="2.53" ry="1.95" fill="#0c0cfa"/>
<ellipse cx="16.86" cy="45.59" rx="2.47" ry="2.41" fill="#0404aa"/>
<ellipse cx="32.15" cy="17.34" rx="1.72" ry="1.52" fill="#020290"/>
<ellipse cx="47.41" cy="63.96" rx="1.79" ry="1.28" fill="#01017e"/>
<ellipse cx="112.45" cy="0.27" rx="2.54" ry="2.28" fill="#0707cc"/>
<ellipse cx="119.89" cy="87.13" rx="1.68" ry="1.35" fill="#0404ad"/>
<ellipse cx="8.39" cy="50.23" rx="2.48" ry="2.14" fill="#0505b8"/>
<ellipse cx="105.98" cy="22.62" rx="1.9" ry="1.36" fill="#0707cf"/>
<ellipse cx="34.69" cy="42.65" rx="2.28" ry="1.96" fill="#0404af"/>
<ellipse cx="38.3" cy="64.53" rx="2.11" ry="1.76" fill="#020286"/>
<ellipse cx="11.69" cy="72.14" rx="2.4" ry="2.3" fill="#010168"/>
<ellipse cx="75.71" cy="76.61" rx="2.51" ry="2.3" fill="#00005b"/>
<ellipse cx="34.18" cy="87.27" rx="1.99" ry="1.87" fill="#0606bf"/>
<ellipse cx="6.62" cy="35.91" rx="1.71" ry="1.34" fill="#0606c0"/>
<ellipse cx="34.89" cy="77.67" rx="2.41" ry="1.8" fill="#0707d2"/>
<ellipse cx="53.43" cy="17.24" rx="2.17" ry="2.16" fill="#010172"/>
<ellipse cx="99.79" cy="32.26" rx="1.88" ry="1.71" fill="#030397"/>
<ellipse cx="48.89" cy="36.17" rx="2.57" ry="1.82" fill="#01016a"/>
<ellipse cx="119.39" cy="62.27" rx="2.33" ry="1.8" fill="#0707d1"/>
<ellipse cx="7.55" cy="87.33" rx="2.49" ry="1.92" fill="#0404a4"/>
<ellipse cx="56.7" cy="9.09" rx="2.39" ry="2.34" fill="#00004f"/>
<ellipse cx="45.24" cy="29.33" rx="1.85" ry="1.76" fill="#000058"/>
<ellipse cx="34.82" cy="57.28" rx="1.82" ry="1.44" fill="#0404a8"/>
<ellipse cx="45.59" cy="85.36" rx="2.38" ry="2.36" fill="#0404ab"/>
<ellipse cx="97.9" cy="57.55" rx="2.48" ry="2.11" fill="#03039b"/>
<ellipse cx="78.27" cy="3.47" rx="1.78" ry="1.75" fill="#000061"/>
<ellipse cx="29.39" cy="81.04" rx="2.23" ry="1.58" fill="#00005b"/>
<ellipse cx="10.41" cy="61.1" rx="2.51" ry="1.94" fill="#030398"/>
<ellipse cx="115.92" cy="58.82" rx="1.87" ry="1.44" fill="#020281"/>
<ellipse cx="53.91" cy="11.48" rx="2" ry="1.45" fill="#0505b9"/>
<ellipse cx="76.4" cy="30.5" rx="2.31" ry="1.67" fill="#0606c3"/>
<ellipse cx="90.06" cy="82.41" rx="1.85" ry="1.51" fill="#020281"/>
<ellipse cx="54.79" cy="50.25" rx="2.18" ry="1.93" fill="#00005c"/>
<ellipse cx="71.16" cy="60.25" rx="1.61" ry="1.38" fill="#030394"/>
<ellipse cx="52.28" cy="6.82" rx="1.6" ry="1.41" fill="#020285"/>
<ellipse cx="63.67" cy="26.01" rx="2.51" ry="1.93" fill="#01017c"/>
<ellipse cx="52.17" cy="46.28" rx="2.22" ry="2.1" fill="#03039f"/>
<ellipse cx="43.54" cy="70.58" rx="1.63" ry="1.35" fill="#020286"/>
<ellipse cx="88.83" cy="73.4" rx="2.2" ry="1.86" fill="#0a0aeb"/>
<ellipse cx="57.45" cy="58.15" rx="2.4" ry="1.79" fill="#01016a"/>
<ellipse cx="101.11" cy="60.3" rx="1.86" ry="1.65" fill="#0707d2"/>
<ellipse cx="66.24" cy="60.23" rx="2.13" ry="1.67" fill="#020293"/>
<ellipse cx="90.22" cy="74.74" rx="1.66" ry="1.57" fill="#020286"/>
<ellipse cx="115.12" cy="58.91" rx="2.45" ry="2.16" fill="#000059"/>
<ellipse cx="46.61" cy="64.32" rx="1.63" ry="1.53" fill="#0808d4"/>
<ellipse cx="60.15" cy="68.6" rx="2.3" ry="1.94" fill="#01016a"/>
<ellipse cx="81.59" cy="43.69" rx="1.84" ry="1.73" fill="#02028d"/>
<ellipse cx="85.87" cy="47.26" rx="1.82" ry="1.8" fill="#010174"/>
<ellipse cx="114.59" cy="18.6" rx="1.73" ry="1.67" fill="#020282"/>
<ellipse cx="26.93" cy="68.52" rx="2.44" ry="2.02" fill="#020288"/>
<ellipse cx="21.83" cy="30.27" rx="1.8" ry="1.38" fill="#00005e"/>
<ellipse cx="13.83" cy="64" rx="1.86" ry="1.51" fill="#010173"/>
<ellipse cx="30.78" cy="87.54" rx="2.02" ry="1.9" fill="#0707cb"/>
<ellipse cx="85.44" cy="0.81" rx="2.5" ry="2.14" fill="#00005c"/>
<ellipse cx="101.79" cy="23.57" rx="2.1" ry="1.91" fill="#000060"/>
<ellipse cx="92.82" cy="33.8" rx="2.55" ry="2.04" fill="#0707cf"/>
<ellipse cx="42.17" cy="36.12" rx="2.21" ry="1.84" fill="#01016d"/>
<ellipse cx="28.69" cy="1.19" rx="1.87" ry="1.71" fill="#030396"/>
<ellipse cx="79.65" cy="12.09" rx="2.19" ry="2.17" fill="#020284"/>
<ellipse cx="110.84" cy="7.59" rx="2.47" ry="2.24" fill="#030399"/>
<ellipse cx="40.47" cy="82.3" rx="1.95" ry="1.4" fill="#00004f"/>
<ellipse cx="6.05" cy="29.46" rx="2.55" ry="2.18" fill="#010178"/>
<ellipse cx="89.2" cy="1.51" rx="2.31" ry="1.7" fill="#020281"/>
<ellipse cx="49.91" cy="86.61" rx="1.87" ry="1.74" fill="#01016d"/>
<ellipse cx="38.08" cy="21.81" rx="2.28" ry="1.77" fill="#0606c0"/>
<ellipse cx="120.5" cy="19.26" rx="1.77" ry="1.25" fill="#030395"/>
<ellipse cx="28.01" cy="79.43" rx="2.41" ry="1.73" fill="#020284"/>
<ellipse cx="67.28" cy="71.41" rx="2.25" ry="1.83" fill="#0707d1"/>
<ellipse cx="112.28" cy="56.34" rx="1.88" ry="1.4" fill="#0a0aea"/>
<ellipse cx="5.04" cy="11.36" rx="1.81" ry="1.62" fill="#0303a3"/>
<ellipse cx="2.27" cy="13.26" rx="2.08" ry="1.76" fill="#000058"/>
<ellipse cx="25.56" cy="84.98" rx="2.23" ry="1.81" fill="#000059"/>
<ellipse cx="86.34" cy="18.55" rx="2.18" ry="1.8" fill="#01016a"/>
<ellipse cx="39.38" cy="13.5" rx="1.93" ry="1.81" fill="#0505b3"/>
<ellipse cx="16.71" cy="77.27" rx="2.32" ry="2.01" fill="#02028e"/>
<ellipse cx="44.59" cy="19.58" rx="2.42" ry="1.91" fill="#0303a0"/>
<ellipse cx="59.26" cy="16.8" rx="1.87" ry="1.41" fill="#0505b8"/>
<ellipse cx="99.71" cy="29.31" rx="2.42" ry="2.31" fill="#0505b6"/>
<ellipse cx="78.32" cy="77.94" rx="2.39" ry="1.93" fill="#01017e"/>
<ellipse cx="36.93" cy="88.99" rx="1.65" ry="1.39" fill="#010170"/>
<ellipse cx="22.56" cy="88.11" rx="2.07" ry="1.6" fill="#020286"/>
<ellipse cx="113.39" cy="0.32" rx="1.85" ry="1.42" fill="#000065"/>
<ellipse cx="102.43" cy="19.25" rx="2.32" ry="1.64" fill="#0606bf"/>
<ellipse cx="111.73" cy="42.64" rx="2.27" ry="1.82" fill="#0808dc"/>
<ellipse cx="89" cy="40.06" rx="2.39" ry="2.26" fill="#03039a"/>
<ellipse cx="84.9" cy="62.99" rx="2.39" ry="2.2" fill="#0404ae"/>
<ellipse cx="53.52" cy="1.95" rx="1.93" ry="1.56" fill="#010179"/>
<ellipse cx="56.12" cy="46.31" rx="1.99" ry="1.93" fill="#0505ba"/>
<ellipse cx="33.67" cy="57.3" rx="2.32" ry="2.26" fill="#010180"/>
<ellipse cx="87.21" cy="38.53" rx="2.2" ry="1.89" fill="#0606c5"/>
<ellipse cx="5.14" cy="2.95" rx="2.59" ry="2.15" fill="#00004d"/>
<ellipse cx="108.38" cy="37.09" rx="1.79" ry="1.65" fill="#000059"/>
<ellipse cx="68.25" cy="26.64" rx="2.16" ry="1.86" fill="#0808d6"/>
<ellipse cx="63.95" cy="74.61" rx="1.94" ry="1.66" fill="#010176"/>
<ellipse cx="23.51" cy="28.08" rx="1.61" ry="1.18" fill="#0404aa"/>
<ellipse cx="15.23" cy="76.53" rx="2.18" ry="1.98" fill="#010175"/>
<ellipse cx="54.28" cy="42.62" rx="2.59" ry="2.21" fill="#000054"/>
<ellipse cx="92.93" cy="49.01" rx="1.75" ry="1.36" fill="#0c0cfa"/>
<ellipse cx="53.95" cy="12.66" rx="1.71" ry="1.29" fill="#010171"/>
<ellipse cx="75.67" cy="5.68" rx="2.33" ry="1.94" fill="#0707cd"/>
<ellipse cx="12.42" cy="15.8" rx="2.6" ry="1.99" fill="#030395"/>
<ellipse cx="104.7" cy="81.78" rx="2.28" ry="2.12" fill="#020282"/>
<ellipse cx="95.14" cy="38.94" rx="1.97" ry="1.86" fill="#000063"/>
<ellipse cx="15.05" cy="83.25" rx="2.41" ry="2.15" fill="#000056"/>
<ellipse cx="30.28" cy="43.26" rx="2.09" ry="1.51" fill="#010177"/>
<ellipse cx="41.02" cy="68.48" rx="2.04" ry="1.77" fill="#0707ce"/>
<ellipse cx="40.92" cy="82.44" rx="1.88" ry="1.7" fill="#0303a2"/>
<ellipse cx="106.61" cy="42.75" rx="1.93" ry="1.36" fill="#02028d"/>
<ellipse cx="16.87" cy="27.76" rx="2.57" ry="2.21" fill="#0606c7"/>
<ellipse cx="110.8" cy="53.06" rx="2" ry="1.96" fill="#0606bf"/>
<ellipse cx="39.3" cy="2.01" rx="2.18" ry="1.83" fill="#0303a3"/>
<ellipse cx="100.8" cy="66.35" rx="2.26" ry="2.07" fill="#020281"/>
<ellipse cx="79.42" cy="21.98" rx="2.18" ry="2.12" fill="#010175"/>
<ellipse cx="6.29" cy="40.39" rx="1.66" ry="1.54" fill="#01017d"/>
<ellipse cx="84.82" cy="51.32" rx="1.88" ry="1.35" fill="#00005f"/>
<ellipse cx="30.95" cy="54.83" rx="1.75" ry="1.45" fill="#000052"/>
<ellipse cx="90.46" cy="13.02" rx="2.59" ry="2.17" fill="#000061"/>
<ellipse cx="60.89" cy="14.1" rx="1.79" ry="1.35" fill="#03039e"/>
<ellipse cx="45.98" cy="25.3" rx="1.88" ry="1.74" fill="#000056"/>
<ellipse cx="65.64" cy="73.35" rx="2.57" ry="1.91" fill="#0909e6"/>
<ellipse cx="39.15" cy="79.49" rx="2.3" ry="1.66" fill="#030397"/>
<ellipse cx="59.57" cy="79.65" rx="2.43" ry="2.05" fill="#0808d4"/>
<ellipse cx="13.17" cy="71.78" rx="2.39" ry="2.19" fill="#0404a3"/>
<ellipse cx="49.38" cy="24.9" rx="2.35" ry="2.27" fill="#03039f"/>
<ellipse cx="76.39" cy="69.55" rx="2.05" ry="1.68" fill="#010168"/>
<ellipse cx="22.9" cy="81.82" rx="1.65" ry="1.45" fill="#03039a"/>
<ellipse cx="118.55" cy="10.02" rx="2.1" ry="1.58" fill="#000067"/>
<ellipse cx="107.83" cy="35.08" rx="1.68" ry="1.45" fill="#03039f"/>
<ellipse cx="16.4" cy="30.97" rx="1.93" ry="1.81" fill="#000058"/>
<ellipse cx="41.37" cy="87.23" rx="2.27" ry="2.1" fill="#00004f"/>
<ellipse cx="26.26" cy="18.83" rx="1.7" ry="1.49" fill="#0505b1"/>
<ellipse cx="76.91" cy="1.74" rx="2.03" ry="1.68" fill="#0606bf"/>
<ellipse cx="85.11" cy="33.27" rx="2.4" ry="2.01" fill="#0b0bf7"/>
<ellipse cx="62.26" cy="0.56" rx="1.77" ry="1.47" fill="#000068"/>
<ellipse cx="105.72" cy="81.11" rx="1.62" ry="1.37" fill="#000067"/>
<ellipse cx="103.73" cy="86.25" rx="2.29" ry="1.88" fill="#0c0cfa"/>
<ellipse cx="32.3" cy="47.77" rx="1.77" ry="1.76" fill="#010172"/>
<ellipse cx="79.37" cy="66.23" rx="1.61" ry="1.35" fill="#0a0aea"/>
<ellipse cx="107.73" cy="50.96" rx="1.88" ry="1.78" fill="#0a0aef"/>
<ellipse cx="90.93" cy="69.78" rx="1.86" ry="1.49" fill="#000063"/>
<ellipse cx="116.41" cy="77.6" rx="1.99" ry="1.56" fill="#00005d"/>
<ellipse cx="80.85" cy="79.64" rx="1.87" ry="1.32" fill="#0303a0"/>
<ellipse cx="40.71" cy="63.79" rx="2.01" ry="1.42" fill="#0404af"/>
<ellipse cx="30.95" cy="51.38" rx="2.34" ry="2.04" fill="#01016c"/>
<ellipse cx="85.51" cy="81.43" rx="1.64" ry="1.3" fill="#0b0bf2"/>
<ellipse cx="8.77" cy="60.07" rx="1.62" ry="1.55" fill="#01017a"/>
<ellipse cx="74.34" cy="67.94" rx="1.85" ry="1.65" fill="#000067"/>
<ellipse cx="99.61" cy="50.83" rx="2.4" ry="2.34" fill="#030394"/>
<ellipse cx="79.24" cy="8.15" rx="1.93" ry="1.6" fill="#0303a0"/>
<ellipse cx="41.43" cy="4.28" rx="1.69" ry="1.56" fill="#0707cc"/>
<ellipse cx="23.55" cy="59.01" rx="1.96" ry="1.73" fill="#020281"/>
<ellipse cx="11.52" cy="59.09" rx="1.64" ry="1.61" fill="#000063"/>
<ellipse cx="24.72" cy="86.86" rx="1.6" ry="1.32" fill="#00004e"/>
<ellipse cx="54.24" cy="50.99" rx="2.46" ry="2.2" fill="#020285"/>
<ellipse cx="12.31" cy="30.71" rx="2.2" ry="2.1" fill="#000053"/>
<ellipse cx="97.94" cy="84" rx="2.18" ry="1.72" fill="#0707cc"/>
<ellipse cx="3.18" cy="2.47" rx="1.91" ry="1.4" fill="#020282"/>
<ellipse cx="97.11" cy="60.95" rx="2.21" ry="2" fill="#000052"/>
<ellipse cx="94.72" cy="71.9" rx="1.75" ry="1.56" fill="#0b0bf1"/>
<ellipse cx="20.02" cy="80.91" rx="2.38" ry="1.76" fill="#0606be"/>
<ellipse cx="83.29" cy="69.77" rx="1.63" ry="1.56" fill="#0404ae"/>
<ellipse cx="31.03" cy="17.57" rx="1.71" ry="1.26" fill="#010177"/>
<ellipse cx="111.83" cy="13.89" rx="2.25" ry="1.62" fill="#0808d4"/>
<ellipse cx="77.77" cy="44.41" rx="1.81" ry="1.39" fill="#0505b5"/>
<ellipse cx="75.94" cy="43.31" rx="1.86" ry="1.53" fill="#030397"/>
<ellipse cx="20.14" cy="41.99" rx="1.93" ry="1.6" fill="#000056"/>
<ellipse cx="33.6" cy="18.58" rx="1.68" ry="1.65" fill="#000066"/>
<ellipse cx="86.83" cy="80.98" rx="2.16" ry="2.01" fill="#01017e"/>
<ellipse cx="4.67" cy="72.68" rx="2.1" ry="1.48" fill="#0606be"/>
<ellipse cx="43.82" cy="68.83" rx="2.16" ry="1.84" fill="#030394"/>
<ellipse cx="76.24" cy="33.74" rx="1.69" ry="1.28" fill="#0707d4"/>
<ellipse cx="80.13" cy="28.93" rx="1.89" ry="1.88" fill="#01017c"/>
<ellipse cx="98.89" cy="89.82" rx="2.04" ry="1.67" fill="#00005c"/>
<ellipse cx="69.21" cy="55.52" rx="1.66" ry="1.46" fill="#030394"/>
<ellipse cx="103.95" cy="13.38" rx="1.76" ry="1.47" fill="#0707d3"/>
<ellipse cx="57.32" cy="30.4" rx="2.14" ry="1.59" fill="#01016a"/>
<ellipse cx="10.11" cy="88.38" rx="2.45" ry="2.31" fill="#00005e"/>
<ellipse cx="109.75" cy="81.78" rx="2.09" ry="1.71" fill="#010178"/>
<ellipse cx="72.49" cy="16.83" rx="1.67" ry="1.48" fill="#00005e"/>
<ellipse cx="115.7" cy="9.29" rx="1.86" ry="1.83" fill="#0505bd"/>
<ellipse cx="118.35" cy="38" rx="2.05" ry="1.96" fill="#01016e"/>
<ellipse cx="42.92" cy="39.89" rx="2.46" ry="2.08" fill="#0303a3"/>
<ellipse cx="50.09" cy="27.52" rx="1.66" ry="1.44" fill="#0606c9"/>
<ellipse cx="4.43" cy="64.39" rx="1.89" ry="1.55" fill="#000061"/>
<ellipse cx="104.34" cy="78.03" rx="2.43" ry="2.16" fill="#01017d"/>
<ellipse cx="9.13" cy="42.28" rx="1.78" ry="1.37" fill="#000066"/>
<ellipse cx="12.53" cy="36.41" rx="2.14" ry="1.98" fill="#0505bc"/>
<ellipse cx="73.36" cy="56.07" rx="2.07" ry="1.81" fill="#000059"/>
<ellipse cx="62.98" cy="67.56" rx="2.39" ry="2.06" fill="#00005c"/>
<ellipse cx="16.14" cy="32.33" rx="2.42" ry="2.16" fill="#030396"/>
<ellipse cx="81.13" cy="75.13" rx="2.16" ry="1.89" fill="#0303a1"/>
<ellipse cx="15.04" cy="23.6" rx="2.14" ry="1.59" fill="#000059"/>
<ellipse cx="33.01" cy="34.02" rx="2.55" ry="2.09" fill="#0404a6"/>
<ellipse cx="39.24" cy="9.88" rx="2.46" ry="2.34" fill="#0606c8"/>
<ellipse cx="89.17" cy="1.41" rx="1.88" ry="1.81" fill="#020286"/>
<ellipse cx="85.52" cy="68.9" rx="2.45" ry="2.01" fill="#0404a6"/>
<ellipse cx="69.85" cy="2.71" rx="2.18" ry="1.96" fill="#020290"/>
<ellipse cx="73.45" cy="39.81" rx="1.64" ry="1.23" fill="#000052"/>
<ellipse cx="20.02" cy="36.17" rx="2.51" ry="2.24" fill="#00005d"/>
<ellipse cx="20.68" cy="79.66" rx="1.84" ry="1.66" fill="#0505ba"/>
<ellipse cx="39.78" cy="65.35" rx="2.16" ry="1.59" fill="#0808d5"/>
<ellipse cx="94.85" cy="83.9" rx="2.05" ry="1.56" fill="#020286"/>
<ellipse cx="40.5" cy="30.64" rx="2.19" ry="1.87" fill="#020290"/>
<ellipse cx="101.01" cy="3.44" rx="2.41" ry="2.16" fill="#00005a"/>
<ellipse cx="95.1" cy="50.76" rx="2.42" ry="1.98" fill="#030398"/>
<ellipse cx="15.17" cy="32.47" rx="1.82" ry="1.51" fill="#00004e"/>
<ellipse cx="8.91" cy="27.38" rx="2.36" ry="1.68" fill="#00005c"/>
<ellipse cx="64.17" cy="21.58" rx="2.23" ry="2.08" fill="#01016e"/>
<ellipse cx="58.29" cy="22.99" rx="2.26" ry="1.75" fill="#0505ba"/>
<ellipse cx="85.43" cy="34.22" rx="2.5" ry="2.02" fill="#03039c"/>
<ellipse cx="16.13" cy="23.48" rx="2.2" ry="1.94" fill="#000049"/>
<ellipse cx="0.47" cy="23.4" rx="2.18" ry="1.69" fill="#01016d"/>
<ellipse cx="106" cy="20.21" rx="2.2" ry="2.13" fill="#0c0cfa"/>
<ellipse cx="100.83" cy="33.27" rx="2.29" ry="1.68" fill="#0b0bf4"/>
<ellipse cx="15.94" cy="54.83" rx="1.7" ry="1.25" fill="#020290"/>
<ellipse cx="89.91" cy="74.95" rx="2.11" ry="1.52" fill="#0505b7"/>
<ellipse cx="27.17" cy="61.94" rx="1.86" ry="1.64" fill="#0505b4"/>
<ellipse cx="11.98" cy="30.41" rx="1.75" ry="1.4" fill="#0505b7"/>
<ellipse cx="116.23" cy="32.22" rx="2.06" ry="1.54" fill="#0404aa"/>
<ellipse cx="90.56" cy="14.13" rx="1.89" ry="1.82" fill="#02028f"/>
<ellipse cx="49.6" cy="80.95" rx="2.41" ry="2.02" fill="#030394"/>
<ellipse cx="33.28" cy="78.4" rx="2.56" ry="2.13" fill="#0404a9"/>
<ellipse cx="96.21" cy="4.84" rx="2.34" ry="1.68" fill="#0606c0"/>
<ellipse cx="63.35" cy="13.95" rx="2.2" ry="2.1" fill="#0303a0"/>
<ellipse cx="17.71" cy="63.58" rx="2.07" ry="1.71" fill="#0404b0"/>
<ellipse cx="12.47" cy="89.49" rx="1.91" ry="1.61" fill="#020284"/>
<ellipse cx="23.22" cy="41.29" rx="2.31" ry="1.63" fill="#01016b"/>
<ellipse cx="70.31" cy="2.51" rx="2.49" ry="2.28" fill="#02028d"/>
<ellipse cx="56.64" cy="12.36" rx="2.08" ry="2.05" fill="#010174"/>
<ellipse cx="66.9" cy="42.63" rx="1.72" ry="1.32" fill="#010179"/>
<ellipse cx="73.2" cy="45.47" rx="1.73" ry="1.64" fill="#000064"/>
<ellipse cx="41.94" cy="0.41" rx="1.86" ry="1.67" fill="#01017c"/>
<ellipse cx="91.6" cy="70.08" rx="2.37" ry="2.24" fill="#0606c3"/>
<ellipse cx="109.8" cy="62.21" rx="2.38" ry="1.87" fill="#00005f"/>
<ellipse cx="57.97" cy="31.79" rx="2.49" ry="2.32" fill="#0404a7"/>
<ellipse cx="94.59" cy="48.2" rx="1.73" ry="1.71" fill="#01016d"/>
<ellipse cx="0.57" cy="41.82" rx="1.65" ry="1.25" fill="#0505b3"/>
<ellipse cx="107.71" cy="52.67" rx="1.69" ry="1.49" fill="#0404a4"/>
<ellipse cx="26.79" cy="80.45" rx="2.07" ry="1.85" fill="#0505bb"/>
<ellipse cx="45.75" cy="12.68" rx="2.42" ry="2.04" fill="#0505b9"/>
<ellipse cx="98.05" cy="9.17" rx="1.98" ry="1.96" fill="#01017b"/>
<ellipse cx="52.17" cy="26.32" rx="2.04" ry="1.92" fill="#0505bd"/>
<ellipse cx="99.71" cy="10.31" rx="1.86" ry="1.68" fill="#000061"/>
<ellipse cx="4.41" cy="45" rx="1.62" ry="1.52" fill="#000066"/>
<ellipse cx="95.36" cy="15.35" rx="2.16" ry="1.8" fill="#03039a"/>
<ellipse cx="19.26" cy="3.58" rx="2.46" ry="1.73" fill="#020292"/>
<ellipse cx="51.09" cy="44.81" rx="2.22" ry="1.7" fill="#000066"/>
<ellipse cx="17.69" cy="5.41" rx="2.07" ry="2.05" fill="#000064"/>
<ellipse cx="86.39" cy="28.45" rx="2.48" ry="2.44" fill="#0404a9"/>
<ellipse cx="88.71" cy="20.54" rx="2.38" ry="1.92" fill="#0303a1"/>
<ellipse cx="95.07" cy="58.1" rx="2.04" ry="1.77" fill="#030397"/>
<ellipse cx="11.57" cy="30.39" rx="1.88" ry="1.61" fill="#00004a"/>
<ellipse cx="88.13" cy="11.35" rx="2.45" ry="2.21" fill="#02028f"/>
<ellipse cx="96.94" cy="41.59" rx="1.9" ry="1.37" fill="#01016a"/>
<ellipse cx="107.36" cy="45.44" rx="1.99" ry="1.6" fill="#010177"/>
<ellipse cx="5.9" cy="87.01" rx="2.24" ry="2.1" fill="#0505bb"/>
<ellipse cx="101.01" cy="42.48" rx="1.73" ry="1.53" fill="#01016f"/>
<ellipse cx="32.34" cy="28.68" rx="2.49" ry="2.01" fill="#0606be"/>
<ellipse cx="60.3" cy="20.89" rx="1.64" ry="1.58" fill="#0404a8"/>
<ellipse cx="45.97" cy="16.45" rx="2.23" ry="1.75" fill="#0707cd"/>
<ellipse cx="69.44" cy="72.08" rx="1.77" ry="1.75" fill="#0505b8"/>
<ellipse cx="109.69" cy="5.97" rx="1.91" ry="1.87" fill="#0b0bf1"/>
<ellipse cx="41.13" cy="82.88" rx="2.47" ry="1.95" fill="#0404ac"/>
<ellipse cx="42.15" cy="59.46" rx="1.66" ry="1.33" fill="#000065"/>
<ellipse cx="35.13" cy="84.41" rx="1.91" ry="1.65" fill="#03039b"/>
<ellipse cx="37.43" cy="46.71" rx="2.33" ry="2.26" fill="#02028a"/>
<ellipse cx="23.16" cy="69.2" rx="2.13" ry="2.05" fill="#03039c"/>
<ellipse cx="118.49" cy="72.08" rx="1.68" ry="1.59" fill="#030393"/>
<ellipse cx="88.18" cy="75.07" rx="1.9" ry="1.67" fill="#0909e0"/>
<ellipse cx="17.51" cy="42.63" rx="2.49" ry="1.86" fill="#01017a"/>
<ellipse cx="79.1" cy="77.35" rx="1.81" ry="1.28" fill="#010173"/>
<ellipse cx="69.2" cy="4.84" rx="1.67" ry="1.62" fill="#0808da"/>
<ellipse cx="41.59" cy="4.51" rx="2.17" ry="1.56" fill="#0505b9"/>
<ellipse cx="58.8" cy="46.53" rx="1.69" ry="1.63" fill="#00005e"/>
<ellipse cx="94.88" cy="63.43" rx="2.26" ry="2.14" fill="#0505b4"/>
<ellipse cx="88.07" cy="23.32" rx="1.88" ry="1.57" fill="#0707ca"/>
<ellipse cx="59.93" cy="78.75" rx="1.89" ry="1.86" fill="#0606c4"/>
<ellipse cx="104.19" cy="56.71" rx="2.21" ry="1.82" fill="#0a0ae8"/>
<ellipse cx="65.07" cy="8.51" rx="2.26" ry="2.24" fill="#0303a2"/>
<ellipse cx="57.69" cy="76.35" rx="2.52" ry="2.37" fill="#0404ac"/>
<ellipse cx="35.52" cy="82.89" rx="1.98" ry="1.65" fill="#000061"/>
<ellipse cx="109.87" cy="27.23" rx="1.75" ry="1.67" fill="#0a0ae8"/>
<ellipse cx="47.5" cy="27.73" rx="1.61" ry="1.51" fill="#0505b1"/>
<ellipse cx="97.54" cy="6.11" rx="2" ry="1.45" fill="#0707d0"/>
<ellipse cx="110.09" cy="86.59" rx="1.64" ry="1.49" fill="#010169"/>
<ellipse cx="110" cy="0.97" rx="1.92" ry="1.41" fill="#02028f"/>
<ellipse cx="119.64" cy="27.77" rx="2.4" ry="2.23" fill="#0808d7"/>
<ellipse cx="57.26" cy="42.74" rx="1.97" ry="1.91" fill="#010173"/>
<ellipse cx="18.73" cy="42.26" rx="2.45" ry="1.87" fill="#000060"/>
<ellipse cx="87.58" cy="32.39" rx="1.72" ry="1.41" fill="#020290"/>
<ellipse cx="32.74" cy="26.44" rx="1.77" ry="1.58" fill="#01017e"/>
<ellipse cx="77.71" cy="70.41" rx="2.27" ry="2.19" fill="#030393"/>
<ellipse cx="66.85" cy="55.77" rx="2.59" ry="1.86" fill="#0606c8"/>
<ellipse cx="48.48" cy="65.86" rx="2.56" ry="2.45" fill="#030394"/>
<ellipse cx="117.98" cy="76.53" rx="1.94" ry="1.94" fill="#01017b"/>
<ellipse cx="89.16" cy="0.82" rx="1.97" ry="1.73" fill="#0606c3"/>
<ellipse cx="78.88" cy="44.3" rx="2.11" ry="1.61" fill="#000064"/>
<ellipse cx="70.61" cy="25.3" rx="1.82" ry="1.37" fill="#0606c8"/>
<ellipse cx="54.81" cy="19.42" rx="1.63" ry="1.36" fill="#0404af"/>
<ellipse cx="43.65" cy="13.94" rx="1.63" ry="1.25" fill="#000052"/>
<ellipse cx="42.84" cy="72.21" rx="2.53" ry="2.36" fill="#01017f"/>
<ellipse cx="31.33" cy="45.13" rx="2.34" ry="1.81" fill="#0303a3"/>
<ellipse cx="75.72" cy="0.38" rx="2.36" ry="1.9" fill="#020291"/>
</g>
<g filter="url(#bl4)" fill="#000" opacity=".85">
<circle cx="25.48" cy="71.95" r="1.03"/>
<circle cx="16.31" cy="60.12" r="1.05"/>
<circle cx="121.59" cy="85.76" r="0.89"/>
<circle cx="18.76" cy="51.52" r="0.57"/>
<circle cx="92.11" cy="85.67" r="0.84"/>
<circle cx="48.34" cy="86.89" r="0.77"/>
<circle cx="114.29" cy="13.01" r="0.87"/>
<circle cx="62.19" cy="3.64" r="0.64"/>
<circle cx="32.85" cy="52.59" r="0.64"/>
<circle cx="23.97" cy="33.05" r="0.85"/>
<circle cx="71.23" cy="12.53" r="0.98"/>
<circle cx="106.42" cy="69.49" r="0.76"/>
<circle cx="28.14" cy="35.83" r="0.56"/>
<circle cx="39.29" cy="79.58" r="0.8"/>
<circle cx="30.65" cy="32.08" r="0.73"/>
<circle cx="50.7" cy="62.54" r="0.76"/>
<circle cx="113.35" cy="0.59" r="0.57"/>
<circle cx="47.4" cy="27.31" r="1.02"/>
<circle cx="23.78" cy="82.9" r="0.72"/>
<circle cx="82.37" cy="26.66" r="1.01"/>
<circle cx="23.24" cy="50.68" r="0.72"/>
<circle cx="82.98" cy="11.5" r="0.82"/>
<circle cx="7.24" cy="70.68" r="0.78"/>
<circle cx="99.05" cy="8.25" r="0.71"/>
<circle cx="14.32" cy="78.26" r="0.67"/>
<circle cx="43.63" cy="32.53" r="1.02"/>
<circle cx="64.21" cy="31.98" r="0.96"/>
<circle cx="46.48" cy="14.65" r="0.75"/>
<circle cx="19.22" cy="47.58" r="0.79"/>
<circle cx="109.47" cy="88.93" r="0.92"/>
<circle cx="42.16" cy="20.13" r="0.93"/>
<circle cx="96.42" cy="10.23" r="0.83"/>
<circle cx="83.15" cy="19.13" r="0.87"/>
<circle cx="64.22" cy="4.31" r="1.1"/>
<circle cx="65.76" cy="33.99" r="1.01"/>
<circle cx="116.61" cy="70.84" r="0.79"/>
<circle cx="58.93" cy="49.25" r="0.97"/>
<circle cx="78.88" cy="58.69" r="0.87"/>
<circle cx="103.7" cy="50.51" r="1.02"/>
<circle cx="53.62" cy="87.29" r="1.08"/>
<circle cx="46.06" cy="28.26" r="0.72"/>
<circle cx="101.7" cy="60.77" r="1.08"/>
<circle cx="18.77" cy="37.81" r="0.78"/>
<circle cx="57.51" cy="28.13" r="1.04"/>
<circle cx="12.42" cy="54.58" r="1.09"/>
<circle cx="98.93" cy="82.72" r="0.76"/>
<circle cx="103.57" cy="14.21" r="1.07"/>
<circle cx="104.19" cy="47.37" r="0.78"/>
<circle cx="50.53" cy="6.2" r="0.93"/>
<circle cx="13.77" cy="51.45" r="0.68"/>
<circle cx="54.51" cy="73.83" r="0.84"/>
<circle cx="37.14" cy="28.28" r="0.92"/>
<circle cx="28.35" cy="84.6" r="0.57"/>
<circle cx="58.55" cy="21.99" r="0.98"/>
<circle cx="18.81" cy="5.83" r="1.06"/>
<circle cx="95.93" cy="33.67" r="0.78"/>
<circle cx="24.65" cy="86.46" r="0.69"/>
<circle cx="68.15" cy="87.52" r="0.87"/>
<circle cx="55.86" cy="0.68" r="0.63"/>
<circle cx="42.12" cy="77.72" r="0.59"/>
<circle cx="85.86" cy="7.04" r="0.56"/>
<circle cx="29.69" cy="5.67" r="0.74"/>
<circle cx="74.91" cy="2.37" r="1.04"/>
<circle cx="121.17" cy="61.25" r="1.03"/>
<circle cx="32.85" cy="20.55" r="0.92"/>
<circle cx="59.7" cy="75.48" r="0.95"/>
<circle cx="35.36" cy="64.87" r="0.66"/>
<circle cx="120.7" cy="23.23" r="0.96"/>
<circle cx="34.11" cy="19.69" r="0.62"/>
<circle cx="54.18" cy="42.96" r="1.05"/>
<circle cx="96.41" cy="79.24" r="0.74"/>
<circle cx="89.85" cy="73.88" r="0.61"/>
<circle cx="114.6" cy="87.03" r="0.65"/>
<circle cx="84.59" cy="24.37" r="0.73"/>
<circle cx="5.44" cy="58.32" r="0.91"/>
<circle cx="84.42" cy="14.98" r="0.91"/>
<circle cx="79.89" cy="26.01" r="1.09"/>
<circle cx="46.11" cy="4.42" r="1.1"/>
<circle cx="25.48" cy="0.29" r="0.78"/>
<circle cx="7.8" cy="24.89" r="0.83"/>
<circle cx="82.46" cy="36.39" r="0.57"/>
<circle cx="5.03" cy="42.82" r="0.65"/>
<circle cx="56.83" cy="52.09" r="0.93"/>
<circle cx="118.87" cy="47.52" r="1.12"/>
<circle cx="19.99" cy="2.63" r="0.91"/>
<circle cx="90.88" cy="72.91" r="0.57"/>
<circle cx="31.68" cy="37.32" r="1.06"/>
<circle cx="73.24" cy="47.61" r="0.61"/>
<circle cx="34.19" cy="54.36" r="0.8"/>
<circle cx="110.06" cy="5.24" r="0.63"/>
<circle cx="121.1" cy="48.36" r="0.7"/>
<circle cx="72.59" cy="50.1" r="0.58"/>
<circle cx="28.67" cy="56.25" r="1.08"/>
<circle cx="37.26" cy="20.07" r="1.1"/>
<circle cx="15.23" cy="73.45" r="0.8"/>
<circle cx="63.67" cy="63.04" r="0.73"/>
<circle cx="115.33" cy="28.8" r="0.58"/>
<circle cx="63.11" cy="57.75" r="0.94"/>
<circle cx="48.75" cy="11.83" r="0.84"/>
<circle cx="45.57" cy="40.99" r="0.63"/>
<circle cx="107.7" cy="22.92" r="1.1"/>
<circle cx="85.69" cy="55.27" r="0.83"/>
<circle cx="0.39" cy="29.5" r="0.74"/>
<circle cx="104.88" cy="75.7" r="0.91"/>
<circle cx="58.28" cy="83.92" r="0.56"/>
<circle cx="58.27" cy="66.92" r="0.78"/>
<circle cx="51.3" cy="68.29" r="0.66"/>
<circle cx="56.38" cy="55.46" r="0.87"/>
<circle cx="94.76" cy="89.95" r="0.77"/>
<circle cx="65.05" cy="57.59" r="1.06"/>
<circle cx="17.58" cy="6.53" r="1.06"/>
<circle cx="100.6" cy="7.63" r="1.07"/>
<circle cx="45.32" cy="46.56" r="0.85"/>
<circle cx="39.75" cy="36.1" r="0.62"/>
<circle cx="8.45" cy="58.65" r="1.1"/>
<circle cx="92.62" cy="56.71" r="0.82"/>
<circle cx="35.43" cy="81.21" r="0.59"/>
<circle cx="65.09" cy="58.45" r="0.75"/>
<circle cx="35.68" cy="68.08" r="0.57"/>
<circle cx="92.34" cy="3.9" r="0.62"/>
<circle cx="10.21" cy="20.56" r="0.99"/>
<circle cx="23.64" cy="79.36" r="0.73"/>
<circle cx="6.36" cy="51.04" r="0.81"/>
<circle cx="66.75" cy="22.72" r="0.69"/>
<circle cx="94.79" cy="62.97" r="0.68"/>
<circle cx="95.97" cy="62.26" r="0.62"/>
<circle cx="113.19" cy="38.19" r="1.05"/>
<circle cx="81.56" cy="81.04" r="0.61"/>
<circle cx="108.27" cy="56.28" r="0.77"/>
<circle cx="111.98" cy="64.9" r="0.91"/>
<circle cx="4.03" cy="63.62" r="0.77"/>
<circle cx="48.43" cy="63.41" r="0.95"/>
<circle cx="101.25" cy="17.94" r="1.04"/>
<circle cx="53.92" cy="4.44" r="1.05"/>
<circle cx="23.64" cy="50.66" r="0.86"/>
<circle cx="10.55" cy="26.36" r="0.58"/>
<circle cx="67.36" cy="5.22" r="0.68"/>
<circle cx="113.13" cy="36.25" r="0.81"/>
<circle cx="8.64" cy="83.46" r="0.89"/>
<circle cx="36.45" cy="52.84" r="0.8"/>
<circle cx="85" cy="36.89" r="0.76"/>
<circle cx="36.89" cy="70.74" r="1"/>
<circle cx="86.28" cy="82.65" r="0.79"/>
<circle cx="100.4" cy="53.87" r="0.74"/>
<circle cx="7.78" cy="65.8" r="0.62"/>
<circle cx="57.44" cy="40.9" r="0.61"/>
<circle cx="111.93" cy="34.63" r="1.08"/>
<circle cx="111.45" cy="6.69" r="0.76"/>
<circle cx="72.94" cy="43.31" r="1.01"/>
<circle cx="42.3" cy="15.13" r="1.04"/>
<circle cx="38.11" cy="15.87" r="0.56"/>
<circle cx="4.55" cy="32.73" r="1"/>
<circle cx="19.82" cy="22.39" r="0.74"/>
<circle cx="114.38" cy="81.13" r="1"/>
<circle cx="32.59" cy="55.36" r="0.65"/>
<circle cx="97.84" cy="47.05" r="0.58"/>
<circle cx="35.34" cy="41.96" r="0.74"/>
<circle cx="36.88" cy="88.61" r="0.88"/>
<circle cx="118.76" cy="30.17" r="1"/>
<circle cx="29.25" cy="70.08" r="1.08"/>
<circle cx="39.58" cy="3.34" r="0.98"/>
<circle cx="91.41" cy="84.97" r="0.65"/>
<circle cx="118.69" cy="15.45" r="0.88"/>
<circle cx="2.29" cy="51.27" r="1.04"/>
<circle cx="46.52" cy="5.72" r="0.78"/>
<circle cx="73.54" cy="75.08" r="0.72"/>
<circle cx="90.17" cy="86.43" r="0.89"/>
<circle cx="52.35" cy="74.38" r="0.78"/>
<circle cx="44.83" cy="44.6" r="0.77"/>
<circle cx="43.32" cy="70.27" r="0.99"/>
<circle cx="87.69" cy="34.51" r="1.02"/>
<circle cx="93.11" cy="33.27" r="0.75"/>
<circle cx="65.76" cy="55.18" r="1.12"/>
<circle cx="15.51" cy="14.95" r="1.11"/>
<circle cx="29.33" cy="64.89" r="0.71"/>
<circle cx="58.34" cy="5.11" r="0.9"/>
<circle cx="86.03" cy="13.32" r="0.75"/>
<circle cx="66.5" cy="3.5" r="0.69"/>
<circle cx="29.65" cy="8.52" r="0.68"/>
<circle cx="12.56" cy="14.59" r="0.72"/>
</g>
<rect width="121.7" height="90" filter="url(#tF3)"/>
<g filter="url(#bl12)" fill="#000"><ellipse cx="12.17" cy="9" rx="15.82" ry="13.5"/><ellipse cx="3.65" cy="37.8" rx="6.09" ry="12.6"/><ellipse cx="43.81" cy="8.1" rx="10.95" ry="8.1"/><ellipse cx="52.94" cy="29.7" rx="5.48" ry="8.1"/><ellipse cx="79.11" cy="31.5" rx="6.69" ry="9"/><ellipse cx="105.88" cy="45" rx="6.09" ry="7.2"/><ellipse cx="59.02" cy="62.1" rx="4.87" ry="8.1"/><ellipse cx="108.31" cy="70.2" rx="7.3" ry="9"/><ellipse cx="10.95" cy="77.4" rx="6.09" ry="8.1"/><ellipse cx="66.94" cy="8.1" rx="5.48" ry="4.5"/><ellipse cx="30.43" cy="50.4" rx="9.74" ry="4.05"/><ellipse cx="90.06" cy="10.8" rx="3.65" ry="4.5"/><ellipse cx="87.62" cy="59.4" rx="3.65" ry="4.5"/><ellipse cx="36.51" cy="76.5" rx="4.26" ry="4.5"/></g>
</g>
<g id="dF7">
<rect width="121.7" height="89.3" fill="#00000e"/>
<g filter="url(#bl6)">
<ellipse cx="116.61" cy="12.53" rx="1.11" ry="0.82" fill="#0909e5"/>
<ellipse cx="28.2" cy="85.68" rx="1.56" ry="1.41" fill="#0404ab"/>
<ellipse cx="112.43" cy="63.23" rx="1.35" ry="1.07" fill="#0707d3"/>
<ellipse cx="23.14" cy="75.89" rx="1.46" ry="1.45" fill="#0808dc"/>
<ellipse cx="68.92" cy="62.37" rx="1.57" ry="1.25" fill="#01017c"/>
<ellipse cx="95.06" cy="85.25" rx="1.5" ry="1.35" fill="#01016d"/>
<ellipse cx="22.52" cy="4.39" rx="1.56" ry="1.32" fill="#00005f"/>
<ellipse cx="111.53" cy="27.44" rx="1.18" ry="1.04" fill="#0404a8"/>
<ellipse cx="64.29" cy="7.87" rx="1.26" ry="1.03" fill="#020289"/>
<ellipse cx="113.12" cy="85.03" rx="1.06" ry="1.02" fill="#02028f"/>
<ellipse cx="20.86" cy="48.81" rx="1.21" ry="0.92" fill="#020285"/>
<ellipse cx="4.5" cy="47.82" rx="1.12" ry="1.02" fill="#0505b2"/>
<ellipse cx="6.34" cy="36.68" rx="1.28" ry="1.22" fill="#0808d9"/>
<ellipse cx="120.64" cy="66.41" rx="1.39" ry="1.12" fill="#0505bd"/>
<ellipse cx="95.43" cy="73.21" rx="1.01" ry="0.86" fill="#0808dd"/>
<ellipse cx="77.23" cy="30.41" rx="1.26" ry="0.98" fill="#0505b8"/>
<ellipse cx="5.1" cy="86.37" rx="1.13" ry="0.88" fill="#01016a"/>
<ellipse cx="105.42" cy="16.13" rx="1.28" ry="0.98" fill="#000067"/>
<ellipse cx="41.88" cy="65.63" rx="1.02" ry="0.83" fill="#0707cd"/>
<ellipse cx="103.32" cy="2.94" rx="1.23" ry="1.14" fill="#03039c"/>
<ellipse cx="87.4" cy="41.48" rx="1.16" ry="0.83" fill="#010178"/>
<ellipse cx="81.02" cy="14.09" rx="1.03" ry="0.88" fill="#0505b1"/>
<ellipse cx="73.47" cy="3.77" rx="1.46" ry="1.02" fill="#00005e"/>
<ellipse cx="76.91" cy="88.01" rx="1.32" ry="0.98" fill="#010179"/>
<ellipse cx="41.66" cy="77.14" rx="1.23" ry="1.1" fill="#00005c"/>
<ellipse cx="21.36" cy="71.67" rx="1.22" ry="1.16" fill="#0404a4"/>
<ellipse cx="62.41" cy="16.82" rx="1.5" ry="1.28" fill="#01016f"/>
<ellipse cx="84.78" cy="72.99" rx="1.24" ry="1.2" fill="#010173"/>
<ellipse cx="92.7" cy="34.54" rx="1.1" ry="0.78" fill="#010174"/>
<ellipse cx="46.21" cy="21.07" rx="1.09" ry="0.95" fill="#0909e0"/>
<ellipse cx="105.23" cy="53.44" rx="1.01" ry="1" fill="#0606c3"/>
<ellipse cx="83.54" cy="72.03" rx="1.04" ry="0.78" fill="#000067"/>
<ellipse cx="61.43" cy="83.79" rx="1.37" ry="1.27" fill="#020291"/>
<ellipse cx="40.45" cy="86.67" rx="1.54" ry="1.45" fill="#0505bd"/>
<ellipse cx="79.37" cy="28.7" rx="1.03" ry="1.01" fill="#010179"/>
<ellipse cx="36.31" cy="2.13" rx="1.27" ry="1.01" fill="#010168"/>
<ellipse cx="21.36" cy="42.57" rx="1.49" ry="1.18" fill="#020289"/>
<ellipse cx="65.87" cy="78.4" rx="1.02" ry="1.01" fill="#02028c"/>
<ellipse cx="62.57" cy="19.43" rx="1.19" ry="0.88" fill="#010179"/>
<ellipse cx="5.97" cy="88.8" rx="1.29" ry="1.21" fill="#010169"/>
<ellipse cx="61.4" cy="6.18" rx="1.55" ry="1.35" fill="#02028c"/>
<ellipse cx="55.86" cy="56.32" rx="1.48" ry="1.34" fill="#0505b7"/>
<ellipse cx="43.92" cy="25.54" rx="1.09" ry="0.91" fill="#000065"/>
<ellipse cx="94.72" cy="19.39" rx="1.38" ry="0.97" fill="#0404b0"/>
<ellipse cx="112.03" cy="52.26" rx="1.41" ry="1.38" fill="#010179"/>
<ellipse cx="41.05" cy="35.55" rx="1.24" ry="1.21" fill="#010171"/>
<ellipse cx="67.71" cy="73.5" rx="1.47" ry="1.13" fill="#0707d2"/>
<ellipse cx="64.5" cy="60.89" rx="1.14" ry="0.99" fill="#0404ab"/>
<ellipse cx="43.15" cy="71.26" rx="1.35" ry="1.04" fill="#0909e2"/>
<ellipse cx="50.59" cy="11.44" rx="1.36" ry="1.08" fill="#000060"/>
<ellipse cx="94.57" cy="11.32" rx="1.14" ry="0.84" fill="#0505bb"/>
<ellipse cx="45.34" cy="57.96" rx="1.26" ry="1.19" fill="#00005c"/>
<ellipse cx="19.21" cy="84.01" rx="1.06" ry="0.86" fill="#01016f"/>
<ellipse cx="57.98" cy="15.69" rx="1.15" ry="0.96" fill="#03039d"/>
<ellipse cx="54.86" cy="62.27" rx="1.11" ry="1.06" fill="#010178"/>
<ellipse cx="6.15" cy="11" rx="1.32" ry="1.29" fill="#0707cb"/>
<ellipse cx="89.13" cy="20.65" rx="1.03" ry="0.82" fill="#020290"/>
<ellipse cx="112.71" cy="45.66" rx="1.32" ry="0.99" fill="#0505b8"/>
<ellipse cx="115.96" cy="82.12" rx="1.04" ry="0.92" fill="#02028d"/>
<ellipse cx="104.04" cy="34.73" rx="1.48" ry="1.11" fill="#0404ad"/>
<ellipse cx="34.36" cy="57.36" rx="1.19" ry="1.13" fill="#0707ca"/>
<ellipse cx="55.36" cy="14.78" rx="1.16" ry="1.07" fill="#010169"/>
<ellipse cx="96.63" cy="56.37" rx="1.44" ry="1.17" fill="#0505b4"/>
<ellipse cx="9.93" cy="41.87" rx="1.23" ry="0.89" fill="#010173"/>
<ellipse cx="109.28" cy="25.07" rx="1.01" ry="0.98" fill="#0606bf"/>
<ellipse cx="98.51" cy="46.92" rx="1.02" ry="0.76" fill="#03039a"/>
<ellipse cx="37.8" cy="76.62" rx="1.21" ry="0.89" fill="#01016a"/>
<ellipse cx="27.8" cy="31.45" rx="1.39" ry="1.08" fill="#01016e"/>
<ellipse cx="108.32" cy="42.99" rx="1.21" ry="0.94" fill="#0606c3"/>
<ellipse cx="14.92" cy="26.32" rx="1.21" ry="1.11" fill="#0606be"/>
<ellipse cx="33.53" cy="6.24" rx="1.55" ry="1.17" fill="#02028e"/>
<ellipse cx="25.76" cy="13.93" rx="1.56" ry="1.2" fill="#0909df"/>
<ellipse cx="6.07" cy="43.44" rx="1.25" ry="1.16" fill="#010169"/>
<ellipse cx="0.16" cy="64.17" rx="1.29" ry="1.08" fill="#0606c6"/>
<ellipse cx="63.11" cy="12.17" rx="1.19" ry="0.85" fill="#010179"/>
<ellipse cx="19.29" cy="4.93" rx="1.33" ry="1.13" fill="#010179"/>
<ellipse cx="28.36" cy="11.35" rx="1.41" ry="1.21" fill="#0505b6"/>
<ellipse cx="70.59" cy="2.19" rx="1.23" ry="0.9" fill="#0606c8"/>
<ellipse cx="51.22" cy="74.48" rx="1.3" ry="1.25" fill="#010169"/>
<ellipse cx="47.52" cy="22.15" rx="1.18" ry="1.04" fill="#000067"/>
<ellipse cx="103.37" cy="76.89" rx="1.22" ry="0.9" fill="#01017d"/>
<ellipse cx="33.18" cy="68.46" rx="1.04" ry="0.96" fill="#01017e"/>
<ellipse cx="117.58" cy="70.92" rx="1.46" ry="1.34" fill="#0606c0"/>
<ellipse cx="59.98" cy="89.21" rx="1.26" ry="0.91" fill="#010179"/>
<ellipse cx="45.6" cy="72.98" rx="1.47" ry="1.07" fill="#0303a0"/>
<ellipse cx="43.05" cy="43.17" rx="1.56" ry="1.47" fill="#0505b7"/>
<ellipse cx="66.39" cy="61.07" rx="1.36" ry="1.19" fill="#0909e3"/>
<ellipse cx="45.38" cy="80.71" rx="1.42" ry="1.24" fill="#0909de"/>
<ellipse cx="44.64" cy="1.61" rx="1.43" ry="1.33" fill="#0606c1"/>
<ellipse cx="4.36" cy="61.09" rx="1.52" ry="1.25" fill="#02028e"/>
<ellipse cx="56.82" cy="4.53" rx="1.13" ry="0.97" fill="#010176"/>
<ellipse cx="5.79" cy="7.95" rx="1.58" ry="1.46" fill="#0606be"/>
<ellipse cx="62.66" cy="11.66" rx="1.05" ry="0.89" fill="#01016b"/>
<ellipse cx="104.95" cy="27.74" rx="1.58" ry="1.46" fill="#020286"/>
<ellipse cx="105.26" cy="87.92" rx="1.31" ry="1.13" fill="#010174"/>
<ellipse cx="87.91" cy="20.51" rx="1.11" ry="0.93" fill="#01017f"/>
<ellipse cx="97.79" cy="49.46" rx="1.22" ry="1" fill="#010178"/>
<ellipse cx="33.07" cy="27.77" rx="1.4" ry="1.25" fill="#020281"/>
<ellipse cx="76.26" cy="82.5" rx="1.24" ry="1.06" fill="#01016b"/>
<ellipse cx="90.83" cy="47.35" rx="1.39" ry="1.3" fill="#03039a"/>
<ellipse cx="54.27" cy="19.09" rx="1.45" ry="1.06" fill="#03039d"/>
<ellipse cx="28.19" cy="8.22" rx="1.54" ry="1.27" fill="#020282"/>
<ellipse cx="120.11" cy="73.63" rx="1.34" ry="1.27" fill="#030395"/>
<ellipse cx="40.69" cy="13.94" rx="1.23" ry="1.01" fill="#0404af"/>
<ellipse cx="12.31" cy="50.66" rx="1.42" ry="1.31" fill="#03039d"/>
<ellipse cx="40.28" cy="56.96" rx="1.11" ry="1" fill="#0505bb"/>
<ellipse cx="78.45" cy="69.26" rx="1.59" ry="1.21" fill="#0808d8"/>
<ellipse cx="58.36" cy="4.06" rx="1.26" ry="1.11" fill="#010168"/>
<ellipse cx="52.23" cy="15.32" rx="1.29" ry="1.18" fill="#010177"/>
<ellipse cx="36.4" cy="39.88" rx="1.48" ry="1.43" fill="#0303a1"/>
<ellipse cx="117.68" cy="14.74" rx="1.42" ry="1.16" fill="#01016a"/>
<ellipse cx="103.38" cy="43.17" rx="1.37" ry="1.13" fill="#00005f"/>
<ellipse cx="101.35" cy="9.21" rx="1.2" ry="0.99" fill="#0505b7"/>
<ellipse cx="49.18" cy="88" rx="1.5" ry="1.44" fill="#0707cc"/>
<ellipse cx="54.42" cy="25.9" rx="1.53" ry="1.29" fill="#0808d5"/>
<ellipse cx="110.36" cy="68.09" rx="1.48" ry="1.05" fill="#0404b0"/>
<ellipse cx="45.94" cy="57.63" rx="1.05" ry="0.82" fill="#0303a1"/>
<ellipse cx="105.72" cy="31.19" rx="1.17" ry="0.96" fill="#0404aa"/>
<ellipse cx="61.53" cy="77.59" rx="1.3" ry="1.21" fill="#010171"/>
<ellipse cx="109.11" cy="47.39" rx="1.4" ry="1.36" fill="#0505b1"/>
<ellipse cx="119.94" cy="88.53" rx="1.23" ry="0.97" fill="#0505bc"/>
<ellipse cx="12.14" cy="81.33" rx="1.3" ry="0.99" fill="#0303a1"/>
<ellipse cx="112.85" cy="67.63" rx="1.6" ry="1.24" fill="#0404a7"/>
<ellipse cx="14.3" cy="56.1" rx="1.28" ry="1.22" fill="#0505b6"/>
<ellipse cx="90.86" cy="76.64" rx="1.46" ry="1.15" fill="#0606c7"/>
<ellipse cx="0.11" cy="8.86" rx="1.04" ry="0.8" fill="#0909e0"/>
<ellipse cx="48.95" cy="6.09" rx="1.51" ry="1.13" fill="#0707d0"/>
<ellipse cx="110.8" cy="70.15" rx="1.56" ry="1.5" fill="#0707cf"/>
<ellipse cx="91.41" cy="72.94" rx="1.41" ry="1.2" fill="#00005c"/>
<ellipse cx="18.05" cy="11.91" rx="1.03" ry="0.73" fill="#0808d7"/>
<ellipse cx="84.92" cy="26.04" rx="1.43" ry="1.02" fill="#030398"/>
<ellipse cx="94.5" cy="17.81" rx="1.19" ry="0.92" fill="#03039b"/>
<ellipse cx="54.48" cy="4.61" rx="1.51" ry="1.2" fill="#01016b"/>
<ellipse cx="119.74" cy="80.41" rx="1.59" ry="1.33" fill="#0707d0"/>
<ellipse cx="58.8" cy="60.21" rx="1.44" ry="1.1" fill="#01017d"/>
<ellipse cx="46.77" cy="2.02" rx="1.08" ry="0.82" fill="#0606c9"/>
<ellipse cx="48.12" cy="26.57" rx="1.12" ry="1.05" fill="#000062"/>
<ellipse cx="94.49" cy="72" rx="1.15" ry="1.05" fill="#0909e5"/>
<ellipse cx="54.7" cy="85.78" rx="1.47" ry="1.45" fill="#0505bd"/>
<ellipse cx="93.09" cy="29.25" rx="1.56" ry="1.21" fill="#0606c7"/>
<ellipse cx="88.88" cy="64.42" rx="1.34" ry="1.18" fill="#01016a"/>
<ellipse cx="39.99" cy="55.22" rx="1.32" ry="1.25" fill="#0404a7"/>
<ellipse cx="87.65" cy="7.1" rx="1.32" ry="1.19" fill="#01016b"/>
<ellipse cx="85.7" cy="0.82" rx="1.3" ry="1.11" fill="#010171"/>
<ellipse cx="59.42" cy="68.19" rx="1.15" ry="0.87" fill="#03039a"/>
<ellipse cx="76.9" cy="14.14" rx="1.07" ry="1" fill="#02028c"/>
<ellipse cx="2.58" cy="26.37" rx="1.42" ry="1.23" fill="#00005d"/>
<ellipse cx="118.78" cy="27.91" rx="1.3" ry="0.94" fill="#0909e2"/>
<ellipse cx="41.54" cy="72.67" rx="1.31" ry="1.21" fill="#0404b0"/>
<ellipse cx="45.06" cy="83.57" rx="1.18" ry="1.03" fill="#020291"/>
<ellipse cx="26.45" cy="34.56" rx="1.02" ry="0.8" fill="#0808da"/>
<ellipse cx="17.98" cy="63.85" rx="1.47" ry="1.42" fill="#00005d"/>
<ellipse cx="112.84" cy="20.13" rx="1.22" ry="1.19" fill="#000065"/>
<ellipse cx="76.42" cy="47.65" rx="1.02" ry="0.88" fill="#030397"/>
<ellipse cx="114.53" cy="10.56" rx="1.49" ry="1.24" fill="#0404ae"/>
<ellipse cx="10.2" cy="57.58" rx="1.49" ry="1.28" fill="#010179"/>
<ellipse cx="95.7" cy="21.01" rx="1.4" ry="1.34" fill="#0505b4"/>
<ellipse cx="114.8" cy="64.34" rx="1.4" ry="1.31" fill="#030398"/>
<ellipse cx="38.24" cy="5.39" rx="1.31" ry="1.01" fill="#010173"/>
<ellipse cx="106.93" cy="2.7" rx="1.39" ry="1.03" fill="#0707d3"/>
<ellipse cx="66.65" cy="73.75" rx="1.49" ry="1.21" fill="#0808d7"/>
<ellipse cx="15.04" cy="61.72" rx="1.27" ry="1.16" fill="#0707ca"/>
<ellipse cx="17.51" cy="67.5" rx="1.47" ry="1.32" fill="#0707c9"/>
<ellipse cx="20.77" cy="29.42" rx="1.35" ry="1.09" fill="#020280"/>
<ellipse cx="80.14" cy="79.58" rx="1.37" ry="1.19" fill="#00005b"/>
<ellipse cx="52.61" cy="65.63" rx="1.38" ry="1.03" fill="#01017a"/>
<ellipse cx="110.8" cy="77.72" rx="1.39" ry="1.2" fill="#0505bb"/>
<ellipse cx="16.58" cy="24.03" rx="1.07" ry="0.86" fill="#0404aa"/>
<ellipse cx="16.27" cy="11.19" rx="1.01" ry="0.86" fill="#020280"/>
<ellipse cx="113.03" cy="41.31" rx="1.16" ry="0.93" fill="#02028d"/>
<ellipse cx="23.66" cy="38.33" rx="1.53" ry="1.3" fill="#02028a"/>
<ellipse cx="77.45" cy="43.04" rx="1.35" ry="1.03" fill="#0808d4"/>
<ellipse cx="37.33" cy="35.1" rx="1.16" ry="0.92" fill="#02028c"/>
<ellipse cx="120.91" cy="66.03" rx="1.08" ry="0.93" fill="#0808d5"/>
<ellipse cx="76.99" cy="56.5" rx="1.16" ry="0.83" fill="#000062"/>
<ellipse cx="37.65" cy="3.46" rx="1.12" ry="1.02" fill="#0505b3"/>
<ellipse cx="51.02" cy="74.66" rx="1.25" ry="1.04" fill="#0707d2"/>
<ellipse cx="113.01" cy="61.17" rx="1.44" ry="1.28" fill="#0707d2"/>
<ellipse cx="3.35" cy="79.37" rx="1.2" ry="0.91" fill="#00005d"/>
<ellipse cx="29.35" cy="43.34" rx="1.52" ry="1.38" fill="#0505b6"/>
<ellipse cx="105.42" cy="38.46" rx="1.6" ry="1.2" fill="#0505bb"/>
<ellipse cx="3.98" cy="42.69" rx="1.45" ry="1.01" fill="#02028b"/>
<ellipse cx="33.53" cy="86.36" rx="1.37" ry="1.23" fill="#00005c"/>
<ellipse cx="113" cy="79.01" rx="1.19" ry="1.08" fill="#01017d"/>
<ellipse cx="42.1" cy="33.55" rx="1.08" ry="0.88" fill="#010174"/>
<ellipse cx="85.28" cy="17.3" rx="1.24" ry="1.09" fill="#000065"/>
<ellipse cx="73.12" cy="57.73" rx="1.48" ry="1.41" fill="#0505b9"/>
<ellipse cx="0.09" cy="83.08" rx="1.46" ry="1.22" fill="#0909e4"/>
<ellipse cx="5.53" cy="8.67" rx="1.03" ry="0.94" fill="#00005c"/>
<ellipse cx="73.89" cy="60.38" rx="1.45" ry="1.02" fill="#0909df"/>
<ellipse cx="69.35" cy="29.15" rx="1.59" ry="1.13" fill="#0404ad"/>
<ellipse cx="97.94" cy="83.23" rx="1.01" ry="0.8" fill="#0808d6"/>
<ellipse cx="2.84" cy="15.86" rx="1.26" ry="1.25" fill="#0404a6"/>
<ellipse cx="91.91" cy="6.67" rx="1.49" ry="1.4" fill="#01017f"/>
<ellipse cx="102.01" cy="77.33" rx="1.5" ry="1.43" fill="#0404a5"/>
<ellipse cx="99.5" cy="78.54" rx="1.37" ry="1.25" fill="#000066"/>
<ellipse cx="115.47" cy="66.71" rx="1.2" ry="1.17" fill="#0808d8"/>
<ellipse cx="69.28" cy="38.71" rx="1.25" ry="1.14" fill="#03039c"/>
<ellipse cx="31.2" cy="38.93" rx="1.44" ry="1.25" fill="#0909e1"/>
<ellipse cx="45.62" cy="58.95" rx="1.23" ry="0.97" fill="#00005d"/>
<ellipse cx="94.37" cy="59.56" rx="1.24" ry="0.92" fill="#0808d6"/>
<ellipse cx="12.03" cy="6.37" rx="1.42" ry="1.05" fill="#000065"/>
<ellipse cx="52.64" cy="58.72" rx="1.27" ry="1.07" fill="#020280"/>
<ellipse cx="82.86" cy="76.28" rx="1.18" ry="0.82" fill="#0404ae"/>
<ellipse cx="52.31" cy="88.39" rx="1.12" ry="0.85" fill="#0505ba"/>
<ellipse cx="18.85" cy="38.68" rx="1.49" ry="1.29" fill="#010175"/>
<ellipse cx="32.51" cy="40.51" rx="1.54" ry="1.23" fill="#0404b0"/>
<ellipse cx="118" cy="25.8" rx="1.13" ry="0.8" fill="#0505b8"/>
<ellipse cx="21.16" cy="10.11" rx="1.39" ry="1.34" fill="#01016e"/>
<ellipse cx="72.78" cy="20.4" rx="1.22" ry="1.12" fill="#0909de"/>
<ellipse cx="0.65" cy="68.38" rx="1.54" ry="1.35" fill="#0404a3"/>
<ellipse cx="95.2" cy="43.76" rx="1.34" ry="1.24" fill="#01017e"/>
<ellipse cx="4.25" cy="59.91" rx="1.43" ry="1.39" fill="#0505b1"/>
<ellipse cx="79.45" cy="58.18" rx="1.42" ry="1.28" fill="#0505b5"/>
<ellipse cx="23.44" cy="3.97" rx="1.51" ry="1.12" fill="#0404a4"/>
<ellipse cx="107.74" cy="44.59" rx="1.6" ry="1.34" fill="#010170"/>
<ellipse cx="29.2" cy="55.62" rx="1.5" ry="1.11" fill="#0505b2"/>
<ellipse cx="30.78" cy="24.49" rx="1.49" ry="1.25" fill="#0404ae"/>
<ellipse cx="84.61" cy="81.01" rx="1.54" ry="1.16" fill="#02028c"/>
<ellipse cx="100.18" cy="7.6" rx="1.34" ry="0.98" fill="#010168"/>
<ellipse cx="73.94" cy="14.89" rx="1.19" ry="0.88" fill="#03039c"/>
<ellipse cx="92.18" cy="17.23" rx="1.53" ry="1.4" fill="#0808d9"/>
<ellipse cx="77.57" cy="75.27" rx="1.45" ry="1.2" fill="#0707cc"/>
<ellipse cx="92.18" cy="35.21" rx="1.09" ry="0.99" fill="#00005e"/>
<ellipse cx="10.38" cy="8.84" rx="1.58" ry="1.48" fill="#0808d6"/>
<ellipse cx="10.07" cy="14.2" rx="1.35" ry="1.31" fill="#020292"/>
<ellipse cx="8.82" cy="14.11" rx="1.22" ry="1.06" fill="#010169"/>
<ellipse cx="32.35" cy="34.31" rx="1.14" ry="1.04" fill="#0606c9"/>
<ellipse cx="107.85" cy="1.33" rx="1.23" ry="1.02" fill="#00005d"/>
<ellipse cx="41.93" cy="19.62" rx="1.36" ry="1.35" fill="#0505b3"/>
<ellipse cx="107.43" cy="27.28" rx="1.03" ry="0.88" fill="#0808d5"/>
<ellipse cx="105.63" cy="35.92" rx="1.51" ry="1.06" fill="#03039b"/>
<ellipse cx="80" cy="63.21" rx="1.16" ry="1.04" fill="#0505b2"/>
<ellipse cx="88.9" cy="11.53" rx="1.35" ry="1.21" fill="#0404ab"/>
<ellipse cx="75.17" cy="13.32" rx="1.19" ry="0.91" fill="#00005b"/>
<ellipse cx="72.44" cy="8.64" rx="1.47" ry="1.24" fill="#03039f"/>
<ellipse cx="6.95" cy="82.89" rx="1.45" ry="1.41" fill="#0808d8"/>
<ellipse cx="99.82" cy="66.8" rx="1.58" ry="1.54" fill="#0505b5"/>
<ellipse cx="20.19" cy="42.76" rx="1.37" ry="1.13" fill="#0505b6"/>
<ellipse cx="10.13" cy="37.95" rx="1.28" ry="1.06" fill="#010170"/>
<ellipse cx="69.18" cy="70.93" rx="1.56" ry="1.44" fill="#030398"/>
<ellipse cx="101.32" cy="86.62" rx="1.53" ry="1.22" fill="#03039c"/>
<ellipse cx="62.88" cy="16.76" rx="1.44" ry="1.35" fill="#0808d8"/>
<ellipse cx="108.92" cy="49.69" rx="1.27" ry="1.07" fill="#0606c5"/>
<ellipse cx="24.85" cy="39.28" rx="1.57" ry="1.19" fill="#00005f"/>
<ellipse cx="61.45" cy="26.54" rx="1.11" ry="0.91" fill="#0404ae"/>
<ellipse cx="101.43" cy="40.32" rx="1.01" ry="0.95" fill="#01016c"/>
<ellipse cx="59.06" cy="27.2" rx="1.14" ry="1.12" fill="#0303a1"/>
<ellipse cx="78.85" cy="22.34" rx="1.09" ry="1" fill="#000063"/>
<ellipse cx="45.58" cy="47.47" rx="1.59" ry="1.43" fill="#000060"/>
<ellipse cx="83.78" cy="56.25" rx="1.52" ry="1.17" fill="#0707cb"/>
<ellipse cx="104.45" cy="86.09" rx="1.03" ry="0.95" fill="#0808d8"/>
<ellipse cx="118.81" cy="12.67" rx="1.32" ry="0.95" fill="#00005d"/>
<ellipse cx="59.87" cy="16.8" rx="1.14" ry="0.85" fill="#0505b5"/>
<ellipse cx="34.95" cy="33.74" rx="1.35" ry="1.22" fill="#0404a8"/>
<ellipse cx="33" cy="60.75" rx="1.34" ry="1.2" fill="#000067"/>
<ellipse cx="33.7" cy="87.81" rx="1.33" ry="1.17" fill="#0707c9"/>
<ellipse cx="51.86" cy="5.52" rx="1.45" ry="1.37" fill="#0505b7"/>
<ellipse cx="36.71" cy="45.77" rx="1.25" ry="1.17" fill="#030394"/>
<ellipse cx="11.41" cy="4.41" rx="1.04" ry="0.95" fill="#0606c6"/>
<ellipse cx="18.28" cy="76.28" rx="1.23" ry="1.17" fill="#010175"/>
<ellipse cx="115.61" cy="3.2" rx="1.58" ry="1.55" fill="#010169"/>
<ellipse cx="51.07" cy="75.84" rx="1.11" ry="0.88" fill="#0707ce"/>
<ellipse cx="64.37" cy="66.35" rx="1.02" ry="0.76" fill="#010168"/>
<ellipse cx="34.44" cy="58.13" rx="1.39" ry="1.1" fill="#0808d8"/>
<ellipse cx="69.77" cy="75.51" rx="1.38" ry="1.31" fill="#0505b4"/>
<ellipse cx="80.56" cy="5.49" rx="1.37" ry="1.01" fill="#010176"/>
<ellipse cx="95.93" cy="73.75" rx="1.55" ry="1.33" fill="#0505b9"/>
<ellipse cx="103.96" cy="25.08" rx="1.24" ry="1.16" fill="#010178"/>
<ellipse cx="94.02" cy="27.03" rx="1.24" ry="1.12" fill="#0808d6"/>
<ellipse cx="35.61" cy="35.07" rx="1.05" ry="0.86" fill="#020284"/>
<ellipse cx="96.94" cy="16.45" rx="1.21" ry="0.94" fill="#0808d7"/>
<ellipse cx="20.39" cy="3.15" rx="1.58" ry="1.52" fill="#0505bd"/>
<ellipse cx="76" cy="84.6" rx="1.49" ry="1.11" fill="#0505bd"/>
<ellipse cx="112.16" cy="86.94" rx="1.06" ry="0.81" fill="#010170"/>
<ellipse cx="41.59" cy="71.43" rx="1.41" ry="1.33" fill="#010178"/>
<ellipse cx="0.52" cy="70.47" rx="1.28" ry="0.92" fill="#020283"/>
<ellipse cx="53.46" cy="0.23" rx="1.1" ry="0.84" fill="#03039f"/>
<ellipse cx="71.22" cy="25.91" rx="1.46" ry="1.07" fill="#0404a9"/>
<ellipse cx="24.89" cy="84.18" rx="1.6" ry="1.15" fill="#020293"/>
<ellipse cx="73.65" cy="11.55" rx="1.24" ry="0.88" fill="#010175"/>
<ellipse cx="21.78" cy="60.59" rx="1.58" ry="1.48" fill="#03039c"/>
<ellipse cx="12.06" cy="65.63" rx="1.48" ry="1.46" fill="#0303a3"/>
<ellipse cx="44.05" cy="73.49" rx="1.53" ry="1.43" fill="#0404a4"/>
<ellipse cx="42.2" cy="79.26" rx="1.48" ry="1.24" fill="#0808d5"/>
<ellipse cx="42.92" cy="11.79" rx="1.05" ry="0.83" fill="#01016b"/>
<ellipse cx="16.59" cy="20.8" rx="1.51" ry="1.23" fill="#020285"/>
<ellipse cx="105.58" cy="73.77" rx="1.41" ry="1.06" fill="#0404a6"/>
<ellipse cx="4.44" cy="77.79" rx="1.08" ry="1.03" fill="#010173"/>
<ellipse cx="79.21" cy="45.48" rx="1.13" ry="1.07" fill="#0909df"/>
<ellipse cx="35.59" cy="23.58" rx="1.35" ry="1.22" fill="#020291"/>
<ellipse cx="6.59" cy="34.71" rx="1.47" ry="1.22" fill="#0707cb"/>
<ellipse cx="48.15" cy="69.52" rx="1.49" ry="1.42" fill="#000060"/>
<ellipse cx="34.6" cy="59.91" rx="1.04" ry="0.9" fill="#01017c"/>
<ellipse cx="88.93" cy="36.76" rx="1.5" ry="1.38" fill="#010172"/>
<ellipse cx="60.29" cy="9.51" rx="1.15" ry="0.82" fill="#020290"/>
<ellipse cx="38.44" cy="83.1" rx="1.26" ry="1" fill="#0505b7"/>
<ellipse cx="20.02" cy="50.43" rx="1.28" ry="1.12" fill="#0303a0"/>
<ellipse cx="24.67" cy="83.49" rx="1.52" ry="1.38" fill="#01016f"/>
<ellipse cx="4.16" cy="69" rx="1.12" ry="0.95" fill="#020281"/>
<ellipse cx="4.67" cy="13.24" rx="1.24" ry="1.21" fill="#02028c"/>
<ellipse cx="97.1" cy="26.37" rx="1.4" ry="1.21" fill="#000060"/>
<ellipse cx="120.28" cy="48.07" rx="1.31" ry="1.11" fill="#0606c7"/>
<ellipse cx="59.31" cy="66.77" rx="1.25" ry="1.09" fill="#0404ae"/>
<ellipse cx="93.79" cy="9.89" rx="1.14" ry="0.85" fill="#010177"/>
<ellipse cx="68.73" cy="40.54" rx="1.07" ry="1.05" fill="#0606c3"/>
<ellipse cx="95.3" cy="22.79" rx="1" ry="0.8" fill="#0707d0"/>
<ellipse cx="86.58" cy="29.84" rx="1.17" ry="1.08" fill="#010180"/>
<ellipse cx="119.72" cy="37.72" rx="1.32" ry="1.14" fill="#0404ad"/>
<ellipse cx="66.93" cy="17.23" rx="1.14" ry="0.96" fill="#0404a5"/>
<ellipse cx="4.63" cy="31.97" rx="1.54" ry="1.16" fill="#03039b"/>
<ellipse cx="25.59" cy="29.9" rx="1.05" ry="0.95" fill="#000066"/>
<ellipse cx="103.88" cy="0.85" rx="1.45" ry="1.34" fill="#0606c7"/>
<ellipse cx="11.59" cy="26.4" rx="1.47" ry="1.14" fill="#03039f"/>
<ellipse cx="103.32" cy="79.88" rx="1.6" ry="1.14" fill="#0606be"/>
<ellipse cx="28.77" cy="80.93" rx="1.1" ry="1.07" fill="#020289"/>
<ellipse cx="5.49" cy="88.96" rx="1.3" ry="1.14" fill="#020286"/>
<ellipse cx="99.67" cy="36.99" rx="1.21" ry="1.21" fill="#020285"/>
<ellipse cx="39.37" cy="44.19" rx="1.31" ry="1.26" fill="#0606c8"/>
<ellipse cx="82" cy="37.06" rx="1.29" ry="1.05" fill="#020288"/>
<ellipse cx="54.84" cy="21.27" rx="1.48" ry="1.2" fill="#0808d9"/>
<ellipse cx="100.38" cy="7.25" rx="1.17" ry="1" fill="#01017f"/>
<ellipse cx="69.95" cy="26.4" rx="1.49" ry="1.46" fill="#02028e"/>
<ellipse cx="108.11" cy="65.23" rx="1.53" ry="1.24" fill="#000060"/>
<ellipse cx="4.13" cy="18.6" rx="1.05" ry="0.84" fill="#0505b4"/>
<ellipse cx="112.52" cy="88.87" rx="1.56" ry="1.5" fill="#0808d5"/>
<ellipse cx="56.8" cy="22.78" rx="1.33" ry="1.04" fill="#000060"/>
<ellipse cx="25.5" cy="38.38" rx="1.07" ry="1.06" fill="#03039b"/>
<ellipse cx="26.79" cy="51.78" rx="1.26" ry="1.22" fill="#0505b6"/>
<ellipse cx="11.5" cy="47.81" rx="1.18" ry="1.12" fill="#03039d"/>
<ellipse cx="55.16" cy="16.45" rx="1.3" ry="1.24" fill="#01016b"/>
<ellipse cx="111.39" cy="67.23" rx="1.15" ry="0.85" fill="#0404b0"/>
<ellipse cx="13.24" cy="69.05" rx="1.2" ry="0.97" fill="#0707d1"/>
<ellipse cx="110.09" cy="15.93" rx="1.38" ry="1.07" fill="#0707cf"/>
<ellipse cx="12.16" cy="73.05" rx="1.11" ry="0.87" fill="#0808dd"/>
<ellipse cx="85.24" cy="28.25" rx="1.07" ry="0.91" fill="#020282"/>
<ellipse cx="10.66" cy="34.25" rx="1.26" ry="1.13" fill="#0505b3"/>
<ellipse cx="100.51" cy="5.01" rx="1.25" ry="0.95" fill="#0808d7"/>
<ellipse cx="86.58" cy="49.1" rx="1.3" ry="1.15" fill="#0404ab"/>
<ellipse cx="3" cy="48.65" rx="1.43" ry="1.31" fill="#0707d1"/>
<ellipse cx="31.63" cy="85.5" rx="1.24" ry="1.04" fill="#020291"/>
<ellipse cx="61.41" cy="13.97" rx="1.34" ry="0.98" fill="#000060"/>
<ellipse cx="27.36" cy="2.15" rx="1.29" ry="1.16" fill="#00005f"/>
<ellipse cx="15.11" cy="30.24" rx="1.19" ry="0.96" fill="#030395"/>
<ellipse cx="104.92" cy="1.78" rx="1.38" ry="1.28" fill="#0808d7"/>
<ellipse cx="89.03" cy="37.71" rx="1.36" ry="1.23" fill="#010169"/>
<ellipse cx="86.71" cy="87.91" rx="1.17" ry="1.12" fill="#0404ab"/>
<ellipse cx="7.85" cy="54.03" rx="1.58" ry="1.31" fill="#010179"/>
<ellipse cx="121.18" cy="27.17" rx="1.49" ry="1.45" fill="#02028a"/>
<ellipse cx="69.98" cy="66.58" rx="1.49" ry="1.32" fill="#0808d7"/>
<ellipse cx="87.64" cy="52.25" rx="1.56" ry="1.14" fill="#00005d"/>
<ellipse cx="51.4" cy="16.66" rx="1.33" ry="0.98" fill="#010171"/>
<ellipse cx="104.87" cy="54.16" rx="1.44" ry="1.43" fill="#010174"/>
<ellipse cx="49.67" cy="1.87" rx="1.22" ry="1.12" fill="#0404a6"/>
<ellipse cx="6.72" cy="87.84" rx="1.3" ry="1.25" fill="#0505b1"/>
<ellipse cx="111.83" cy="61.15" rx="1.22" ry="0.89" fill="#020292"/>
<ellipse cx="116.58" cy="76.59" rx="1.03" ry="0.75" fill="#03039f"/>
<ellipse cx="26.68" cy="42.59" rx="1.54" ry="1.28" fill="#0909e0"/>
<ellipse cx="38.59" cy="32.53" rx="1.06" ry="1.01" fill="#030393"/>
<ellipse cx="86.84" cy="89.21" rx="1.47" ry="1.21" fill="#030394"/>
<ellipse cx="108.28" cy="66.32" rx="1.27" ry="1.24" fill="#0505bc"/>
<ellipse cx="26.87" cy="21.65" rx="1.07" ry="1.03" fill="#000065"/>
<ellipse cx="66.11" cy="70.94" rx="1.24" ry="1.19" fill="#0404b0"/>
<ellipse cx="38.33" cy="79.78" rx="1.58" ry="1.36" fill="#0404ad"/>
<ellipse cx="44.02" cy="42.63" rx="1.26" ry="0.95" fill="#010170"/>
<ellipse cx="85.42" cy="1.41" rx="1.05" ry="0.97" fill="#02028b"/>
<ellipse cx="87.06" cy="18.63" rx="1.21" ry="1.08" fill="#01017f"/>
<ellipse cx="59.42" cy="7.87" rx="1.51" ry="1.34" fill="#0404a8"/>
<ellipse cx="91.89" cy="48.79" rx="1.23" ry="1.04" fill="#01017c"/>
<ellipse cx="64.75" cy="4.85" rx="1.25" ry="1.16" fill="#0808db"/>
<ellipse cx="77.7" cy="86.46" rx="1.34" ry="1.32" fill="#000067"/>
<ellipse cx="117.98" cy="58.33" rx="1.05" ry="0.99" fill="#0505b2"/>
<ellipse cx="95.93" cy="28.3" rx="1.53" ry="1.46" fill="#0808d7"/>
<ellipse cx="55.46" cy="26.99" rx="1.27" ry="1.16" fill="#000066"/>
<ellipse cx="35.08" cy="78.38" rx="1.35" ry="1.29" fill="#0808dc"/>
<ellipse cx="13.07" cy="14.51" rx="1.01" ry="0.81" fill="#02028b"/>
<ellipse cx="107.9" cy="46.02" rx="1.37" ry="1.24" fill="#0303a3"/>
<ellipse cx="18.75" cy="23.54" rx="1.5" ry="1.26" fill="#0303a0"/>
<ellipse cx="82.95" cy="48.2" rx="1.56" ry="1.51" fill="#000067"/>
<ellipse cx="87.73" cy="52.4" rx="1.03" ry="0.88" fill="#010176"/>
<ellipse cx="42.01" cy="13.67" rx="1.46" ry="1.04" fill="#0909e1"/>
<ellipse cx="32.32" cy="69.67" rx="1.34" ry="1.3" fill="#01017b"/>
<ellipse cx="1.32" cy="83.87" rx="1.29" ry="1.08" fill="#010176"/>
<ellipse cx="16.34" cy="22" rx="1.04" ry="0.87" fill="#01017f"/>
<ellipse cx="63.31" cy="76.23" rx="1.53" ry="1.35" fill="#0505b2"/>
<ellipse cx="92.88" cy="40.42" rx="1.55" ry="1.15" fill="#0404aa"/>
<ellipse cx="88.55" cy="19" rx="1.02" ry="0.96" fill="#02028c"/>
<ellipse cx="71.43" cy="27.76" rx="1.07" ry="0.84" fill="#0707d2"/>
<ellipse cx="101.57" cy="88.87" rx="1.16" ry="0.87" fill="#020284"/>
<ellipse cx="12.73" cy="15.86" rx="1" ry="0.77" fill="#0505b6"/>
<ellipse cx="97.17" cy="69.31" rx="1.12" ry="0.85" fill="#0909e1"/>
<ellipse cx="27.96" cy="77.2" rx="1.51" ry="1.48" fill="#0808d7"/>
<ellipse cx="76.76" cy="57.44" rx="1.4" ry="1.04" fill="#02028a"/>
<ellipse cx="25.55" cy="86.65" rx="1.37" ry="1.1" fill="#030396"/>
<ellipse cx="28.81" cy="64.54" rx="1.32" ry="1.06" fill="#0808d4"/>
<ellipse cx="45.59" cy="57.72" rx="1.1" ry="1" fill="#0808d8"/>
<ellipse cx="2.09" cy="52.25" rx="1.26" ry="1.25" fill="#0505bb"/>
<ellipse cx="27.81" cy="84.42" rx="1.48" ry="1.23" fill="#020293"/>
<ellipse cx="44.9" cy="66.2" rx="1.42" ry="1.06" fill="#020291"/>
<ellipse cx="104.33" cy="84.36" rx="1.43" ry="1.3" fill="#02028f"/>
<ellipse cx="20.29" cy="8.41" rx="1.42" ry="1.24" fill="#0909e2"/>
<ellipse cx="115.55" cy="17.5" rx="1.49" ry="1.15" fill="#010168"/>
<ellipse cx="91.78" cy="35.8" rx="1.46" ry="1.09" fill="#0303a2"/>
<ellipse cx="106.23" cy="25.28" rx="1.05" ry="0.78" fill="#01017a"/>
<ellipse cx="57.84" cy="0.57" rx="1.13" ry="0.96" fill="#000061"/>
<ellipse cx="20.5" cy="59.74" rx="1.29" ry="1.14" fill="#02028d"/>
<ellipse cx="55.86" cy="5.71" rx="1.1" ry="0.96" fill="#03039e"/>
<ellipse cx="0.57" cy="54.51" rx="1.05" ry="0.93" fill="#0505b3"/>
<ellipse cx="51.34" cy="0.09" rx="1.51" ry="1.2" fill="#010168"/>
<ellipse cx="22.95" cy="36.42" rx="1.43" ry="1.27" fill="#0303a1"/>
<ellipse cx="120.75" cy="55.67" rx="1.28" ry="1" fill="#0808dc"/>
<ellipse cx="0.74" cy="63.54" rx="1.57" ry="1.17" fill="#01016c"/>
<ellipse cx="46.19" cy="56.7" rx="1.21" ry="1.03" fill="#020287"/>
<ellipse cx="80.29" cy="88.82" rx="1.37" ry="1.09" fill="#0606c5"/>
<ellipse cx="62.24" cy="71.07" rx="1.17" ry="1.1" fill="#010179"/>
<ellipse cx="11.75" cy="11.38" rx="1.52" ry="1.26" fill="#0404af"/>
<ellipse cx="40.15" cy="86.84" rx="1.05" ry="0.87" fill="#0505ba"/>
<ellipse cx="102.59" cy="85.99" rx="1.55" ry="1.54" fill="#0707ca"/>
<ellipse cx="103.06" cy="37.98" rx="1.03" ry="0.88" fill="#02028c"/>
<ellipse cx="111.87" cy="79.12" rx="1.16" ry="1.09" fill="#0505b3"/>
<ellipse cx="23.02" cy="9.58" rx="1.26" ry="1.07" fill="#0909e0"/>
<ellipse cx="103.36" cy="52.78" rx="1.22" ry="1.02" fill="#0404a5"/>
<ellipse cx="63.29" cy="12.48" rx="1.4" ry="1.17" fill="#01016e"/>
<ellipse cx="72.51" cy="34.77" rx="1.05" ry="0.75" fill="#0606c5"/>
<ellipse cx="101.44" cy="19.66" rx="1.17" ry="0.83" fill="#020286"/>
<ellipse cx="70.07" cy="52.79" rx="1.03" ry="0.87" fill="#0606be"/>
<ellipse cx="111.04" cy="3.14" rx="1.19" ry="1.05" fill="#0606c2"/>
<ellipse cx="19.64" cy="61.61" rx="1.01" ry="0.71" fill="#020286"/>
<ellipse cx="110.25" cy="73.66" rx="1.38" ry="1.02" fill="#0606be"/>
<ellipse cx="97.74" cy="34.35" rx="1.49" ry="1.09" fill="#0909e0"/>
<ellipse cx="64.17" cy="3" rx="1.27" ry="1.15" fill="#020286"/>
<ellipse cx="88.5" cy="4.16" rx="1.19" ry="1.14" fill="#02028b"/>
<ellipse cx="83.64" cy="65.52" rx="1.31" ry="1.12" fill="#02028d"/>
<ellipse cx="58.24" cy="76.23" rx="1.31" ry="1.14" fill="#01016a"/>
<ellipse cx="102.62" cy="25.85" rx="1.27" ry="1.01" fill="#010172"/>
<ellipse cx="20.43" cy="21.66" rx="1.12" ry="1.04" fill="#010176"/>
<ellipse cx="36.56" cy="81.31" rx="1.1" ry="1.06" fill="#00005f"/>
<ellipse cx="69.02" cy="82.75" rx="1.25" ry="1.04" fill="#020287"/>
<ellipse cx="90.88" cy="85.6" rx="1.2" ry="1" fill="#0606c8"/>
<ellipse cx="0.63" cy="79.74" rx="1.2" ry="0.97" fill="#0505bb"/>
<ellipse cx="70.95" cy="30.59" rx="1.49" ry="1.45" fill="#010174"/>
<ellipse cx="85.37" cy="80.11" rx="1.02" ry="0.93" fill="#03039d"/>
<ellipse cx="53.33" cy="31.77" rx="1.52" ry="1.21" fill="#0404a7"/>
<ellipse cx="61.94" cy="86" rx="1.2" ry="1.12" fill="#0909df"/>
<ellipse cx="52.85" cy="25.4" rx="1.1" ry="0.97" fill="#0404ac"/>
<ellipse cx="63.58" cy="87.46" rx="1.41" ry="0.99" fill="#0404ab"/>
<ellipse cx="55.18" cy="84.5" rx="1.15" ry="0.92" fill="#01017c"/>
<ellipse cx="57.02" cy="25.52" rx="1.06" ry="0.76" fill="#01016f"/>
<ellipse cx="49.4" cy="15.69" rx="1.23" ry="1.11" fill="#010174"/>
<ellipse cx="2.05" cy="26.79" rx="1.57" ry="1.15" fill="#000060"/>
<ellipse cx="40.35" cy="83.33" rx="1.27" ry="1.02" fill="#01017b"/>
<ellipse cx="70.32" cy="3.35" rx="1.51" ry="1.12" fill="#030394"/>
<ellipse cx="20.78" cy="73.82" rx="1.4" ry="1" fill="#02028d"/>
<ellipse cx="30.21" cy="14.49" rx="1.55" ry="1.37" fill="#0808d7"/>
<ellipse cx="121.47" cy="26.32" rx="1.49" ry="1.4" fill="#0707d4"/>
<ellipse cx="85.12" cy="59.64" rx="1.21" ry="1.16" fill="#020282"/>
<ellipse cx="35.06" cy="55.57" rx="1.23" ry="0.98" fill="#030394"/>
<ellipse cx="100.11" cy="22.68" rx="1.18" ry="1.06" fill="#00005f"/>
<ellipse cx="72.94" cy="73.86" rx="1.59" ry="1.49" fill="#020286"/>
<ellipse cx="89.32" cy="80.94" rx="1.59" ry="1.33" fill="#030397"/>
<ellipse cx="50.08" cy="16.86" rx="1.45" ry="1.18" fill="#03039c"/>
<ellipse cx="90.83" cy="19.78" rx="1.11" ry="0.97" fill="#0909e5"/>
<ellipse cx="46.27" cy="23.95" rx="1.31" ry="1.04" fill="#0505b1"/>
<ellipse cx="78.03" cy="81.24" rx="1.45" ry="1.06" fill="#0505b3"/>
<ellipse cx="89.18" cy="65.31" rx="1.57" ry="1.36" fill="#00005f"/>
<ellipse cx="26.77" cy="11.63" rx="1" ry="0.89" fill="#020289"/>
<ellipse cx="28.28" cy="57.86" rx="1.21" ry="0.88" fill="#010178"/>
<ellipse cx="58.86" cy="15.61" rx="1.11" ry="0.97" fill="#01016e"/>
<ellipse cx="96.03" cy="53.38" rx="1.44" ry="1.3" fill="#030399"/>
<ellipse cx="103.71" cy="65.74" rx="1.27" ry="1.09" fill="#010175"/>
<ellipse cx="2.36" cy="3.62" rx="1.48" ry="1.14" fill="#020282"/>
<ellipse cx="73.39" cy="42.92" rx="1.09" ry="0.81" fill="#010169"/>
<ellipse cx="34.48" cy="28.73" rx="1.07" ry="0.76" fill="#02028d"/>
<ellipse cx="21.28" cy="71.34" rx="1.5" ry="1.35" fill="#0505b2"/>
<ellipse cx="15.73" cy="46.25" rx="1.49" ry="1.38" fill="#0606c6"/>
<ellipse cx="55.91" cy="3.74" rx="1.54" ry="1.52" fill="#020285"/>
<ellipse cx="12.36" cy="54.06" rx="1.56" ry="1.53" fill="#0505bb"/>
<ellipse cx="33.19" cy="28.14" rx="1.04" ry="0.87" fill="#0606bf"/>
<ellipse cx="66.79" cy="70.55" rx="1.38" ry="1.15" fill="#0505b1"/>
<ellipse cx="90.47" cy="40" rx="1.49" ry="1.46" fill="#0505b8"/>
<ellipse cx="75.37" cy="55.13" rx="1.03" ry="0.97" fill="#0808dc"/>
<ellipse cx="4.74" cy="50.81" rx="1.03" ry="0.89" fill="#0606c7"/>
<ellipse cx="73.69" cy="30.65" rx="1.53" ry="1.41" fill="#0707d2"/>
<ellipse cx="99.54" cy="6.28" rx="1.29" ry="1.01" fill="#0808dc"/>
<ellipse cx="24.22" cy="17.27" rx="1.12" ry="1.11" fill="#00005f"/>
<ellipse cx="106.62" cy="80.32" rx="1.52" ry="1.43" fill="#020282"/>
<ellipse cx="35.18" cy="73.45" rx="1.41" ry="1.14" fill="#0909e4"/>
<ellipse cx="103.11" cy="59.58" rx="1.03" ry="0.98" fill="#0505b9"/>
<ellipse cx="120.02" cy="9.84" rx="1.56" ry="1.47" fill="#0808de"/>
<ellipse cx="89.64" cy="12.43" rx="1.48" ry="1.17" fill="#030398"/>
<ellipse cx="106.21" cy="0.59" rx="1.38" ry="1.2" fill="#0707d2"/>
<ellipse cx="103.14" cy="70.75" rx="1.43" ry="1.34" fill="#0404ad"/>
<ellipse cx="14.85" cy="38.46" rx="1.34" ry="1.18" fill="#00005f"/>
<ellipse cx="57.32" cy="17.8" rx="1.59" ry="1.46" fill="#03039b"/>
<ellipse cx="7.47" cy="50.15" rx="1.57" ry="1.5" fill="#0808de"/>
<ellipse cx="106.58" cy="64.55" rx="1.49" ry="1.17" fill="#0808d7"/>
<ellipse cx="72.51" cy="4.26" rx="1.49" ry="1.2" fill="#03039a"/>
<ellipse cx="19.54" cy="21.67" rx="1.38" ry="1.01" fill="#0606bf"/>
<ellipse cx="83.55" cy="28.7" rx="1.49" ry="1.26" fill="#0707cc"/>
<ellipse cx="2.32" cy="79.87" rx="1.06" ry="0.96" fill="#0404ad"/>
<ellipse cx="31.21" cy="20.21" rx="1.47" ry="1.45" fill="#030398"/>
<ellipse cx="48.95" cy="21.57" rx="1.14" ry="0.9" fill="#0909e1"/>
<ellipse cx="56.36" cy="64.14" rx="1.32" ry="1.29" fill="#030399"/>
<ellipse cx="17.7" cy="0.28" rx="1.37" ry="1.05" fill="#0606c4"/>
<ellipse cx="79.57" cy="81.09" rx="1.56" ry="1.17" fill="#020285"/>
<ellipse cx="2.93" cy="86.75" rx="1.2" ry="0.87" fill="#0606c6"/>
<ellipse cx="12.83" cy="21.56" rx="1.02" ry="0.79" fill="#020289"/>
<ellipse cx="106.5" cy="20.69" rx="1.57" ry="1.2" fill="#0404a9"/>
<ellipse cx="54.97" cy="80.16" rx="1.07" ry="1.05" fill="#01016f"/>
<ellipse cx="99.18" cy="20.62" rx="1.33" ry="1.16" fill="#020290"/>
<ellipse cx="114.49" cy="48.09" rx="1.2" ry="0.87" fill="#010175"/>
<ellipse cx="1.97" cy="15.05" rx="1.08" ry="0.93" fill="#0404af"/>
<ellipse cx="110.98" cy="6.46" rx="1.58" ry="1.22" fill="#0505b5"/>
<ellipse cx="66.11" cy="54.7" rx="1.49" ry="1.23" fill="#010169"/>
<ellipse cx="102.21" cy="44.55" rx="1.02" ry="0.74" fill="#01017f"/>
<ellipse cx="47.53" cy="87.45" rx="1.59" ry="1.36" fill="#03039a"/>
<ellipse cx="65.99" cy="66.47" rx="1.43" ry="1.26" fill="#01016d"/>
<ellipse cx="85.67" cy="24.02" rx="1.32" ry="0.98" fill="#010174"/>
<ellipse cx="44.64" cy="74.34" rx="1.44" ry="1.2" fill="#00005f"/>
<ellipse cx="97.82" cy="50.54" rx="1.14" ry="0.8" fill="#0808dc"/>
<ellipse cx="44.18" cy="71.24" rx="1.3" ry="1.24" fill="#0404ac"/>
<ellipse cx="30.97" cy="25.28" rx="1.45" ry="1.35" fill="#02028e"/>
<ellipse cx="120.46" cy="61.94" rx="1.11" ry="0.94" fill="#0505b5"/>
<ellipse cx="20.97" cy="72.88" rx="1.44" ry="1.39" fill="#0303a0"/>
<ellipse cx="12.41" cy="82.02" rx="1.05" ry="0.81" fill="#0808db"/>
<ellipse cx="17.77" cy="0.27" rx="1.35" ry="1.14" fill="#010174"/>
<ellipse cx="66.72" cy="60.81" rx="1.25" ry="0.92" fill="#0505b1"/>
<ellipse cx="78.34" cy="73.24" rx="1.28" ry="1.03" fill="#020291"/>
<ellipse cx="4.5" cy="17.6" rx="1.03" ry="0.95" fill="#010168"/>
<ellipse cx="13.59" cy="24.08" rx="1.01" ry="0.74" fill="#0808d9"/>
<ellipse cx="40.61" cy="85.94" rx="1.27" ry="0.95" fill="#02028d"/>
<ellipse cx="40.16" cy="6.96" rx="1.24" ry="1.03" fill="#0606c0"/>
<ellipse cx="26.22" cy="80.4" rx="1.21" ry="1.15" fill="#010174"/>
<ellipse cx="109.94" cy="56.95" rx="1.56" ry="1.3" fill="#0707ca"/>
<ellipse cx="90.38" cy="21.19" rx="1.27" ry="1.03" fill="#020284"/>
<ellipse cx="100.22" cy="7.46" rx="1.12" ry="1.03" fill="#0606c1"/>
<ellipse cx="0.23" cy="86.55" rx="1.39" ry="1.16" fill="#000067"/>
<ellipse cx="114.33" cy="32.09" rx="1.14" ry="0.99" fill="#03039f"/>
<ellipse cx="49.39" cy="60.79" rx="1.02" ry="0.84" fill="#0707ce"/>
<ellipse cx="1.2" cy="66.09" rx="1.4" ry="1.09" fill="#0505ba"/>
<ellipse cx="101.5" cy="86.88" rx="1.44" ry="1.26" fill="#0909e2"/>
<ellipse cx="109.81" cy="57.45" rx="1.09" ry="1.01" fill="#02028d"/>
<ellipse cx="22.85" cy="89.08" rx="1.45" ry="1.36" fill="#0505b2"/>
<ellipse cx="41.1" cy="11.68" rx="1.34" ry="0.98" fill="#010177"/>
<ellipse cx="27.69" cy="34.6" rx="1.32" ry="1.31" fill="#03039a"/>
<ellipse cx="63.99" cy="1.08" rx="1.11" ry="1.07" fill="#0707d2"/>
<ellipse cx="94.26" cy="49.32" rx="1.05" ry="1.03" fill="#010179"/>
<ellipse cx="81.84" cy="18.3" rx="1.39" ry="1.22" fill="#01017c"/>
<ellipse cx="2.65" cy="48.96" rx="1.35" ry="1.29" fill="#0808de"/>
<ellipse cx="1.59" cy="16.22" rx="1.44" ry="1.11" fill="#020284"/>
<ellipse cx="25.46" cy="4.13" rx="1.07" ry="0.89" fill="#0606c8"/>
<ellipse cx="92.48" cy="37.19" rx="1.05" ry="1" fill="#0606c2"/>
<ellipse cx="15.9" cy="68.96" rx="1.42" ry="1.31" fill="#0303a0"/>
<ellipse cx="115.74" cy="52.99" rx="1.06" ry="0.91" fill="#00005f"/>
<ellipse cx="113.3" cy="13.44" rx="1.44" ry="1.24" fill="#01016e"/>
<ellipse cx="61.14" cy="85.81" rx="1.12" ry="1.11" fill="#0606bf"/>
<ellipse cx="55.01" cy="33" rx="1.49" ry="1.12" fill="#0909e1"/>
<ellipse cx="2.02" cy="29.78" rx="1.25" ry="1.13" fill="#01017f"/>
<ellipse cx="15.03" cy="20.19" rx="1.48" ry="1.32" fill="#0404a3"/>
<ellipse cx="97.73" cy="54.46" rx="1.32" ry="1.29" fill="#0404aa"/>
<ellipse cx="40.92" cy="35.86" rx="1.27" ry="1.12" fill="#010174"/>
<ellipse cx="105.54" cy="32.16" rx="1.17" ry="0.86" fill="#0909e0"/>
<ellipse cx="30.48" cy="7.62" rx="1.19" ry="1.18" fill="#0505b5"/>
<ellipse cx="88.36" cy="15.64" rx="1.29" ry="1.06" fill="#0303a1"/>
<ellipse cx="10.28" cy="45.76" rx="1.37" ry="1.25" fill="#0606c7"/>
<ellipse cx="104.73" cy="73.19" rx="1.09" ry="0.88" fill="#020290"/>
<ellipse cx="33.5" cy="52.06" rx="1.45" ry="1.36" fill="#01016d"/>
<ellipse cx="8.12" cy="18.78" rx="1.26" ry="1.19" fill="#020281"/>
<ellipse cx="35.07" cy="54.02" rx="1.01" ry="0.78" fill="#0808d6"/>
<ellipse cx="21.91" cy="68.91" rx="1.2" ry="0.93" fill="#0505bb"/>
<ellipse cx="39.53" cy="58.98" rx="1.53" ry="1.39" fill="#010179"/>
<ellipse cx="31.52" cy="65.87" rx="1.26" ry="0.97" fill="#0606c0"/>
<ellipse cx="86.83" cy="9.74" rx="1.53" ry="1.4" fill="#0808d8"/>
<ellipse cx="83.22" cy="12.72" rx="1.46" ry="1.27" fill="#0808d4"/>
<ellipse cx="20.01" cy="80.24" rx="1.31" ry="0.97" fill="#030395"/>
<ellipse cx="39.37" cy="67.52" rx="1.34" ry="0.95" fill="#0404a7"/>
<ellipse cx="72.64" cy="30.19" rx="1.44" ry="1.07" fill="#0909de"/>
<ellipse cx="32.2" cy="65.33" rx="1.26" ry="1.05" fill="#01016d"/>
<ellipse cx="101.55" cy="68.23" rx="1.07" ry="0.77" fill="#00005f"/>
<ellipse cx="3.14" cy="28.91" rx="1.26" ry="1.04" fill="#010168"/>
<ellipse cx="98.66" cy="66.22" rx="1" ry="0.78" fill="#01017a"/>
<ellipse cx="86.55" cy="2.39" rx="1.43" ry="1.26" fill="#0303a1"/>
<ellipse cx="75.26" cy="74.76" rx="1.03" ry="0.81" fill="#0808d6"/>
<ellipse cx="91.17" cy="69.47" rx="1.31" ry="1.14" fill="#03039e"/>
<ellipse cx="82.73" cy="85.03" rx="1.45" ry="1.18" fill="#020284"/>
<ellipse cx="59.45" cy="71.09" rx="1.03" ry="0.89" fill="#0909e3"/>
<ellipse cx="66.89" cy="19.26" rx="1.57" ry="1.36" fill="#0808d4"/>
<ellipse cx="23.46" cy="11.02" rx="1.11" ry="0.96" fill="#010169"/>
<ellipse cx="13.06" cy="48.98" rx="1.12" ry="1.1" fill="#0404af"/>
<ellipse cx="22.81" cy="20.14" rx="1.3" ry="1.07" fill="#0909de"/>
<ellipse cx="61.22" cy="6.22" rx="1.27" ry="0.97" fill="#0404b1"/>
<ellipse cx="114.48" cy="78.18" rx="1.16" ry="0.96" fill="#0505b9"/>
<ellipse cx="15.96" cy="42.78" rx="1.48" ry="1.09" fill="#0606c4"/>
<ellipse cx="46.87" cy="54.59" rx="1.45" ry="1.12" fill="#0404a5"/>
<ellipse cx="99.37" cy="15.7" rx="1.29" ry="1.19" fill="#0606c0"/>
<ellipse cx="35.72" cy="61.29" rx="1" ry="0.92" fill="#03039e"/>
<ellipse cx="86.15" cy="35.54" rx="1.44" ry="1.36" fill="#0303a2"/>
<ellipse cx="118.22" cy="83.81" rx="1.36" ry="1.25" fill="#0606bf"/>
<ellipse cx="48.22" cy="21.8" rx="1.45" ry="1.41" fill="#0404a9"/>
<ellipse cx="71.18" cy="31.89" rx="1.07" ry="1.07" fill="#000063"/>
<ellipse cx="82.34" cy="58.69" rx="1.58" ry="1.51" fill="#02028a"/>
<ellipse cx="33.2" cy="1.66" rx="1.16" ry="0.83" fill="#01017b"/>
<ellipse cx="31.49" cy="25.11" rx="1.53" ry="1.33" fill="#0707cd"/>
<ellipse cx="29.01" cy="25.4" rx="1.43" ry="1.21" fill="#010168"/>
<ellipse cx="41.53" cy="20.31" rx="1.49" ry="1.4" fill="#03039f"/>
<ellipse cx="31.27" cy="25.61" rx="1.57" ry="1.51" fill="#0404af"/>
<ellipse cx="65.36" cy="33.45" rx="1.19" ry="0.9" fill="#0404a4"/>
<ellipse cx="93.29" cy="84.49" rx="1.46" ry="1.1" fill="#00005e"/>
<ellipse cx="69.29" cy="88.01" rx="1.43" ry="1.23" fill="#010178"/>
<ellipse cx="22.61" cy="63.51" rx="1.15" ry="0.89" fill="#0505bd"/>
<ellipse cx="49.35" cy="1.46" rx="1.49" ry="1.42" fill="#0606c5"/>
<ellipse cx="114.69" cy="23.9" rx="1.14" ry="1.04" fill="#010176"/>
<ellipse cx="80.02" cy="43.61" rx="1.14" ry="1.01" fill="#010173"/>
<ellipse cx="120.03" cy="88.41" rx="1.37" ry="1.33" fill="#01016f"/>
<ellipse cx="4.44" cy="56.68" rx="1.41" ry="1.08" fill="#00005e"/>
<ellipse cx="36.26" cy="51.97" rx="1.29" ry="0.9" fill="#0909e3"/>
<ellipse cx="105.49" cy="69.16" rx="1.19" ry="0.91" fill="#000062"/>
<ellipse cx="16.22" cy="13.55" rx="1.22" ry="0.98" fill="#020287"/>
<ellipse cx="108.72" cy="55.82" rx="1.51" ry="1.1" fill="#0404ac"/>
<ellipse cx="101.76" cy="0.76" rx="1.06" ry="0.76" fill="#020285"/>
<ellipse cx="117.01" cy="64.53" rx="1.23" ry="0.94" fill="#010175"/>
<ellipse cx="103.01" cy="49.4" rx="1.07" ry="0.97" fill="#0909e0"/>
<ellipse cx="17.77" cy="39.16" rx="1.18" ry="0.96" fill="#0606c1"/>
<ellipse cx="20.46" cy="57.89" rx="1.51" ry="1.41" fill="#010176"/>
<ellipse cx="91.67" cy="64.71" rx="1.54" ry="1.35" fill="#0404a4"/>
<ellipse cx="117.17" cy="5.84" rx="1.3" ry="1.02" fill="#0404ae"/>
<ellipse cx="76.36" cy="2.1" rx="1.17" ry="1.01" fill="#0808d7"/>
<ellipse cx="49.76" cy="7.79" rx="1.06" ry="1.02" fill="#01017e"/>
<ellipse cx="9.99" cy="28.74" rx="1.16" ry="1.07" fill="#010177"/>
<ellipse cx="28.76" cy="31.26" rx="1.14" ry="0.92" fill="#0808d5"/>
<ellipse cx="98.03" cy="15.22" rx="1.12" ry="0.84" fill="#0606c7"/>
<ellipse cx="108.59" cy="59.42" rx="1.2" ry="0.96" fill="#0808db"/>
<ellipse cx="6.61" cy="25.17" rx="1.41" ry="1.07" fill="#0505b1"/>
<ellipse cx="78.5" cy="33.76" rx="1.07" ry="0.85" fill="#0606c6"/>
<ellipse cx="63.31" cy="30.56" rx="1.6" ry="1.42" fill="#0505b8"/>
<ellipse cx="75.6" cy="27.46" rx="1.59" ry="1.44" fill="#02028f"/>
<ellipse cx="1.4" cy="41.38" rx="1.18" ry="0.83" fill="#0808d8"/>
<ellipse cx="63.35" cy="82.2" rx="1.12" ry="0.79" fill="#0505b8"/>
<ellipse cx="38.16" cy="47.99" rx="1.58" ry="1.17" fill="#010169"/>
<ellipse cx="57.93" cy="81.65" rx="1.37" ry="1.33" fill="#000063"/>
<ellipse cx="37.4" cy="18.67" rx="1.5" ry="1.09" fill="#030398"/>
<ellipse cx="21.77" cy="69.91" rx="1.35" ry="1.28" fill="#030395"/>
<ellipse cx="59.73" cy="27.9" rx="1.45" ry="1.42" fill="#000062"/>
<ellipse cx="82.86" cy="54.94" rx="1.35" ry="1.18" fill="#0909de"/>
<ellipse cx="53.43" cy="20.13" rx="1.05" ry="0.84" fill="#0404a5"/>
<ellipse cx="18.93" cy="35.26" rx="1.49" ry="1.21" fill="#0909e5"/>
<ellipse cx="8.87" cy="10.83" rx="1.14" ry="1.13" fill="#02028e"/>
<ellipse cx="82.99" cy="85.17" rx="1.15" ry="0.89" fill="#03039a"/>
<ellipse cx="120.93" cy="72.6" rx="1.28" ry="1.12" fill="#01017f"/>
<ellipse cx="1.94" cy="80.94" rx="1.5" ry="1.38" fill="#0606c4"/>
<ellipse cx="79.02" cy="41.77" rx="1.04" ry="0.99" fill="#0808da"/>
<ellipse cx="2.36" cy="67.29" rx="1.33" ry="1.31" fill="#0808d6"/>
<ellipse cx="113.45" cy="5.18" rx="1.18" ry="0.85" fill="#020285"/>
<ellipse cx="66.88" cy="18.96" rx="1.29" ry="0.96" fill="#0909df"/>
<ellipse cx="49.42" cy="0.6" rx="1.55" ry="1.09" fill="#00005d"/>
<ellipse cx="106.27" cy="87.68" rx="1.37" ry="1.35" fill="#0808db"/>
<ellipse cx="121.12" cy="83.67" rx="1.35" ry="1.02" fill="#030395"/>
<ellipse cx="25.89" cy="18.52" rx="1.14" ry="0.86" fill="#0606c1"/>
<ellipse cx="32.94" cy="30.71" rx="1.52" ry="1.25" fill="#010177"/>
<ellipse cx="27.88" cy="40.93" rx="1.57" ry="1.15" fill="#000061"/>
<ellipse cx="29.59" cy="72.64" rx="1.06" ry="0.78" fill="#020281"/>
<ellipse cx="59.44" cy="19.7" rx="1.1" ry="1" fill="#0707cd"/>
<ellipse cx="93.77" cy="68.35" rx="1.55" ry="1.44" fill="#0808d6"/>
<ellipse cx="96.99" cy="1.07" rx="1.11" ry="1.03" fill="#010179"/>
<ellipse cx="108.87" cy="32.48" rx="1.31" ry="1.22" fill="#02028a"/>
<ellipse cx="58.47" cy="17.81" rx="1.45" ry="1.05" fill="#0303a2"/>
<ellipse cx="109.3" cy="22.74" rx="1.57" ry="1.23" fill="#01016a"/>
<ellipse cx="67.04" cy="88.52" rx="1.36" ry="1.08" fill="#0707cc"/>
<ellipse cx="35.1" cy="62.87" rx="1.36" ry="0.95" fill="#030398"/>
<ellipse cx="63.33" cy="73.61" rx="1.4" ry="1.07" fill="#0404ab"/>
<ellipse cx="39.99" cy="25.66" rx="1.55" ry="1.34" fill="#0404a5"/>
<ellipse cx="17.84" cy="67.49" rx="1.52" ry="1.13" fill="#010180"/>
<ellipse cx="100.51" cy="82.39" rx="1.59" ry="1.41" fill="#0505bc"/>
<ellipse cx="14.86" cy="56.45" rx="1.22" ry="1.09" fill="#01017b"/>
<ellipse cx="12.68" cy="34.27" rx="1.2" ry="0.97" fill="#000061"/>
<ellipse cx="86.24" cy="54.46" rx="1.08" ry="1.01" fill="#020284"/>
<ellipse cx="16.35" cy="35.24" rx="1.34" ry="1.01" fill="#0606c5"/>
<ellipse cx="101.63" cy="9.5" rx="1.31" ry="1.18" fill="#00005b"/>
<ellipse cx="4.7" cy="72.2" rx="1.29" ry="0.95" fill="#0606c0"/>
<ellipse cx="28.69" cy="88.32" rx="1.01" ry="0.9" fill="#020284"/>
<ellipse cx="48.53" cy="66.91" rx="1.02" ry="0.9" fill="#010172"/>
<ellipse cx="106.03" cy="20.06" rx="1.46" ry="1.22" fill="#01017e"/>
<ellipse cx="115.32" cy="79.68" rx="1.52" ry="1.15" fill="#03039c"/>
<ellipse cx="22.27" cy="12.87" rx="1.54" ry="1.12" fill="#000065"/>
<ellipse cx="68.46" cy="11.91" rx="1.56" ry="1.18" fill="#00005e"/>
<ellipse cx="87.99" cy="8.97" rx="1.6" ry="1.52" fill="#0505b4"/>
<ellipse cx="46.15" cy="61.58" rx="1.07" ry="1.07" fill="#030398"/>
<ellipse cx="22.63" cy="67.02" rx="1.58" ry="1.47" fill="#0808d7"/>
<ellipse cx="79.59" cy="11.51" rx="1.06" ry="0.97" fill="#0808d7"/>
<ellipse cx="33.78" cy="28.3" rx="1.12" ry="0.85" fill="#000064"/>
<ellipse cx="106.39" cy="56.29" rx="1.33" ry="1.31" fill="#02028b"/>
<ellipse cx="67.64" cy="15.47" rx="1.55" ry="1.23" fill="#0909e1"/>
<ellipse cx="46.4" cy="5.94" rx="1.59" ry="1.37" fill="#00005e"/>
<ellipse cx="90.78" cy="14.54" rx="1.23" ry="1" fill="#000061"/>
<ellipse cx="22.07" cy="70.59" rx="1.07" ry="0.76" fill="#010178"/>
<ellipse cx="109.49" cy="41.32" rx="1.28" ry="1.16" fill="#020291"/>
<ellipse cx="108.46" cy="46.4" rx="1.08" ry="1.06" fill="#020289"/>
<ellipse cx="7.77" cy="87.46" rx="1.52" ry="1.48" fill="#01016c"/>
<ellipse cx="79.18" cy="81.87" rx="1.25" ry="1.13" fill="#0707d2"/>
<ellipse cx="63.07" cy="77.81" rx="1.41" ry="1.24" fill="#01016b"/>
<ellipse cx="72.13" cy="60.15" rx="1.26" ry="1.02" fill="#0505bd"/>
<ellipse cx="99.06" cy="76.86" rx="1.46" ry="1.33" fill="#000061"/>
<ellipse cx="98" cy="20.6" rx="1.55" ry="1.09" fill="#010169"/>
<ellipse cx="75.71" cy="42.44" rx="1.16" ry="0.86" fill="#0707cf"/>
<ellipse cx="11.48" cy="74.48" rx="1.6" ry="1.28" fill="#0808da"/>
<ellipse cx="91.35" cy="51.95" rx="1.51" ry="1.23" fill="#000066"/>
<ellipse cx="39.16" cy="19.99" rx="1.37" ry="1.24" fill="#000060"/>
<ellipse cx="15.36" cy="44.9" rx="1.13" ry="1.04" fill="#0808d7"/>
<ellipse cx="13.03" cy="38.89" rx="1.13" ry="1.01" fill="#0707cc"/>
<ellipse cx="27.67" cy="1.02" rx="1.34" ry="1.08" fill="#0303a2"/>
<ellipse cx="30.2" cy="43.81" rx="1.29" ry="1.2" fill="#020288"/>
<ellipse cx="51.59" cy="16.42" rx="1.08" ry="1.02" fill="#0505b4"/>
<ellipse cx="115.27" cy="82.24" rx="1.46" ry="1.46" fill="#0606c8"/>
<ellipse cx="81.24" cy="56.34" rx="1.3" ry="0.92" fill="#0505bb"/>
<ellipse cx="54.45" cy="25.84" rx="1.31" ry="1.22" fill="#0606c2"/>
<ellipse cx="35.91" cy="70.88" rx="1.48" ry="1.09" fill="#01016d"/>
<ellipse cx="8.71" cy="87.32" rx="1.55" ry="1.13" fill="#0909df"/>
<ellipse cx="26.91" cy="18.65" rx="1.13" ry="1.02" fill="#020281"/>
<ellipse cx="61.64" cy="2.4" rx="1.3" ry="1.1" fill="#030398"/>
<ellipse cx="37.34" cy="34.85" rx="1.04" ry="1" fill="#0505b8"/>
<ellipse cx="3.68" cy="79.91" rx="1.52" ry="1.26" fill="#0404ab"/>
<ellipse cx="41.74" cy="88.36" rx="1.44" ry="1.34" fill="#0606c1"/>
<ellipse cx="51.04" cy="72.39" rx="1.13" ry="1.12" fill="#020281"/>
<ellipse cx="7.27" cy="78.16" rx="1.55" ry="1.12" fill="#010168"/>
<ellipse cx="102.6" cy="16.84" rx="1.33" ry="1.27" fill="#0707d1"/>
<ellipse cx="120.93" cy="68.44" rx="1.22" ry="0.95" fill="#01016c"/>
<ellipse cx="70.41" cy="8.7" rx="1.4" ry="1.22" fill="#0404a6"/>
<ellipse cx="100.64" cy="57.4" rx="1.58" ry="1.41" fill="#01017d"/>
<ellipse cx="6.03" cy="37.58" rx="1.4" ry="1.29" fill="#0606c7"/>
<ellipse cx="5.62" cy="7.49" rx="1.54" ry="1.25" fill="#0505b6"/>
<ellipse cx="89.54" cy="22.65" rx="1.25" ry="1.01" fill="#0606c7"/>
<ellipse cx="36.1" cy="14.42" rx="1.07" ry="0.99" fill="#030395"/>
<ellipse cx="108.59" cy="84.27" rx="1.23" ry="1.18" fill="#0606c1"/>
<ellipse cx="31.34" cy="31.22" rx="1.17" ry="0.99" fill="#0606c1"/>
<ellipse cx="103.54" cy="33.84" rx="1.3" ry="1.07" fill="#010177"/>
<ellipse cx="47.31" cy="68.97" rx="1.02" ry="1.01" fill="#000067"/>
<ellipse cx="71.25" cy="44.37" rx="1.25" ry="1.13" fill="#01017a"/>
<ellipse cx="98.78" cy="7.28" rx="1.04" ry="0.74" fill="#010180"/>
<ellipse cx="69.8" cy="5.2" rx="1.22" ry="1.07" fill="#010175"/>
<ellipse cx="96.53" cy="54.06" rx="1.29" ry="1.23" fill="#0707cd"/>
<ellipse cx="51.34" cy="81.13" rx="1.54" ry="1.19" fill="#03039a"/>
<ellipse cx="13.27" cy="79.19" rx="1.24" ry="0.94" fill="#0404ab"/>
<ellipse cx="1.63" cy="23.2" rx="1.44" ry="1.38" fill="#010169"/>
<ellipse cx="18.39" cy="35.31" rx="1.43" ry="1.12" fill="#020293"/>
<ellipse cx="30.81" cy="75.81" rx="1.29" ry="0.93" fill="#0404a8"/>
<ellipse cx="1.02" cy="54.31" rx="1.21" ry="1.16" fill="#0808d8"/>
<ellipse cx="38.21" cy="82.98" rx="1.11" ry="0.98" fill="#01017e"/>
<ellipse cx="19.65" cy="23.97" rx="1.45" ry="1.11" fill="#0606c4"/>
<ellipse cx="95.47" cy="0.77" rx="1.56" ry="1.39" fill="#0404a9"/>
<ellipse cx="102.81" cy="28.86" rx="1.44" ry="1.28" fill="#0606bf"/>
<ellipse cx="108.07" cy="22.93" rx="1.03" ry="0.85" fill="#000062"/>
<ellipse cx="69.62" cy="77.07" rx="1.1" ry="0.84" fill="#00005c"/>
<ellipse cx="34.38" cy="1.2" rx="1" ry="0.87" fill="#0505b3"/>
<ellipse cx="14.98" cy="37.83" rx="1.15" ry="1.05" fill="#010171"/>
<ellipse cx="15.6" cy="3.53" rx="1.06" ry="0.93" fill="#01017f"/>
<ellipse cx="106.16" cy="80.12" rx="1.26" ry="0.94" fill="#0808d6"/>
<ellipse cx="1.03" cy="19.29" rx="1.28" ry="1.21" fill="#0404a9"/>
<ellipse cx="108.81" cy="2.07" rx="1.41" ry="1.36" fill="#020293"/>
<ellipse cx="78.03" cy="10.4" rx="1.4" ry="1.38" fill="#020282"/>
<ellipse cx="107.12" cy="55.14" rx="1.14" ry="1.1" fill="#0404a5"/>
<ellipse cx="105.51" cy="36.01" rx="1.18" ry="0.88" fill="#000066"/>
<ellipse cx="27.84" cy="9.16" rx="1.34" ry="1.26" fill="#010174"/>
<ellipse cx="88.44" cy="22.83" rx="1.24" ry="1.17" fill="#020284"/>
<ellipse cx="59.41" cy="62.35" rx="1.13" ry="0.94" fill="#0404a7"/>
<ellipse cx="75.84" cy="1.16" rx="1.33" ry="1.01" fill="#0505b8"/>
<ellipse cx="30.54" cy="29.16" rx="1.01" ry="0.99" fill="#01017f"/>
<ellipse cx="99.96" cy="41.67" rx="1.38" ry="1.06" fill="#03039b"/>
<ellipse cx="85.24" cy="18.61" rx="1.19" ry="1.15" fill="#0404a5"/>
<ellipse cx="78.14" cy="45.07" rx="1.27" ry="0.97" fill="#010178"/>
<ellipse cx="60.43" cy="5.12" rx="1.25" ry="1.01" fill="#000065"/>
<ellipse cx="39.38" cy="67.77" rx="1.5" ry="1.47" fill="#0606c4"/>
<ellipse cx="19.95" cy="80.77" rx="1.06" ry="1.04" fill="#0303a1"/>
<ellipse cx="111.06" cy="14.56" rx="1.35" ry="1.24" fill="#0303a0"/>
<ellipse cx="14.18" cy="47.15" rx="1.1" ry="1.06" fill="#0909e3"/>
<ellipse cx="34.12" cy="77.5" rx="1.02" ry="0.77" fill="#010176"/>
<ellipse cx="96.65" cy="54.88" rx="1.49" ry="1.27" fill="#0909df"/>
<ellipse cx="31.85" cy="73.17" rx="1.55" ry="1.43" fill="#0707d0"/>
<ellipse cx="5.71" cy="38.3" rx="1.18" ry="1.04" fill="#0606c5"/>
<ellipse cx="73.7" cy="28.4" rx="1.28" ry="1.27" fill="#02028f"/>
<ellipse cx="74.21" cy="5.67" rx="1.03" ry="0.84" fill="#0909e3"/>
<ellipse cx="110.48" cy="50.49" rx="1.05" ry="0.89" fill="#03039e"/>
<ellipse cx="82.37" cy="39.85" rx="1.16" ry="1.15" fill="#0808d9"/>
<ellipse cx="35.23" cy="50.32" rx="1.32" ry="1.14" fill="#0707cb"/>
<ellipse cx="100.4" cy="42.19" rx="1.4" ry="0.98" fill="#0404ab"/>
<ellipse cx="72.53" cy="14.16" rx="1.52" ry="1.43" fill="#020285"/>
<ellipse cx="82.86" cy="6.02" rx="1.12" ry="0.89" fill="#020284"/>
<ellipse cx="62.11" cy="73.01" rx="1.15" ry="1.09" fill="#020290"/>
<ellipse cx="58.51" cy="13.52" rx="1.16" ry="1.13" fill="#02028d"/>
<ellipse cx="27.06" cy="3.44" rx="1.43" ry="1.4" fill="#0606c0"/>
<ellipse cx="84.47" cy="62.09" rx="1.47" ry="1.19" fill="#01017a"/>
<ellipse cx="66.95" cy="21" rx="1.25" ry="1.12" fill="#030399"/>
<ellipse cx="31.59" cy="39.4" rx="1.03" ry="0.73" fill="#0505ba"/>
<ellipse cx="118.66" cy="46.05" rx="1.59" ry="1.36" fill="#0707d1"/>
<ellipse cx="24.21" cy="6.74" rx="1.59" ry="1.55" fill="#0606c8"/>
<ellipse cx="89.58" cy="14.46" rx="1.41" ry="1.27" fill="#000061"/>
<ellipse cx="91.3" cy="66.29" rx="1.6" ry="1.55" fill="#03039d"/>
<ellipse cx="53.04" cy="87.46" rx="1.46" ry="1.31" fill="#000066"/>
<ellipse cx="105.83" cy="75.01" rx="1.56" ry="1.54" fill="#0707cc"/>
<ellipse cx="21.6" cy="59.04" rx="1.36" ry="1.27" fill="#01017a"/>
<ellipse cx="99.7" cy="61.72" rx="1.17" ry="1.09" fill="#0404a7"/>
<ellipse cx="71.59" cy="61.85" rx="1.44" ry="1.21" fill="#01016b"/>
<ellipse cx="70.39" cy="62.53" rx="1.4" ry="1.31" fill="#03039e"/>
<ellipse cx="33.94" cy="20.01" rx="1.39" ry="1.1" fill="#000062"/>
<ellipse cx="19.53" cy="46.05" rx="1.06" ry="0.89" fill="#0707d1"/>
<ellipse cx="91.66" cy="55.83" rx="1.27" ry="1.16" fill="#0505b7"/>
<ellipse cx="82.84" cy="39.93" rx="1.1" ry="0.9" fill="#0404ae"/>
<ellipse cx="69.67" cy="62.65" rx="1.24" ry="1.1" fill="#0505bc"/>
<ellipse cx="30.15" cy="23.64" rx="1.45" ry="1.26" fill="#0505bc"/>
<ellipse cx="27.48" cy="53.51" rx="1.32" ry="1.04" fill="#020280"/>
<ellipse cx="109.41" cy="60.93" rx="1.38" ry="1.02" fill="#0606c9"/>
<ellipse cx="89.82" cy="64.19" rx="1.24" ry="0.98" fill="#0606c3"/>
<ellipse cx="11.33" cy="36.12" rx="1.3" ry="0.98" fill="#030398"/>
<ellipse cx="80.5" cy="60.93" rx="1.6" ry="1.41" fill="#030393"/>
<ellipse cx="94.28" cy="75.25" rx="1.05" ry="0.8" fill="#000064"/>
<ellipse cx="43.04" cy="33.3" rx="1.41" ry="0.99" fill="#00005f"/>
<ellipse cx="26.97" cy="39.22" rx="1.05" ry="0.92" fill="#010180"/>
<ellipse cx="35.73" cy="24.99" rx="1.02" ry="0.88" fill="#020288"/>
<ellipse cx="16.71" cy="54.37" rx="1.46" ry="1.05" fill="#00005b"/>
<ellipse cx="29.72" cy="82.73" rx="1.06" ry="0.85" fill="#020281"/>
<ellipse cx="24.07" cy="76.35" rx="1.32" ry="1.27" fill="#0909df"/>
<ellipse cx="62.14" cy="6.15" rx="1.53" ry="1.47" fill="#0707d3"/>
<ellipse cx="81.71" cy="66.37" rx="1.32" ry="1.05" fill="#0505b7"/>
<ellipse cx="16.27" cy="27.11" rx="1.59" ry="1.38" fill="#0909df"/>
<ellipse cx="107.45" cy="48.26" rx="1.08" ry="1.04" fill="#010174"/>
<ellipse cx="77.97" cy="78.79" rx="1.46" ry="1.1" fill="#0505bb"/>
<ellipse cx="46.88" cy="80.69" rx="1.25" ry="1.02" fill="#02028c"/>
<ellipse cx="90.64" cy="22.83" rx="1.16" ry="0.96" fill="#00005f"/>
<ellipse cx="45.26" cy="16.31" rx="1.22" ry="1.06" fill="#020282"/>
<ellipse cx="29.12" cy="38.7" rx="1.47" ry="1.1" fill="#030398"/>
<ellipse cx="99.38" cy="45.14" rx="1.53" ry="1.49" fill="#03039f"/>
<ellipse cx="13.7" cy="35.45" rx="1.55" ry="1.16" fill="#030395"/>
<ellipse cx="19.65" cy="73.84" rx="1.37" ry="1" fill="#010175"/>
<ellipse cx="120.79" cy="71.15" rx="1.44" ry="1.31" fill="#000066"/>
<ellipse cx="5.39" cy="54.25" rx="1.29" ry="1.07" fill="#0505b4"/>
<ellipse cx="22.49" cy="14.54" rx="1.6" ry="1.24" fill="#0505bb"/>
<ellipse cx="12.11" cy="88.24" rx="1.18" ry="0.88" fill="#010175"/>
<ellipse cx="116.84" cy="38.59" rx="1.1" ry="0.78" fill="#01017c"/>
<ellipse cx="95.02" cy="36.08" rx="1.52" ry="1.4" fill="#0909e3"/>
<ellipse cx="37.45" cy="46.35" rx="1.01" ry="0.83" fill="#0808d7"/>
<ellipse cx="71.07" cy="41.51" rx="1.2" ry="0.86" fill="#0505ba"/>
<ellipse cx="110.43" cy="18.19" rx="1.57" ry="1.4" fill="#01017f"/>
<ellipse cx="119.15" cy="24.05" rx="1.37" ry="1.1" fill="#020286"/>
<ellipse cx="24.92" cy="23.13" rx="1.25" ry="1.24" fill="#0606c3"/>
<ellipse cx="44.97" cy="77.59" rx="1.15" ry="0.98" fill="#0303a2"/>
<ellipse cx="73.42" cy="76.5" rx="1.11" ry="1.05" fill="#0808d9"/>
<ellipse cx="64.12" cy="71.03" rx="1.53" ry="1.3" fill="#0606c1"/>
<ellipse cx="108.88" cy="34.77" rx="1.18" ry="1.15" fill="#0505b1"/>
<ellipse cx="42.92" cy="23.58" rx="1.24" ry="0.92" fill="#020290"/>
<ellipse cx="4.48" cy="42.06" rx="1.02" ry="0.76" fill="#0505ba"/>
<ellipse cx="26.19" cy="13.97" rx="1.19" ry="0.84" fill="#010175"/>
<ellipse cx="34.07" cy="20.3" rx="1.16" ry="0.98" fill="#010174"/>
<ellipse cx="73.05" cy="32.31" rx="1.42" ry="1.3" fill="#010177"/>
<ellipse cx="90.31" cy="14.98" rx="1.07" ry="0.78" fill="#0808db"/>
<ellipse cx="3.51" cy="19.87" rx="1.35" ry="1.12" fill="#0303a0"/>
<ellipse cx="100.36" cy="57.82" rx="1.32" ry="1.14" fill="#000061"/>
<ellipse cx="54.51" cy="32.6" rx="1.54" ry="1.34" fill="#030395"/>
<ellipse cx="32.5" cy="81.78" rx="1.02" ry="0.74" fill="#00005f"/>
<ellipse cx="99.03" cy="14.97" rx="1.58" ry="1.15" fill="#0808d8"/>
<ellipse cx="99.43" cy="3.63" rx="1.02" ry="0.79" fill="#010170"/>
<ellipse cx="86.81" cy="0.91" rx="1.35" ry="1.33" fill="#0909e1"/>
<ellipse cx="6.4" cy="11.8" rx="1.24" ry="1.13" fill="#0505b2"/>
<ellipse cx="64.76" cy="73.27" rx="1.06" ry="0.75" fill="#030399"/>
<ellipse cx="20.7" cy="85.69" rx="1.33" ry="1.2" fill="#0505bb"/>
<ellipse cx="107.92" cy="24.39" rx="1.2" ry="0.99" fill="#02028f"/>
<ellipse cx="50.56" cy="25.14" rx="1.57" ry="1.14" fill="#0808d8"/>
<ellipse cx="25.28" cy="81.79" rx="1.57" ry="1.22" fill="#0505b3"/>
<ellipse cx="21.93" cy="42.64" rx="1.34" ry="1.26" fill="#0404a9"/>
<ellipse cx="54.73" cy="71.04" rx="1.6" ry="1.3" fill="#03039e"/>
<ellipse cx="93.78" cy="44.2" rx="1.3" ry="1.11" fill="#0606c9"/>
<ellipse cx="42.48" cy="34.8" rx="1.04" ry="0.75" fill="#0404aa"/>
<ellipse cx="115.39" cy="35.95" rx="1.54" ry="1.25" fill="#000064"/>
<ellipse cx="104.35" cy="51.8" rx="1.21" ry="1.09" fill="#03039e"/>
<ellipse cx="115.4" cy="8.81" rx="1.33" ry="1.11" fill="#010171"/>
<ellipse cx="49.58" cy="60.09" rx="1.29" ry="0.94" fill="#010176"/>
<ellipse cx="47.84" cy="23.87" rx="1.29" ry="1.17" fill="#020283"/>
<ellipse cx="16.92" cy="56.84" rx="1.07" ry="0.95" fill="#0505b8"/>
<ellipse cx="4.16" cy="1.55" rx="1.06" ry="0.96" fill="#030399"/>
<ellipse cx="61.18" cy="88.41" rx="1.34" ry="1.15" fill="#0808d8"/>
<ellipse cx="117.11" cy="15.4" rx="1.45" ry="1.28" fill="#0808da"/>
<ellipse cx="106.41" cy="66.7" rx="1.37" ry="1.24" fill="#020286"/>
<ellipse cx="88.73" cy="16.97" rx="1.13" ry="0.86" fill="#020282"/>
<ellipse cx="9.63" cy="60.5" rx="1.33" ry="1.19" fill="#00005e"/>
<ellipse cx="104.22" cy="10.1" rx="1" ry="0.75" fill="#0505b6"/>
<ellipse cx="78.84" cy="71.85" rx="1.1" ry="1.08" fill="#01016e"/>
<ellipse cx="58.16" cy="28.14" rx="1.57" ry="1.14" fill="#000064"/>
<ellipse cx="44.19" cy="43.07" rx="1.29" ry="1.23" fill="#0404aa"/>
<ellipse cx="35.38" cy="25.75" rx="1.07" ry="0.8" fill="#00005f"/>
<ellipse cx="59.67" cy="8.14" rx="1.59" ry="1.58" fill="#00005c"/>
<ellipse cx="50.46" cy="82.62" rx="1.11" ry="1.04" fill="#0505bd"/>
<ellipse cx="63.94" cy="54.55" rx="1.42" ry="1.12" fill="#030399"/>
<ellipse cx="112.35" cy="65.56" rx="1.04" ry="0.98" fill="#030395"/>
<ellipse cx="45.34" cy="59.73" rx="1.32" ry="1.2" fill="#01016f"/>
<ellipse cx="4.38" cy="85.3" rx="1.03" ry="0.77" fill="#020291"/>
<ellipse cx="15.07" cy="20.37" rx="1.15" ry="0.89" fill="#00005c"/>
<ellipse cx="48.92" cy="11.81" rx="1.21" ry="0.98" fill="#0505b2"/>
<ellipse cx="29.35" cy="54.98" rx="1.05" ry="0.9" fill="#0909e4"/>
<ellipse cx="102.86" cy="89.02" rx="1.32" ry="1.27" fill="#020283"/>
<ellipse cx="112.48" cy="86.19" rx="1.24" ry="1.1" fill="#0606c8"/>
<ellipse cx="94.6" cy="18.41" rx="1.13" ry="1.1" fill="#0505b3"/>
<ellipse cx="35.27" cy="0.14" rx="1.11" ry="1.09" fill="#0606c1"/>
<ellipse cx="73.19" cy="18.71" rx="1.01" ry="0.83" fill="#0505b5"/>
<ellipse cx="65.01" cy="82.17" rx="1.42" ry="1.34" fill="#020290"/>
<ellipse cx="31.13" cy="50.65" rx="1.41" ry="1.02" fill="#01016e"/>
<ellipse cx="39.77" cy="55.96" rx="1.26" ry="1.01" fill="#010176"/>
<ellipse cx="78.9" cy="75.2" rx="1.1" ry="0.88" fill="#0404b0"/>
<ellipse cx="28.99" cy="65.66" rx="1.4" ry="1.14" fill="#020282"/>
<ellipse cx="27.24" cy="83.06" rx="1.33" ry="1.15" fill="#00005e"/>
<ellipse cx="10.43" cy="15.25" rx="1.42" ry="1.12" fill="#01017b"/>
<ellipse cx="14.75" cy="15.88" rx="1.55" ry="1.1" fill="#0808d8"/>
<ellipse cx="2.91" cy="58.22" rx="1.11" ry="0.82" fill="#01017a"/>
<ellipse cx="87.58" cy="83.5" rx="1.53" ry="1.31" fill="#03039a"/>
<ellipse cx="121" cy="55.44" rx="1.23" ry="1.16" fill="#010170"/>
<ellipse cx="52.45" cy="76.57" rx="1.13" ry="0.91" fill="#0505b4"/>
<ellipse cx="74.92" cy="41.18" rx="1.11" ry="0.85" fill="#0505b8"/>
<ellipse cx="109.71" cy="35.46" rx="1.06" ry="0.91" fill="#0606c9"/>
<ellipse cx="7.7" cy="74.25" rx="1.22" ry="0.94" fill="#0606c6"/>
<ellipse cx="121.6" cy="13.97" rx="1.01" ry="0.76" fill="#03039a"/>
<ellipse cx="101.52" cy="86.67" rx="1.25" ry="0.94" fill="#03039c"/>
<ellipse cx="114.89" cy="48.98" rx="1.19" ry="1" fill="#0808dd"/>
<ellipse cx="72.17" cy="45.1" rx="1.56" ry="1.44" fill="#01016c"/>
<ellipse cx="2.07" cy="82.79" rx="1.38" ry="1.3" fill="#020291"/>
<ellipse cx="0" cy="21.22" rx="1.06" ry="0.8" fill="#0505b1"/>
<ellipse cx="68.48" cy="30.07" rx="1.17" ry="1.02" fill="#02028f"/>
<ellipse cx="45.23" cy="27" rx="1.29" ry="1.13" fill="#000064"/>
<ellipse cx="32.67" cy="23.7" rx="1.46" ry="1.35" fill="#0404b0"/>
<ellipse cx="92.16" cy="55.87" rx="1.36" ry="0.96" fill="#00005e"/>
<ellipse cx="81.98" cy="41.68" rx="1.36" ry="1.3" fill="#01016e"/>
<ellipse cx="78.57" cy="35.55" rx="1.14" ry="1.01" fill="#02028b"/>
<ellipse cx="28.24" cy="30.38" rx="1.12" ry="0.83" fill="#02028c"/>
<ellipse cx="87.9" cy="37.98" rx="1.25" ry="1.14" fill="#0606c0"/>
<ellipse cx="2.5" cy="38.54" rx="1.49" ry="1.47" fill="#0404a7"/>
<ellipse cx="69.09" cy="9.71" rx="1.11" ry="0.79" fill="#03039b"/>
<ellipse cx="65.67" cy="10.2" rx="1.51" ry="1.16" fill="#01017f"/>
<ellipse cx="70.35" cy="32.55" rx="1.38" ry="1.14" fill="#0808d8"/>
<ellipse cx="109.77" cy="38.47" rx="1.1" ry="0.86" fill="#020290"/>
<ellipse cx="33.41" cy="25.8" rx="1.06" ry="0.96" fill="#00005b"/>
<ellipse cx="54.11" cy="81.32" rx="1.47" ry="1.04" fill="#030395"/>
<ellipse cx="87.7" cy="12.21" rx="1.16" ry="0.95" fill="#01017e"/>
<ellipse cx="56.11" cy="5.57" rx="1.14" ry="0.94" fill="#0606c2"/>
<ellipse cx="67.05" cy="70.34" rx="1.23" ry="1.11" fill="#030399"/>
<ellipse cx="114.41" cy="70.23" rx="1.44" ry="1.34" fill="#000062"/>
<ellipse cx="11.43" cy="24.14" rx="1.15" ry="1.05" fill="#0606c8"/>
<ellipse cx="121.31" cy="56.27" rx="1.33" ry="1.14" fill="#0606c0"/>
<ellipse cx="87.45" cy="50.86" rx="1.42" ry="1.09" fill="#00005d"/>
<ellipse cx="113.86" cy="31.13" rx="1.53" ry="1.34" fill="#0303a0"/>
<ellipse cx="21.18" cy="5.27" rx="1.15" ry="0.82" fill="#010171"/>
<ellipse cx="87.25" cy="39.16" rx="1.41" ry="1.09" fill="#020286"/>
<ellipse cx="24.64" cy="63.89" rx="1.23" ry="1.09" fill="#03039b"/>
<ellipse cx="67.34" cy="29.02" rx="1.29" ry="1.21" fill="#0707d1"/>
<ellipse cx="68.36" cy="38.1" rx="1.34" ry="1.13" fill="#0606c3"/>
<ellipse cx="70.64" cy="34.21" rx="1.2" ry="1.06" fill="#0707d2"/>
<ellipse cx="26.33" cy="72.39" rx="1.34" ry="1.09" fill="#0606c1"/>
<ellipse cx="12.69" cy="47.47" rx="1.29" ry="1.04" fill="#0707cd"/>
<ellipse cx="102.89" cy="26.29" rx="1.5" ry="1.35" fill="#0606c5"/>
<ellipse cx="18.16" cy="15.02" rx="1.18" ry="1.15" fill="#00005b"/>
<ellipse cx="37.61" cy="17.56" rx="1.54" ry="1.43" fill="#01017a"/>
<ellipse cx="73.89" cy="49.79" rx="1.43" ry="1.31" fill="#0404ad"/>
<ellipse cx="54.09" cy="0.88" rx="1.01" ry="0.98" fill="#01017b"/>
<ellipse cx="88.15" cy="12.17" rx="1.33" ry="1.09" fill="#0606c1"/>
<ellipse cx="114.36" cy="86.78" rx="1.44" ry="1.41" fill="#010179"/>
<ellipse cx="121.11" cy="83.63" rx="1.35" ry="1.22" fill="#010169"/>
<ellipse cx="99.37" cy="36.15" rx="1.18" ry="1.11" fill="#030393"/>
<ellipse cx="78.91" cy="64.48" rx="1.59" ry="1.15" fill="#0404ab"/>
<ellipse cx="50.29" cy="87.71" rx="1.54" ry="1.18" fill="#000062"/>
<ellipse cx="88.01" cy="65.39" rx="1.44" ry="1.07" fill="#02028b"/>
<ellipse cx="1.62" cy="37.03" rx="1.02" ry="1.01" fill="#0808dd"/>
<ellipse cx="29.94" cy="45.48" rx="1.59" ry="1.13" fill="#010176"/>
<ellipse cx="67.22" cy="18.86" rx="1.52" ry="1.19" fill="#020287"/>
<ellipse cx="91.72" cy="84.44" rx="1.02" ry="0.77" fill="#020288"/>
<ellipse cx="14.13" cy="22.66" rx="1.18" ry="1.07" fill="#0707d0"/>
<ellipse cx="105.61" cy="20.42" rx="1.15" ry="1.11" fill="#010177"/>
<ellipse cx="108.88" cy="63.55" rx="1.23" ry="0.91" fill="#0404a5"/>
<ellipse cx="65.98" cy="57.92" rx="1.26" ry="1.21" fill="#0606be"/>
<ellipse cx="81.43" cy="40.32" rx="1.28" ry="1.06" fill="#02028c"/>
<ellipse cx="101.4" cy="62.33" rx="1.57" ry="1.33" fill="#0707cb"/>
<ellipse cx="21.12" cy="56.16" rx="1.43" ry="1.07" fill="#02028f"/>
<ellipse cx="96.22" cy="20.18" rx="1.1" ry="1.01" fill="#01017b"/>
<ellipse cx="107.78" cy="82.49" rx="1.51" ry="1.35" fill="#0606c5"/>
<ellipse cx="72.52" cy="14.3" rx="1.22" ry="1.05" fill="#010179"/>
<ellipse cx="98.5" cy="60.45" rx="1.31" ry="0.96" fill="#010169"/>
<ellipse cx="89.17" cy="68.26" rx="1.32" ry="1.02" fill="#020280"/>
<ellipse cx="61.25" cy="68.65" rx="1.58" ry="1.35" fill="#00005d"/>
<ellipse cx="68.87" cy="82.95" rx="1.4" ry="1.38" fill="#0808d8"/>
<ellipse cx="79.66" cy="16.77" rx="1.15" ry="1.14" fill="#0909e3"/>
<ellipse cx="109.84" cy="75.49" rx="1.25" ry="1.09" fill="#0808d9"/>
<ellipse cx="118.15" cy="63.69" rx="1.19" ry="1.08" fill="#030399"/>
<ellipse cx="54.88" cy="27.09" rx="1.28" ry="1.07" fill="#0505bd"/>
<ellipse cx="106.02" cy="16.16" rx="1.21" ry="1.16" fill="#0606c4"/>
<ellipse cx="98.42" cy="64.56" rx="1.43" ry="1.32" fill="#020281"/>
<ellipse cx="5.11" cy="54.91" rx="1.22" ry="0.87" fill="#020285"/>
<ellipse cx="47.63" cy="61.28" rx="1.25" ry="1.01" fill="#0808dc"/>
<ellipse cx="35.5" cy="80.13" rx="1.54" ry="1.21" fill="#000060"/>
<ellipse cx="45.77" cy="5.31" rx="1.46" ry="1.37" fill="#010171"/>
<ellipse cx="59.01" cy="37.44" rx="1.01" ry="0.91" fill="#010176"/>
<ellipse cx="75.01" cy="66.25" rx="1.39" ry="1.14" fill="#01017c"/>
<ellipse cx="93.69" cy="8.81" rx="1.49" ry="1.42" fill="#02028c"/>
<ellipse cx="1.23" cy="73.51" rx="1.01" ry="0.84" fill="#0404ae"/>
<ellipse cx="52.8" cy="28.67" rx="1.26" ry="1.07" fill="#01016e"/>
<ellipse cx="102.36" cy="43.83" rx="1.45" ry="1.39" fill="#000068"/>
<ellipse cx="23.11" cy="29.98" rx="1.43" ry="1.28" fill="#0505b3"/>
<ellipse cx="89.36" cy="71.37" rx="1.29" ry="1.08" fill="#020282"/>
<ellipse cx="30.46" cy="66.94" rx="1.07" ry="1.06" fill="#0909e4"/>
<ellipse cx="37.57" cy="47.77" rx="1.12" ry="0.82" fill="#0606c0"/>
<ellipse cx="60.92" cy="80.81" rx="1.38" ry="1.01" fill="#02028e"/>
<ellipse cx="109.79" cy="66.47" rx="1.58" ry="1.56" fill="#0404a5"/>
<ellipse cx="19.13" cy="74.04" rx="1.58" ry="1.46" fill="#03039f"/>
<ellipse cx="37.72" cy="21.38" rx="1.18" ry="1.03" fill="#0909e3"/>
<ellipse cx="69.77" cy="73.1" rx="1.52" ry="1.43" fill="#0808db"/>
<ellipse cx="16.85" cy="80.75" rx="1.09" ry="0.86" fill="#01017e"/>
<ellipse cx="29.18" cy="76.72" rx="1.04" ry="0.98" fill="#0808d8"/>
<ellipse cx="68.71" cy="13.08" rx="1.17" ry="1.09" fill="#020284"/>
<ellipse cx="4.53" cy="77.01" rx="1.23" ry="1.08" fill="#0404af"/>
<ellipse cx="34.92" cy="4.51" rx="1.41" ry="1.05" fill="#010170"/>
<ellipse cx="5.47" cy="31.95" rx="1.51" ry="1.31" fill="#0606c2"/>
<ellipse cx="86.2" cy="16.16" rx="1.14" ry="1.02" fill="#000062"/>
<ellipse cx="73.69" cy="67.22" rx="1.36" ry="1.27" fill="#03039e"/>
<ellipse cx="14.73" cy="9.68" rx="1.26" ry="1.17" fill="#02028d"/>
<ellipse cx="96.02" cy="85.46" rx="1.24" ry="0.93" fill="#0505b9"/>
<ellipse cx="86.77" cy="73.98" rx="1.24" ry="1.17" fill="#02028e"/>
<ellipse cx="93.94" cy="77.9" rx="1.15" ry="1.13" fill="#02028a"/>
<ellipse cx="30.35" cy="14.12" rx="1.23" ry="1.18" fill="#00005e"/>
<ellipse cx="118.43" cy="76.76" rx="1.02" ry="0.86" fill="#0909e3"/>
<ellipse cx="2.19" cy="43.24" rx="1.16" ry="0.96" fill="#0505bb"/>
<ellipse cx="76.51" cy="0.88" rx="1.44" ry="1.07" fill="#0505b6"/>
<ellipse cx="22.38" cy="39.81" rx="1.52" ry="1.37" fill="#02028d"/>
<ellipse cx="24.71" cy="39.87" rx="1.35" ry="1.07" fill="#000061"/>
<ellipse cx="20.34" cy="83.14" rx="1.28" ry="1.18" fill="#020292"/>
<ellipse cx="79.55" cy="45.04" rx="1.47" ry="1.07" fill="#01016b"/>
<ellipse cx="103.77" cy="53.76" rx="1.16" ry="0.96" fill="#000061"/>
<ellipse cx="16.18" cy="78.57" rx="1.32" ry="1.06" fill="#0505bb"/>
<ellipse cx="56.43" cy="15.92" rx="1.19" ry="1.02" fill="#0606c2"/>
<ellipse cx="56.16" cy="79.65" rx="1.33" ry="1.14" fill="#0404a7"/>
<ellipse cx="105.6" cy="79.53" rx="1.31" ry="0.93" fill="#020290"/>
<ellipse cx="112.06" cy="41.79" rx="1.11" ry="1.03" fill="#0606c1"/>
<ellipse cx="82.37" cy="9.87" rx="1.12" ry="0.9" fill="#000061"/>
<ellipse cx="3.89" cy="61.05" rx="1.31" ry="1.3" fill="#000066"/>
<ellipse cx="24.35" cy="38.08" rx="1.57" ry="1.15" fill="#01016c"/>
<ellipse cx="78.36" cy="83.52" rx="1.38" ry="1.36" fill="#030397"/>
<ellipse cx="92.83" cy="66.39" rx="1.17" ry="0.88" fill="#03039e"/>
<ellipse cx="64.16" cy="69.76" rx="1.41" ry="1.01" fill="#0404a4"/>
<ellipse cx="78.31" cy="27.96" rx="1.58" ry="1.17" fill="#0808da"/>
<ellipse cx="43.91" cy="12.09" rx="1.36" ry="0.97" fill="#02028e"/>
<ellipse cx="0.61" cy="1.41" rx="1.53" ry="1.49" fill="#01016e"/>
<ellipse cx="101.61" cy="26.87" rx="1.56" ry="1.42" fill="#0808d8"/>
<ellipse cx="104.31" cy="2.83" rx="1.44" ry="1.42" fill="#0808db"/>
<ellipse cx="22.73" cy="82.85" rx="1.5" ry="1.44" fill="#0707d3"/>
<ellipse cx="36.58" cy="88.62" rx="1.57" ry="1.39" fill="#020287"/>
<ellipse cx="14.37" cy="70.56" rx="1.37" ry="1.12" fill="#020281"/>
<ellipse cx="20.5" cy="45.16" rx="1.03" ry="0.89" fill="#01016a"/>
<ellipse cx="20.55" cy="67.66" rx="1.12" ry="0.97" fill="#0909e4"/>
<ellipse cx="110.95" cy="74.45" rx="1.01" ry="0.82" fill="#0606c0"/>
<ellipse cx="31.44" cy="67.29" rx="1.55" ry="1.34" fill="#0707ca"/>
<ellipse cx="76.25" cy="67.5" rx="1.34" ry="1.28" fill="#010178"/>
<ellipse cx="115.7" cy="49.63" rx="1.14" ry="1.04" fill="#0505b8"/>
<ellipse cx="51.99" cy="84.33" rx="1.49" ry="1.3" fill="#0606c2"/>
<ellipse cx="72.29" cy="16.29" rx="1.08" ry="0.93" fill="#01016c"/>
<ellipse cx="104.83" cy="88.41" rx="1.13" ry="0.93" fill="#030396"/>
<ellipse cx="47.79" cy="58.46" rx="1.6" ry="1.52" fill="#020287"/>
<ellipse cx="82.36" cy="15.56" rx="1.26" ry="0.94" fill="#02028a"/>
<ellipse cx="3.96" cy="46.16" rx="1.36" ry="1.18" fill="#0505bc"/>
<ellipse cx="100.04" cy="81.57" rx="1.23" ry="0.96" fill="#0606c6"/>
<ellipse cx="95.28" cy="13.72" rx="1.42" ry="1.36" fill="#0707ca"/>
<ellipse cx="90.59" cy="57.45" rx="1.54" ry="1.28" fill="#030393"/>
<ellipse cx="40.69" cy="74.98" rx="1.55" ry="1.19" fill="#0707d3"/>
<ellipse cx="102.64" cy="42.17" rx="1.5" ry="1.13" fill="#010177"/>
<ellipse cx="121.59" cy="61.58" rx="1.04" ry="0.94" fill="#0606c7"/>
<ellipse cx="72.14" cy="14.01" rx="1.01" ry="0.87" fill="#0404a4"/>
<ellipse cx="49.71" cy="8.39" rx="1.5" ry="1.25" fill="#0707cc"/>
<ellipse cx="108.7" cy="76.34" rx="1.32" ry="1.16" fill="#010174"/>
<ellipse cx="91.13" cy="3.33" rx="1.41" ry="1.24" fill="#0505b8"/>
<ellipse cx="31.88" cy="76.89" rx="1.46" ry="1.26" fill="#0707d2"/>
<ellipse cx="0.14" cy="26.79" rx="1.18" ry="1.18" fill="#0606c4"/>
<ellipse cx="97.78" cy="42.47" rx="1.14" ry="0.96" fill="#000065"/>
<ellipse cx="21.96" cy="18.07" rx="1.18" ry="1.08" fill="#00005d"/>
<ellipse cx="115.34" cy="51.7" rx="1.28" ry="1.15" fill="#0606c2"/>
<ellipse cx="75.16" cy="75.18" rx="1.3" ry="1" fill="#0707d1"/>
<ellipse cx="72.89" cy="5.27" rx="1.16" ry="1.13" fill="#010172"/>
<ellipse cx="25.05" cy="29.06" rx="1.32" ry="0.99" fill="#01016a"/>
<ellipse cx="63.8" cy="81.27" rx="1.03" ry="1.02" fill="#0707ce"/>
<ellipse cx="25.17" cy="69.01" rx="1.19" ry="1.03" fill="#000065"/>
<ellipse cx="2.12" cy="7.56" rx="1.27" ry="1.05" fill="#0808de"/>
<ellipse cx="37.02" cy="14.64" rx="1.04" ry="1.01" fill="#0505b2"/>
<ellipse cx="0.43" cy="47.36" rx="1.06" ry="0.97" fill="#0505b9"/>
<ellipse cx="4.98" cy="18.8" rx="1.35" ry="1.16" fill="#0606c5"/>
<ellipse cx="16.82" cy="35.8" rx="1.39" ry="1.03" fill="#02028f"/>
<ellipse cx="116.87" cy="76.65" rx="1.32" ry="1.32" fill="#0909df"/>
<ellipse cx="94.92" cy="66.27" rx="1.14" ry="0.91" fill="#0606c0"/>
<ellipse cx="6.19" cy="15.19" rx="1.57" ry="1.26" fill="#0707cb"/>
<ellipse cx="48.26" cy="20.73" rx="1.31" ry="0.96" fill="#02028a"/>
<ellipse cx="50.27" cy="20.54" rx="1.48" ry="1.38" fill="#03039d"/>
<ellipse cx="25.84" cy="64.54" rx="1" ry="0.97" fill="#0707cb"/>
<ellipse cx="66.42" cy="78.03" rx="1.47" ry="1.38" fill="#01016b"/>
<ellipse cx="56.99" cy="86.24" rx="1.49" ry="1.26" fill="#0808db"/>
<ellipse cx="29.46" cy="69.41" rx="1.36" ry="1.14" fill="#020292"/>
<ellipse cx="96.02" cy="8.43" rx="1.52" ry="1.12" fill="#0606c1"/>
<ellipse cx="30.47" cy="88.36" rx="1.49" ry="1.39" fill="#02028a"/>
<ellipse cx="85.21" cy="11.42" rx="1.49" ry="1.21" fill="#0404ad"/>
<ellipse cx="82.21" cy="81.45" rx="1.14" ry="0.95" fill="#0606c8"/>
<ellipse cx="54.42" cy="21.6" rx="1.51" ry="1.38" fill="#010172"/>
<ellipse cx="113.12" cy="54.5" rx="1.51" ry="1.3" fill="#030396"/>
<ellipse cx="80.1" cy="11.84" rx="1.34" ry="0.99" fill="#0909df"/>
<ellipse cx="1.9" cy="24.01" rx="1.59" ry="1.45" fill="#0505bd"/>
<ellipse cx="92.75" cy="55.47" rx="1.17" ry="0.95" fill="#0707d4"/>
<ellipse cx="22.78" cy="47.37" rx="1.46" ry="1.31" fill="#0606c8"/>
<ellipse cx="46.26" cy="86.23" rx="1.31" ry="0.98" fill="#00005d"/>
<ellipse cx="84.39" cy="51.21" rx="1.53" ry="1.21" fill="#01017d"/>
<ellipse cx="7.29" cy="27.98" rx="1.32" ry="1.19" fill="#0707d1"/>
<ellipse cx="14.18" cy="51.85" rx="1.2" ry="1.19" fill="#010175"/>
<ellipse cx="93.15" cy="44.77" rx="1.07" ry="0.77" fill="#010178"/>
<ellipse cx="42.77" cy="66.78" rx="1.11" ry="1.01" fill="#010180"/>
<ellipse cx="44.62" cy="20.78" rx="1.03" ry="0.91" fill="#01016f"/>
<ellipse cx="31.02" cy="78.13" rx="1.37" ry="1.29" fill="#020281"/>
<ellipse cx="24.73" cy="15.81" rx="1.32" ry="1.03" fill="#020286"/>
<ellipse cx="37.13" cy="57.93" rx="1.17" ry="0.98" fill="#0505b4"/>
<ellipse cx="98.49" cy="54.93" rx="1.05" ry="1.03" fill="#020286"/>
<ellipse cx="2.61" cy="67.44" rx="1.37" ry="1.18" fill="#01017f"/>
<ellipse cx="11.93" cy="21.88" rx="1.29" ry="1.29" fill="#0808db"/>
<ellipse cx="27.06" cy="75.91" rx="1.58" ry="1.37" fill="#0909e0"/>
<ellipse cx="21.56" cy="61.74" rx="1.08" ry="0.76" fill="#0707cd"/>
<ellipse cx="16.48" cy="1.78" rx="1" ry="0.98" fill="#0505b2"/>
<ellipse cx="68.03" cy="56.52" rx="1.24" ry="1.2" fill="#0303a1"/>
<ellipse cx="60.34" cy="12.49" rx="1.36" ry="1.03" fill="#0505bb"/>
<ellipse cx="11.46" cy="40.46" rx="1.48" ry="1.47" fill="#020284"/>
<ellipse cx="91.83" cy="10.51" rx="1.51" ry="1.12" fill="#01016f"/>
<ellipse cx="110.5" cy="7.12" rx="1.35" ry="1.13" fill="#030399"/>
<ellipse cx="45.6" cy="27.58" rx="1.39" ry="1.28" fill="#0808d4"/>
<ellipse cx="49.59" cy="7.43" rx="1.37" ry="1.19" fill="#010169"/>
<ellipse cx="115.67" cy="17.81" rx="1.37" ry="1.02" fill="#03039c"/>
<ellipse cx="32.44" cy="70.08" rx="1.04" ry="0.88" fill="#0303a2"/>
<ellipse cx="90" cy="46.44" rx="1.43" ry="1.01" fill="#02028e"/>
<ellipse cx="32.31" cy="59.93" rx="1.54" ry="1.26" fill="#020291"/>
<ellipse cx="49.79" cy="64.18" rx="1.11" ry="1.1" fill="#0606bf"/>
<ellipse cx="42.58" cy="66.03" rx="1.37" ry="1.04" fill="#0606c4"/>
<ellipse cx="55.59" cy="81.43" rx="1.56" ry="1.35" fill="#010178"/>
<ellipse cx="103.01" cy="83.89" rx="1.34" ry="1.2" fill="#030399"/>
<ellipse cx="62.03" cy="1.11" rx="1.58" ry="1.57" fill="#030396"/>
<ellipse cx="6.21" cy="56.51" rx="1.17" ry="0.91" fill="#02028a"/>
<ellipse cx="96.03" cy="36.19" rx="1.37" ry="1.24" fill="#0606c3"/>
<ellipse cx="106.91" cy="80.7" rx="1.56" ry="1.4" fill="#03039c"/>
<ellipse cx="56.76" cy="81.54" rx="1.14" ry="0.89" fill="#03039c"/>
<ellipse cx="76.39" cy="16.88" rx="1.34" ry="1.17" fill="#0606c8"/>
<ellipse cx="72.28" cy="75.89" rx="1.24" ry="0.98" fill="#02028b"/>
<ellipse cx="112" cy="35.76" rx="1.42" ry="1.24" fill="#0505b3"/>
<ellipse cx="31.49" cy="23.29" rx="1.52" ry="1.1" fill="#0808d6"/>
<ellipse cx="8.47" cy="24.13" rx="1.42" ry="1.29" fill="#0505b5"/>
<ellipse cx="107.58" cy="54.79" rx="1.19" ry="0.91" fill="#0808d5"/>
<ellipse cx="36.66" cy="55.05" rx="1.24" ry="0.95" fill="#0606be"/>
<ellipse cx="99.72" cy="9.77" rx="1.17" ry="1.1" fill="#0404ae"/>
<ellipse cx="71.89" cy="69.41" rx="1.55" ry="1.39" fill="#03039d"/>
<ellipse cx="93.36" cy="36.81" rx="1.32" ry="1.15" fill="#02028f"/>
<ellipse cx="118.61" cy="32.55" rx="1.05" ry="0.75" fill="#0606be"/>
<ellipse cx="113.6" cy="40.1" rx="1.36" ry="1.28" fill="#030398"/>
<ellipse cx="16.38" cy="6.39" rx="1.59" ry="1.44" fill="#0606c2"/>
<ellipse cx="96.57" cy="45.07" rx="1.28" ry="1.23" fill="#010179"/>
<ellipse cx="61.24" cy="30.01" rx="1.39" ry="1.38" fill="#02028a"/>
<ellipse cx="102.83" cy="57.49" rx="1.02" ry="0.8" fill="#030395"/>
<ellipse cx="81.62" cy="39.29" rx="1.42" ry="1.22" fill="#00005d"/>
<ellipse cx="116.3" cy="78.89" rx="1.4" ry="1.26" fill="#01016b"/>
<ellipse cx="90.03" cy="38.83" rx="1.57" ry="1.21" fill="#010176"/>
<ellipse cx="55.36" cy="58.78" rx="1.12" ry="0.81" fill="#0808dc"/>
<ellipse cx="118.34" cy="54.45" rx="1.18" ry="1.02" fill="#0606c1"/>
<ellipse cx="96.78" cy="39.12" rx="1.03" ry="0.9" fill="#0505ba"/>
<ellipse cx="17.38" cy="33.9" rx="1.33" ry="1.26" fill="#0505b8"/>
<ellipse cx="29.59" cy="63.73" rx="1.08" ry="0.83" fill="#0808d7"/>
<ellipse cx="24.57" cy="51.43" rx="1.42" ry="1.25" fill="#0707cf"/>
<ellipse cx="74.79" cy="18.33" rx="1.41" ry="1.34" fill="#000060"/>
<ellipse cx="28.46" cy="73.09" rx="1.1" ry="0.89" fill="#0808dc"/>
<ellipse cx="119.92" cy="75.46" rx="1.41" ry="1.2" fill="#0707d1"/>
<ellipse cx="50.91" cy="3.24" rx="1.57" ry="1.41" fill="#0707d0"/>
<ellipse cx="115.95" cy="30.87" rx="1.56" ry="1.32" fill="#020281"/>
<ellipse cx="7.84" cy="22.5" rx="1.14" ry="0.99" fill="#0404a5"/>
<ellipse cx="31.24" cy="85.64" rx="1.46" ry="1.26" fill="#0606c5"/>
<ellipse cx="118.01" cy="52.25" rx="1.37" ry="1.21" fill="#00005e"/>
<ellipse cx="94.33" cy="67.9" rx="1.49" ry="1.37" fill="#01017c"/>
<ellipse cx="27.76" cy="5.08" rx="1.29" ry="1.02" fill="#010170"/>
<ellipse cx="6.15" cy="88.82" rx="1.11" ry="1.08" fill="#0707d1"/>
<ellipse cx="95.54" cy="83.93" rx="1.23" ry="1.03" fill="#0808d5"/>
<ellipse cx="36.6" cy="40.85" rx="1.53" ry="1.08" fill="#0606be"/>
<ellipse cx="71.96" cy="18.04" rx="1.47" ry="1.05" fill="#0909e3"/>
<ellipse cx="54.4" cy="62.89" rx="1.14" ry="1.12" fill="#030397"/>
<ellipse cx="119.22" cy="53.82" rx="1.59" ry="1.18" fill="#0404ae"/>
<ellipse cx="73.58" cy="22.55" rx="1.12" ry="0.96" fill="#010175"/>
<ellipse cx="85.53" cy="31.99" rx="1.16" ry="0.9" fill="#010168"/>
<ellipse cx="61.46" cy="75.51" rx="1.2" ry="1.17" fill="#03039e"/>
<ellipse cx="6.7" cy="25.71" rx="1.37" ry="0.98" fill="#03039b"/>
<ellipse cx="15.08" cy="28.44" rx="1.5" ry="1.39" fill="#0707d0"/>
<ellipse cx="92.96" cy="75.56" rx="1.48" ry="1.09" fill="#0404aa"/>
<ellipse cx="99.67" cy="79.51" rx="1.01" ry="0.74" fill="#01017f"/>
<ellipse cx="75.1" cy="22.57" rx="1.18" ry="0.89" fill="#0909e3"/>
<ellipse cx="95.3" cy="20.58" rx="1.04" ry="0.89" fill="#0909e2"/>
<ellipse cx="119.88" cy="58.39" rx="1.15" ry="0.91" fill="#0707cf"/>
<ellipse cx="115.85" cy="74.32" rx="1.34" ry="1.05" fill="#0606bf"/>
<ellipse cx="112.88" cy="12.62" rx="1.57" ry="1.14" fill="#0909df"/>
<ellipse cx="42.3" cy="88.71" rx="1.14" ry="1.05" fill="#0303a0"/>
<ellipse cx="106.09" cy="36.61" rx="1.38" ry="0.97" fill="#0404a9"/>
<ellipse cx="71.63" cy="5.13" rx="1.52" ry="1.12" fill="#00005d"/>
<ellipse cx="113.49" cy="49.72" rx="1.11" ry="1.06" fill="#020291"/>
<ellipse cx="119.1" cy="45.64" rx="1.57" ry="1.32" fill="#0808d6"/>
<ellipse cx="30.11" cy="57.32" rx="1.53" ry="1.09" fill="#02028b"/>
<ellipse cx="7.85" cy="76.64" rx="1.08" ry="0.79" fill="#020284"/>
<ellipse cx="35.23" cy="2.05" rx="1.27" ry="0.91" fill="#0909e2"/>
<ellipse cx="27.54" cy="37.3" rx="1.37" ry="1.3" fill="#01016f"/>
<ellipse cx="72.96" cy="67.84" rx="1.53" ry="1.38" fill="#000061"/>
<ellipse cx="11.06" cy="59.95" rx="1.46" ry="1.13" fill="#01016c"/>
<ellipse cx="5.43" cy="83.76" rx="1.43" ry="1.03" fill="#0303a0"/>
<ellipse cx="13.26" cy="59.5" rx="1.47" ry="1.27" fill="#000065"/>
<ellipse cx="0.91" cy="28.18" rx="1.11" ry="0.87" fill="#0404a8"/>
<ellipse cx="80.19" cy="28.47" rx="1.51" ry="1.32" fill="#0404a5"/>
<ellipse cx="15.22" cy="15.58" rx="1.12" ry="1.01" fill="#010178"/>
<ellipse cx="47.2" cy="25.49" rx="1.34" ry="1.3" fill="#02028c"/>
<ellipse cx="95.49" cy="10.88" rx="1.03" ry="0.9" fill="#0909e1"/>
<ellipse cx="89.48" cy="22.16" rx="1.03" ry="0.96" fill="#03039c"/>
<ellipse cx="59.9" cy="69.81" rx="1.53" ry="1.17" fill="#01016c"/>
<ellipse cx="108.48" cy="17.01" rx="1.12" ry="0.91" fill="#0808dc"/>
<ellipse cx="110.48" cy="86.83" rx="1.52" ry="1.38" fill="#02028f"/>
<ellipse cx="118.01" cy="73.9" rx="1.33" ry="0.94" fill="#030399"/>
<ellipse cx="29.25" cy="30.49" rx="1.14" ry="1.07" fill="#0909e2"/>
<ellipse cx="80.73" cy="32.5" rx="1.03" ry="0.83" fill="#0505ba"/>
<ellipse cx="70.83" cy="61.38" rx="1.54" ry="1.5" fill="#0606c7"/>
<ellipse cx="13.2" cy="8.62" rx="1.22" ry="1.2" fill="#02028d"/>
<ellipse cx="10.9" cy="76.78" rx="1.15" ry="1.03" fill="#0303a3"/>
<ellipse cx="43.11" cy="82.51" rx="1.08" ry="1.07" fill="#010175"/>
<ellipse cx="103.36" cy="10.18" rx="1.57" ry="1.55" fill="#0606c7"/>
<ellipse cx="105.26" cy="67.99" rx="1.1" ry="1.07" fill="#0404af"/>
<ellipse cx="30.56" cy="13.5" rx="1.07" ry="1" fill="#03039d"/>
<ellipse cx="28.2" cy="81.85" rx="1.14" ry="1.1" fill="#000062"/>
<ellipse cx="85.65" cy="13.22" rx="1.48" ry="1.38" fill="#0606c8"/>
<ellipse cx="89.11" cy="51.15" rx="1.29" ry="0.97" fill="#0808d7"/>
<ellipse cx="76.03" cy="8.76" rx="1.42" ry="1.37" fill="#0909df"/>
<ellipse cx="5.07" cy="13.63" rx="1.37" ry="1.15" fill="#0909e0"/>
<ellipse cx="95.92" cy="66.41" rx="1.08" ry="0.77" fill="#000068"/>
<ellipse cx="40.02" cy="75.31" rx="1.32" ry="1.02" fill="#0909df"/>
<ellipse cx="6.91" cy="15.3" rx="1.59" ry="1.56" fill="#0404ac"/>
<ellipse cx="7.72" cy="12.71" rx="1.02" ry="0.9" fill="#020283"/>
<ellipse cx="29.46" cy="72.29" rx="1.09" ry="0.9" fill="#0707cd"/>
<ellipse cx="81.91" cy="18.95" rx="1.3" ry="1.18" fill="#010169"/>
<ellipse cx="52.61" cy="7.73" rx="1.54" ry="1.12" fill="#020281"/>
<ellipse cx="35.98" cy="68.26" rx="1.18" ry="0.91" fill="#0808d7"/>
<ellipse cx="24.56" cy="12.82" rx="1.22" ry="1.14" fill="#02028d"/>
<ellipse cx="69.82" cy="12.3" rx="1.6" ry="1.22" fill="#03039e"/>
<ellipse cx="23.23" cy="0.11" rx="1.32" ry="1.22" fill="#0808d4"/>
<ellipse cx="45.76" cy="60.65" rx="1.38" ry="1.08" fill="#0606be"/>
<ellipse cx="6.86" cy="78.26" rx="1.22" ry="0.95" fill="#010179"/>
<ellipse cx="98.95" cy="57.66" rx="1.07" ry="1.04" fill="#0404ab"/>
<ellipse cx="6.84" cy="86.71" rx="1.15" ry="1.13" fill="#0808d9"/>
<ellipse cx="31.87" cy="36.58" rx="1.56" ry="1.35" fill="#0505b3"/>
<ellipse cx="41.26" cy="27.72" rx="1.35" ry="1.16" fill="#020281"/>
<ellipse cx="52.97" cy="69.9" rx="1.29" ry="0.98" fill="#010170"/>
<ellipse cx="61.49" cy="23.25" rx="1.07" ry="0.99" fill="#030395"/>
<ellipse cx="18.61" cy="77.21" rx="1.48" ry="1.24" fill="#010178"/>
<ellipse cx="85.59" cy="20.26" rx="1.38" ry="1.24" fill="#01016d"/>
<ellipse cx="43.8" cy="35.08" rx="1.55" ry="1.36" fill="#010176"/>
<ellipse cx="24.47" cy="82.91" rx="1.01" ry="0.91" fill="#0808d5"/>
<ellipse cx="116.09" cy="12.92" rx="1.59" ry="1.36" fill="#0707d3"/>
<ellipse cx="46.91" cy="83.57" rx="1.19" ry="1.12" fill="#03039c"/>
<ellipse cx="94.23" cy="83.37" rx="1.36" ry="1.23" fill="#030395"/>
<ellipse cx="81.39" cy="49.05" rx="1.19" ry="1.01" fill="#020285"/>
<ellipse cx="108.13" cy="60.83" rx="1.17" ry="1.16" fill="#020288"/>
<ellipse cx="110.81" cy="87.17" rx="1.43" ry="1.07" fill="#0404a3"/>
<ellipse cx="90.41" cy="65.39" rx="1.14" ry="1.09" fill="#03039a"/>
<ellipse cx="107.4" cy="15.31" rx="1.48" ry="1.35" fill="#0909e1"/>
<ellipse cx="26.93" cy="20.44" rx="1.37" ry="1.12" fill="#0707ce"/>
<ellipse cx="100.19" cy="77.52" rx="1.43" ry="1.25" fill="#010174"/>
<ellipse cx="41.48" cy="34.77" rx="1.57" ry="1.34" fill="#020285"/>
<ellipse cx="33" cy="2.79" rx="1.55" ry="1.15" fill="#0404ad"/>
<ellipse cx="113.12" cy="87.56" rx="1.34" ry="1.13" fill="#01016b"/>
<ellipse cx="81.01" cy="2.14" rx="1.22" ry="1.11" fill="#000062"/>
<ellipse cx="14.44" cy="62.44" rx="1.25" ry="1.19" fill="#03039f"/>
<ellipse cx="105.02" cy="27.08" rx="1.49" ry="1.35" fill="#01016c"/>
<ellipse cx="2.12" cy="67.88" rx="1.45" ry="1.36" fill="#0707d0"/>
<ellipse cx="11.8" cy="9.76" rx="1.31" ry="1.17" fill="#020291"/>
<ellipse cx="94.09" cy="68.16" rx="1.23" ry="0.88" fill="#000067"/>
<ellipse cx="96.46" cy="78.47" rx="1.34" ry="1.23" fill="#0404af"/>
<ellipse cx="10.77" cy="59.25" rx="1.39" ry="1.36" fill="#0505b8"/>
<ellipse cx="0.84" cy="75.84" rx="1.23" ry="1.09" fill="#0707d4"/>
<ellipse cx="110.03" cy="8.06" rx="1.46" ry="1.21" fill="#0505b9"/>
<ellipse cx="75.27" cy="45.77" rx="1.12" ry="0.94" fill="#0404a7"/>
<ellipse cx="40.69" cy="81.17" rx="1.22" ry="1.11" fill="#0808d5"/>
<ellipse cx="7.8" cy="62.25" rx="1.13" ry="0.91" fill="#020289"/>
<ellipse cx="97.12" cy="51.69" rx="1.15" ry="0.97" fill="#03039f"/>
<ellipse cx="96.25" cy="41.95" rx="1.18" ry="1.08" fill="#02028a"/>
<ellipse cx="97.6" cy="71.95" rx="1.48" ry="1.29" fill="#0808d5"/>
<ellipse cx="90.88" cy="50" rx="1.39" ry="0.98" fill="#0707ce"/>
<ellipse cx="114.84" cy="11.32" rx="1.41" ry="1.1" fill="#0808de"/>
<ellipse cx="2.43" cy="28.26" rx="1.12" ry="0.99" fill="#0909e1"/>
<ellipse cx="67.83" cy="82.29" rx="1.04" ry="0.88" fill="#010170"/>
<ellipse cx="61.06" cy="78.08" rx="1.4" ry="1.01" fill="#030396"/>
<ellipse cx="13.85" cy="40.47" rx="1.58" ry="1.38" fill="#0707d1"/>
<ellipse cx="27.14" cy="33.37" rx="1.3" ry="1.09" fill="#020288"/>
<ellipse cx="110.23" cy="23.92" rx="1.16" ry="0.96" fill="#01016f"/>
<ellipse cx="50.82" cy="74.26" rx="1.47" ry="1.03" fill="#000063"/>
<ellipse cx="87.51" cy="27.53" rx="1.55" ry="1.5" fill="#0505b2"/>
<ellipse cx="39.42" cy="65.3" rx="1.46" ry="1.12" fill="#000064"/>
<ellipse cx="71.6" cy="22.42" rx="1.24" ry="1.23" fill="#000061"/>
<ellipse cx="60.43" cy="28.32" rx="1.46" ry="1.1" fill="#010175"/>
<ellipse cx="111.96" cy="16" rx="1.05" ry="0.75" fill="#0404b0"/>
<ellipse cx="60.22" cy="85.59" rx="1.15" ry="0.98" fill="#0404a6"/>
<ellipse cx="107.78" cy="62.79" rx="1.07" ry="1.06" fill="#000067"/>
<ellipse cx="19.47" cy="30.91" rx="1.27" ry="1.04" fill="#0707cc"/>
<ellipse cx="103.14" cy="0.13" rx="1.07" ry="0.81" fill="#010180"/>
<ellipse cx="79.47" cy="16.17" rx="1.43" ry="1.43" fill="#0909e3"/>
<ellipse cx="33.78" cy="24.48" rx="1.54" ry="1.26" fill="#0404a7"/>
<ellipse cx="43.1" cy="14.1" rx="1.16" ry="1.09" fill="#00005c"/>
<ellipse cx="88.47" cy="5.6" rx="1.56" ry="1.26" fill="#000066"/>
<ellipse cx="99.73" cy="3.14" rx="1.48" ry="1.21" fill="#020293"/>
<ellipse cx="112.41" cy="63.76" rx="1.51" ry="1.13" fill="#0303a2"/>
<ellipse cx="48.97" cy="79.65" rx="1.3" ry="1.02" fill="#01016a"/>
<ellipse cx="65.85" cy="81.93" rx="1.34" ry="1.05" fill="#02028b"/>
<ellipse cx="98.22" cy="14.21" rx="1.12" ry="0.83" fill="#0303a2"/>
<ellipse cx="53.41" cy="8.02" rx="1.15" ry="0.96" fill="#010175"/>
<ellipse cx="17.64" cy="52.32" rx="1.51" ry="1.2" fill="#0707c9"/>
<ellipse cx="118.62" cy="66.9" rx="1.57" ry="1.37" fill="#0808db"/>
<ellipse cx="104.6" cy="4.26" rx="1.45" ry="1.23" fill="#0909e1"/>
<ellipse cx="31.9" cy="37.98" rx="1.54" ry="1.41" fill="#0707d3"/>
<ellipse cx="3" cy="40.08" rx="1.44" ry="1.11" fill="#0404ab"/>
<ellipse cx="72.98" cy="89.21" rx="1.12" ry="0.91" fill="#00005e"/>
<ellipse cx="98.68" cy="3.62" rx="1.53" ry="1.15" fill="#010172"/>
<ellipse cx="33.59" cy="82.6" rx="1.12" ry="0.94" fill="#01017a"/>
<ellipse cx="29.92" cy="0.87" rx="1.05" ry="0.85" fill="#0707d1"/>
<ellipse cx="111.34" cy="19.66" rx="1.08" ry="0.88" fill="#020283"/>
<ellipse cx="44.61" cy="2.95" rx="1.29" ry="1.18" fill="#01016a"/>
<ellipse cx="24.39" cy="9.58" rx="1.29" ry="1.26" fill="#0505b9"/>
<ellipse cx="64.3" cy="50.98" rx="1.59" ry="1.54" fill="#000062"/>
<ellipse cx="45.07" cy="67.24" rx="1.51" ry="1.27" fill="#0909e5"/>
<ellipse cx="119.98" cy="68.05" rx="1.31" ry="1.06" fill="#030394"/>
<ellipse cx="11.02" cy="87.65" rx="1.1" ry="1.08" fill="#0505b8"/>
<ellipse cx="51.37" cy="20.14" rx="1.14" ry="0.89" fill="#0707d3"/>
<ellipse cx="39.76" cy="30.34" rx="1.14" ry="1.01" fill="#03039d"/>
<ellipse cx="113.15" cy="31.17" rx="1.17" ry="0.84" fill="#0808de"/>
<ellipse cx="111.96" cy="51.16" rx="1.1" ry="1.02" fill="#0707ce"/>
<ellipse cx="101.84" cy="23.49" rx="1" ry="0.74" fill="#0505b4"/>
<ellipse cx="50.34" cy="65.92" rx="1.17" ry="1.14" fill="#0808da"/>
<ellipse cx="48.22" cy="61.48" rx="1.45" ry="1.14" fill="#01016a"/>
<ellipse cx="39.88" cy="33.43" rx="1.33" ry="1.25" fill="#0606c6"/>
<ellipse cx="107.05" cy="48.63" rx="1.33" ry="1.3" fill="#02028a"/>
<ellipse cx="118.38" cy="51.31" rx="1.38" ry="1.35" fill="#0404a7"/>
<ellipse cx="77.89" cy="81.61" rx="1.52" ry="1.22" fill="#000067"/>
<ellipse cx="21.11" cy="77.43" rx="1.13" ry="0.93" fill="#0606c2"/>
<ellipse cx="107.45" cy="65.4" rx="1.19" ry="0.85" fill="#0505b2"/>
<ellipse cx="101.18" cy="77.13" rx="1.37" ry="1.25" fill="#0808d7"/>
<ellipse cx="75.77" cy="8.58" rx="1.18" ry="1.02" fill="#010175"/>
<ellipse cx="52.94" cy="12.06" rx="1.58" ry="1.51" fill="#0707d1"/>
<ellipse cx="10.95" cy="39.95" rx="1.44" ry="1.23" fill="#0505bd"/>
<ellipse cx="93.59" cy="53.92" rx="1.55" ry="1.39" fill="#02028c"/>
<ellipse cx="19.78" cy="59.36" rx="1.4" ry="1.28" fill="#0707cc"/>
<ellipse cx="105.23" cy="50.5" rx="1.56" ry="1.45" fill="#010170"/>
<ellipse cx="11.75" cy="28.83" rx="1.27" ry="1.11" fill="#01016b"/>
<ellipse cx="28.99" cy="3.1" rx="1.31" ry="1.25" fill="#010169"/>
<ellipse cx="83.42" cy="72.88" rx="1.28" ry="1.19" fill="#00005c"/>
<ellipse cx="110.87" cy="88.56" rx="1.11" ry="0.81" fill="#00005d"/>
<ellipse cx="48.27" cy="16.29" rx="1.25" ry="1.18" fill="#0505ba"/>
<ellipse cx="82.48" cy="22.9" rx="1.16" ry="0.95" fill="#0707ca"/>
<ellipse cx="116.29" cy="80.78" rx="1.33" ry="1.32" fill="#020286"/>
<ellipse cx="43.55" cy="60.67" rx="1.11" ry="1.05" fill="#03039b"/>
<ellipse cx="62.69" cy="32.23" rx="1.41" ry="1.28" fill="#0707d0"/>
<ellipse cx="81.18" cy="78.68" rx="1" ry="0.82" fill="#0404aa"/>
<ellipse cx="119.18" cy="11.54" rx="1.1" ry="0.86" fill="#01016a"/>
<ellipse cx="92.36" cy="0.32" rx="1.2" ry="0.88" fill="#0404ab"/>
<ellipse cx="26.11" cy="46.64" rx="1.49" ry="1.24" fill="#0505b9"/>
<ellipse cx="17.38" cy="71.68" rx="1.28" ry="0.98" fill="#030399"/>
<ellipse cx="114.99" cy="62.02" rx="1.53" ry="1.24" fill="#0707cd"/>
<ellipse cx="97.99" cy="74.17" rx="1.59" ry="1.24" fill="#0909e0"/>
<ellipse cx="56.39" cy="73.86" rx="1.09" ry="1.08" fill="#0404a9"/>
<ellipse cx="87.47" cy="87.13" rx="1.36" ry="1.09" fill="#01016f"/>
<ellipse cx="42.54" cy="85.88" rx="1.26" ry="0.97" fill="#020290"/>
<ellipse cx="87.43" cy="4.16" rx="1.46" ry="1.06" fill="#03039d"/>
<ellipse cx="26.39" cy="45.23" rx="1.48" ry="1.47" fill="#0404aa"/>
<ellipse cx="109.64" cy="61.56" rx="1.56" ry="1.38" fill="#0909e4"/>
<ellipse cx="42.48" cy="32.51" rx="1.45" ry="1.33" fill="#030396"/>
<ellipse cx="10.45" cy="82.87" rx="1.03" ry="0.99" fill="#010172"/>
<ellipse cx="88.45" cy="56.65" rx="1.43" ry="1.18" fill="#0808d4"/>
<ellipse cx="6.35" cy="14.35" rx="1.09" ry="0.97" fill="#0909e2"/>
<ellipse cx="101.88" cy="20.3" rx="1.51" ry="1.43" fill="#0909e0"/>
<ellipse cx="29.51" cy="45.25" rx="1.34" ry="1.07" fill="#000065"/>
<ellipse cx="25.98" cy="28.39" rx="1.02" ry="0.79" fill="#0505b5"/>
<ellipse cx="75.08" cy="6.66" rx="1.04" ry="0.79" fill="#000065"/>
<ellipse cx="89.65" cy="38.67" rx="1.11" ry="0.91" fill="#01017f"/>
<ellipse cx="119.18" cy="73.83" rx="1.2" ry="1.02" fill="#020281"/>
<ellipse cx="29.55" cy="69.98" rx="1.5" ry="1.43" fill="#0404ac"/>
<ellipse cx="77.38" cy="4.63" rx="1.14" ry="1.1" fill="#02028e"/>
<ellipse cx="61.21" cy="78.57" rx="1.6" ry="1.53" fill="#0505b2"/>
<ellipse cx="83.41" cy="11.78" rx="1.26" ry="0.94" fill="#0909e2"/>
<ellipse cx="114.12" cy="18.55" rx="1.51" ry="1.44" fill="#0808d7"/>
<ellipse cx="79.91" cy="4.77" rx="1.1" ry="0.99" fill="#010179"/>
<ellipse cx="8.26" cy="83.31" rx="1.07" ry="0.92" fill="#0404a6"/>
<ellipse cx="98.82" cy="10.04" rx="1.3" ry="1.17" fill="#0505b3"/>
<ellipse cx="110.94" cy="56.09" rx="1.3" ry="1.2" fill="#0909e0"/>
<ellipse cx="102.62" cy="71.12" rx="1.24" ry="1.05" fill="#000065"/>
<ellipse cx="17.25" cy="8.94" rx="1.54" ry="1.27" fill="#020290"/>
<ellipse cx="121.21" cy="74.27" rx="1.52" ry="1.12" fill="#03039c"/>
<ellipse cx="67.91" cy="47.29" rx="1" ry="0.87" fill="#0707cc"/>
<ellipse cx="41.07" cy="30.15" rx="1.02" ry="0.79" fill="#03039d"/>
<ellipse cx="29.62" cy="46.97" rx="1.38" ry="1.01" fill="#0505b7"/>
<ellipse cx="85.73" cy="72.68" rx="1.07" ry="0.88" fill="#0505bb"/>
<ellipse cx="84.82" cy="33.46" rx="1.26" ry="1.23" fill="#000067"/>
<ellipse cx="113.39" cy="75.57" rx="1.11" ry="0.85" fill="#0707ca"/>
<ellipse cx="74.77" cy="87.54" rx="1.34" ry="1.08" fill="#0909e2"/>
<ellipse cx="92.07" cy="84.14" rx="1.11" ry="1.03" fill="#0303a1"/>
<ellipse cx="106.87" cy="27.78" rx="1.18" ry="0.94" fill="#030397"/>
<ellipse cx="67.96" cy="68.83" rx="1.37" ry="1.34" fill="#0707cd"/>
<ellipse cx="109.85" cy="21.33" rx="1.38" ry="1.2" fill="#0909e4"/>
<ellipse cx="66.22" cy="32.1" rx="1.02" ry="0.98" fill="#02028a"/>
<ellipse cx="85.66" cy="37.35" rx="1.49" ry="1.45" fill="#020285"/>
<ellipse cx="35.43" cy="18.93" rx="1.15" ry="1.07" fill="#020284"/>
<ellipse cx="115.61" cy="11.74" rx="1.17" ry="0.94" fill="#0505b4"/>
<ellipse cx="67.47" cy="25.68" rx="1.18" ry="1.08" fill="#03039e"/>
<ellipse cx="39.84" cy="23.59" rx="1.41" ry="1.05" fill="#0404a5"/>
<ellipse cx="94.21" cy="75.25" rx="1.21" ry="0.95" fill="#0404a4"/>
<ellipse cx="52.21" cy="56.2" rx="1.19" ry="0.86" fill="#0707d1"/>
<ellipse cx="74.26" cy="7.6" rx="1.23" ry="0.87" fill="#010173"/>
<ellipse cx="95.36" cy="50.96" rx="1.57" ry="1.19" fill="#020283"/>
<ellipse cx="47.02" cy="61.01" rx="1.02" ry="0.81" fill="#0707c9"/>
<ellipse cx="27.37" cy="67.19" rx="1.3" ry="1.17" fill="#0808d9"/>
<ellipse cx="104.42" cy="61.85" rx="1.35" ry="1.06" fill="#0404a5"/>
<ellipse cx="35.38" cy="87.91" rx="1.11" ry="1.03" fill="#02028e"/>
<ellipse cx="42.6" cy="75.71" rx="1.03" ry="0.78" fill="#0909e1"/>
<ellipse cx="51.56" cy="87.27" rx="1.46" ry="1.26" fill="#010175"/>
<ellipse cx="82.98" cy="30.31" rx="1.13" ry="1.08" fill="#010171"/>
<ellipse cx="30.56" cy="15.42" rx="1.32" ry="1.25" fill="#0505b3"/>
<ellipse cx="84.32" cy="55.85" rx="1.19" ry="1.13" fill="#0707c9"/>
<ellipse cx="40.16" cy="17.36" rx="1" ry="0.93" fill="#0303a0"/>
<ellipse cx="119.03" cy="45.45" rx="1.48" ry="1.24" fill="#0505b5"/>
<ellipse cx="97.16" cy="60.68" rx="1.26" ry="1.11" fill="#000064"/>
<ellipse cx="61.32" cy="35.06" rx="1.04" ry="0.88" fill="#020293"/>
<ellipse cx="83.63" cy="8.95" rx="1.16" ry="1.15" fill="#020282"/>
<ellipse cx="100.07" cy="69.21" rx="1.53" ry="1.43" fill="#01017f"/>
<ellipse cx="4.66" cy="69.24" rx="1.5" ry="1.29" fill="#0505b7"/>
<ellipse cx="48.97" cy="22.23" rx="1.39" ry="1.2" fill="#010172"/>
<ellipse cx="42.29" cy="65.96" rx="1.1" ry="0.8" fill="#020281"/>
<ellipse cx="70.11" cy="59.36" rx="1.08" ry="1.07" fill="#020281"/>
<ellipse cx="96.85" cy="69.36" rx="1.33" ry="1.01" fill="#000063"/>
<ellipse cx="116.78" cy="52.99" rx="1.11" ry="0.94" fill="#0303a0"/>
<ellipse cx="109.84" cy="25.65" rx="1.26" ry="1.01" fill="#0505ba"/>
<ellipse cx="27.64" cy="48.51" rx="1.49" ry="1.13" fill="#01016d"/>
<ellipse cx="8.19" cy="30.11" rx="1.14" ry="0.92" fill="#000064"/>
<ellipse cx="41.36" cy="62.82" rx="1.3" ry="0.94" fill="#0505b3"/>
<ellipse cx="60.54" cy="78.65" rx="1.51" ry="1.08" fill="#02028f"/>
<ellipse cx="9.58" cy="47.53" rx="1.39" ry="1.01" fill="#010171"/>
<ellipse cx="10.4" cy="1.45" rx="1.39" ry="1.36" fill="#01017a"/>
<ellipse cx="71.43" cy="24.67" rx="1.55" ry="1.37" fill="#020289"/>
<ellipse cx="7.02" cy="11.16" rx="1.23" ry="1.15" fill="#0606bf"/>
<ellipse cx="38.04" cy="86.78" rx="1.35" ry="1.27" fill="#00005d"/>
<ellipse cx="76.74" cy="73.87" rx="1.45" ry="1.12" fill="#010175"/>
<ellipse cx="87.98" cy="8.73" rx="1.04" ry="0.8" fill="#0808d7"/>
<ellipse cx="23.29" cy="84.16" rx="1.41" ry="1.26" fill="#01017e"/>
<ellipse cx="22.29" cy="4.17" rx="1.21" ry="1.06" fill="#0606c4"/>
<ellipse cx="62.74" cy="25.78" rx="1.22" ry="1.08" fill="#0707ca"/>
<ellipse cx="96.61" cy="60.98" rx="1.37" ry="1.17" fill="#0707cc"/>
<ellipse cx="99.17" cy="28.63" rx="1.57" ry="1.3" fill="#020287"/>
<ellipse cx="61.62" cy="77.82" rx="1.56" ry="1.39" fill="#0404a3"/>
<ellipse cx="14.64" cy="59.29" rx="1.47" ry="1.43" fill="#01016a"/>
<ellipse cx="32.14" cy="32.43" rx="1.39" ry="1.17" fill="#0707d0"/>
<ellipse cx="101.02" cy="27.21" rx="1.19" ry="1.06" fill="#030394"/>
<ellipse cx="83.54" cy="55.4" rx="1.31" ry="1.25" fill="#020287"/>
<ellipse cx="57.89" cy="64.35" rx="1.54" ry="1.37" fill="#020290"/>
<ellipse cx="83.87" cy="67.32" rx="1.33" ry="1.17" fill="#0505b6"/>
<ellipse cx="0.4" cy="44.11" rx="1.23" ry="1.03" fill="#0606c2"/>
<ellipse cx="23.84" cy="54.25" rx="1.36" ry="1.24" fill="#0606c3"/>
<ellipse cx="107.28" cy="65.89" rx="1.54" ry="1.32" fill="#0404b0"/>
<ellipse cx="87.59" cy="65.03" rx="1.01" ry="0.93" fill="#02028f"/>
<ellipse cx="107.1" cy="57.94" rx="1.13" ry="0.79" fill="#01016e"/>
<ellipse cx="82.87" cy="38.39" rx="1.26" ry="0.9" fill="#010180"/>
<ellipse cx="8.24" cy="66.29" rx="1" ry="0.98" fill="#0808d9"/>
<ellipse cx="44.27" cy="20" rx="1.1" ry="0.8" fill="#000066"/>
<ellipse cx="99.41" cy="74.68" rx="1.39" ry="1.02" fill="#030393"/>
<ellipse cx="72.26" cy="65.4" rx="1.31" ry="1.24" fill="#0505b9"/>
<ellipse cx="40.92" cy="1.84" rx="1.18" ry="0.97" fill="#0707ce"/>
<ellipse cx="42.6" cy="88.79" rx="1.12" ry="0.92" fill="#020289"/>
<ellipse cx="34.76" cy="41.03" rx="1.26" ry="1.05" fill="#0707ca"/>
<ellipse cx="53.76" cy="26.11" rx="1.28" ry="1.01" fill="#0707cc"/>
<ellipse cx="47.12" cy="86.62" rx="1.6" ry="1.39" fill="#0808d5"/>
<ellipse cx="105.18" cy="51.3" rx="1.58" ry="1.25" fill="#010172"/>
<ellipse cx="118.51" cy="82.22" rx="1.33" ry="1.15" fill="#0505b3"/>
<ellipse cx="26.89" cy="7.63" rx="1.1" ry="0.79" fill="#010174"/>
<ellipse cx="78.2" cy="2.86" rx="1.2" ry="0.96" fill="#0808db"/>
<ellipse cx="96.2" cy="42.38" rx="1.38" ry="1.2" fill="#000061"/>
<ellipse cx="108.96" cy="29.7" rx="1.32" ry="1.25" fill="#0404a6"/>
<ellipse cx="27.68" cy="62.34" rx="1.14" ry="1.14" fill="#010180"/>
<ellipse cx="83.5" cy="1.53" rx="1.07" ry="1.01" fill="#0505b6"/>
<ellipse cx="49.62" cy="65.65" rx="1.19" ry="1.17" fill="#0505b6"/>
<ellipse cx="52.84" cy="71.16" rx="1.14" ry="1.14" fill="#0404af"/>
<ellipse cx="62.01" cy="57.98" rx="1.26" ry="1.21" fill="#0808d6"/>
<ellipse cx="66.19" cy="6.94" rx="1.43" ry="1.3" fill="#01017c"/>
<ellipse cx="100.57" cy="37.62" rx="1.3" ry="0.99" fill="#0505b4"/>
<ellipse cx="69.59" cy="30.49" rx="1.23" ry="0.89" fill="#0404a5"/>
<ellipse cx="20.67" cy="37.14" rx="1.16" ry="0.99" fill="#0808d5"/>
<ellipse cx="30.31" cy="24.68" rx="1.55" ry="1.45" fill="#0303a2"/>
<ellipse cx="86.46" cy="25.83" rx="1.16" ry="0.83" fill="#020284"/>
<ellipse cx="53.71" cy="84.66" rx="1.53" ry="1.53" fill="#030396"/>
<ellipse cx="101.96" cy="68.69" rx="1.09" ry="0.81" fill="#01017c"/>
<ellipse cx="115.05" cy="87.09" rx="1.01" ry="0.98" fill="#000066"/>
<ellipse cx="92.4" cy="78.01" rx="1.14" ry="0.97" fill="#020290"/>
<ellipse cx="120.72" cy="86.37" rx="1.5" ry="1.31" fill="#01016d"/>
<ellipse cx="75.98" cy="68.7" rx="1.42" ry="1.41" fill="#0303a1"/>
<ellipse cx="28.49" cy="15" rx="1.38" ry="1.26" fill="#02028c"/>
<ellipse cx="22.97" cy="85.92" rx="1.47" ry="1.27" fill="#0303a0"/>
<ellipse cx="85.39" cy="4.94" rx="1.09" ry="0.88" fill="#010179"/>
<ellipse cx="40.78" cy="22.75" rx="1.19" ry="1.05" fill="#01017a"/>
<ellipse cx="84.63" cy="61.67" rx="1.18" ry="0.94" fill="#0404ac"/>
<ellipse cx="69.53" cy="3.31" rx="1.42" ry="1.05" fill="#0606c3"/>
</g>
<g filter="url(#bl4)" fill="#000" opacity=".85">
<circle cx="73.4" cy="20.36" r="0.4"/>
<circle cx="28.75" cy="24.15" r="0.6"/>
<circle cx="38.69" cy="2.26" r="0.64"/>
<circle cx="40.6" cy="4.11" r="0.49"/>
<circle cx="56.93" cy="38.95" r="0.6"/>
<circle cx="41.61" cy="23.87" r="0.58"/>
<circle cx="104.83" cy="43.21" r="0.55"/>
<circle cx="10.25" cy="54.94" r="0.38"/>
<circle cx="12.35" cy="89.24" r="0.68"/>
<circle cx="40.99" cy="25.86" r="0.63"/>
<circle cx="110.68" cy="65.53" r="0.55"/>
<circle cx="96.5" cy="66.3" r="0.7"/>
<circle cx="56.37" cy="83.42" r="0.65"/>
<circle cx="104.62" cy="28.16" r="0.4"/>
<circle cx="96.38" cy="88.54" r="0.66"/>
<circle cx="39.01" cy="5.12" r="0.44"/>
<circle cx="40.24" cy="48.49" r="0.36"/>
<circle cx="27.23" cy="47.14" r="0.37"/>
<circle cx="111.18" cy="53.37" r="0.62"/>
<circle cx="16.38" cy="53.04" r="0.5"/>
<circle cx="36.77" cy="88.51" r="0.51"/>
<circle cx="74.96" cy="35.63" r="0.58"/>
<circle cx="81.12" cy="67.7" r="0.59"/>
<circle cx="43.55" cy="56.18" r="0.69"/>
<circle cx="1.02" cy="27.77" r="0.39"/>
<circle cx="89.36" cy="67.69" r="0.69"/>
<circle cx="85.62" cy="47.67" r="0.57"/>
<circle cx="1.66" cy="69.61" r="0.66"/>
<circle cx="30.46" cy="84.98" r="0.52"/>
<circle cx="87.75" cy="64.66" r="0.52"/>
<circle cx="73.89" cy="58.07" r="0.45"/>
<circle cx="109.56" cy="23.92" r="0.43"/>
<circle cx="84.57" cy="84.9" r="0.54"/>
<circle cx="30.29" cy="35.11" r="0.48"/>
<circle cx="36.67" cy="44.92" r="0.69"/>
<circle cx="87.97" cy="54.72" r="0.49"/>
<circle cx="104.74" cy="56.05" r="0.68"/>
<circle cx="31.02" cy="47.14" r="0.47"/>
<circle cx="77.56" cy="84.04" r="0.35"/>
<circle cx="75.8" cy="17.77" r="0.43"/>
<circle cx="69.53" cy="13.79" r="0.6"/>
<circle cx="85.22" cy="23.71" r="0.4"/>
<circle cx="88.57" cy="80.85" r="0.52"/>
<circle cx="38.53" cy="48.75" r="0.64"/>
<circle cx="109.65" cy="42.39" r="0.5"/>
<circle cx="75.32" cy="6.13" r="0.48"/>
<circle cx="48.9" cy="8.24" r="0.58"/>
<circle cx="68.12" cy="0.54" r="0.56"/>
<circle cx="85.52" cy="73.47" r="0.7"/>
<circle cx="90.83" cy="9.43" r="0.65"/>
<circle cx="100.84" cy="61.1" r="0.59"/>
<circle cx="39.52" cy="3.09" r="0.64"/>
<circle cx="7.52" cy="16.51" r="0.63"/>
<circle cx="48.55" cy="33.19" r="0.67"/>
<circle cx="15.87" cy="86.4" r="0.4"/>
<circle cx="101.65" cy="36.04" r="0.49"/>
<circle cx="69.13" cy="52.05" r="0.38"/>
<circle cx="32.82" cy="57.93" r="0.37"/>
<circle cx="42.32" cy="23.67" r="0.53"/>
<circle cx="93.9" cy="10.77" r="0.43"/>
<circle cx="0.32" cy="21.73" r="0.46"/>
<circle cx="61.63" cy="51.2" r="0.39"/>
<circle cx="9.61" cy="67.41" r="0.68"/>
<circle cx="63.49" cy="35.59" r="0.48"/>
<circle cx="22.32" cy="42.52" r="0.64"/>
<circle cx="47.54" cy="87.17" r="0.51"/>
<circle cx="32" cy="8.62" r="0.42"/>
<circle cx="48.48" cy="36" r="0.41"/>
<circle cx="112.75" cy="83.11" r="0.69"/>
<circle cx="15.89" cy="69.43" r="0.65"/>
<circle cx="110.41" cy="26.36" r="0.69"/>
<circle cx="15.7" cy="48.04" r="0.36"/>
<circle cx="20.17" cy="4.69" r="0.57"/>
<circle cx="84.62" cy="10.47" r="0.55"/>
<circle cx="52.41" cy="80.09" r="0.64"/>
<circle cx="50.69" cy="36.75" r="0.62"/>
<circle cx="48.22" cy="6.08" r="0.62"/>
<circle cx="87.23" cy="3.09" r="0.4"/>
<circle cx="20.5" cy="49.21" r="0.66"/>
<circle cx="117.64" cy="21.26" r="0.57"/>
<circle cx="55.65" cy="68.6" r="0.43"/>
<circle cx="45.78" cy="58.79" r="0.46"/>
<circle cx="114.33" cy="19.87" r="0.69"/>
<circle cx="0.91" cy="82.29" r="0.49"/>
<circle cx="79.74" cy="49.34" r="0.64"/>
<circle cx="111.77" cy="68.46" r="0.46"/>
<circle cx="35.04" cy="64.94" r="0.69"/>
<circle cx="87.25" cy="4.71" r="0.51"/>
<circle cx="47.28" cy="0.98" r="0.53"/>
<circle cx="63.08" cy="73.44" r="0.68"/>
<circle cx="80.86" cy="84.14" r="0.63"/>
<circle cx="30.23" cy="75.6" r="0.6"/>
<circle cx="0.37" cy="66.34" r="0.44"/>
<circle cx="101.22" cy="85.15" r="0.36"/>
<circle cx="9.89" cy="87.1" r="0.36"/>
<circle cx="90.03" cy="5.29" r="0.42"/>
<circle cx="37.91" cy="38.58" r="0.6"/>
<circle cx="96.49" cy="6.96" r="0.46"/>
<circle cx="79.76" cy="37.05" r="0.51"/>
<circle cx="16.35" cy="63.01" r="0.39"/>
<circle cx="29.33" cy="61.38" r="0.49"/>
<circle cx="72.39" cy="24.06" r="0.65"/>
<circle cx="24.76" cy="24.5" r="0.6"/>
<circle cx="6.67" cy="61.31" r="0.58"/>
<circle cx="105.89" cy="5.71" r="0.66"/>
<circle cx="86.43" cy="12.03" r="0.41"/>
<circle cx="96.64" cy="83.35" r="0.48"/>
<circle cx="81.05" cy="24.87" r="0.52"/>
<circle cx="53.27" cy="26.97" r="0.4"/>
<circle cx="1.97" cy="21.32" r="0.47"/>
<circle cx="105.66" cy="26.38" r="0.54"/>
<circle cx="45.55" cy="45.66" r="0.37"/>
<circle cx="69.56" cy="57.64" r="0.61"/>
<circle cx="111.84" cy="67.98" r="0.63"/>
<circle cx="91.58" cy="85.89" r="0.53"/>
<circle cx="31.77" cy="12.62" r="0.46"/>
<circle cx="95.62" cy="72.9" r="0.39"/>
<circle cx="117.08" cy="85.19" r="0.62"/>
<circle cx="94.65" cy="29.72" r="0.67"/>
<circle cx="30.32" cy="68.17" r="0.56"/>
<circle cx="97.23" cy="1.86" r="0.41"/>
<circle cx="13.12" cy="48.7" r="0.65"/>
<circle cx="92.22" cy="2.45" r="0.64"/>
<circle cx="29.32" cy="42.54" r="0.65"/>
<circle cx="106.1" cy="6.63" r="0.47"/>
<circle cx="7.17" cy="54.64" r="0.61"/>
<circle cx="48.73" cy="64.15" r="0.64"/>
<circle cx="72.57" cy="22.91" r="0.67"/>
<circle cx="78.42" cy="40.53" r="0.45"/>
<circle cx="63.65" cy="13.31" r="0.68"/>
<circle cx="59.62" cy="47.19" r="0.63"/>
<circle cx="66.05" cy="33.65" r="0.4"/>
<circle cx="49.77" cy="22.39" r="0.55"/>
<circle cx="24.64" cy="32.1" r="0.54"/>
<circle cx="54.44" cy="61.05" r="0.58"/>
<circle cx="110.77" cy="30.91" r="0.58"/>
<circle cx="87.5" cy="31.61" r="0.67"/>
<circle cx="88.75" cy="8.6" r="0.55"/>
<circle cx="78.75" cy="41.95" r="0.69"/>
<circle cx="54.9" cy="81.52" r="0.69"/>
<circle cx="4.16" cy="68.88" r="0.51"/>
<circle cx="36.11" cy="69.13" r="0.49"/>
<circle cx="104.91" cy="34.4" r="0.58"/>
<circle cx="64.34" cy="82.94" r="0.39"/>
<circle cx="28.89" cy="72.02" r="0.4"/>
<circle cx="58.15" cy="86.56" r="0.63"/>
<circle cx="50.32" cy="53.53" r="0.49"/>
<circle cx="6.21" cy="65.23" r="0.62"/>
<circle cx="27.55" cy="52.39" r="0.55"/>
<circle cx="109.52" cy="46.73" r="0.69"/>
<circle cx="22.03" cy="15.01" r="0.38"/>
<circle cx="10.31" cy="56.66" r="0.63"/>
<circle cx="39" cy="31" r="0.39"/>
<circle cx="14.64" cy="42.66" r="0.45"/>
<circle cx="89.16" cy="35.78" r="0.55"/>
<circle cx="27.16" cy="6.2" r="0.43"/>
<circle cx="105.96" cy="82.79" r="0.41"/>
<circle cx="12.4" cy="78.64" r="0.38"/>
<circle cx="24.99" cy="69.55" r="0.41"/>
<circle cx="3.87" cy="12.82" r="0.62"/>
<circle cx="97.04" cy="83.46" r="0.41"/>
<circle cx="116.21" cy="34.35" r="0.5"/>
<circle cx="78.12" cy="16.46" r="0.52"/>
<circle cx="44.69" cy="7.03" r="0.48"/>
<circle cx="117.27" cy="55.57" r="0.43"/>
<circle cx="37.54" cy="74.97" r="0.38"/>
<circle cx="21.35" cy="62.5" r="0.41"/>
<circle cx="21.18" cy="86.86" r="0.48"/>
<circle cx="61.76" cy="65.6" r="0.68"/>
<circle cx="63.24" cy="9.73" r="0.42"/>
<circle cx="107.04" cy="4.08" r="0.37"/>
<circle cx="108.66" cy="15.6" r="0.5"/>
<circle cx="62.66" cy="52.23" r="0.46"/>
<circle cx="64.56" cy="63.29" r="0.47"/>
<circle cx="41.18" cy="58.1" r="0.54"/>
<circle cx="98.6" cy="30.89" r="0.41"/>
<circle cx="80.03" cy="32.42" r="0.35"/>
<circle cx="52.88" cy="5.5" r="0.56"/>
<circle cx="42.7" cy="31.18" r="0.36"/>
<circle cx="101.43" cy="28.68" r="0.37"/>
<circle cx="75.92" cy="22.32" r="0.4"/>
<circle cx="37.17" cy="72.64" r="0.58"/>
<circle cx="50.38" cy="46.18" r="0.51"/>
<circle cx="86.13" cy="76.82" r="0.39"/>
<circle cx="8.99" cy="18.44" r="0.68"/>
<circle cx="31.02" cy="29.11" r="0.65"/>
<circle cx="114.04" cy="14.02" r="0.57"/>
<circle cx="36.68" cy="79.58" r="0.51"/>
<circle cx="4.87" cy="47.84" r="0.4"/>
<circle cx="41.08" cy="51.02" r="0.64"/>
<circle cx="32.02" cy="87.89" r="0.44"/>
<circle cx="53.08" cy="28.58" r="0.66"/>
<circle cx="24.45" cy="55.04" r="0.4"/>
<circle cx="98.92" cy="59.16" r="0.48"/>
<circle cx="42.74" cy="31.23" r="0.44"/>
<circle cx="60.56" cy="0.69" r="0.46"/>
<circle cx="94.43" cy="21.68" r="0.67"/>
<circle cx="77.22" cy="23.4" r="0.67"/>
<circle cx="105.21" cy="50.44" r="0.44"/>
<circle cx="75.27" cy="51.74" r="0.46"/>
<circle cx="10.63" cy="74.21" r="0.45"/>
<circle cx="83.76" cy="24.87" r="0.57"/>
<circle cx="92.54" cy="86.4" r="0.64"/>
<circle cx="70.75" cy="0.66" r="0.42"/>
<circle cx="117.38" cy="72.27" r="0.39"/>
<circle cx="8.74" cy="30.5" r="0.42"/>
<circle cx="71.49" cy="36.29" r="0.43"/>
<circle cx="78.87" cy="54.22" r="0.64"/>
<circle cx="102.25" cy="55.88" r="0.66"/>
<circle cx="50.93" cy="16.86" r="0.42"/>
<circle cx="106.1" cy="21.04" r="0.5"/>
<circle cx="74.68" cy="62.98" r="0.6"/>
<circle cx="121.6" cy="0.86" r="0.5"/>
<circle cx="72.44" cy="61.67" r="0.4"/>
<circle cx="118.41" cy="34.37" r="0.65"/>
<circle cx="27.8" cy="79.16" r="0.49"/>
<circle cx="79.12" cy="88.41" r="0.56"/>
<circle cx="12.09" cy="52.34" r="0.54"/>
<circle cx="16.68" cy="23.65" r="0.52"/>
<circle cx="81.44" cy="38.75" r="0.54"/>
<circle cx="93.17" cy="20.62" r="0.37"/>
<circle cx="9.9" cy="75.08" r="0.67"/>
<circle cx="61.85" cy="35.21" r="0.61"/>
<circle cx="75.02" cy="46.67" r="0.52"/>
<circle cx="115.5" cy="51.6" r="0.65"/>
<circle cx="101.37" cy="4.81" r="0.55"/>
<circle cx="42.75" cy="14.78" r="0.54"/>
<circle cx="25.57" cy="44.02" r="0.44"/>
<circle cx="92.57" cy="61.64" r="0.38"/>
<circle cx="56.76" cy="23.86" r="0.38"/>
<circle cx="87.16" cy="74.02" r="0.44"/>
<circle cx="76.16" cy="78.06" r="0.52"/>
<circle cx="39.07" cy="5.76" r="0.36"/>
<circle cx="101" cy="44.3" r="0.45"/>
<circle cx="103.25" cy="41.11" r="0.53"/>
<circle cx="33.75" cy="84.79" r="0.42"/>
<circle cx="13.76" cy="31.45" r="0.64"/>
<circle cx="22.5" cy="2.95" r="0.46"/>
<circle cx="116.88" cy="24.8" r="0.63"/>
<circle cx="111.89" cy="29.85" r="0.48"/>
<circle cx="100.33" cy="35.93" r="0.39"/>
<circle cx="9.56" cy="89.2" r="0.44"/>
<circle cx="25.92" cy="82.63" r="0.39"/>
<circle cx="0.34" cy="37.15" r="0.56"/>
<circle cx="95.85" cy="54.27" r="0.4"/>
<circle cx="57.37" cy="62.73" r="0.68"/>
<circle cx="86.14" cy="60.48" r="0.52"/>
<circle cx="7.38" cy="50.48" r="0.64"/>
<circle cx="100.55" cy="56.33" r="0.58"/>
<circle cx="87.44" cy="23.33" r="0.61"/>
<circle cx="19.67" cy="74.67" r="0.53"/>
<circle cx="87.48" cy="57.6" r="0.41"/>
<circle cx="24.63" cy="18.94" r="0.42"/>
<circle cx="96.04" cy="53.98" r="0.64"/>
<circle cx="4.66" cy="73.99" r="0.58"/>
<circle cx="71.94" cy="68.7" r="0.5"/>
<circle cx="38.88" cy="87.01" r="0.66"/>
<circle cx="39.98" cy="80.06" r="0.64"/>
<circle cx="14.29" cy="55.43" r="0.43"/>
<circle cx="41.8" cy="62.86" r="0.51"/>
<circle cx="73.73" cy="30.02" r="0.45"/>
<circle cx="94.22" cy="64.62" r="0.45"/>
<circle cx="44.36" cy="47.18" r="0.47"/>
<circle cx="89.44" cy="80.75" r="0.46"/>
<circle cx="81.25" cy="49.58" r="0.36"/>
<circle cx="28.66" cy="78.36" r="0.38"/>
<circle cx="118.7" cy="6.95" r="0.61"/>
<circle cx="22.52" cy="13.29" r="0.66"/>
<circle cx="113.66" cy="33.92" r="0.62"/>
<circle cx="101.99" cy="32.14" r="0.37"/>
<circle cx="47.69" cy="66.4" r="0.37"/>
<circle cx="11.64" cy="21.57" r="0.35"/>
<circle cx="16.78" cy="0.42" r="0.57"/>
<circle cx="10.06" cy="11.5" r="0.64"/>
<circle cx="71.89" cy="28.91" r="0.52"/>
<circle cx="19.43" cy="88.47" r="0.61"/>
<circle cx="7.6" cy="66.27" r="0.62"/>
<circle cx="72.85" cy="85.79" r="0.49"/>
<circle cx="29.98" cy="46.35" r="0.37"/>
<circle cx="106.47" cy="77.82" r="0.63"/>
<circle cx="102.6" cy="67.26" r="0.4"/>
<circle cx="58.3" cy="42.52" r="0.47"/>
<circle cx="93.96" cy="19.12" r="0.5"/>
<circle cx="14.12" cy="48.09" r="0.59"/>
<circle cx="101.76" cy="68.91" r="0.58"/>
<circle cx="95.86" cy="59.61" r="0.63"/>
<circle cx="90.6" cy="65.65" r="0.38"/>
<circle cx="7.82" cy="87.37" r="0.49"/>
<circle cx="76.95" cy="42.75" r="0.58"/>
<circle cx="46.93" cy="23.48" r="0.6"/>
<circle cx="83.16" cy="0.14" r="0.69"/>
<circle cx="25.18" cy="67.88" r="0.61"/>
<circle cx="79.69" cy="26.5" r="0.67"/>
<circle cx="96.44" cy="68.34" r="0.53"/>
<circle cx="24.7" cy="32.99" r="0.42"/>
<circle cx="81.03" cy="59.88" r="0.53"/>
<circle cx="7.74" cy="10.01" r="0.55"/>
<circle cx="41.23" cy="5.74" r="0.63"/>
<circle cx="14.18" cy="81.33" r="0.43"/>
<circle cx="30.98" cy="43.78" r="0.68"/>
<circle cx="43.1" cy="3.81" r="0.66"/>
<circle cx="48.44" cy="42.58" r="0.49"/>
<circle cx="99.65" cy="58.62" r="0.64"/>
<circle cx="48.46" cy="16.71" r="0.58"/>
<circle cx="83.87" cy="36.53" r="0.59"/>
<circle cx="25.87" cy="52.82" r="0.46"/>
<circle cx="93.91" cy="42.77" r="0.36"/>
<circle cx="121.03" cy="20.65" r="0.68"/>
<circle cx="8.01" cy="71.33" r="0.46"/>
<circle cx="55.91" cy="77.37" r="0.53"/>
<circle cx="1.36" cy="78.14" r="0.58"/>
<circle cx="60.85" cy="13.9" r="0.54"/>
<circle cx="82.9" cy="84.1" r="0.51"/>
<circle cx="115.58" cy="47.69" r="0.61"/>
<circle cx="39.29" cy="33.94" r="0.42"/>
<circle cx="40.04" cy="15.12" r="0.38"/>
<circle cx="68.1" cy="61.75" r="0.53"/>
<circle cx="115.97" cy="49.6" r="0.7"/>
<circle cx="117.15" cy="17.27" r="0.38"/>
<circle cx="20.88" cy="52.16" r="0.56"/>
<circle cx="9.54" cy="63.74" r="0.6"/>
<circle cx="93.22" cy="26.65" r="0.43"/>
<circle cx="14.19" cy="61.52" r="0.55"/>
<circle cx="81.47" cy="15.68" r="0.38"/>
<circle cx="2.6" cy="81.93" r="0.52"/>
<circle cx="112.48" cy="54.88" r="0.52"/>
<circle cx="9.76" cy="66.65" r="0.64"/>
<circle cx="74.8" cy="12.69" r="0.48"/>
<circle cx="90.83" cy="40.19" r="0.39"/>
<circle cx="86.33" cy="41.87" r="0.46"/>
<circle cx="69.57" cy="83.42" r="0.59"/>
<circle cx="93.77" cy="65.33" r="0.42"/>
<circle cx="53.29" cy="16.4" r="0.59"/>
<circle cx="19.7" cy="5.46" r="0.57"/>
<circle cx="73.13" cy="70.93" r="0.38"/>
<circle cx="111.14" cy="63.56" r="0.66"/>
<circle cx="20.6" cy="76.26" r="0.35"/>
<circle cx="48.55" cy="1.04" r="0.56"/>
<circle cx="89.12" cy="47.88" r="0.67"/>
<circle cx="39.76" cy="29.08" r="0.6"/>
<circle cx="64.05" cy="55.95" r="0.64"/>
<circle cx="58.5" cy="31.02" r="0.66"/>
<circle cx="73.16" cy="42.5" r="0.57"/>
<circle cx="18.22" cy="86.23" r="0.45"/>
<circle cx="52.77" cy="51.69" r="0.41"/>
<circle cx="57.82" cy="12.02" r="0.53"/>
<circle cx="7.88" cy="69.93" r="0.64"/>
<circle cx="47.87" cy="53.18" r="0.41"/>
<circle cx="16.88" cy="19.26" r="0.59"/>
<circle cx="42.8" cy="38.7" r="0.66"/>
<circle cx="85.55" cy="70.54" r="0.47"/>
<circle cx="10.47" cy="41.9" r="0.55"/>
<circle cx="118.48" cy="2.24" r="0.43"/>
<circle cx="5.06" cy="33.2" r="0.66"/>
<circle cx="28.37" cy="60.45" r="0.57"/>
<circle cx="10.93" cy="63.49" r="0.45"/>
<circle cx="45.86" cy="16.14" r="0.51"/>
<circle cx="7.09" cy="63.93" r="0.42"/>
<circle cx="101.52" cy="61.51" r="0.56"/>
<circle cx="6.89" cy="35.29" r="0.46"/>
<circle cx="53.98" cy="29.96" r="0.63"/>
<circle cx="118.95" cy="81.84" r="0.42"/>
<circle cx="76.98" cy="60.06" r="0.63"/>
<circle cx="3.85" cy="43.75" r="0.38"/>
<circle cx="43.44" cy="82.2" r="0.36"/>
<circle cx="99.15" cy="42.14" r="0.44"/>
<circle cx="107.81" cy="43.74" r="0.51"/>
<circle cx="63.77" cy="80.7" r="0.4"/>
<circle cx="15.48" cy="40.72" r="0.67"/>
<circle cx="100.47" cy="9.79" r="0.37"/>
<circle cx="97.58" cy="6.86" r="0.37"/>
<circle cx="108.67" cy="86.22" r="0.54"/>
<circle cx="115.76" cy="5.89" r="0.57"/>
<circle cx="3.72" cy="49.62" r="0.4"/>
<circle cx="100.49" cy="79.34" r="0.5"/>
<circle cx="46.08" cy="57.41" r="0.48"/>
<circle cx="95.85" cy="73.65" r="0.52"/>
<circle cx="114.78" cy="66.27" r="0.48"/>
<circle cx="81.85" cy="41.77" r="0.35"/>
<circle cx="45.39" cy="38.02" r="0.48"/>
<circle cx="22.82" cy="74.57" r="0.57"/>
<circle cx="42.04" cy="59.29" r="0.55"/>
<circle cx="51.65" cy="41.6" r="0.63"/>
<circle cx="63.73" cy="12.26" r="0.46"/>
<circle cx="42.16" cy="12.24" r="0.61"/>
<circle cx="0.06" cy="33.53" r="0.66"/>
<circle cx="95.94" cy="31.93" r="0.7"/>
<circle cx="56.6" cy="11.87" r="0.4"/>
<circle cx="105.99" cy="11.96" r="0.69"/>
<circle cx="99.09" cy="29.18" r="0.38"/>
<circle cx="2.98" cy="2.22" r="0.69"/>
<circle cx="109.94" cy="55.43" r="0.46"/>
<circle cx="60.22" cy="16.74" r="0.67"/>
<circle cx="7.66" cy="43.29" r="0.46"/>
<circle cx="102.44" cy="8.76" r="0.53"/>
<circle cx="66.39" cy="54.96" r="0.54"/>
<circle cx="76.45" cy="68.97" r="0.42"/>
<circle cx="26.44" cy="8.43" r="0.37"/>
<circle cx="0.21" cy="82.77" r="0.57"/>
<circle cx="52.45" cy="62.48" r="0.35"/>
<circle cx="36.67" cy="50.36" r="0.67"/>
<circle cx="61.02" cy="46.21" r="0.49"/>
<circle cx="26.84" cy="79.42" r="0.46"/>
<circle cx="30.39" cy="66.57" r="0.35"/>
<circle cx="57.01" cy="57.75" r="0.63"/>
<circle cx="96.51" cy="1.24" r="0.66"/>
<circle cx="92.44" cy="26.26" r="0.53"/>
<circle cx="29.12" cy="80.33" r="0.4"/>
<circle cx="80.06" cy="57.14" r="0.43"/>
<circle cx="59.85" cy="68.97" r="0.43"/>
<circle cx="93.62" cy="0.32" r="0.36"/>
<circle cx="105.67" cy="31.64" r="0.6"/>
<circle cx="14.66" cy="49.37" r="0.51"/>
<circle cx="93.52" cy="38.54" r="0.42"/>
<circle cx="107.28" cy="28.3" r="0.55"/>
<circle cx="36.61" cy="34.27" r="0.56"/>
<circle cx="33.8" cy="28.2" r="0.59"/>
<circle cx="118.29" cy="1.09" r="0.38"/>
<circle cx="63.09" cy="48.29" r="0.68"/>
<circle cx="68.9" cy="45.05" r="0.65"/>
<circle cx="3.96" cy="88.43" r="0.4"/>
<circle cx="1.85" cy="4.59" r="0.55"/>
<circle cx="45.24" cy="16.07" r="0.48"/>
<circle cx="36.56" cy="64.45" r="0.44"/>
<circle cx="59.94" cy="67.51" r="0.38"/>
<circle cx="26.05" cy="23.48" r="0.51"/>
<circle cx="50.12" cy="29.59" r="0.44"/>
<circle cx="67.58" cy="10.52" r="0.59"/>
<circle cx="35.97" cy="18" r="0.55"/>
<circle cx="107.32" cy="86.53" r="0.45"/>
<circle cx="99.54" cy="72.85" r="0.64"/>
<circle cx="120.65" cy="70.3" r="0.56"/>
<circle cx="48.22" cy="32.65" r="0.54"/>
<circle cx="56.72" cy="79.12" r="0.67"/>
<circle cx="48.31" cy="11.06" r="0.44"/>
<circle cx="88.62" cy="40.74" r="0.61"/>
<circle cx="106.95" cy="40.19" r="0.64"/>
<circle cx="110.26" cy="25.43" r="0.65"/>
<circle cx="90.12" cy="0.81" r="0.49"/>
<circle cx="83.44" cy="7.47" r="0.64"/>
<circle cx="64.53" cy="81.86" r="0.46"/>
<circle cx="48.76" cy="55.09" r="0.42"/>
<circle cx="22.63" cy="13.34" r="0.48"/>
<circle cx="30.49" cy="47.85" r="0.43"/>
<circle cx="13.09" cy="41.92" r="0.51"/>
<circle cx="45.65" cy="47.51" r="0.58"/>
<circle cx="64.88" cy="35.68" r="0.47"/>
<circle cx="22.45" cy="69.69" r="0.37"/>
<circle cx="83.94" cy="47.17" r="0.63"/>
<circle cx="114.67" cy="88.17" r="0.52"/>
</g>
<rect width="121.7" height="89.3" filter="url(#tF7)"/>
<g filter="url(#bl12)" fill="#000"><ellipse cx="55" cy="45" rx="14.5" ry="11"/><ellipse cx="70" cy="53" rx="6" ry="2.5"/><ellipse cx="47" cy="33" rx="4" ry="4"/><ellipse cx="75" cy="27" rx="2" ry="7"/><ellipse cx="104" cy="31" rx="12" ry="2.6"/><ellipse cx="66" cy="20" rx="4.5" ry="5"/><ellipse cx="36" cy="52" rx="5" ry="2"/></g>
</g>
<g id="dG3">
<rect width="120" height="118.8" fill="#000026"/>
<g filter="url(#bl6)" stroke="#00004c" stroke-width=".7">
<ellipse cx="110.98" cy="112.69" rx="3.83" ry="3.17" fill="#020288"/>
<ellipse cx="63.61" cy="15.48" rx="3.31" ry="2.77" fill="#0404ab"/>
<ellipse cx="2.97" cy="10.19" rx="3.72" ry="3.42" fill="#0404a9"/>
<ellipse cx="43.08" cy="6.84" rx="3.92" ry="3.48" fill="#0505ba"/>
<ellipse cx="116.49" cy="43.1" rx="3.8" ry="3.41" fill="#0404a4"/>
<ellipse cx="37.73" cy="10.19" rx="3.83" ry="3.19" fill="#0606c7"/>
<ellipse cx="77.09" cy="21.63" rx="4.14" ry="3.14" fill="#03039f"/>
<ellipse cx="13.72" cy="11.71" rx="3.8" ry="3.6" fill="#03039a"/>
<ellipse cx="39.7" cy="43.91" rx="4.09" ry="3.54" fill="#03039d"/>
<ellipse cx="31.01" cy="12.73" rx="4.16" ry="3.21" fill="#0606c6"/>
<ellipse cx="65.46" cy="109.15" rx="3.23" ry="3.21" fill="#0909df"/>
<ellipse cx="6.71" cy="49.45" rx="3.96" ry="3.93" fill="#0707d1"/>
<ellipse cx="96.6" cy="112.72" rx="4.05" ry="3.25" fill="#0909e4"/>
<ellipse cx="116.93" cy="44.79" rx="3.65" ry="2.77" fill="#020287"/>
<ellipse cx="112.03" cy="112.91" rx="3.74" ry="2.81" fill="#02028a"/>
<ellipse cx="65.24" cy="96.57" rx="4.26" ry="3.55" fill="#0404a9"/>
<ellipse cx="41.13" cy="106.01" rx="3.96" ry="3.26" fill="#0808da"/>
<ellipse cx="83.16" cy="98.58" rx="3.41" ry="2.81" fill="#030397"/>
<ellipse cx="92.6" cy="66.18" rx="3.15" ry="2.8" fill="#0707d3"/>
<ellipse cx="39.9" cy="66.45" rx="4.33" ry="3.13" fill="#030398"/>
<ellipse cx="67.44" cy="64.37" rx="3.66" ry="3.05" fill="#0505b7"/>
<ellipse cx="86.21" cy="0.47" rx="3.2" ry="3.07" fill="#0707ce"/>
<ellipse cx="24.43" cy="80.92" rx="3.59" ry="2.6" fill="#0404ac"/>
<ellipse cx="83.95" cy="57.04" rx="3.78" ry="3.24" fill="#0505b5"/>
<ellipse cx="35.74" cy="106.77" rx="4.21" ry="3.57" fill="#0808d8"/>
<ellipse cx="93.23" cy="80" rx="3.45" ry="2.77" fill="#03039c"/>
<ellipse cx="36.26" cy="114.01" rx="3.59" ry="3.39" fill="#0404a6"/>
<ellipse cx="57.33" cy="65.79" rx="3.12" ry="2.39" fill="#03039b"/>
<ellipse cx="31.67" cy="101.25" rx="3.65" ry="2.69" fill="#02028a"/>
<ellipse cx="67.92" cy="52.53" rx="4.19" ry="3.25" fill="#030399"/>
<ellipse cx="117.91" cy="75.34" rx="3.39" ry="2.74" fill="#0707d1"/>
<ellipse cx="17.59" cy="99.49" rx="3.55" ry="3.21" fill="#0707ca"/>
<ellipse cx="35.17" cy="9.3" rx="3.24" ry="3.21" fill="#0606c1"/>
<ellipse cx="109.42" cy="21.69" rx="3.19" ry="2.94" fill="#0505bc"/>
<ellipse cx="56.27" cy="84.24" rx="4.15" ry="3.66" fill="#0707cd"/>
<ellipse cx="70.97" cy="38.83" rx="4.2" ry="3.2" fill="#020289"/>
<ellipse cx="51.19" cy="37.63" rx="4.2" ry="3.49" fill="#0505b4"/>
<ellipse cx="43.43" cy="77.36" rx="3.44" ry="3.32" fill="#0808dd"/>
<ellipse cx="117.77" cy="116.71" rx="4.08" ry="3.88" fill="#0404a5"/>
<ellipse cx="4.74" cy="46.93" rx="3.75" ry="2.86" fill="#0707cc"/>
<ellipse cx="48.82" cy="6.96" rx="4.15" ry="3.64" fill="#0404aa"/>
<ellipse cx="49.72" cy="29.22" rx="3.62" ry="2.72" fill="#0606c3"/>
<ellipse cx="98.61" cy="68.38" rx="3.87" ry="3.21" fill="#0505b5"/>
<ellipse cx="72.99" cy="109.16" rx="3.6" ry="2.59" fill="#0606c2"/>
<ellipse cx="100.82" cy="46.5" rx="3.05" ry="2.49" fill="#020285"/>
<ellipse cx="116.97" cy="87.98" rx="3.38" ry="2.54" fill="#0606c2"/>
<ellipse cx="72.28" cy="7.55" rx="3.76" ry="2.77" fill="#0505b3"/>
<ellipse cx="8.11" cy="56.22" rx="3.43" ry="3.04" fill="#0606c0"/>
<ellipse cx="90.03" cy="72.04" rx="3.49" ry="3.46" fill="#020293"/>
<ellipse cx="32.23" cy="33.78" rx="4.11" ry="3.24" fill="#0505b6"/>
<ellipse cx="115.54" cy="2.64" rx="4.26" ry="3.18" fill="#0505b8"/>
<ellipse cx="82.71" cy="112.53" rx="4.29" ry="4.25" fill="#02028a"/>
<ellipse cx="13.3" cy="98.28" rx="4.11" ry="3.77" fill="#020287"/>
<ellipse cx="114.86" cy="75.07" rx="3.8" ry="3.79" fill="#03039a"/>
<ellipse cx="77.6" cy="104.01" rx="4.02" ry="2.9" fill="#0707c9"/>
<ellipse cx="98.42" cy="20.92" rx="3.93" ry="2.92" fill="#020286"/>
<ellipse cx="117.08" cy="0" rx="3.8" ry="3.31" fill="#0707cc"/>
<ellipse cx="95.76" cy="75.6" rx="3.5" ry="3.06" fill="#0707d0"/>
<ellipse cx="61.49" cy="107.4" rx="3.11" ry="2.48" fill="#0808d6"/>
<ellipse cx="80.47" cy="72.7" rx="4.13" ry="3.87" fill="#030394"/>
<ellipse cx="17.15" cy="16.61" rx="3.86" ry="3.2" fill="#0909e2"/>
<ellipse cx="60.82" cy="96.17" rx="3.83" ry="3.75" fill="#0505b5"/>
<ellipse cx="96.05" cy="99.69" rx="4.15" ry="3.8" fill="#0505bb"/>
<ellipse cx="114.22" cy="108.73" rx="3.5" ry="2.67" fill="#0505b2"/>
<ellipse cx="60.1" cy="116.85" rx="3.35" ry="2.71" fill="#020289"/>
<ellipse cx="106.22" cy="54.59" rx="3.35" ry="2.38" fill="#0505b6"/>
<ellipse cx="71.12" cy="117.71" rx="3.21" ry="2.79" fill="#0707c9"/>
<ellipse cx="76.43" cy="90.18" rx="4.3" ry="3.35" fill="#020285"/>
<ellipse cx="88.61" cy="55.15" rx="3.13" ry="2.59" fill="#0303a1"/>
<ellipse cx="57.6" cy="94.16" rx="3.53" ry="3.24" fill="#0606c2"/>
<ellipse cx="20.91" cy="104.55" rx="4.2" ry="3.92" fill="#020282"/>
<ellipse cx="83.16" cy="12.58" rx="3.88" ry="3.83" fill="#0707cd"/>
<ellipse cx="113.63" cy="75.27" rx="3.42" ry="2.94" fill="#02028e"/>
<ellipse cx="62.72" cy="113.2" rx="3.87" ry="3.81" fill="#0505bd"/>
<ellipse cx="48.05" cy="87.84" rx="3.47" ry="2.59" fill="#0404a7"/>
<ellipse cx="1.31" cy="39.92" rx="3.68" ry="2.96" fill="#020287"/>
<ellipse cx="111.12" cy="92.73" rx="3.38" ry="2.49" fill="#0808d5"/>
<ellipse cx="73.16" cy="27.02" rx="4.24" ry="3.28" fill="#0404a9"/>
<ellipse cx="11.25" cy="74.49" rx="4.3" ry="4.26" fill="#030399"/>
<ellipse cx="82.47" cy="116.58" rx="4.02" ry="3.72" fill="#02028e"/>
<ellipse cx="87.83" cy="40.34" rx="4.19" ry="3" fill="#0505ba"/>
<ellipse cx="45.02" cy="37.41" rx="3.09" ry="2.27" fill="#02028b"/>
<ellipse cx="13.92" cy="51.7" rx="3.14" ry="2.83" fill="#0303a2"/>
<ellipse cx="39.92" cy="67.86" rx="4.03" ry="3.57" fill="#0404ad"/>
<ellipse cx="102.21" cy="90.57" rx="3.4" ry="2.89" fill="#0707ca"/>
<ellipse cx="92.67" cy="93.22" rx="4.15" ry="3.58" fill="#0808d4"/>
<ellipse cx="76.86" cy="5.2" rx="4.28" ry="4.08" fill="#0606c8"/>
<ellipse cx="52.72" cy="27.28" rx="3.27" ry="2.32" fill="#0606c1"/>
<ellipse cx="105.37" cy="68.51" rx="3.82" ry="3.55" fill="#0909e4"/>
<ellipse cx="96.77" cy="30.4" rx="3.86" ry="3.2" fill="#020290"/>
<ellipse cx="94.8" cy="13.76" rx="3" ry="2.47" fill="#0404a6"/>
<ellipse cx="115.51" cy="102.85" rx="3.32" ry="2.56" fill="#0707d3"/>
<ellipse cx="76.51" cy="34.94" rx="3.25" ry="2.46" fill="#020288"/>
<ellipse cx="109.42" cy="4.99" rx="4.01" ry="2.81" fill="#030394"/>
<ellipse cx="44.57" cy="87.64" rx="3.46" ry="2.92" fill="#0404a8"/>
<ellipse cx="75.44" cy="9.5" rx="4.08" ry="3.02" fill="#03039a"/>
<ellipse cx="11.26" cy="23.01" rx="3.2" ry="2.32" fill="#030398"/>
<ellipse cx="102.22" cy="62.78" rx="4.13" ry="2.95" fill="#0505b2"/>
<ellipse cx="5.44" cy="79.14" rx="3.87" ry="3.7" fill="#0505b2"/>
<ellipse cx="0.08" cy="47.75" rx="3.05" ry="2.82" fill="#0505b9"/>
<ellipse cx="114.84" cy="65.18" rx="4.18" ry="3.95" fill="#0707d4"/>
<ellipse cx="58.47" cy="10.41" rx="3.98" ry="3.16" fill="#0808d5"/>
<ellipse cx="116.99" cy="73.99" rx="3.31" ry="2.56" fill="#0707ce"/>
<ellipse cx="108.63" cy="6.56" rx="3.8" ry="3.45" fill="#0404a7"/>
<ellipse cx="108.31" cy="26.12" rx="3.31" ry="2.74" fill="#0505b2"/>
<ellipse cx="13.23" cy="10.69" rx="3.37" ry="2.75" fill="#020285"/>
<ellipse cx="11.39" cy="95.7" rx="4.13" ry="3.11" fill="#020283"/>
<ellipse cx="87.54" cy="7.21" rx="3.36" ry="2.52" fill="#0808de"/>
<ellipse cx="40.86" cy="102.15" rx="4.26" ry="3.93" fill="#02028f"/>
<ellipse cx="114.86" cy="115.56" rx="3.03" ry="2.3" fill="#0606c8"/>
<ellipse cx="64.38" cy="27.71" rx="3.64" ry="3.55" fill="#0303a3"/>
<ellipse cx="69.75" cy="66.06" rx="4.12" ry="3.83" fill="#020292"/>
<ellipse cx="97.71" cy="53.48" rx="3.64" ry="3.25" fill="#020287"/>
<ellipse cx="113.99" cy="106.46" rx="4.2" ry="4.15" fill="#0707cb"/>
<ellipse cx="81.66" cy="39.15" rx="3.79" ry="3.18" fill="#020281"/>
<ellipse cx="105.93" cy="73.79" rx="3.05" ry="2.82" fill="#020290"/>
<ellipse cx="93.99" cy="44.36" rx="3.27" ry="2.81" fill="#0505b7"/>
<ellipse cx="41.23" cy="37.91" rx="3.46" ry="3.01" fill="#030398"/>
<ellipse cx="113.02" cy="17.84" rx="3.44" ry="2.91" fill="#03039a"/>
<ellipse cx="98.43" cy="21.53" rx="3.8" ry="3.23" fill="#0404aa"/>
<ellipse cx="72.36" cy="21.32" rx="4.1" ry="3.6" fill="#0404a7"/>
<ellipse cx="48.95" cy="117.26" rx="3.17" ry="2.88" fill="#020281"/>
<ellipse cx="11.03" cy="87.37" rx="3.87" ry="2.73" fill="#03039d"/>
<ellipse cx="51.94" cy="118.72" rx="4.27" ry="3.72" fill="#0404a6"/>
<ellipse cx="97.31" cy="40.85" rx="4.07" ry="3.69" fill="#0606c6"/>
<ellipse cx="18.04" cy="50.06" rx="3.16" ry="2.92" fill="#030396"/>
<ellipse cx="16.98" cy="42.03" rx="3.88" ry="2.8" fill="#0606c6"/>
<ellipse cx="114.02" cy="118.21" rx="3.98" ry="2.82" fill="#0707d1"/>
<ellipse cx="32.77" cy="28.13" rx="3.83" ry="3.1" fill="#0606bf"/>
<ellipse cx="89.79" cy="27.83" rx="3.33" ry="3.18" fill="#02028b"/>
<ellipse cx="58.8" cy="87.52" rx="3.51" ry="3.47" fill="#0606c2"/>
<ellipse cx="9.61" cy="49.08" rx="3.5" ry="3.31" fill="#0606c4"/>
<ellipse cx="90.94" cy="85.94" rx="3.92" ry="3.73" fill="#0606c3"/>
<ellipse cx="61.55" cy="110.4" rx="3.81" ry="2.89" fill="#030394"/>
<ellipse cx="74.09" cy="38.69" rx="4.11" ry="3.9" fill="#0303a1"/>
<ellipse cx="44.81" cy="69.97" rx="3.61" ry="3.3" fill="#0404a4"/>
<ellipse cx="60.98" cy="19.11" rx="3.74" ry="3.11" fill="#0505b3"/>
<ellipse cx="104.01" cy="77.73" rx="3.56" ry="2.95" fill="#0505b1"/>
<ellipse cx="81.46" cy="52.02" rx="3.07" ry="2.2" fill="#030395"/>
<ellipse cx="43.11" cy="44.88" rx="3.33" ry="2.77" fill="#030393"/>
<ellipse cx="34.85" cy="31" rx="3.09" ry="2.17" fill="#0707cc"/>
<ellipse cx="53.75" cy="106.23" rx="4.36" ry="3.94" fill="#0404a3"/>
<ellipse cx="99.05" cy="100.05" rx="4.11" ry="3.36" fill="#020293"/>
<ellipse cx="108.04" cy="8.46" rx="3.58" ry="3.39" fill="#0505bd"/>
<ellipse cx="64.26" cy="54.59" rx="3.2" ry="2.53" fill="#0707ce"/>
<ellipse cx="10.57" cy="1.88" rx="3.66" ry="2.94" fill="#020284"/>
<ellipse cx="2.17" cy="55.11" rx="3.76" ry="3.01" fill="#030396"/>
<ellipse cx="6.53" cy="110.6" rx="3.92" ry="3.43" fill="#030397"/>
<ellipse cx="29.83" cy="63.94" rx="3.63" ry="2.59" fill="#03039a"/>
<ellipse cx="27.6" cy="116.87" rx="4.4" ry="3.51" fill="#0303a0"/>
<ellipse cx="102.15" cy="38.31" rx="4.22" ry="3.13" fill="#0404ac"/>
<ellipse cx="47.33" cy="40.94" rx="3.19" ry="2.63" fill="#0808d7"/>
<ellipse cx="20.71" cy="7.82" rx="3.42" ry="2.84" fill="#020287"/>
<ellipse cx="108.55" cy="77.45" rx="3.45" ry="2.84" fill="#0303a0"/>
<ellipse cx="27.93" cy="2.37" rx="3.07" ry="2.61" fill="#0808dd"/>
<ellipse cx="27.83" cy="90.6" rx="4.01" ry="3.37" fill="#0505b2"/>
<ellipse cx="17.22" cy="105.6" rx="4.15" ry="4" fill="#0808dd"/>
<ellipse cx="103.86" cy="43.92" rx="3.82" ry="3.11" fill="#0404ae"/>
<ellipse cx="102.56" cy="36.57" rx="3.08" ry="2.98" fill="#020286"/>
<ellipse cx="42.8" cy="44.49" rx="3.22" ry="2.78" fill="#0606c8"/>
<ellipse cx="57.97" cy="71.82" rx="4.32" ry="3.8" fill="#03039b"/>
<ellipse cx="66.1" cy="82.17" rx="4.1" ry="3.46" fill="#020291"/>
<ellipse cx="18.06" cy="37.59" rx="4.26" ry="3.63" fill="#0808d5"/>
<ellipse cx="76.36" cy="47.07" rx="3.5" ry="3.48" fill="#0505b5"/>
<ellipse cx="60.11" cy="4.8" rx="3.39" ry="2.84" fill="#020289"/>
<ellipse cx="25.4" cy="53.38" rx="3.91" ry="3.54" fill="#0505b4"/>
<ellipse cx="6.05" cy="28.17" rx="3.64" ry="3.48" fill="#0303a0"/>
<ellipse cx="1.69" cy="96.25" rx="4.19" ry="4.17" fill="#0707ca"/>
<ellipse cx="69.08" cy="6.58" rx="3.94" ry="3.91" fill="#0404ab"/>
<ellipse cx="105.18" cy="7.5" rx="3.29" ry="2.88" fill="#0606c1"/>
<ellipse cx="61.1" cy="64.74" rx="3.41" ry="2.76" fill="#0808dc"/>
<ellipse cx="19.4" cy="34.43" rx="3.03" ry="2.34" fill="#0606bf"/>
<ellipse cx="96.95" cy="101.21" rx="4.13" ry="3.7" fill="#0707c9"/>
<ellipse cx="74.53" cy="89.55" rx="3.36" ry="2.58" fill="#0303a0"/>
<ellipse cx="61.6" cy="64.07" rx="3.03" ry="2.32" fill="#020288"/>
<ellipse cx="18.73" cy="73.79" rx="3.9" ry="3.22" fill="#0505b5"/>
<ellipse cx="8.94" cy="88.77" rx="3.43" ry="3.11" fill="#02028e"/>
<ellipse cx="84.68" cy="19.48" rx="3.76" ry="3.56" fill="#0404a5"/>
<ellipse cx="17.57" cy="44.67" rx="3.25" ry="3.04" fill="#020291"/>
<ellipse cx="74.87" cy="56.54" rx="3.9" ry="3.04" fill="#020286"/>
<ellipse cx="52.96" cy="110.34" rx="3.49" ry="2.74" fill="#0404a6"/>
<ellipse cx="74.16" cy="85.11" rx="3.55" ry="2.66" fill="#010180"/>
<ellipse cx="71.84" cy="19.12" rx="4.36" ry="3.47" fill="#0404ae"/>
<ellipse cx="31.45" cy="40.1" rx="3.34" ry="3.05" fill="#030397"/>
<ellipse cx="63.54" cy="8.48" rx="3.41" ry="2.95" fill="#02028c"/>
<ellipse cx="54.79" cy="90.97" rx="3.25" ry="2.39" fill="#0606c1"/>
<ellipse cx="83.86" cy="92.19" rx="3.28" ry="2.86" fill="#020283"/>
<ellipse cx="3.8" cy="112.92" rx="4.13" ry="3.36" fill="#0707ca"/>
<ellipse cx="97.8" cy="20.84" rx="4.19" ry="3.93" fill="#0505b9"/>
<ellipse cx="94.43" cy="102.63" rx="3.24" ry="2.99" fill="#020283"/>
<ellipse cx="62.14" cy="58.64" rx="4.3" ry="3.74" fill="#020282"/>
<ellipse cx="70.22" cy="58.72" rx="3.75" ry="3.53" fill="#0404ae"/>
<ellipse cx="17.79" cy="98.1" rx="3.21" ry="2.74" fill="#0303a0"/>
<ellipse cx="35.22" cy="0.22" rx="4.26" ry="3.96" fill="#0707cb"/>
<ellipse cx="48.71" cy="108.59" rx="3.66" ry="3.3" fill="#030399"/>
<ellipse cx="11.9" cy="6.85" rx="4.04" ry="3.4" fill="#020281"/>
<ellipse cx="115.19" cy="102.07" rx="3.98" ry="3.09" fill="#0505b6"/>
<ellipse cx="2.33" cy="117.73" rx="3.75" ry="2.71" fill="#0707d0"/>
<ellipse cx="12.34" cy="27.88" rx="3.41" ry="2.84" fill="#0707d2"/>
<ellipse cx="116.18" cy="60.04" rx="3.24" ry="2.82" fill="#0505b4"/>
<ellipse cx="8.61" cy="61.81" rx="4.06" ry="3.45" fill="#020283"/>
<ellipse cx="19.17" cy="47.37" rx="3.38" ry="2.85" fill="#0404a3"/>
<ellipse cx="107.43" cy="73.17" rx="3.49" ry="3.43" fill="#0606be"/>
<ellipse cx="32.68" cy="25.98" rx="4.08" ry="3.67" fill="#0707d0"/>
<ellipse cx="0.25" cy="94.96" rx="3.28" ry="2.51" fill="#02028c"/>
<ellipse cx="15.62" cy="17.29" rx="3.65" ry="3.15" fill="#0606c5"/>
<ellipse cx="82.45" cy="98" rx="3.7" ry="2.65" fill="#0606c6"/>
<ellipse cx="35.33" cy="22.89" rx="3.18" ry="2.55" fill="#0606c8"/>
<ellipse cx="50.62" cy="74.63" rx="3.98" ry="3.28" fill="#0303a0"/>
<ellipse cx="108.51" cy="59.53" rx="4.01" ry="3.71" fill="#0505ba"/>
<ellipse cx="46.84" cy="53.02" rx="3.83" ry="3.09" fill="#0606c7"/>
<ellipse cx="58.66" cy="60.55" rx="3.09" ry="2.23" fill="#03039f"/>
<ellipse cx="18.67" cy="10.37" rx="3.56" ry="3.47" fill="#0909e2"/>
<ellipse cx="82.62" cy="110.56" rx="4.13" ry="2.99" fill="#0909e0"/>
<ellipse cx="0.31" cy="114.2" rx="4.33" ry="4.32" fill="#0606c1"/>
<ellipse cx="63" cy="39.05" rx="3.13" ry="2.95" fill="#0606c5"/>
<ellipse cx="0.45" cy="46.09" rx="4.21" ry="4.04" fill="#0808d9"/>
<ellipse cx="54.6" cy="50.47" rx="3.3" ry="2.68" fill="#0505b3"/>
<ellipse cx="57.51" cy="2.22" rx="3.78" ry="2.72" fill="#020286"/>
<ellipse cx="22.19" cy="54.42" rx="4.07" ry="3.85" fill="#0909e4"/>
<ellipse cx="52.25" cy="61.51" rx="4.19" ry="2.95" fill="#0909e2"/>
<ellipse cx="82.82" cy="85.48" rx="3.55" ry="2.93" fill="#0808de"/>
<ellipse cx="28.26" cy="22.84" rx="4.16" ry="3.32" fill="#0707ca"/>
<ellipse cx="91.64" cy="1.92" rx="3.42" ry="3.41" fill="#03039e"/>
<ellipse cx="0.38" cy="113.45" rx="3.57" ry="3.46" fill="#0909e4"/>
<ellipse cx="66.2" cy="68.43" rx="3.85" ry="2.9" fill="#030399"/>
<ellipse cx="3.9" cy="85.66" rx="3.32" ry="3.23" fill="#0808dd"/>
<ellipse cx="36.9" cy="85" rx="3.25" ry="2.5" fill="#0606c5"/>
<ellipse cx="32.02" cy="116.71" rx="4.34" ry="4.26" fill="#0404a6"/>
<ellipse cx="17.08" cy="73.51" rx="3.43" ry="2.63" fill="#0303a1"/>
<ellipse cx="70.39" cy="25.82" rx="3.37" ry="3.15" fill="#02028d"/>
<ellipse cx="34.45" cy="115.15" rx="3.35" ry="2.86" fill="#020282"/>
<ellipse cx="37.26" cy="47.55" rx="3.34" ry="3.22" fill="#0606c2"/>
<ellipse cx="43.28" cy="67.82" rx="3.81" ry="3.24" fill="#0707cb"/>
<ellipse cx="20.71" cy="9.15" rx="4.3" ry="3.53" fill="#0808d5"/>
<ellipse cx="8.71" cy="23.63" rx="3.58" ry="2.59" fill="#02028c"/>
<ellipse cx="59.53" cy="40.95" rx="3.7" ry="3.52" fill="#0909e3"/>
<ellipse cx="80.86" cy="54.95" rx="3.24" ry="3.07" fill="#020283"/>
<ellipse cx="62.11" cy="81.18" rx="3.35" ry="2.52" fill="#0808d4"/>
<ellipse cx="34.7" cy="103.12" rx="4.08" ry="3.28" fill="#0707cc"/>
<ellipse cx="88.45" cy="93.5" rx="3.66" ry="3.06" fill="#0505b4"/>
<ellipse cx="25.27" cy="68.16" rx="3.58" ry="2.91" fill="#030398"/>
<ellipse cx="35.56" cy="110.05" rx="3.72" ry="3" fill="#020288"/>
<ellipse cx="43.84" cy="13.11" rx="3.95" ry="2.91" fill="#0303a3"/>
<ellipse cx="62.13" cy="52.69" rx="4.1" ry="3.52" fill="#020286"/>
<ellipse cx="30.19" cy="19.83" rx="3.82" ry="3.03" fill="#020281"/>
<ellipse cx="41.17" cy="114.79" rx="3.02" ry="2.44" fill="#020292"/>
<ellipse cx="9.1" cy="5.24" rx="3.24" ry="2.85" fill="#0909df"/>
<ellipse cx="115.6" cy="21.03" rx="3.07" ry="2.69" fill="#0505b2"/>
<ellipse cx="100.07" cy="104.54" rx="3.71" ry="3.1" fill="#0505b7"/>
<ellipse cx="22.06" cy="71.96" rx="3.12" ry="2.19" fill="#0606c4"/>
<ellipse cx="102.61" cy="40.03" rx="3.67" ry="2.59" fill="#0505b2"/>
<ellipse cx="98.26" cy="116.23" rx="3.39" ry="3.04" fill="#03039c"/>
<ellipse cx="63.26" cy="66.41" rx="3.73" ry="3.2" fill="#030399"/>
<ellipse cx="75.13" cy="76.01" rx="3.71" ry="3.26" fill="#02028c"/>
<ellipse cx="19.34" cy="44.02" rx="3.98" ry="3.11" fill="#0505b6"/>
<ellipse cx="55.49" cy="24.57" rx="4.24" ry="3.43" fill="#0909e4"/>
<ellipse cx="40.89" cy="21.61" rx="3.06" ry="2.56" fill="#0808dd"/>
<ellipse cx="48" cy="28.41" rx="3.52" ry="3.5" fill="#0707d3"/>
<ellipse cx="73.07" cy="28.76" rx="3.58" ry="3.13" fill="#02028d"/>
<ellipse cx="22.15" cy="12.67" rx="3.28" ry="2.76" fill="#0808d6"/>
<ellipse cx="73.22" cy="22.07" rx="4.11" ry="3.56" fill="#0808d7"/>
<ellipse cx="75.16" cy="0.77" rx="3.08" ry="2.57" fill="#0303a2"/>
<ellipse cx="73.61" cy="79.03" rx="4.17" ry="3.22" fill="#0505b2"/>
<ellipse cx="35.72" cy="28.25" rx="3.64" ry="3.54" fill="#0808d7"/>
<ellipse cx="58.31" cy="46.01" rx="3.67" ry="2.96" fill="#020283"/>
<ellipse cx="57.99" cy="48.37" rx="3" ry="2.57" fill="#0606c0"/>
<ellipse cx="49.86" cy="44.19" rx="3.25" ry="2.53" fill="#0707d1"/>
<ellipse cx="39.26" cy="108.48" rx="3.3" ry="2.61" fill="#02028f"/>
<ellipse cx="98.63" cy="0.46" rx="3.12" ry="2.73" fill="#0606c8"/>
<ellipse cx="100.69" cy="54.66" rx="4.23" ry="4.2" fill="#0505b7"/>
<ellipse cx="71.04" cy="85.99" rx="3.57" ry="3.19" fill="#0707d3"/>
<ellipse cx="49.77" cy="101.87" rx="3.76" ry="3.75" fill="#0303a0"/>
<ellipse cx="88.1" cy="26.54" rx="3.38" ry="3.18" fill="#020287"/>
<ellipse cx="21.42" cy="73.13" rx="3.6" ry="2.58" fill="#0909e0"/>
<ellipse cx="50.57" cy="77.36" rx="3.09" ry="2.57" fill="#0808d6"/>
<ellipse cx="87.58" cy="32.41" rx="3.46" ry="3.05" fill="#0909e3"/>
<ellipse cx="5.61" cy="79.62" rx="3.46" ry="3.38" fill="#0707ce"/>
<ellipse cx="0.37" cy="66.88" rx="3.38" ry="2.49" fill="#0404a8"/>
<ellipse cx="105.26" cy="96.49" rx="3.71" ry="2.85" fill="#02028f"/>
<ellipse cx="65.83" cy="79.93" rx="3.37" ry="2.55" fill="#030398"/>
<ellipse cx="113.21" cy="95.43" rx="4.15" ry="3.63" fill="#0404aa"/>
<ellipse cx="70.47" cy="48.61" rx="3.24" ry="3.09" fill="#010180"/>
<ellipse cx="110.76" cy="66.73" rx="3.5" ry="3.07" fill="#0404aa"/>
<ellipse cx="93.8" cy="107.9" rx="3.62" ry="3.34" fill="#0404ac"/>
<ellipse cx="104.64" cy="115.54" rx="3.16" ry="2.27" fill="#0505bc"/>
<ellipse cx="2.58" cy="73.66" rx="4.24" ry="3.84" fill="#020283"/>
<ellipse cx="82.63" cy="29.51" rx="3.47" ry="2.99" fill="#0505b7"/>
<ellipse cx="78.43" cy="71.36" rx="3.36" ry="2.91" fill="#0909e4"/>
<ellipse cx="45.9" cy="4.3" rx="4.22" ry="3.45" fill="#0606c1"/>
<ellipse cx="19.08" cy="75.27" rx="3.16" ry="2.88" fill="#0505b3"/>
<ellipse cx="91.17" cy="92.43" rx="3.72" ry="2.86" fill="#0707cf"/>
<ellipse cx="84.89" cy="25.76" rx="3.02" ry="2.73" fill="#0707d2"/>
<ellipse cx="54.27" cy="6.16" rx="3.04" ry="2.27" fill="#0505bb"/>
<ellipse cx="92.01" cy="30.85" rx="3.92" ry="3.18" fill="#0404a6"/>
<ellipse cx="2.11" cy="79.75" rx="3.98" ry="3.45" fill="#0505b7"/>
<ellipse cx="22.7" cy="19.34" rx="3.47" ry="3.07" fill="#0808da"/>
<ellipse cx="115.44" cy="17.86" rx="3.91" ry="3.41" fill="#0707cf"/>
<ellipse cx="94.92" cy="44.13" rx="3.44" ry="2.87" fill="#03039e"/>
<ellipse cx="14.44" cy="99.95" rx="3.92" ry="3.65" fill="#0606c6"/>
<ellipse cx="53.63" cy="31.07" rx="4.35" ry="3.93" fill="#02028b"/>
<ellipse cx="76.18" cy="72.02" rx="3.06" ry="2.77" fill="#0505b3"/>
<ellipse cx="51.27" cy="10.24" rx="3.02" ry="2.34" fill="#0505b3"/>
<ellipse cx="38.46" cy="58.99" rx="3.93" ry="3.53" fill="#0404a8"/>
<ellipse cx="40.8" cy="85.81" rx="3.03" ry="2.28" fill="#020284"/>
<ellipse cx="98.7" cy="37.46" rx="4.12" ry="4.08" fill="#0606c9"/>
<ellipse cx="77.98" cy="80.16" rx="3.6" ry="3.26" fill="#0606c2"/>
<ellipse cx="9.96" cy="93.44" rx="3.94" ry="3.87" fill="#0909df"/>
<ellipse cx="76.72" cy="47.8" rx="3.13" ry="2.98" fill="#0404ac"/>
<ellipse cx="20.32" cy="26.04" rx="3.57" ry="2.83" fill="#0606c5"/>
<ellipse cx="70.17" cy="37.2" rx="3.63" ry="3.3" fill="#0707d0"/>
<ellipse cx="3.42" cy="116.78" rx="3.24" ry="2.59" fill="#0505b6"/>
<ellipse cx="93.5" cy="61.56" rx="4.22" ry="4.11" fill="#02028b"/>
<ellipse cx="38.88" cy="109.04" rx="3.46" ry="2.97" fill="#0606c6"/>
<ellipse cx="75.48" cy="101.17" rx="3.39" ry="3.13" fill="#020287"/>
<ellipse cx="40.73" cy="54.07" rx="4.24" ry="3.48" fill="#0404a8"/>
<ellipse cx="58.03" cy="103.74" rx="3.94" ry="3.54" fill="#0404a5"/>
<ellipse cx="52.88" cy="52" rx="3.37" ry="2.8" fill="#0808da"/>
<ellipse cx="1.09" cy="12.76" rx="3.98" ry="2.96" fill="#0404a4"/>
<ellipse cx="54.24" cy="100.08" rx="3.5" ry="3.05" fill="#030395"/>
<ellipse cx="112.98" cy="24.46" rx="4.15" ry="4.05" fill="#0505bc"/>
<ellipse cx="108" cy="19.69" rx="3.05" ry="2.5" fill="#020284"/>
<ellipse cx="52.35" cy="72.81" rx="4.35" ry="3.97" fill="#02028b"/>
<ellipse cx="16.15" cy="81.57" rx="3.92" ry="2.91" fill="#020287"/>
<ellipse cx="79.66" cy="50.68" rx="3.86" ry="2.81" fill="#03039e"/>
<ellipse cx="103.38" cy="94.54" rx="3.13" ry="2.78" fill="#0606c0"/>
<ellipse cx="28.63" cy="114.19" rx="4.25" ry="3.85" fill="#020282"/>
<ellipse cx="74.37" cy="10.44" rx="3.1" ry="2.91" fill="#0606c9"/>
<ellipse cx="70.98" cy="14.79" rx="4.12" ry="3.58" fill="#0404a9"/>
<ellipse cx="100.27" cy="90.29" rx="4.39" ry="3.49" fill="#020293"/>
<ellipse cx="75.58" cy="99.3" rx="4.1" ry="3.77" fill="#020284"/>
<ellipse cx="19.43" cy="36.03" rx="4.19" ry="3.54" fill="#0505b8"/>
<ellipse cx="22.64" cy="90.84" rx="3.2" ry="2.48" fill="#03039a"/>
<ellipse cx="14.93" cy="18.4" rx="3.25" ry="2.96" fill="#02028a"/>
<ellipse cx="21.61" cy="89.72" rx="3.21" ry="2.76" fill="#03039e"/>
<ellipse cx="58.29" cy="88.93" rx="3.08" ry="2.71" fill="#0808d5"/>
<ellipse cx="7.09" cy="40.43" rx="3.08" ry="3.07" fill="#030397"/>
<ellipse cx="1.53" cy="71.6" rx="4.15" ry="3.06" fill="#0505bc"/>
<ellipse cx="110.36" cy="80.52" rx="3.55" ry="3.32" fill="#020292"/>
<ellipse cx="103.84" cy="21.98" rx="3.05" ry="2.62" fill="#0505bd"/>
<ellipse cx="33.77" cy="67.67" rx="3.11" ry="2.23" fill="#02028b"/>
<ellipse cx="64.47" cy="87.46" rx="4.22" ry="3.57" fill="#0606c8"/>
<ellipse cx="11.53" cy="1.54" rx="4.14" ry="2.91" fill="#0707cb"/>
<ellipse cx="76.33" cy="108.76" rx="4.1" ry="3.1" fill="#0909e1"/>
<ellipse cx="22.43" cy="99.86" rx="3.02" ry="2.73" fill="#020283"/>
<ellipse cx="81.71" cy="20.68" rx="3.35" ry="2.59" fill="#0303a2"/>
<ellipse cx="78.22" cy="90.67" rx="3.88" ry="3.1" fill="#020286"/>
<ellipse cx="10.28" cy="77.71" rx="4.36" ry="3.12" fill="#020288"/>
<ellipse cx="58.19" cy="46.48" rx="3.09" ry="2.22" fill="#0909e3"/>
<ellipse cx="38.56" cy="69.82" rx="3.81" ry="3.2" fill="#0606c6"/>
<ellipse cx="117.78" cy="13" rx="4.37" ry="3.71" fill="#03039f"/>
<ellipse cx="59.98" cy="93.51" rx="3.05" ry="2.28" fill="#0606c2"/>
<ellipse cx="15.37" cy="6.08" rx="3.57" ry="3.3" fill="#0909e0"/>
<ellipse cx="31.35" cy="24.96" rx="4.21" ry="3.02" fill="#020288"/>
<ellipse cx="57.38" cy="52.6" rx="3.18" ry="3.05" fill="#0505bc"/>
<ellipse cx="24.38" cy="30.24" rx="3.82" ry="3.22" fill="#030395"/>
<ellipse cx="114.46" cy="97.57" rx="3.7" ry="2.9" fill="#03039e"/>
<ellipse cx="43.05" cy="77.44" rx="4.24" ry="3.82" fill="#0909df"/>
<ellipse cx="86.4" cy="118.37" rx="3.91" ry="3.65" fill="#0404a9"/>
<ellipse cx="52.82" cy="26.19" rx="3.95" ry="2.87" fill="#0606c7"/>
<ellipse cx="49.08" cy="73.68" rx="3.12" ry="2.86" fill="#03039d"/>
<ellipse cx="103.12" cy="65.15" rx="3.44" ry="2.53" fill="#0303a0"/>
<ellipse cx="12.38" cy="94.18" rx="3.76" ry="3.22" fill="#0505b8"/>
<ellipse cx="95.93" cy="10.15" rx="4.37" ry="3.71" fill="#02028e"/>
<ellipse cx="84.78" cy="36.42" rx="3.55" ry="3.55" fill="#0707ce"/>
<ellipse cx="118.26" cy="90.14" rx="4.35" ry="3.79" fill="#0909df"/>
<ellipse cx="43.3" cy="74.35" rx="3.42" ry="2.79" fill="#02028b"/>
<ellipse cx="57.9" cy="63.94" rx="3.63" ry="3.07" fill="#0606c0"/>
<ellipse cx="95.21" cy="75.34" rx="4.04" ry="3.62" fill="#0404a5"/>
<ellipse cx="41.58" cy="17.34" rx="4" ry="3.81" fill="#020282"/>
<ellipse cx="68.46" cy="3.53" rx="3.14" ry="2.77" fill="#030395"/>
<ellipse cx="102.57" cy="99.87" rx="4.03" ry="3.17" fill="#030398"/>
<ellipse cx="41.64" cy="91.42" rx="3.44" ry="2.9" fill="#0505bd"/>
<ellipse cx="27.43" cy="23.85" rx="3.3" ry="2.95" fill="#0404ad"/>
<ellipse cx="105.78" cy="58.75" rx="4.24" ry="3.56" fill="#0707d2"/>
<ellipse cx="67.81" cy="17.98" rx="3.34" ry="2.88" fill="#0909e1"/>
<ellipse cx="26.18" cy="13" rx="3.34" ry="3.26" fill="#0404a9"/>
<ellipse cx="35.45" cy="108.34" rx="3.65" ry="2.58" fill="#0808db"/>
<ellipse cx="18.09" cy="9.3" rx="3.34" ry="2.83" fill="#020285"/>
<ellipse cx="79.86" cy="23.2" rx="3.15" ry="2.86" fill="#0707c9"/>
<ellipse cx="10.27" cy="1.57" rx="3.84" ry="3.03" fill="#0505b5"/>
<ellipse cx="18.21" cy="67.47" rx="4.11" ry="3.98" fill="#0909e4"/>
<ellipse cx="21.45" cy="44.33" rx="3.67" ry="3.23" fill="#02028b"/>
<ellipse cx="35.61" cy="20.96" rx="3.68" ry="3.67" fill="#030396"/>
<ellipse cx="85.6" cy="29.68" rx="4.23" ry="2.97" fill="#030393"/>
<ellipse cx="109.36" cy="91.74" rx="3.16" ry="2.88" fill="#0505b7"/>
<ellipse cx="12.57" cy="115.1" rx="4.35" ry="4.22" fill="#0606bf"/>
<ellipse cx="98.6" cy="73.24" rx="4.06" ry="3.22" fill="#0505b4"/>
<ellipse cx="112.87" cy="73.16" rx="3.69" ry="3.15" fill="#02028e"/>
<ellipse cx="35.64" cy="66.33" rx="3.36" ry="2.88" fill="#0404a3"/>
<ellipse cx="46.9" cy="29.71" rx="3.95" ry="2.92" fill="#0404ac"/>
<ellipse cx="107.68" cy="16.32" rx="4.14" ry="3.13" fill="#020284"/>
<ellipse cx="7.4" cy="82.26" rx="3.8" ry="2.99" fill="#0303a2"/>
<ellipse cx="106.07" cy="50.05" rx="3.77" ry="3.48" fill="#0606c2"/>
<ellipse cx="35.85" cy="20.03" rx="3.67" ry="3.09" fill="#0707d3"/>
<ellipse cx="107.47" cy="100.1" rx="3.95" ry="3.25" fill="#0606c7"/>
<ellipse cx="28.21" cy="102.16" rx="3.34" ry="3.26" fill="#0909e2"/>
<ellipse cx="24.88" cy="88.39" rx="3.86" ry="3.04" fill="#0707d3"/>
<ellipse cx="96.63" cy="22.72" rx="4.04" ry="3.88" fill="#0606be"/>
<ellipse cx="16.58" cy="103.88" rx="4.35" ry="3.82" fill="#0707d0"/>
<ellipse cx="93.55" cy="58.55" rx="3.75" ry="2.64" fill="#0404b1"/>
<ellipse cx="49.26" cy="14.48" rx="3.1" ry="2.27" fill="#0505b3"/>
<ellipse cx="115.91" cy="25.46" rx="3.05" ry="2.92" fill="#0606c9"/>
<ellipse cx="56.96" cy="8.48" rx="3.93" ry="3.35" fill="#03039f"/>
<ellipse cx="36.88" cy="8.22" rx="3.63" ry="3" fill="#030398"/>
<ellipse cx="68.48" cy="111.77" rx="3.38" ry="3.02" fill="#0808d9"/>
<ellipse cx="80.99" cy="90.04" rx="3.67" ry="3.54" fill="#0808dd"/>
<ellipse cx="56.82" cy="85.18" rx="3.75" ry="3.34" fill="#030396"/>
<ellipse cx="60.67" cy="100.34" rx="3.1" ry="2.52" fill="#0404aa"/>
<ellipse cx="19.12" cy="98.04" rx="4.02" ry="3.37" fill="#0606c3"/>
<ellipse cx="105.68" cy="44.13" rx="3.27" ry="2.97" fill="#0909df"/>
<ellipse cx="3.86" cy="28.82" rx="4.22" ry="3.95" fill="#0808dd"/>
<ellipse cx="16.38" cy="68.78" rx="4.03" ry="3.81" fill="#020289"/>
<ellipse cx="52.58" cy="69.09" rx="3.11" ry="2.87" fill="#0303a1"/>
<ellipse cx="86.66" cy="34.85" rx="3.3" ry="2.82" fill="#0909e4"/>
<ellipse cx="8.67" cy="109.89" rx="3.52" ry="2.63" fill="#0505b4"/>
<ellipse cx="19.74" cy="77.49" rx="3.75" ry="2.87" fill="#0303a3"/>
<ellipse cx="99.33" cy="72.73" rx="3.16" ry="2.69" fill="#0303a3"/>
<ellipse cx="53.85" cy="24.67" rx="3.52" ry="3.12" fill="#0606c6"/>
<ellipse cx="76.98" cy="10.62" rx="3.42" ry="2.78" fill="#0505bb"/>
<ellipse cx="78.1" cy="76.42" rx="3.51" ry="3.37" fill="#020293"/>
<ellipse cx="10.38" cy="9.88" rx="3.22" ry="2.61" fill="#03039a"/>
<ellipse cx="58.81" cy="29.23" rx="3.45" ry="2.56" fill="#0606c6"/>
<ellipse cx="118.07" cy="51.36" rx="4.02" ry="3.34" fill="#02028a"/>
<ellipse cx="112.48" cy="88.71" rx="4.35" ry="4.35" fill="#0707cb"/>
<ellipse cx="102.02" cy="74.38" rx="3.59" ry="2.82" fill="#0707cf"/>
<ellipse cx="1.62" cy="10.38" rx="3.18" ry="2.66" fill="#020288"/>
<ellipse cx="30.77" cy="114.62" rx="3.73" ry="3.06" fill="#0505b7"/>
<ellipse cx="94.81" cy="113.18" rx="3.5" ry="2.88" fill="#020286"/>
<ellipse cx="109.51" cy="81.99" rx="4.36" ry="3.17" fill="#0606c7"/>
<ellipse cx="116.74" cy="11.98" rx="4.21" ry="3.34" fill="#020284"/>
<ellipse cx="104.28" cy="73.12" rx="3.23" ry="3.17" fill="#0909e1"/>
<ellipse cx="106.81" cy="64.75" rx="3.33" ry="2.53" fill="#020288"/>
<ellipse cx="89.9" cy="24.77" rx="4.18" ry="3.35" fill="#020289"/>
<ellipse cx="3.03" cy="86.78" rx="4.06" ry="3.24" fill="#0505b1"/>
<ellipse cx="97.01" cy="95.92" rx="3.41" ry="2.95" fill="#0707cc"/>
<ellipse cx="74.72" cy="6.75" rx="4.37" ry="4.37" fill="#0707d1"/>
<ellipse cx="49.53" cy="70.56" rx="3.07" ry="2.74" fill="#0909e3"/>
<ellipse cx="54.12" cy="96.21" rx="4.36" ry="4.25" fill="#0808de"/>
<ellipse cx="2.33" cy="12.67" rx="4.2" ry="3.97" fill="#0606c2"/>
<ellipse cx="90.1" cy="56.3" rx="4.05" ry="3.23" fill="#030395"/>
<ellipse cx="8.68" cy="80.02" rx="3.67" ry="2.83" fill="#0606c4"/>
<ellipse cx="116.66" cy="59.75" rx="3.01" ry="2.27" fill="#0606c1"/>
<ellipse cx="41.02" cy="112.52" rx="3.85" ry="3.18" fill="#0909df"/>
<ellipse cx="88.76" cy="104.11" rx="4.21" ry="3.4" fill="#020281"/>
<ellipse cx="100.94" cy="59.05" rx="3.7" ry="3.52" fill="#020286"/>
<ellipse cx="37.97" cy="98.57" rx="3.03" ry="2.79" fill="#0505b7"/>
<ellipse cx="32.14" cy="81.31" rx="3.78" ry="2.82" fill="#0404aa"/>
<ellipse cx="35.95" cy="81.31" rx="3.06" ry="2.83" fill="#0505bb"/>
<ellipse cx="57.73" cy="72.94" rx="3.06" ry="2.63" fill="#0808dc"/>
<ellipse cx="49.93" cy="31.95" rx="4.14" ry="3.1" fill="#030398"/>
<ellipse cx="49.24" cy="105.37" rx="3.16" ry="2.53" fill="#0808d5"/>
<ellipse cx="45.22" cy="6.9" rx="3.55" ry="2.49" fill="#0505b9"/>
<ellipse cx="30.04" cy="30.94" rx="3.61" ry="3.45" fill="#0505b7"/>
<ellipse cx="101.06" cy="83.89" rx="3.41" ry="2.81" fill="#0808dd"/>
<ellipse cx="10.85" cy="50.98" rx="3.43" ry="2.87" fill="#0909e3"/>
<ellipse cx="29.16" cy="56.13" rx="4.39" ry="4.38" fill="#03039b"/>
<ellipse cx="89.73" cy="16.8" rx="4.36" ry="3.86" fill="#0909e2"/>
<ellipse cx="31.46" cy="30" rx="3.71" ry="2.78" fill="#02028f"/>
<ellipse cx="22.74" cy="104.86" rx="3.52" ry="2.68" fill="#0505bc"/>
<ellipse cx="10.21" cy="14.63" rx="3.41" ry="2.54" fill="#020285"/>
<ellipse cx="80.13" cy="84.94" rx="4.16" ry="3.94" fill="#02028f"/>
<ellipse cx="107.07" cy="79.05" rx="3.07" ry="2.84" fill="#0808d5"/>
<ellipse cx="102.38" cy="111.36" rx="3.53" ry="3.05" fill="#0404ac"/>
<ellipse cx="46.99" cy="49.17" rx="3.62" ry="3.3" fill="#0606c7"/>
<ellipse cx="5.37" cy="89.81" rx="4.39" ry="3.39" fill="#0404a4"/>
<ellipse cx="27.63" cy="116.51" rx="4.02" ry="3.89" fill="#030399"/>
<ellipse cx="73.42" cy="31.92" rx="3.59" ry="3.59" fill="#0505b3"/>
<ellipse cx="45.27" cy="85.41" rx="3.09" ry="3.05" fill="#020283"/>
<ellipse cx="49.86" cy="82.98" rx="3.5" ry="3.11" fill="#020291"/>
<ellipse cx="64.14" cy="53.66" rx="4.2" ry="3.11" fill="#0404aa"/>
<ellipse cx="36.13" cy="6.75" rx="4.07" ry="2.88" fill="#03039f"/>
<ellipse cx="89.92" cy="13.23" rx="3.76" ry="3.56" fill="#0404a4"/>
<ellipse cx="110.72" cy="87.87" rx="3.53" ry="2.85" fill="#0808dc"/>
<ellipse cx="7.96" cy="60.22" rx="3.74" ry="3.37" fill="#020286"/>
<ellipse cx="53.72" cy="30.37" rx="3.06" ry="2.4" fill="#0707cd"/>
<ellipse cx="58.94" cy="48.31" rx="3.35" ry="2.56" fill="#0303a0"/>
<ellipse cx="49.49" cy="101.88" rx="3.66" ry="2.74" fill="#030395"/>
<ellipse cx="24.55" cy="65.77" rx="4.31" ry="4.2" fill="#0707d3"/>
<ellipse cx="33.9" cy="3.54" rx="3.14" ry="2.39" fill="#0808da"/>
<ellipse cx="32.88" cy="94.72" rx="4.34" ry="3.24" fill="#02028d"/>
<ellipse cx="97.13" cy="112.36" rx="3.14" ry="2.56" fill="#0404a3"/>
<ellipse cx="91.1" cy="28.4" rx="4.1" ry="3.13" fill="#0606c5"/>
<ellipse cx="84.44" cy="50.08" rx="3.32" ry="3.3" fill="#0404a3"/>
<ellipse cx="73.58" cy="77.14" rx="3.08" ry="2.37" fill="#0606c2"/>
<ellipse cx="11.3" cy="4.41" rx="3.9" ry="3.13" fill="#0606c3"/>
<ellipse cx="112.32" cy="5.61" rx="4.27" ry="4.08" fill="#0909e1"/>
<ellipse cx="80.85" cy="81.06" rx="3.64" ry="3" fill="#020289"/>
<ellipse cx="109.02" cy="114.41" rx="3.3" ry="2.53" fill="#0707cc"/>
<ellipse cx="66.43" cy="3.17" rx="3.4" ry="2.9" fill="#0909e0"/>
<ellipse cx="114.04" cy="21.79" rx="3.99" ry="3.71" fill="#0505b7"/>
<ellipse cx="97.36" cy="85.34" rx="3.23" ry="2.69" fill="#0909e5"/>
<ellipse cx="111.54" cy="103.59" rx="3.23" ry="3.09" fill="#020291"/>
<ellipse cx="103.1" cy="111.66" rx="3.67" ry="3.16" fill="#0707cc"/>
<ellipse cx="13.86" cy="78.23" rx="3.38" ry="3.14" fill="#0808db"/>
<ellipse cx="2.12" cy="93.15" rx="4.26" ry="3.58" fill="#0606be"/>
<ellipse cx="58.31" cy="112.39" rx="4.12" ry="3.11" fill="#020289"/>
<ellipse cx="105.41" cy="76.28" rx="3.78" ry="3.37" fill="#0707cb"/>
<ellipse cx="85.86" cy="80.64" rx="3.55" ry="3.27" fill="#030393"/>
<ellipse cx="42.87" cy="40.59" rx="3.02" ry="2.12" fill="#030397"/>
<ellipse cx="32.87" cy="67.07" rx="3.1" ry="2.7" fill="#03039d"/>
<ellipse cx="88.36" cy="71.47" rx="3.05" ry="2.31" fill="#020285"/>
<ellipse cx="81.46" cy="66.59" rx="3.11" ry="2.39" fill="#020281"/>
<ellipse cx="38.04" cy="9.02" rx="3.07" ry="2.95" fill="#0808d7"/>
<ellipse cx="79.36" cy="74.44" rx="4.12" ry="3.19" fill="#02028b"/>
<ellipse cx="34.6" cy="15.59" rx="3.82" ry="2.73" fill="#020289"/>
<ellipse cx="103.11" cy="114.84" rx="3.88" ry="3.82" fill="#02028b"/>
<ellipse cx="77.21" cy="45.13" rx="4.32" ry="3.05" fill="#0404ac"/>
<ellipse cx="109.44" cy="38.39" rx="3.91" ry="2.87" fill="#030398"/>
<ellipse cx="50.14" cy="54.89" rx="3.07" ry="2.92" fill="#0404a9"/>
<ellipse cx="92.55" cy="69.86" rx="3.82" ry="3.7" fill="#0404a8"/>
<ellipse cx="69.29" cy="2.87" rx="4.12" ry="3.37" fill="#02028b"/>
<ellipse cx="54.21" cy="43.24" rx="3.9" ry="3.78" fill="#0303a2"/>
<ellipse cx="49.35" cy="106.81" rx="4.39" ry="3.36" fill="#030399"/>
<ellipse cx="99.75" cy="11.14" rx="4.26" ry="3.06" fill="#0404b0"/>
<ellipse cx="2.59" cy="70.35" rx="3.27" ry="3.1" fill="#02028a"/>
<ellipse cx="13.7" cy="81.92" rx="3.7" ry="2.96" fill="#0606c6"/>
<ellipse cx="73.92" cy="35.42" rx="4.27" ry="3.44" fill="#020286"/>
<ellipse cx="96.71" cy="98.48" rx="3.15" ry="2.91" fill="#010180"/>
<ellipse cx="39.34" cy="93.87" rx="4.33" ry="3.05" fill="#0707cb"/>
<ellipse cx="9.25" cy="114.31" rx="3.06" ry="2.88" fill="#0606c6"/>
<ellipse cx="84.49" cy="54.83" rx="3.49" ry="3.24" fill="#020282"/>
<ellipse cx="51.44" cy="113.29" rx="3.9" ry="3.49" fill="#0808d8"/>
<ellipse cx="118.2" cy="108.88" rx="3.12" ry="2.77" fill="#0808dc"/>
<ellipse cx="9.53" cy="43.08" rx="4" ry="2.98" fill="#0606c6"/>
<ellipse cx="110.33" cy="88.04" rx="3.36" ry="3.02" fill="#0404af"/>
<ellipse cx="65.52" cy="53.85" rx="3.84" ry="3.83" fill="#0404a7"/>
<ellipse cx="19.97" cy="46.57" rx="3.09" ry="2.92" fill="#0808dd"/>
<ellipse cx="9.48" cy="1.69" rx="3.76" ry="3.17" fill="#0606c2"/>
<ellipse cx="19.81" cy="8.12" rx="3.55" ry="2.88" fill="#0606c4"/>
<ellipse cx="40.85" cy="19.71" rx="4.32" ry="3.86" fill="#0505b2"/>
<ellipse cx="75.09" cy="23.63" rx="3.15" ry="2.22" fill="#0404ae"/>
<ellipse cx="49.16" cy="2.8" rx="3.86" ry="2.92" fill="#0707ce"/>
<ellipse cx="87.48" cy="58.2" rx="3.95" ry="3.52" fill="#0404af"/>
<ellipse cx="15.99" cy="36.97" rx="3.54" ry="3.44" fill="#0606c2"/>
<ellipse cx="111.35" cy="17.57" rx="3.95" ry="2.9" fill="#0808da"/>
<ellipse cx="106.23" cy="30.6" rx="4" ry="3.08" fill="#0404a5"/>
<ellipse cx="37.88" cy="72.54" rx="4.22" ry="3.12" fill="#0606be"/>
<ellipse cx="46.1" cy="31.32" rx="4.19" ry="3.09" fill="#030398"/>
<ellipse cx="63.69" cy="91.61" rx="3.99" ry="3.96" fill="#0404a5"/>
<ellipse cx="44.23" cy="51.33" rx="3.88" ry="3.68" fill="#0707ce"/>
<ellipse cx="100.2" cy="61.36" rx="4.3" ry="3.46" fill="#020293"/>
<ellipse cx="6.5" cy="43.91" rx="4.11" ry="3.28" fill="#0909e0"/>
<ellipse cx="113.31" cy="69.96" rx="3.91" ry="2.95" fill="#0808dc"/>
<ellipse cx="2.88" cy="11.86" rx="4.34" ry="4.26" fill="#0808d8"/>
<ellipse cx="67.24" cy="102.43" rx="3.27" ry="2.71" fill="#0909e2"/>
<ellipse cx="26.38" cy="92.33" rx="3.06" ry="2.61" fill="#0707ce"/>
<ellipse cx="12.03" cy="82.13" rx="3.08" ry="2.22" fill="#0505b3"/>
<ellipse cx="16.74" cy="33.84" rx="3.77" ry="3.75" fill="#03039e"/>
<ellipse cx="65.52" cy="61.77" rx="3.99" ry="3.78" fill="#0707cc"/>
<ellipse cx="46.63" cy="94.95" rx="3.88" ry="3.11" fill="#030398"/>
<ellipse cx="7.24" cy="90.55" rx="4.1" ry="3.67" fill="#0404ac"/>
<ellipse cx="47.53" cy="104.74" rx="4.37" ry="4.23" fill="#0606c6"/>
<ellipse cx="95.12" cy="32.19" rx="3.63" ry="2.65" fill="#0707d4"/>
<ellipse cx="48.06" cy="74.14" rx="3.88" ry="3.43" fill="#030399"/>
<ellipse cx="93.16" cy="17.86" rx="3.09" ry="3.04" fill="#020291"/>
<ellipse cx="115.31" cy="95.62" rx="3.03" ry="2.91" fill="#020283"/>
<ellipse cx="75.21" cy="80.46" rx="3.95" ry="3.51" fill="#0505bd"/>
<ellipse cx="27.89" cy="11.69" rx="3.04" ry="2.9" fill="#0404b0"/>
<ellipse cx="105.27" cy="34.2" rx="3.04" ry="2.78" fill="#0505b8"/>
</g>
<g filter="url(#bl4)" fill="#000" opacity=".85">
<circle cx="64.33" cy="57.49" r="1.11"/>
<circle cx="36.21" cy="32.28" r="1.85"/>
<circle cx="18.27" cy="8.03" r="1.77"/>
<circle cx="86.85" cy="9.08" r="1.88"/>
<circle cx="116.94" cy="38.49" r="1.49"/>
<circle cx="81.11" cy="8.4" r="1.4"/>
<circle cx="39.43" cy="60.45" r="1.76"/>
<circle cx="110.09" cy="96.6" r="1.63"/>
<circle cx="11.81" cy="48.01" r="1.53"/>
<circle cx="10.4" cy="12.81" r="1.54"/>
<circle cx="79.79" cy="29.04" r="2.1"/>
<circle cx="54.46" cy="116.72" r="1.9"/>
<circle cx="9.48" cy="92.71" r="1.56"/>
<circle cx="9.4" cy="49.23" r="1.79"/>
<circle cx="47.96" cy="104.86" r="1.82"/>
<circle cx="36.23" cy="51.67" r="2.05"/>
<circle cx="73.43" cy="17.04" r="1.48"/>
<circle cx="21.9" cy="29.92" r="1.64"/>
<circle cx="33.42" cy="115.84" r="1.63"/>
<circle cx="63.83" cy="75.74" r="1.19"/>
<circle cx="82.29" cy="64.41" r="1.67"/>
<circle cx="10.2" cy="60.64" r="1.83"/>
<circle cx="38.49" cy="48.73" r="1.99"/>
<circle cx="8.99" cy="52.24" r="1.7"/>
<circle cx="14.12" cy="52.59" r="2.06"/>
<circle cx="64.36" cy="41.97" r="1.33"/>
<circle cx="40.5" cy="53.22" r="1.41"/>
<circle cx="61.1" cy="73.83" r="1.81"/>
</g>
<rect width="120" height="118.8" filter="url(#tG3)"/>
<g filter="url(#bl8)" fill="none" stroke="#000" stroke-linecap="round"><path d="M0 61 Q20 58 33 55 T58 46 T82 39 T105 33 T120 28" stroke-width="5.4"/><path d="M0 75 Q12 72 22 77" stroke-width="6"/><path d="M56 70 Q64 74 72 80" stroke-width="4"/><path d="M68 100 Q85 94 100 89 T120 78" stroke-width="4.5"/><path d="M22 20 Q38 14 48 15 T58 21" stroke-width="4.5"/><path d="M116 10 Q119 18 118 28" stroke-width="6"/><path d="M14 108 Q30 100 44 98" stroke-width="3.5"/></g>
</g>
</defs>
<svg x="20.1" y="351.1" width="120" height="90.1" overflow="hidden">
<rect width="120" height="90.1" fill="#000"/>
<use href="#sF1"/>
</svg>
<svg x="143.1" y="351.1" width="122.4" height="90.1" overflow="hidden">
<rect width="122.4" height="90.1" fill="#000"/>
<use href="#sF2"/>
</svg>
<svg x="267.6" y="351.1" width="121.5" height="90.1" overflow="hidden">
<rect width="121.5" height="90.1" fill="#000"/>
<use href="#dF3"/>
</svg>
<svg x="393" y="351.1" width="119.2" height="90.1" overflow="hidden">
<rect width="119.2" height="90.1" fill="#000"/>
<use href="#dF3"/>
<use href="#mF1" style="mix-blend-mode:screen"/>
<use href="#mF2" style="mix-blend-mode:screen"/>
</svg>
<svg x="20" y="455" width="119.5" height="89.4" overflow="hidden">
<rect width="119.5" height="89.4" fill="#000"/>
<use href="#sF5"/>
</svg>
<svg x="143.1" y="455" width="122.4" height="89.4" overflow="hidden">
<rect width="122.4" height="89.4" fill="#000"/>
<use href="#sF6"/>
</svg>
<svg x="268" y="455" width="120.8" height="89.4" overflow="hidden">
<rect width="120.8" height="89.4" fill="#000"/>
<use href="#dF7"/>
</svg>
<svg x="392.2" y="455" width="119.8" height="89.4" overflow="hidden">
<rect width="119.8" height="89.4" fill="#000"/>
<use href="#dF7"/>
<use href="#mF5" style="mix-blend-mode:screen"/>
<use href="#mF6" style="mix-blend-mode:screen"/>
</svg>
<svg x="20" y="572.9" width="118.5" height="118.7" overflow="hidden">
<rect width="118.5" height="118.7" fill="#000"/>
<use href="#sG1"/>
</svg>
<svg x="143" y="572.9" width="122.4" height="118.7" overflow="hidden">
<rect width="122.4" height="118.7" fill="#000"/>
<use href="#sG2"/>
</svg>
<svg x="268.3" y="572.9" width="119.1" height="118.7" overflow="hidden">
<rect width="119.1" height="118.7" fill="#000"/>
<use href="#dG3"/>
</svg>
<svg x="393.7" y="572.9" width="118.7" height="118.7" overflow="hidden">
<rect width="118.7" height="118.7" fill="#000"/>
<use href="#dG3"/>
<use href="#mG1"/>
<use href="#mG2"/>
</svg>
<text x="70.05" y="343.7" font-size="10.4" fill="#22e822" textLength="27.1" lengthAdjust="spacingAndGlyphs" stroke="#22e822" stroke-width=".3">CD68</text>
<text x="191.75" y="343.7" font-size="10.4" fill="#f5222a" textLength="32.9" lengthAdjust="spacingAndGlyphs" stroke="#f5222a" stroke-width=".3">CD163</text>
<text x="321.1" y="343.7" font-size="10.4" fill="#2a2af0" textLength="22.7" lengthAdjust="spacingAndGlyphs" stroke="#2a2af0" stroke-width=".3">DAPI</text>
<text x="439.8" y="343.7" font-size="10.2" fill="#0a0a0a" textLength="33.3" lengthAdjust="spacingAndGlyphs" stroke="#0a0a0a" stroke-width=".25">Merged</text>
<text x="70.05" y="451.7" font-size="10.4" fill="#22e822" textLength="27.1" lengthAdjust="spacingAndGlyphs" stroke="#22e822" stroke-width=".3">CD68</text>
<text x="194.7" y="451.7" font-size="10.4" fill="#f5222a" textLength="27.4" lengthAdjust="spacingAndGlyphs" stroke="#f5222a" stroke-width=".3">CD80</text>
<text x="321.1" y="451.7" font-size="10.4" fill="#2a2af0" textLength="22.7" lengthAdjust="spacingAndGlyphs" stroke="#2a2af0" stroke-width=".3">DAPI</text>
<text x="439.8" y="451.7" font-size="10.2" fill="#0a0a0a" textLength="33.3" lengthAdjust="spacingAndGlyphs" stroke="#0a0a0a" stroke-width=".25">Merged</text>
<text x="67.45" y="567.5" font-size="10.4" fill="#22e822" textLength="32.9" lengthAdjust="spacingAndGlyphs" stroke="#22e822" stroke-width=".3">CD163</text>
<text x="194.7" y="567.5" font-size="10.4" fill="#f5222a" textLength="27.4" lengthAdjust="spacingAndGlyphs" stroke="#f5222a" stroke-width=".3">CD80</text>
<text x="321.1" y="567.5" font-size="10.4" fill="#2a2af0" textLength="22.7" lengthAdjust="spacingAndGlyphs" stroke="#2a2af0" stroke-width=".3">DAPI</text>
<text x="439.8" y="567.5" font-size="10.2" fill="#0a0a0a" textLength="33.3" lengthAdjust="spacingAndGlyphs" stroke="#0a0a0a" stroke-width=".25">Merged</text>
<text x="8.1" y="18.1" font-size="13" fill="#000" font-weight="bold" textLength="8.2" lengthAdjust="spacingAndGlyphs" stroke="#000" stroke-width=".45">A</text>
<text x="238.85" y="18.2" font-size="13" fill="#000" font-weight="bold" stroke="#000" stroke-width=".45">B</text>
<text x="7.9" y="164.7" font-size="13" fill="#000" font-weight="bold" textLength="8.9" lengthAdjust="spacingAndGlyphs" stroke="#000" stroke-width=".45">C</text>
<text x="203.15" y="164.8" font-size="13" fill="#000" font-weight="bold" stroke="#000" stroke-width=".45">D</text>
<text x="370.05" y="164.8" font-size="13" fill="#000" font-weight="bold" textLength="7.8" lengthAdjust="spacingAndGlyphs" stroke="#000" stroke-width=".45">E</text>
<text x="8.15" y="345.9" font-size="13" fill="#000" font-weight="bold" stroke="#000" stroke-width=".45">F</text>
<text x="8" y="569" font-size="13" fill="#000" font-weight="bold" textLength="9.2" lengthAdjust="spacingAndGlyphs" stroke="#000" stroke-width=".45">G</text>
<path d="M0 0H520V697H0Z M1.5 1.5V695.6H518.8V1.5Z" fill="#000" fill-rule="evenodd"/>
</svg>
</body></html>
